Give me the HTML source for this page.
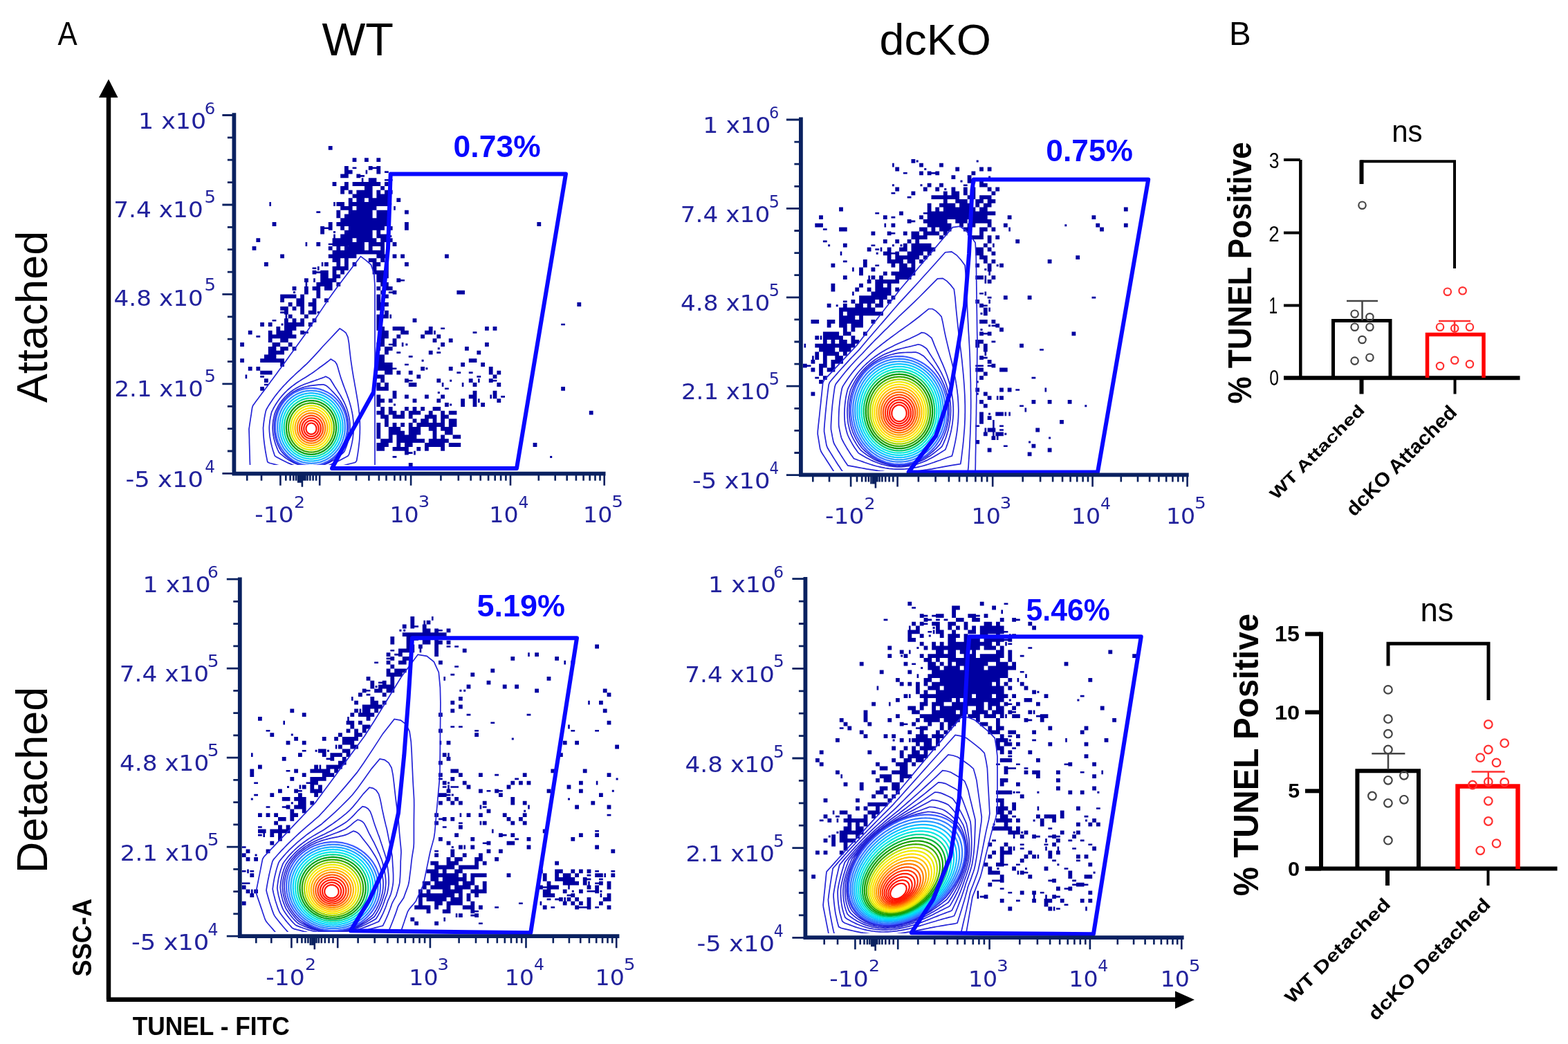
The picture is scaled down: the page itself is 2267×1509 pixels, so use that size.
<!DOCTYPE html>
<html><head><meta charset="utf-8"><style>html,body{margin:0;padding:0;background:#fff;}svg{display:block;}</style></head>
<body><svg width="2267" height="1509" viewBox="0 0 2267 1509">
<rect width="2267" height="1509" fill="#fff"/>
<text transform="translate(83.59,64.50) scale(0.8752,1)" font-family="'Liberation Sans', sans-serif" font-size="48.29" fill="#000" >A</text>
<text transform="translate(465.47,79.90) scale(0.9994,1)" font-family="'Liberation Sans', sans-serif" font-size="66.62" fill="#000" >WT</text>
<text transform="translate(1271.56,79.37) scale(1.0205,1)" font-family="'Liberation Sans', sans-serif" font-size="63.27" fill="#000" >dcKO</text>
<text transform="translate(1777.10,64.70) scale(0.9950,1)" font-family="'Liberation Sans', sans-serif" font-size="47.56" fill="#000" >B</text>
<text transform="translate(67.87,582.36) rotate(-90) scale(1.0017,1)" font-family="'Liberation Sans', sans-serif" font-size="62.86" fill="#000" >Attached</text>
<text transform="translate(67.68,1262.30) rotate(-90) scale(1.0132,1)" font-family="'Liberation Sans', sans-serif" font-size="62.18" fill="#000" >Detached</text>
<text transform="translate(132.31,1411.38) rotate(-90) scale(0.9323,1)" font-family="'Liberation Sans', sans-serif" font-size="38.73" font-weight="bold" fill="#000" >SSC-A</text>
<text transform="translate(191.65,1496.33) scale(0.9478,1)" font-family="'Liberation Sans', sans-serif" font-size="37.31" font-weight="bold" fill="#000" >TUNEL - FITC</text>
<path d="M157 1444.8 V138" stroke="#000" stroke-width="6.5" fill="none"/>
<path d="M154 1444.8 H1702" stroke="#000" stroke-width="6.5" fill="none"/>
<path d="M143 141 L157 114.5 L170.5 141 Z" fill="#000"/>
<path d="M1699 1432.5 L1727 1445 L1699 1458 Z" fill="#000"/>
<path d="M1880.3 231 V549" stroke="#000" stroke-width="4.5" fill="none"/>
<path d="M1856 546.3 H2197.5" stroke="#000" stroke-width="6" fill="none"/>
<path d="M1856 231 H1880" stroke="#000" stroke-width="4" fill="none"/>
<path d="M1856 336.5 H1880" stroke="#000" stroke-width="4" fill="none"/>
<path d="M1856 441.5 H1880" stroke="#000" stroke-width="4" fill="none"/>
<path d="M1856 546.3 H1880" stroke="#000" stroke-width="4" fill="none"/>
<text transform="translate(1834.71,242.98) scale(0.8341,1)" font-family="'Liberation Sans', sans-serif" font-size="31.80" fill="#000" >3</text>
<text transform="translate(1834.32,348.70) scale(0.8585,1)" font-family="'Liberation Sans', sans-serif" font-size="32.26" fill="#000" >2</text>
<text transform="translate(1834.50,452.60) scale(0.6924,1)" font-family="'Liberation Sans', sans-serif" font-size="32.73" fill="#000" >1</text>
<text transform="translate(1835.21,557.09) scale(0.8020,1)" font-family="'Liberation Sans', sans-serif" font-size="30.81" fill="#000" >0</text>
<path d="M1927.5 546 V463.5 H2010 V546" stroke="#000" stroke-width="5" fill="none"/>
<path d="M2063.5 546 V483.5 H2145 V546" stroke="#ff0000" stroke-width="5.5" fill="none"/>
<path d="M1969.5 463 V435 M1947 435 H1992" stroke="#444" stroke-width="2.5" fill="none"/>
<path d="M2103 482 V464 M2080 464 H2126" stroke="#ff3030" stroke-width="2.5" fill="none"/>
<path d="M1968.5 266 V233.3 H2103 V388" stroke="#000" stroke-width="4" fill="none"/>
<path d="M1968.5 266 V231.5" stroke="#000" stroke-width="6" fill="none"/>
<text transform="translate(2012.16,205.35) scale(0.9370,1)" font-family="'Liberation Sans', sans-serif" font-size="44.93" fill="#000" >ns</text>
<circle cx="1969.5" cy="296.7" r="5.2" fill="none" stroke="#444" stroke-width="2.2"/>
<circle cx="1958.6" cy="453.7" r="5.2" fill="none" stroke="#444" stroke-width="2.2"/>
<circle cx="1980.4" cy="458.3" r="5.2" fill="none" stroke="#444" stroke-width="2.2"/>
<circle cx="1958.6" cy="472.7" r="5.2" fill="none" stroke="#444" stroke-width="2.2"/>
<circle cx="1980.4" cy="472.7" r="5.2" fill="none" stroke="#444" stroke-width="2.2"/>
<circle cx="1969.5" cy="491.0" r="5.2" fill="none" stroke="#444" stroke-width="2.2"/>
<circle cx="1958.6" cy="521.6" r="5.2" fill="none" stroke="#444" stroke-width="2.2"/>
<circle cx="1980.4" cy="516.7" r="5.2" fill="none" stroke="#444" stroke-width="2.2"/>
<circle cx="2092.8" cy="421.7" r="5.2" fill="none" stroke="#ff3030" stroke-width="2.2"/>
<circle cx="2114.6" cy="420.3" r="5.2" fill="none" stroke="#ff3030" stroke-width="2.2"/>
<circle cx="2082.0" cy="472.7" r="5.2" fill="none" stroke="#ff3030" stroke-width="2.2"/>
<circle cx="2103.2" cy="474.6" r="5.2" fill="none" stroke="#ff3030" stroke-width="2.2"/>
<circle cx="2124.9" cy="472.7" r="5.2" fill="none" stroke="#ff3030" stroke-width="2.2"/>
<circle cx="2082.0" cy="529.0" r="5.2" fill="none" stroke="#ff3030" stroke-width="2.2"/>
<circle cx="2103.2" cy="520.8" r="5.2" fill="none" stroke="#ff3030" stroke-width="2.2"/>
<circle cx="2124.9" cy="526.3" r="5.2" fill="none" stroke="#ff3030" stroke-width="2.2"/>
<path d="M1968.5 549 V569.5" stroke="#000" stroke-width="6" fill="none"/>
<path d="M2103.5 549 V569.5" stroke="#000" stroke-width="4" fill="none"/>
<text transform="translate(1845.13,723.31) rotate(-45) scale(1.3000,1)" font-family="'Liberation Sans', sans-serif" font-size="23.13" font-weight="bold" fill="#000">WT Attached</text>
<text transform="translate(1957.84,747.80) rotate(-45) scale(1.0340,1)" font-family="'Liberation Sans', sans-serif" font-size="28.57" font-weight="bold" fill="#000">dcKO Attached</text>
<text transform="translate(1809.02,583.60) rotate(-90) scale(0.9244,1)" font-family="'Liberation Sans', sans-serif" font-size="47.62" font-weight="bold" fill="#000" >% TUNEL Positive</text>
<path d="M1910 913.5 V1258" stroke="#000" stroke-width="6" fill="none"/>
<path d="M1887 1255.5 H2251.5" stroke="#000" stroke-width="6" fill="none"/>
<path d="M1887 916.4 H1910" stroke="#000" stroke-width="6" fill="none"/>
<path d="M1887 1029.5 H1910" stroke="#000" stroke-width="6" fill="none"/>
<path d="M1887 1143.3 H1910" stroke="#000" stroke-width="6" fill="none"/>
<path d="M1887 1255.5 H1910" stroke="#000" stroke-width="6" fill="none"/>
<text transform="translate(1842.98,926.79) scale(1.0562,1)" font-family="'Liberation Sans', sans-serif" font-size="30.54" font-weight="bold" fill="#000" >15</text>
<text transform="translate(1842.96,1039.90) scale(1.0847,1)" font-family="'Liberation Sans', sans-serif" font-size="30.11" font-weight="bold" fill="#000" >10</text>
<text transform="translate(1862.29,1152.60) scale(1.0081,1)" font-family="'Liberation Sans', sans-serif" font-size="30.11" font-weight="bold" fill="#000" >5</text>
<text transform="translate(1861.97,1266.10) scale(1.0162,1)" font-family="'Liberation Sans', sans-serif" font-size="30.25" font-weight="bold" fill="#000" >0</text>
<path d="M1962.4 1256 V1114.2 H2051 V1256" stroke="#000" stroke-width="6" fill="none"/>
<path d="M2107.5 1256 V1136.5 H2194.5 V1256" stroke="#ff0000" stroke-width="6.5" fill="none"/>
<path d="M2007 1112 V1089.3 M1983.3 1089.3 H2031.4" stroke="#444" stroke-width="2.5" fill="none"/>
<path d="M2151.8 1134 V1115.6 M2127.6 1115.6 H2175.7" stroke="#ff3030" stroke-width="2.5" fill="none"/>
<path d="M2007 962.5 V930.3 H2152 V1012" stroke="#000" stroke-width="5" fill="none"/>
<text transform="translate(2053.42,898.32) scale(0.9485,1)" font-family="'Liberation Sans', sans-serif" font-size="48.04" fill="#000" >ns</text>
<circle cx="2006.9" cy="996.9" r="5.8" fill="none" stroke="#444" stroke-width="2.2"/>
<circle cx="2006.9" cy="1039.2" r="5.8" fill="none" stroke="#444" stroke-width="2.2"/>
<circle cx="2006.9" cy="1060.7" r="5.8" fill="none" stroke="#444" stroke-width="2.2"/>
<circle cx="2006.9" cy="1083.5" r="5.8" fill="none" stroke="#444" stroke-width="2.2"/>
<circle cx="2029.9" cy="1120.8" r="5.8" fill="none" stroke="#444" stroke-width="2.2"/>
<circle cx="2006.9" cy="1127.8" r="5.8" fill="none" stroke="#444" stroke-width="2.2"/>
<circle cx="1983.9" cy="1150.5" r="5.8" fill="none" stroke="#444" stroke-width="2.2"/>
<circle cx="2006.9" cy="1160.8" r="5.8" fill="none" stroke="#444" stroke-width="2.2"/>
<circle cx="2029.9" cy="1155.8" r="5.8" fill="none" stroke="#444" stroke-width="2.2"/>
<circle cx="2006.9" cy="1214.7" r="5.8" fill="none" stroke="#444" stroke-width="2.2"/>
<circle cx="2151.8" cy="1047.0" r="5.8" fill="none" stroke="#ff3030" stroke-width="2.2"/>
<circle cx="2175.2" cy="1074.2" r="5.8" fill="none" stroke="#ff3030" stroke-width="2.2"/>
<circle cx="2151.8" cy="1083.5" r="5.8" fill="none" stroke="#ff3030" stroke-width="2.2"/>
<circle cx="2140.2" cy="1095.1" r="5.8" fill="none" stroke="#ff3030" stroke-width="2.2"/>
<circle cx="2163.5" cy="1102.4" r="5.8" fill="none" stroke="#ff3030" stroke-width="2.2"/>
<circle cx="2129.0" cy="1134.5" r="5.8" fill="none" stroke="#ff3030" stroke-width="2.2"/>
<circle cx="2151.8" cy="1130.1" r="5.8" fill="none" stroke="#ff3030" stroke-width="2.2"/>
<circle cx="2175.2" cy="1130.7" r="5.8" fill="none" stroke="#ff3030" stroke-width="2.2"/>
<circle cx="2151.8" cy="1157.8" r="5.8" fill="none" stroke="#ff3030" stroke-width="2.2"/>
<circle cx="2151.8" cy="1187.0" r="5.8" fill="none" stroke="#ff3030" stroke-width="2.2"/>
<circle cx="2163.5" cy="1219.1" r="5.8" fill="none" stroke="#ff3030" stroke-width="2.2"/>
<circle cx="2140.2" cy="1229.3" r="5.8" fill="none" stroke="#ff3030" stroke-width="2.2"/>
<path d="M2006 1258 V1280" stroke="#000" stroke-width="6" fill="none"/>
<path d="M2151.5 1258 V1280" stroke="#000" stroke-width="4" fill="none"/>
<text transform="translate(1868.00,1452.07) rotate(-45) scale(1.2570,1)" font-family="'Liberation Sans', sans-serif" font-size="25.54" font-weight="bold" fill="#000">WT Detached</text>
<text transform="translate(1988.68,1476.59) rotate(-45) scale(1.2020,1)" font-family="'Liberation Sans', sans-serif" font-size="26.51" font-weight="bold" fill="#000">dcKO Detached</text>
<text transform="translate(1819.20,1295.29) rotate(-90) scale(0.9545,1)" font-family="'Liberation Sans', sans-serif" font-size="49.80" font-weight="bold" fill="#000" >% TUNEL Positive</text>
<g id="p1">
<path d="M474.8 210.9h5.8v5.8h-5.8zM509.6 228.3h5.8v5.8h-5.8zM527.0 228.3h5.8v5.8h-5.8zM544.4 228.3h5.8v5.8h-5.8zM498.0 239.9h5.8v5.8h-5.8zM509.6 241.5h5.8v2.6h-5.8zM532.8 239.9h5.8v5.8h-5.8zM538.6 241.5h5.8v2.6h-5.8zM544.4 239.9h5.8v5.8h-5.8zM498.0 245.7h5.8v5.8h-5.8zM503.8 245.7h5.8v5.8h-5.8zM528.6 245.7h2.6v5.8h-2.6zM544.4 245.7h5.8v5.8h-5.8zM556.0 247.3h5.8v2.6h-5.8zM492.2 251.5h5.8v5.8h-5.8zM498.0 251.5h5.8v5.8h-5.8zM515.4 251.5h5.8v5.8h-5.8zM521.2 253.1h5.8v2.6h-5.8zM563.2 252.9h3v3h-3zM522.8 257.3h2.6v5.8h-2.6zM532.8 257.3h5.8v5.8h-5.8zM538.6 257.3h5.8v5.8h-5.8zM556.0 258.9h5.8v2.6h-5.8zM561.8 258.9h5.8v2.6h-5.8zM480.6 263.1h5.8v5.8h-5.8zM498.0 263.1h5.8v5.8h-5.8zM509.6 263.1h5.8v5.8h-5.8zM515.4 263.1h5.8v5.8h-5.8zM521.2 263.1h5.8v5.8h-5.8zM527.0 263.1h5.8v5.8h-5.8zM532.8 263.1h5.8v5.8h-5.8zM538.6 263.1h5.8v5.8h-5.8zM544.4 263.1h5.8v5.8h-5.8zM556.0 263.1h5.8v5.8h-5.8zM492.2 268.9h5.8v5.8h-5.8zM498.0 268.9h5.8v5.8h-5.8zM527.0 268.9h5.8v5.8h-5.8zM532.8 268.9h5.8v5.8h-5.8zM550.2 268.9h5.8v5.8h-5.8zM492.2 274.7h5.8v5.8h-5.8zM503.8 274.7h5.8v5.8h-5.8zM515.4 274.7h5.8v5.8h-5.8zM521.2 274.7h5.8v5.8h-5.8zM527.0 274.7h5.8v5.8h-5.8zM532.8 274.7h5.8v5.8h-5.8zM544.4 274.7h5.8v5.8h-5.8zM556.0 274.7h5.8v5.8h-5.8zM561.8 274.7h5.8v5.8h-5.8zM509.6 280.5h5.8v5.8h-5.8zM515.4 280.5h5.8v5.8h-5.8zM521.2 280.5h5.8v5.8h-5.8zM527.0 280.5h5.8v5.8h-5.8zM532.8 280.5h5.8v5.8h-5.8zM544.4 280.5h5.8v5.8h-5.8zM550.2 280.5h5.8v5.8h-5.8zM556.0 280.5h5.8v5.8h-5.8zM503.8 286.3h5.8v5.8h-5.8zM515.4 286.3h5.8v5.8h-5.8zM521.2 286.3h5.8v5.8h-5.8zM532.8 286.3h5.8v5.8h-5.8zM538.6 286.3h5.8v5.8h-5.8zM544.4 286.3h5.8v5.8h-5.8zM550.2 286.3h5.8v5.8h-5.8zM556.0 286.3h5.8v5.8h-5.8zM573.4 286.3h5.8v5.8h-5.8zM389.4 292.1h2.6v5.8h-2.6zM482.2 292.1h2.6v5.8h-2.6zM486.4 292.1h5.8v5.8h-5.8zM492.2 292.1h5.8v5.8h-5.8zM503.8 292.1h5.8v5.8h-5.8zM509.6 292.1h5.8v5.8h-5.8zM515.4 292.1h5.8v5.8h-5.8zM521.2 292.1h5.8v5.8h-5.8zM527.0 292.1h5.8v5.8h-5.8zM532.8 292.1h5.8v5.8h-5.8zM538.6 292.1h5.8v5.8h-5.8zM544.4 292.1h5.8v5.8h-5.8zM550.2 292.1h5.8v5.8h-5.8zM556.0 292.1h5.8v5.8h-5.8zM563.2 293.5h3v3h-3zM492.2 297.9h5.8v5.8h-5.8zM498.0 297.9h5.8v5.8h-5.8zM503.8 297.9h5.8v5.8h-5.8zM515.4 297.9h5.8v5.8h-5.8zM521.2 297.9h5.8v5.8h-5.8zM527.0 297.9h5.8v5.8h-5.8zM532.8 297.9h5.8v5.8h-5.8zM538.6 297.9h5.8v5.8h-5.8zM569.2 297.9h2.6v5.8h-2.6zM457.4 305.3h5.8v2.6h-5.8zM486.4 303.7h5.8v5.8h-5.8zM503.8 303.7h5.8v5.8h-5.8zM509.6 303.7h5.8v5.8h-5.8zM515.4 303.7h5.8v5.8h-5.8zM521.2 303.7h5.8v5.8h-5.8zM527.0 303.7h5.8v5.8h-5.8zM532.8 303.7h5.8v5.8h-5.8zM544.4 303.7h5.8v5.8h-5.8zM550.2 303.7h5.8v5.8h-5.8zM556.0 303.7h5.8v5.8h-5.8zM585.0 303.7h5.8v5.8h-5.8zM486.4 309.5h5.8v5.8h-5.8zM498.0 309.5h5.8v5.8h-5.8zM503.8 309.5h5.8v5.8h-5.8zM509.6 309.5h5.8v5.8h-5.8zM515.4 309.5h5.8v5.8h-5.8zM521.2 309.5h5.8v5.8h-5.8zM527.0 309.5h5.8v5.8h-5.8zM532.8 309.5h5.8v5.8h-5.8zM544.4 309.5h5.8v5.8h-5.8zM550.2 309.5h5.8v5.8h-5.8zM556.0 309.5h5.8v5.8h-5.8zM492.2 315.3h5.8v5.8h-5.8zM498.0 315.3h5.8v5.8h-5.8zM503.8 315.3h5.8v5.8h-5.8zM509.6 315.3h5.8v5.8h-5.8zM515.4 315.3h5.8v5.8h-5.8zM521.2 315.3h5.8v5.8h-5.8zM527.0 315.3h5.8v5.8h-5.8zM532.8 315.3h5.8v5.8h-5.8zM538.6 315.3h5.8v5.8h-5.8zM544.4 315.3h5.8v5.8h-5.8zM550.2 315.3h5.8v5.8h-5.8zM556.0 315.3h5.8v5.8h-5.8zM393.6 321.1h5.8v5.8h-5.8zM474.8 321.1h5.8v5.8h-5.8zM486.4 321.1h5.8v5.8h-5.8zM492.2 321.1h5.8v5.8h-5.8zM498.0 321.1h5.8v5.8h-5.8zM503.8 321.1h5.8v5.8h-5.8zM509.6 321.1h5.8v5.8h-5.8zM515.4 321.1h5.8v5.8h-5.8zM521.2 321.1h5.8v5.8h-5.8zM527.0 321.1h5.8v5.8h-5.8zM532.8 321.1h5.8v5.8h-5.8zM538.6 321.1h5.8v5.8h-5.8zM544.4 321.1h5.8v5.8h-5.8zM550.2 321.1h5.8v5.8h-5.8zM556.0 321.1h5.8v5.8h-5.8zM585.0 321.1h5.8v5.8h-5.8zM776.4 321.1h5.8v5.8h-5.8zM463.2 326.9h5.8v5.8h-5.8zM469.0 328.5h5.8v2.6h-5.8zM474.8 326.9h5.8v5.8h-5.8zM492.2 326.9h5.8v5.8h-5.8zM503.8 326.9h5.8v5.8h-5.8zM509.6 326.9h5.8v5.8h-5.8zM515.4 326.9h5.8v5.8h-5.8zM521.2 326.9h5.8v5.8h-5.8zM527.0 326.9h5.8v5.8h-5.8zM532.8 326.9h5.8v5.8h-5.8zM538.6 326.9h5.8v5.8h-5.8zM544.4 326.9h5.8v5.8h-5.8zM550.2 326.9h5.8v5.8h-5.8zM561.8 326.9h5.8v5.8h-5.8zM585.0 326.9h5.8v5.8h-5.8zM463.2 332.7h5.8v5.8h-5.8zM482.0 334.1h3v3h-3zM498.0 332.7h5.8v5.8h-5.8zM503.8 332.7h5.8v5.8h-5.8zM509.6 332.7h5.8v5.8h-5.8zM515.4 332.7h5.8v5.8h-5.8zM521.2 332.7h5.8v5.8h-5.8zM527.0 332.7h5.8v5.8h-5.8zM532.8 332.7h5.8v5.8h-5.8zM544.4 332.7h5.8v5.8h-5.8zM482.2 338.5h2.6v5.8h-2.6zM492.2 338.5h5.8v5.8h-5.8zM498.0 338.5h5.8v5.8h-5.8zM503.8 338.5h5.8v5.8h-5.8zM509.6 338.5h5.8v5.8h-5.8zM515.4 338.5h5.8v5.8h-5.8zM521.2 338.5h5.8v5.8h-5.8zM527.0 338.5h5.8v5.8h-5.8zM532.8 338.5h5.8v5.8h-5.8zM544.4 338.5h5.8v5.8h-5.8zM550.2 338.5h5.8v5.8h-5.8zM556.0 338.5h5.8v5.8h-5.8zM563.2 339.9h3v3h-3zM370.4 344.3h5.8v5.8h-5.8zM480.6 344.3h5.8v5.8h-5.8zM486.4 344.3h5.8v5.8h-5.8zM492.2 344.3h5.8v5.8h-5.8zM498.0 344.3h5.8v5.8h-5.8zM503.8 344.3h5.8v5.8h-5.8zM515.4 344.3h5.8v5.8h-5.8zM521.2 344.3h5.8v5.8h-5.8zM527.0 344.3h5.8v5.8h-5.8zM532.8 344.3h5.8v5.8h-5.8zM538.6 344.3h5.8v5.8h-5.8zM550.2 344.3h5.8v5.8h-5.8zM556.0 344.3h5.8v5.8h-5.8zM561.8 344.3h5.8v5.8h-5.8zM441.6 350.1h2.6v5.8h-2.6zM457.4 350.1h5.8v5.8h-5.8zM474.8 351.7h5.8v2.6h-5.8zM480.6 350.1h5.8v5.8h-5.8zM486.4 350.1h5.8v5.8h-5.8zM492.2 350.1h5.8v5.8h-5.8zM498.0 350.1h5.8v5.8h-5.8zM503.8 350.1h5.8v5.8h-5.8zM509.6 350.1h5.8v5.8h-5.8zM515.4 350.1h5.8v5.8h-5.8zM521.2 350.1h5.8v5.8h-5.8zM532.8 350.1h5.8v5.8h-5.8zM538.6 350.1h5.8v5.8h-5.8zM544.4 350.1h5.8v5.8h-5.8zM550.2 350.1h5.8v5.8h-5.8zM567.6 350.1h5.8v5.8h-5.8zM364.6 355.9h5.8v5.8h-5.8zM474.8 355.9h5.8v5.8h-5.8zM486.4 355.9h5.8v5.8h-5.8zM498.0 355.9h5.8v5.8h-5.8zM503.8 355.9h5.8v5.8h-5.8zM509.6 355.9h5.8v5.8h-5.8zM515.4 355.9h5.8v5.8h-5.8zM521.2 355.9h5.8v5.8h-5.8zM532.8 355.9h5.8v5.8h-5.8zM550.2 355.9h5.8v5.8h-5.8zM480.6 361.7h5.8v5.8h-5.8zM486.4 361.7h5.8v5.8h-5.8zM492.2 361.7h5.8v5.8h-5.8zM498.0 361.7h5.8v5.8h-5.8zM503.8 361.7h5.8v5.8h-5.8zM509.6 361.7h5.8v5.8h-5.8zM515.4 361.7h5.8v5.8h-5.8zM521.2 361.7h5.8v5.8h-5.8zM527.0 361.7h5.8v5.8h-5.8zM532.8 361.7h5.8v5.8h-5.8zM538.6 361.7h5.8v5.8h-5.8zM544.4 361.7h5.8v5.8h-5.8zM550.2 361.7h5.8v5.8h-5.8zM405.2 367.5h5.8v5.8h-5.8zM474.8 367.5h5.8v5.8h-5.8zM480.6 367.5h5.8v5.8h-5.8zM486.4 367.5h5.8v5.8h-5.8zM492.2 367.5h5.8v5.8h-5.8zM498.0 367.5h5.8v5.8h-5.8zM503.8 367.5h5.8v5.8h-5.8zM509.6 367.5h5.8v5.8h-5.8zM544.4 367.5h5.8v5.8h-5.8zM550.2 367.5h5.8v5.8h-5.8zM556.0 367.5h5.8v5.8h-5.8zM567.6 367.5h5.8v5.8h-5.8zM579.2 367.5h5.8v5.8h-5.8zM643.0 367.5h5.8v5.8h-5.8zM480.6 373.3h5.8v5.8h-5.8zM486.4 373.3h5.8v5.8h-5.8zM498.0 373.3h5.8v5.8h-5.8zM532.8 373.3h5.8v5.8h-5.8zM538.6 373.3h5.8v5.8h-5.8zM550.2 373.3h5.8v5.8h-5.8zM382.0 379.1h5.8v5.8h-5.8zM464.8 379.1h2.6v5.8h-2.6zM469.0 379.1h5.8v5.8h-5.8zM486.4 379.1h5.8v5.8h-5.8zM498.0 379.1h5.8v5.8h-5.8zM509.6 379.1h5.8v5.8h-5.8zM538.6 379.1h5.8v5.8h-5.8zM544.4 379.1h5.8v5.8h-5.8zM556.0 379.1h5.8v5.8h-5.8zM585.0 379.1h5.8v5.8h-5.8zM451.6 386.5h5.8v2.6h-5.8zM459.0 384.9h2.6v5.8h-2.6zM480.6 384.9h5.8v5.8h-5.8zM486.4 384.9h5.8v5.8h-5.8zM492.2 384.9h5.8v5.8h-5.8zM498.0 384.9h5.8v5.8h-5.8zM538.6 384.9h5.8v5.8h-5.8zM556.0 384.9h5.8v5.8h-5.8zM451.6 390.7h5.8v5.8h-5.8zM457.4 392.3h5.8v2.6h-5.8zM463.2 390.7h5.8v5.8h-5.8zM469.0 390.7h5.8v5.8h-5.8zM480.6 390.7h5.8v5.8h-5.8zM492.2 390.7h5.8v5.8h-5.8zM538.6 390.7h5.8v5.8h-5.8zM544.4 390.7h5.8v5.8h-5.8zM550.2 390.7h5.8v5.8h-5.8zM556.0 390.7h5.8v5.8h-5.8zM463.2 396.5h5.8v5.8h-5.8zM469.0 396.5h5.8v5.8h-5.8zM480.6 396.5h5.8v5.8h-5.8zM486.4 396.5h5.8v5.8h-5.8zM544.4 396.5h5.8v5.8h-5.8zM550.2 396.5h5.8v5.8h-5.8zM556.0 396.5h5.8v5.8h-5.8zM440.0 402.3h5.8v5.8h-5.8zM453.2 402.3h2.6v5.8h-2.6zM463.2 402.3h5.8v5.8h-5.8zM469.0 402.3h5.8v5.8h-5.8zM474.8 402.3h5.8v5.8h-5.8zM480.6 402.3h5.8v5.8h-5.8zM544.4 402.3h5.8v5.8h-5.8zM550.2 402.3h5.8v5.8h-5.8zM573.4 402.3h5.8v5.8h-5.8zM579.2 403.9h5.8v2.6h-5.8zM441.6 408.1h2.6v5.8h-2.6zM457.4 408.1h5.8v5.8h-5.8zM463.2 408.1h5.8v5.8h-5.8zM469.0 408.1h5.8v5.8h-5.8zM474.8 408.1h5.8v5.8h-5.8zM486.4 408.1h5.8v5.8h-5.8zM550.2 408.1h5.8v5.8h-5.8zM556.0 408.1h5.8v5.8h-5.8zM422.6 413.9h5.8v5.8h-5.8zM440.0 413.9h5.8v5.8h-5.8zM451.6 413.9h5.8v5.8h-5.8zM457.4 413.9h5.8v5.8h-5.8zM469.0 413.9h5.8v5.8h-5.8zM474.8 413.9h5.8v5.8h-5.8zM544.4 413.9h5.8v5.8h-5.8zM556.0 413.9h5.8v5.8h-5.8zM561.8 413.9h5.8v5.8h-5.8zM424.0 421.1h3v3h-3zM440.0 419.7h5.8v5.8h-5.8zM457.4 419.7h5.8v5.8h-5.8zM550.2 419.7h5.8v5.8h-5.8zM561.8 421.3h5.8v2.6h-5.8zM567.6 419.7h5.8v5.8h-5.8zM660.4 419.7h5.8v5.8h-5.8zM666.2 419.7h5.8v5.8h-5.8zM405.2 425.5h5.8v5.8h-5.8zM411.0 425.5h5.8v5.8h-5.8zM416.8 425.5h5.8v5.8h-5.8zM422.6 425.5h5.8v5.8h-5.8zM434.2 425.5h5.8v5.8h-5.8zM457.4 425.5h5.8v5.8h-5.8zM544.4 425.5h5.8v5.8h-5.8zM556.0 425.5h5.8v5.8h-5.8zM405.2 431.3h5.8v5.8h-5.8zM428.4 431.3h5.8v5.8h-5.8zM434.2 431.3h5.8v5.8h-5.8zM451.6 431.3h5.8v5.8h-5.8zM469.0 431.3h5.8v5.8h-5.8zM544.4 431.3h5.8v5.8h-5.8zM416.8 437.1h5.8v5.8h-5.8zM428.4 437.1h5.8v5.8h-5.8zM434.2 437.1h5.8v5.8h-5.8zM445.8 437.1h5.8v5.8h-5.8zM451.6 437.1h5.8v5.8h-5.8zM544.4 437.1h5.8v5.8h-5.8zM550.2 437.1h5.8v5.8h-5.8zM556.0 437.1h5.8v5.8h-5.8zM834.4 437.1h5.8v5.8h-5.8zM405.2 442.9h5.8v5.8h-5.8zM411.0 442.9h5.8v5.8h-5.8zM422.6 442.9h5.8v5.8h-5.8zM434.2 442.9h5.8v5.8h-5.8zM451.6 442.9h5.8v5.8h-5.8zM544.4 442.9h5.8v5.8h-5.8zM550.2 442.9h5.8v5.8h-5.8zM405.2 450.3h5.8v2.6h-5.8zM411.0 448.7h5.8v5.8h-5.8zM434.2 448.7h5.8v5.8h-5.8zM445.8 448.7h5.8v5.8h-5.8zM451.6 448.7h5.8v5.8h-5.8zM458.8 450.1h3v3h-3zM556.0 448.7h5.8v5.8h-5.8zM412.6 454.5h2.6v5.8h-2.6zM416.8 454.5h5.8v5.8h-5.8zM440.0 454.5h5.8v5.8h-5.8zM544.4 454.5h5.8v5.8h-5.8zM550.2 454.5h5.8v5.8h-5.8zM556.0 454.5h5.8v5.8h-5.8zM563.4 454.5h2.6v5.8h-2.6zM393.6 461.9h5.8v2.6h-5.8zM411.0 460.3h5.8v5.8h-5.8zM422.6 460.3h5.8v5.8h-5.8zM434.2 460.3h5.8v5.8h-5.8zM451.6 460.3h5.8v5.8h-5.8zM544.4 460.3h5.8v5.8h-5.8zM596.6 460.3h5.8v5.8h-5.8zM376.2 466.1h5.8v5.8h-5.8zM387.8 466.1h5.8v5.8h-5.8zM406.6 467.5h3v3h-3zM411.0 466.1h5.8v5.8h-5.8zM416.8 466.1h5.8v5.8h-5.8zM422.6 466.1h5.8v5.8h-5.8zM428.4 466.1h5.8v5.8h-5.8zM434.2 466.1h5.8v5.8h-5.8zM445.8 466.1h5.8v5.8h-5.8zM544.4 466.1h5.8v5.8h-5.8zM811.2 467.7h5.8v2.6h-5.8zM399.4 471.9h5.8v5.8h-5.8zM411.0 471.9h5.8v5.8h-5.8zM416.8 471.9h5.8v5.8h-5.8zM422.6 471.9h5.8v5.8h-5.8zM544.4 471.9h5.8v5.8h-5.8zM550.2 471.9h5.8v5.8h-5.8zM567.6 471.9h5.8v5.8h-5.8zM573.4 471.9h5.8v5.8h-5.8zM579.2 471.9h5.8v5.8h-5.8zM619.8 471.9h5.8v5.8h-5.8zM637.2 473.5h5.8v2.6h-5.8zM701.0 471.9h5.8v5.8h-5.8zM712.6 471.9h5.8v5.8h-5.8zM358.8 477.7h5.8v5.8h-5.8zM387.8 477.7h5.8v5.8h-5.8zM399.4 477.7h5.8v5.8h-5.8zM405.2 477.7h5.8v5.8h-5.8zM411.0 477.7h5.8v5.8h-5.8zM416.8 477.7h5.8v5.8h-5.8zM434.2 477.7h5.8v5.8h-5.8zM440.0 479.3h5.8v2.6h-5.8zM550.2 477.7h5.8v5.8h-5.8zM556.0 477.7h5.8v5.8h-5.8zM579.2 477.7h5.8v5.8h-5.8zM585.0 477.7h5.8v5.8h-5.8zM614.0 477.7h5.8v5.8h-5.8zM619.8 477.7h5.8v5.8h-5.8zM627.2 477.7h2.6v5.8h-2.6zM683.6 479.3h5.8v2.6h-5.8zM370.4 485.1h5.8v2.6h-5.8zM387.8 483.5h5.8v5.8h-5.8zM393.6 483.5h5.8v5.8h-5.8zM399.4 483.5h5.8v5.8h-5.8zM405.2 483.5h5.8v5.8h-5.8zM411.0 483.5h5.8v5.8h-5.8zM416.8 483.5h5.8v5.8h-5.8zM422.6 483.5h5.8v5.8h-5.8zM550.2 483.5h5.8v5.8h-5.8zM556.0 483.5h5.8v5.8h-5.8zM573.4 483.5h5.8v5.8h-5.8zM608.2 483.5h5.8v5.8h-5.8zM631.4 483.5h5.8v5.8h-5.8zM387.8 489.3h5.8v5.8h-5.8zM405.2 489.3h5.8v5.8h-5.8zM411.0 489.3h5.8v5.8h-5.8zM550.2 489.3h5.8v5.8h-5.8zM567.6 489.3h5.8v5.8h-5.8zM625.6 489.3h5.8v5.8h-5.8zM648.8 489.3h5.8v5.8h-5.8zM347.2 495.1h5.8v5.8h-5.8zM393.6 495.1h5.8v5.8h-5.8zM399.4 495.1h5.8v5.8h-5.8zM416.8 495.1h5.8v5.8h-5.8zM544.4 495.1h5.8v5.8h-5.8zM550.2 495.1h5.8v5.8h-5.8zM561.8 496.7h5.8v2.6h-5.8zM567.6 495.1h5.8v5.8h-5.8zM580.8 495.1h2.6v5.8h-2.6zM586.4 496.5h3v3h-3zM637.2 495.1h5.8v5.8h-5.8zM701.0 495.1h5.8v5.8h-5.8zM387.8 500.9h5.8v5.8h-5.8zM393.6 500.9h5.8v5.8h-5.8zM405.2 500.9h5.8v5.8h-5.8zM411.0 500.9h5.8v5.8h-5.8zM422.6 500.9h5.8v5.8h-5.8zM544.4 500.9h5.8v5.8h-5.8zM556.0 500.9h5.8v5.8h-5.8zM561.8 500.9h5.8v5.8h-5.8zM632.8 502.3h3v3h-3zM672.0 500.9h5.8v5.8h-5.8zM387.8 506.7h5.8v5.8h-5.8zM393.6 506.7h5.8v5.8h-5.8zM399.4 506.7h5.8v5.8h-5.8zM405.2 506.7h5.8v5.8h-5.8zM556.0 506.7h5.8v5.8h-5.8zM573.4 508.3h5.8v2.6h-5.8zM619.8 506.7h5.8v5.8h-5.8zM631.4 508.3h5.8v2.6h-5.8zM689.4 506.7h5.8v5.8h-5.8zM382.0 512.5h5.8v5.8h-5.8zM387.8 512.5h5.8v5.8h-5.8zM393.6 512.5h5.8v5.8h-5.8zM544.4 512.5h5.8v5.8h-5.8zM550.2 512.5h5.8v5.8h-5.8zM590.8 514.1h5.8v2.6h-5.8zM347.2 518.3h5.8v5.8h-5.8zM376.2 518.3h5.8v5.8h-5.8zM382.0 518.3h5.8v5.8h-5.8zM387.8 518.3h5.8v5.8h-5.8zM393.6 518.3h5.8v5.8h-5.8zM399.4 518.3h5.8v5.8h-5.8zM405.2 518.3h5.8v5.8h-5.8zM544.4 518.3h5.8v5.8h-5.8zM550.2 518.3h5.8v5.8h-5.8zM609.6 519.7h3v3h-3zM677.8 518.3h5.8v5.8h-5.8zM683.6 518.3h5.8v5.8h-5.8zM405.2 524.1h5.8v5.8h-5.8zM544.4 524.1h5.8v5.8h-5.8zM550.2 524.1h5.8v5.8h-5.8zM556.0 524.1h5.8v5.8h-5.8zM561.8 524.1h5.8v5.8h-5.8zM585.0 525.7h5.8v2.6h-5.8zM666.2 524.1h5.8v5.8h-5.8zM695.2 524.1h5.8v5.8h-5.8zM358.8 529.9h5.8v5.8h-5.8zM370.4 529.9h5.8v5.8h-5.8zM544.4 529.9h5.8v5.8h-5.8zM550.2 529.9h5.8v5.8h-5.8zM556.0 529.9h5.8v5.8h-5.8zM561.8 529.9h5.8v5.8h-5.8zM567.6 531.5h5.8v2.6h-5.8zM608.2 529.9h5.8v5.8h-5.8zM615.4 531.3h3v3h-3zM648.8 529.9h5.8v5.8h-5.8zM706.8 529.9h5.8v5.8h-5.8zM376.2 535.7h5.8v5.8h-5.8zM382.0 535.7h5.8v5.8h-5.8zM387.8 535.7h5.8v5.8h-5.8zM556.0 535.7h5.8v5.8h-5.8zM561.8 535.7h5.8v5.8h-5.8zM573.4 535.7h5.8v5.8h-5.8zM590.8 535.7h5.8v5.8h-5.8zM660.4 537.3h5.8v2.6h-5.8zM677.8 537.3h5.8v2.6h-5.8zM706.8 535.7h5.8v5.8h-5.8zM718.4 535.7h5.8v5.8h-5.8zM354.6 541.5h2.6v5.8h-2.6zM376.2 543.1h5.8v2.6h-5.8zM544.4 541.5h5.8v5.8h-5.8zM550.2 541.5h5.8v5.8h-5.8zM602.4 541.5h5.8v5.8h-5.8zM689.4 543.1h5.8v2.6h-5.8zM712.6 541.5h5.8v5.8h-5.8zM382.0 547.3h5.8v5.8h-5.8zM550.2 547.3h5.8v5.8h-5.8zM585.0 547.3h5.8v5.8h-5.8zM590.8 548.9h5.8v2.6h-5.8zM631.4 547.3h5.8v5.8h-5.8zM650.2 548.7h3v3h-3zM677.8 547.3h5.8v5.8h-5.8zM691.0 547.3h2.6v5.8h-2.6zM706.8 547.3h5.8v5.8h-5.8zM712.6 548.9h5.8v2.6h-5.8zM382.0 554.7h5.8v2.6h-5.8zM544.4 553.1h5.8v5.8h-5.8zM556.0 553.1h5.8v5.8h-5.8zM590.8 553.1h5.8v5.8h-5.8zM596.6 553.1h5.8v5.8h-5.8zM638.8 553.1h2.6v5.8h-2.6zM667.8 553.1h2.6v5.8h-2.6zM683.6 553.1h5.8v5.8h-5.8zM718.4 553.1h5.8v5.8h-5.8zM376.2 558.9h5.8v5.8h-5.8zM544.4 558.9h5.8v5.8h-5.8zM550.2 558.9h5.8v5.8h-5.8zM556.0 558.9h5.8v5.8h-5.8zM643.0 560.5h5.8v2.6h-5.8zM811.2 558.9h5.8v5.8h-5.8zM567.6 564.7h5.8v5.8h-5.8zM632.8 566.1h3v3h-3zM683.6 564.7h5.8v5.8h-5.8zM712.6 564.7h5.8v5.8h-5.8zM544.4 570.5h5.8v5.8h-5.8zM567.6 570.5h5.8v5.8h-5.8zM585.0 570.5h5.8v5.8h-5.8zM614.0 570.5h5.8v5.8h-5.8zM637.2 570.5h5.8v5.8h-5.8zM677.8 570.5h5.8v5.8h-5.8zM683.6 570.5h5.8v5.8h-5.8zM708.4 570.5h2.6v5.8h-2.6zM712.6 570.5h5.8v5.8h-5.8zM724.2 572.1h5.8v2.6h-5.8zM544.4 576.3h5.8v5.8h-5.8zM550.2 576.3h5.8v5.8h-5.8zM561.8 576.3h5.8v5.8h-5.8zM596.6 576.3h5.8v5.8h-5.8zM631.4 576.3h5.8v5.8h-5.8zM666.2 576.3h5.8v5.8h-5.8zM683.6 576.3h5.8v5.8h-5.8zM691.0 576.3h2.6v5.8h-2.6zM718.4 576.3h5.8v5.8h-5.8zM544.4 582.1h5.8v5.8h-5.8zM569.0 583.5h3v3h-3zM643.0 582.1h5.8v5.8h-5.8zM650.2 583.5h3v3h-3zM666.2 582.1h5.8v5.8h-5.8zM683.6 582.1h5.8v5.8h-5.8zM695.2 582.1h5.8v5.8h-5.8zM550.2 587.9h5.8v5.8h-5.8zM561.8 587.9h5.8v5.8h-5.8zM585.0 587.9h5.8v5.8h-5.8zM596.6 587.9h5.8v5.8h-5.8zM608.2 587.9h5.8v5.8h-5.8zM625.6 587.9h5.8v5.8h-5.8zM631.4 587.9h5.8v5.8h-5.8zM544.4 593.7h5.8v5.8h-5.8zM550.2 593.7h5.8v5.8h-5.8zM561.8 593.7h5.8v5.8h-5.8zM567.6 593.7h5.8v5.8h-5.8zM579.2 593.7h5.8v5.8h-5.8zM590.8 593.7h5.8v5.8h-5.8zM596.6 593.7h5.8v5.8h-5.8zM602.4 593.7h5.8v5.8h-5.8zM619.8 593.7h5.8v5.8h-5.8zM637.2 593.7h5.8v5.8h-5.8zM648.8 593.7h5.8v5.8h-5.8zM654.6 593.7h5.8v5.8h-5.8zM851.8 593.7h5.8v5.8h-5.8zM550.2 599.5h5.8v5.8h-5.8zM556.0 599.5h5.8v5.8h-5.8zM567.6 599.5h5.8v5.8h-5.8zM573.4 599.5h5.8v5.8h-5.8zM579.2 599.5h5.8v5.8h-5.8zM590.8 599.5h5.8v5.8h-5.8zM614.0 599.5h5.8v5.8h-5.8zM619.8 599.5h5.8v5.8h-5.8zM625.6 599.5h5.8v5.8h-5.8zM637.2 599.5h5.8v5.8h-5.8zM643.0 599.5h5.8v5.8h-5.8zM556.0 605.3h5.8v5.8h-5.8zM596.6 605.3h5.8v5.8h-5.8zM608.2 605.3h5.8v5.8h-5.8zM614.0 605.3h5.8v5.8h-5.8zM625.6 605.3h5.8v5.8h-5.8zM637.2 605.3h5.8v5.8h-5.8zM648.8 605.3h5.8v5.8h-5.8zM654.6 605.3h5.8v5.8h-5.8zM544.4 611.1h5.8v5.8h-5.8zM556.0 611.1h5.8v5.8h-5.8zM567.6 611.1h5.8v5.8h-5.8zM579.2 611.1h5.8v5.8h-5.8zM590.8 611.1h5.8v5.8h-5.8zM602.4 611.1h5.8v5.8h-5.8zM608.2 611.1h5.8v5.8h-5.8zM614.0 611.1h5.8v5.8h-5.8zM619.8 611.1h5.8v5.8h-5.8zM625.6 611.1h5.8v5.8h-5.8zM631.4 611.1h5.8v5.8h-5.8zM637.2 611.1h5.8v5.8h-5.8zM648.8 611.1h5.8v5.8h-5.8zM654.6 611.1h5.8v5.8h-5.8zM544.4 616.9h5.8v5.8h-5.8zM561.8 616.9h5.8v5.8h-5.8zM567.6 616.9h5.8v5.8h-5.8zM573.4 616.9h5.8v5.8h-5.8zM590.8 616.9h5.8v5.8h-5.8zM596.6 616.9h5.8v5.8h-5.8zM602.4 616.9h5.8v5.8h-5.8zM619.8 616.9h5.8v5.8h-5.8zM625.6 616.9h5.8v5.8h-5.8zM637.2 616.9h5.8v5.8h-5.8zM643.0 616.9h5.8v5.8h-5.8zM648.8 616.9h5.8v5.8h-5.8zM544.4 622.7h5.8v5.8h-5.8zM561.8 622.7h5.8v5.8h-5.8zM567.6 622.7h5.8v5.8h-5.8zM573.4 622.7h5.8v5.8h-5.8zM579.2 622.7h5.8v5.8h-5.8zM590.8 622.7h5.8v5.8h-5.8zM596.6 622.7h5.8v5.8h-5.8zM602.4 622.7h5.8v5.8h-5.8zM625.6 622.7h5.8v5.8h-5.8zM643.0 622.7h5.8v5.8h-5.8zM648.8 622.7h5.8v5.8h-5.8zM544.4 628.5h5.8v5.8h-5.8zM561.8 628.5h5.8v5.8h-5.8zM573.4 628.5h5.8v5.8h-5.8zM579.2 628.5h5.8v5.8h-5.8zM585.0 628.5h5.8v5.8h-5.8zM590.8 628.5h5.8v5.8h-5.8zM596.6 628.5h5.8v5.8h-5.8zM625.6 628.5h5.8v5.8h-5.8zM637.2 628.5h5.8v5.8h-5.8zM654.6 628.5h5.8v5.8h-5.8zM660.4 628.5h5.8v5.8h-5.8zM550.2 634.3h5.8v5.8h-5.8zM556.0 634.3h5.8v5.8h-5.8zM561.8 634.3h5.8v5.8h-5.8zM573.4 634.3h5.8v5.8h-5.8zM579.2 634.3h5.8v5.8h-5.8zM585.0 634.3h5.8v5.8h-5.8zM590.8 634.3h5.8v5.8h-5.8zM596.6 634.3h5.8v5.8h-5.8zM602.4 634.3h5.8v5.8h-5.8zM608.2 634.3h5.8v5.8h-5.8zM619.8 634.3h5.8v5.8h-5.8zM625.6 634.3h5.8v5.8h-5.8zM631.4 634.3h5.8v5.8h-5.8zM637.2 634.3h5.8v5.8h-5.8zM643.0 634.3h5.8v5.8h-5.8zM544.4 640.1h5.8v5.8h-5.8zM550.2 640.1h5.8v5.8h-5.8zM556.0 640.1h5.8v5.8h-5.8zM573.4 640.1h5.8v5.8h-5.8zM585.0 640.1h5.8v5.8h-5.8zM590.8 640.1h5.8v5.8h-5.8zM614.0 640.1h5.8v5.8h-5.8zM619.8 640.1h5.8v5.8h-5.8zM625.6 640.1h5.8v5.8h-5.8zM631.4 640.1h5.8v5.8h-5.8zM637.2 640.1h5.8v5.8h-5.8zM648.8 640.1h5.8v5.8h-5.8zM654.6 640.1h5.8v5.8h-5.8zM660.4 640.1h5.8v5.8h-5.8zM770.6 640.1h5.8v5.8h-5.8zM544.4 645.9h5.8v5.8h-5.8zM550.2 645.9h5.8v5.8h-5.8zM567.6 645.9h5.8v5.8h-5.8zM573.4 645.9h5.8v5.8h-5.8zM579.2 645.9h5.8v5.8h-5.8zM585.0 645.9h5.8v5.8h-5.8zM602.4 645.9h5.8v5.8h-5.8zM614.0 645.9h5.8v5.8h-5.8zM637.2 645.9h5.8v5.8h-5.8zM585.0 651.7h5.8v5.8h-5.8zM590.8 653.3h5.8v2.6h-5.8zM598.2 651.7h2.6v5.8h-2.6zM567.6 659.1h5.8v2.6h-5.8zM795.2 658.9h3v3h-3zM590.8 669.1h5.8v5.8h-5.8z" fill="#0000a0"/>
<clipPath id="clip_p1"><rect x="341.4" y="163.3" width="537.1" height="508.7"/></clipPath>
<g clip-path="url(#clip_p1)" fill="none">
<path d="M542.0 620.0 542.0 623.2 542.0 626.4 542.0 629.7 542.0 632.9 542.0 636.2 542.0 639.6 542.0 642.9 542.0 646.4 542.0 649.9 542.0 653.5 542.0 657.2 542.0 661.0 542.0 664.9 542.0 668.9 542.0 673.1 542.0 677.5 542.0 682.1 542.0 686.8 539.6 690.0 533.4 690.0 527.7 690.0 522.5 690.0 517.6 690.0 513.0 690.0 508.7 690.0 504.7 690.0 500.9 690.0 497.2 690.0 493.7 690.0 490.4 690.0 487.2 690.0 484.1 690.0 481.2 690.0 478.3 690.0 475.5 690.0 472.7 690.0 470.1 690.0 467.5 690.0 464.9 690.0 462.3 690.0 459.8 690.0 457.4 690.0 454.9 690.0 452.4 690.0 450.0 690.0 447.6 690.0 445.1 690.0 442.6 690.0 440.2 690.0 437.7 690.0 435.1 690.0 432.5 690.0 429.9 690.0 427.3 690.0 424.5 690.0 421.7 690.0 418.8 690.0 415.9 690.0 412.8 690.0 409.6 690.0 406.3 690.0 402.8 690.0 399.1 690.0 395.3 690.0 391.3 690.0 387.0 690.0 382.4 690.0 377.5 690.0 372.3 690.0 366.6 690.0 362.0 688.8 361.8 684.1 361.7 679.6 361.6 675.3 361.5 671.1 361.3 667.1 361.2 663.3 361.1 659.6 361.0 655.9 360.9 652.4 360.8 649.0 360.7 645.6 360.6 642.3 360.5 639.0 360.5 635.8 360.4 632.6 360.3 629.4 360.2 626.3 360.1 623.1 360.0 620.0 360.5 616.9 360.9 613.8 361.4 610.7 361.9 607.6 362.3 604.5 362.8 601.5 363.3 598.4 363.7 595.3 364.2 592.1 364.7 589.0 365.8 586.0 367.7 583.4 369.6 580.8 371.5 578.3 373.4 575.8 375.2 573.3 377.1 570.8 378.9 568.3 380.7 565.9 382.6 563.4 384.4 560.9 386.3 558.4 388.1 555.9 390.0 553.4 391.9 550.8 393.9 548.2 395.9 545.5 397.9 542.8 400.0 540.0 402.1 537.1 404.3 534.1 406.6 531.0 408.9 527.7 411.4 524.4 413.9 520.9 416.6 517.2 419.4 513.3 422.4 509.2 425.5 504.9 428.9 500.3 432.5 495.3 436.3 490.0 440.5 484.2 445.0 477.5 450.0 470.0 455.5 461.7 461.7 452.4 468.7 441.9 476.7 429.9 485.7 417.5 495.9 404.0 507.7 388.5 521.5 370.6 529.2 376.3 536.4 382.6 540.8 395.2 542.0 413.4 542.0 431.4 542.0 447.0 542.0 460.7 542.0 472.8 542.0 483.6 542.0 493.4 542.0 502.2 542.0 510.4 542.0 517.8 542.0 524.7 542.0 531.2 542.0 537.2 542.0 542.8 542.0 548.1 542.0 553.2 542.0 557.9 542.0 562.5 542.0 566.9 542.0 571.1 542.0 575.1 542.0 579.0 542.0 582.8 542.0 586.5 542.0 590.1 542.0 593.6 542.0 597.1 542.0 600.4 542.0 603.8 542.0 607.1 542.0 610.3 542.0 613.6 542.0 616.8ZM520.4 618.4 520.4 620.8 520.3 623.3 520.3 625.8 520.2 628.2 520.0 630.7 519.9 633.2 519.7 635.8 519.5 638.3 519.2 640.9 518.9 643.5 518.6 646.1 518.3 648.8 517.9 651.5 517.5 654.3 517.1 657.1 516.6 660.0 516.1 663.0 515.6 666.0 513.9 668.3 510.5 669.2 507.3 670.0 504.2 670.8 501.3 671.5 498.5 672.3 495.8 673.0 493.2 673.7 490.7 674.4 488.2 675.0 485.8 675.7 483.4 676.3 481.1 676.8 478.8 677.4 476.5 677.8 474.2 678.3 472.0 678.7 469.7 679.1 467.5 679.5 465.3 679.8 463.1 680.1 460.9 680.3 458.7 680.5 456.5 680.6 454.4 680.7 452.2 680.8 450.0 680.8 447.8 680.8 445.6 680.7 443.5 680.6 441.3 680.5 439.1 680.3 436.9 680.1 434.7 679.8 432.5 679.5 430.3 679.1 428.0 678.7 425.8 678.3 423.5 677.8 421.2 677.4 418.9 676.8 416.6 676.3 414.2 675.7 411.8 675.0 409.3 674.4 406.8 673.7 404.2 673.0 401.5 672.3 398.7 671.5 395.8 670.8 392.7 670.0 389.5 669.2 386.8 667.8 386.2 664.8 385.6 661.8 385.0 659.0 384.5 656.2 384.0 653.5 383.6 650.8 383.2 648.1 382.8 645.5 382.4 643.0 382.1 640.4 381.8 637.9 381.5 635.4 381.3 633.0 381.1 630.5 380.9 628.1 380.8 625.7 380.7 623.2 380.6 620.8 380.5 618.4 380.8 616.0 381.0 613.6 381.3 611.2 381.6 608.8 382.0 606.4 382.3 604.0 382.8 601.6 383.2 599.2 383.7 596.8 384.2 594.4 385.0 592.1 386.2 590.0 387.4 587.9 388.7 585.8 390.0 583.7 391.3 581.7 392.7 579.7 394.0 577.7 395.4 575.7 396.8 573.8 398.3 571.8 399.8 569.9 401.3 568.0 402.9 566.0 404.5 564.1 406.1 562.2 407.8 560.3 409.5 558.4 411.3 556.5 413.2 554.6 415.0 552.6 417.0 550.7 419.0 548.7 421.0 546.7 423.2 544.6 425.4 542.5 427.6 540.4 430.0 538.2 432.5 536.0 435.1 533.6 437.7 531.1 440.6 528.5 443.5 525.8 446.7 522.6 450.0 519.1 453.6 515.3 457.5 511.1 461.8 506.4 466.5 501.0 471.7 495.5 477.4 489.5 483.8 482.7 491.2 474.8 495.7 477.7 500.0 481.0 503.0 487.3 504.5 496.1 505.4 504.8 506.3 512.5 507.1 519.4 508.0 525.6 508.8 531.2 509.6 536.3 510.4 541.1 511.1 545.5 511.9 549.7 512.6 553.6 513.2 557.3 513.9 560.9 514.5 564.3 515.0 567.6 515.6 570.7 516.1 573.8 516.6 576.8 517.1 579.7 517.5 582.5 517.9 585.3 518.3 588.0 518.6 590.7 518.9 593.3 519.2 595.9 519.5 598.5 519.7 601.0 519.9 603.5 520.0 606.0 520.2 608.5 520.3 611.0 520.3 613.5 520.4 615.9ZM511.2 617.7 511.2 619.8 511.1 622.0 511.0 624.1 510.9 626.2 510.7 628.4 510.4 630.5 510.2 632.7 509.9 634.9 509.5 637.0 509.1 639.2 508.6 641.4 508.2 643.6 507.6 645.8 507.1 648.0 506.4 650.3 505.8 652.6 505.1 654.9 504.4 657.2 503.0 659.1 500.8 660.3 498.6 661.4 496.5 662.6 494.4 663.7 492.4 664.7 490.4 665.8 488.4 666.8 486.4 667.8 484.4 668.7 482.4 669.6 480.4 670.4 478.5 671.2 476.5 672.0 474.5 672.7 472.5 673.3 470.5 673.9 468.5 674.5 466.4 675.0 464.4 675.4 462.4 675.8 460.3 676.2 458.3 676.4 456.2 676.6 454.1 676.8 452.1 676.9 450.0 676.9 447.9 676.9 445.9 676.8 443.8 676.6 441.7 676.4 439.7 676.2 437.6 675.8 435.6 675.4 433.6 675.0 431.5 674.5 429.5 673.9 427.5 673.3 425.5 672.7 423.5 672.0 421.5 671.2 419.6 670.4 417.6 669.6 415.6 668.7 413.6 667.8 411.6 666.8 409.6 665.8 407.6 664.7 405.6 663.7 403.5 662.6 401.4 661.4 399.2 660.3 397.3 658.8 396.5 656.5 395.8 654.3 395.0 652.0 394.3 649.8 393.7 647.6 393.1 645.4 392.6 643.3 392.0 641.1 391.6 639.0 391.2 636.8 390.8 634.7 390.4 632.5 390.1 630.4 389.9 628.3 389.7 626.2 389.5 624.0 389.4 621.9 389.3 619.8 389.3 617.7 389.4 615.6 389.6 613.5 389.8 611.4 390.0 609.3 390.3 607.2 390.7 605.1 391.0 603.0 391.5 600.9 391.9 598.8 392.4 596.7 393.1 594.7 394.1 592.8 395.0 590.9 396.0 589.0 397.1 587.1 398.2 585.3 399.3 583.5 400.5 581.7 401.7 579.9 402.9 578.2 404.2 576.4 405.5 574.7 406.9 573.1 408.3 571.4 409.8 569.8 411.3 568.2 412.9 566.6 414.5 565.0 416.1 563.5 417.8 562.0 419.6 560.5 421.4 559.0 423.2 557.6 425.1 556.2 427.1 554.7 429.1 553.3 431.1 552.0 433.3 550.6 435.4 549.2 437.7 547.8 440.0 546.4 442.4 545.0 444.8 543.5 447.4 541.8 450.0 540.1 452.8 538.2 455.7 536.1 458.8 533.9 462.1 531.3 465.7 528.7 469.5 526.0 473.7 522.8 478.3 519.1 481.4 520.9 484.5 522.9 486.9 526.5 488.5 531.3 489.8 536.1 491.1 540.5 492.3 544.4 493.5 548.1 494.7 551.4 495.8 554.6 496.9 557.6 498.0 560.5 499.0 563.2 500.0 565.9 501.0 568.5 501.9 571.0 502.7 573.4 503.6 575.8 504.4 578.2 505.1 580.5 505.8 582.8 506.4 585.1 507.1 587.3 507.6 589.6 508.2 591.8 508.6 594.0 509.1 596.2 509.5 598.4 509.9 600.5 510.2 602.7 510.4 604.8 510.7 607.0 510.9 609.1 511.0 611.3 511.1 613.4 511.2 615.6ZM506.0 617.3 506.0 619.3 505.9 621.2 505.8 623.2 505.6 625.1 505.4 627.1 505.1 629.0 504.8 631.0 504.4 632.9 504.0 634.8 503.5 636.8 503.0 638.7 502.4 640.7 501.8 642.6 501.2 644.5 500.4 646.4 499.7 648.3 498.9 650.3 498.0 652.2 496.8 653.9 495.3 655.3 493.7 656.6 492.1 657.9 490.5 659.2 488.9 660.5 487.3 661.7 485.6 662.9 483.9 664.0 482.2 665.1 480.5 666.1 478.8 667.1 477.0 668.0 475.2 668.9 473.4 669.7 471.5 670.5 469.6 671.2 467.7 671.9 465.8 672.5 463.9 673.0 461.9 673.4 460.0 673.8 458.0 674.1 456.0 674.4 454.0 674.6 452.0 674.7 450.0 674.7 448.0 674.7 446.0 674.6 444.0 674.4 442.0 674.1 440.0 673.8 438.1 673.4 436.1 673.0 434.2 672.5 432.3 671.9 430.4 671.2 428.5 670.5 426.6 669.7 424.8 668.9 423.0 668.0 421.2 667.1 419.5 666.1 417.8 665.1 416.1 664.0 414.4 662.9 412.7 661.7 411.1 660.5 409.5 659.2 407.9 657.9 406.3 656.6 404.7 655.3 403.3 653.8 402.4 651.9 401.5 650.0 400.7 648.1 399.9 646.2 399.2 644.3 398.5 642.4 397.9 640.5 397.3 638.6 396.8 636.7 396.3 634.8 395.8 632.8 395.5 630.9 395.1 629.0 394.9 627.0 394.6 625.1 394.4 623.1 394.3 621.2 394.2 619.2 394.2 617.3 394.3 615.4 394.4 613.4 394.6 611.5 394.8 609.5 395.0 607.6 395.4 605.7 395.7 603.8 396.2 601.9 396.6 600.0 397.1 598.1 397.8 596.2 398.5 594.4 399.3 592.6 400.2 590.8 401.1 589.1 402.0 587.3 403.0 585.6 404.1 583.9 405.2 582.3 406.3 580.7 407.5 579.1 408.8 577.5 410.1 576.0 411.4 574.5 412.8 573.0 414.3 571.6 415.7 570.2 417.3 568.8 418.9 567.5 420.5 566.2 422.2 565.0 423.9 563.8 425.7 562.6 427.5 561.5 429.3 560.5 431.2 559.4 433.1 558.5 435.1 557.5 437.1 556.7 439.2 555.8 441.2 555.0 443.4 554.2 445.5 553.5 447.7 552.7 450.0 551.9 452.3 551.1 454.7 550.3 457.1 549.4 459.7 548.5 462.3 547.5 465.0 546.6 467.9 545.5 471.0 544.2 473.4 545.4 475.7 546.6 477.8 548.6 479.4 551.2 481.0 553.8 482.5 556.3 483.9 558.6 485.3 560.8 486.7 562.9 488.0 564.9 489.3 567.0 490.6 568.9 491.8 570.9 492.9 572.8 494.0 574.8 495.1 576.7 496.1 578.6 497.1 580.5 498.0 582.4 498.9 584.3 499.7 586.3 500.4 588.2 501.2 590.1 501.8 592.0 502.4 593.9 503.0 595.9 503.5 597.8 504.0 599.8 504.4 601.7 504.8 603.6 505.1 605.6 505.4 607.5 505.6 609.5 505.8 611.4 505.9 613.4 506.0 615.3ZM503.6 617.1 503.6 619.0 503.5 620.9 503.4 622.7 503.2 624.6 502.9 626.5 502.7 628.3 502.3 630.2 501.9 632.0 501.5 633.8 501.0 635.7 500.4 637.5 499.8 639.3 499.2 641.1 498.4 642.9 497.7 644.6 496.9 646.4 496.0 648.1 495.1 649.9 494.0 651.5 492.7 653.0 491.4 654.4 490.1 655.8 488.7 657.2 487.3 658.5 485.8 659.8 484.3 661.1 482.8 662.3 481.2 663.4 479.6 664.5 478.0 665.6 476.3 666.6 474.6 667.5 472.8 668.4 471.0 669.2 469.2 670.0 467.4 670.7 465.5 671.3 463.6 671.8 461.7 672.3 459.8 672.7 457.9 673.1 455.9 673.3 453.9 673.5 452.0 673.6 450.0 673.7 448.0 673.6 446.1 673.5 444.1 673.3 442.1 673.1 440.2 672.7 438.3 672.3 436.4 671.8 434.5 671.3 432.6 670.7 430.8 670.0 429.0 669.2 427.2 668.4 425.4 667.5 423.7 666.6 422.0 665.6 420.4 664.5 418.8 663.4 417.2 662.3 415.7 661.1 414.2 659.8 412.7 658.5 411.3 657.2 409.9 655.8 408.6 654.4 407.3 653.0 406.1 651.4 405.1 649.7 404.2 648.0 403.3 646.3 402.5 644.6 401.7 642.8 401.0 641.0 400.3 639.2 399.7 637.4 399.1 635.6 398.6 633.8 398.2 632.0 397.8 630.1 397.4 628.3 397.2 626.4 396.9 624.6 396.7 622.7 396.6 620.9 396.5 619.0 396.5 617.1 396.5 615.3 396.6 613.4 396.8 611.5 397.0 609.7 397.2 607.8 397.5 606.0 397.9 604.1 398.3 602.3 398.8 600.5 399.3 598.7 399.9 596.9 400.6 595.1 401.3 593.4 402.1 591.7 402.9 589.9 403.8 588.3 404.8 586.6 405.8 585.0 406.8 583.4 407.9 581.8 409.1 580.3 410.3 578.8 411.5 577.3 412.9 575.9 414.2 574.5 415.6 573.1 417.1 571.8 418.6 570.5 420.1 569.3 421.7 568.1 423.4 567.0 425.0 566.0 426.8 565.0 428.5 564.0 430.3 563.1 432.2 562.3 434.0 561.5 435.9 560.8 437.9 560.1 439.8 559.5 441.8 559.0 443.8 558.5 445.9 558.1 447.9 557.7 450.0 557.4 452.1 557.1 454.2 556.8 456.4 556.6 458.5 556.4 460.7 556.2 463.0 556.1 465.3 555.9 467.6 555.8 469.7 556.6 471.7 557.6 473.5 558.8 475.3 560.4 476.9 562.0 478.5 563.5 480.0 565.1 481.6 566.6 483.0 568.2 484.4 569.7 485.8 571.3 487.1 572.8 488.4 574.4 489.7 576.0 490.8 577.7 492.0 579.3 493.1 581.0 494.1 582.7 495.1 584.4 496.0 586.1 496.9 587.8 497.7 589.6 498.4 591.4 499.2 593.1 499.8 594.9 500.4 596.7 501.0 598.6 501.5 600.4 501.9 602.2 502.3 604.1 502.7 605.9 502.9 607.8 503.2 609.6 503.4 611.5 503.5 613.4 503.6 615.2Z" stroke="#2424d6" stroke-width="1.7"/>
<path d="M502.0 617.0 502.0 618.8 501.9 620.6 501.8 622.4 501.6 624.2 501.3 626.0 501.0 627.8 500.7 629.6 500.2 631.4 499.8 633.2 499.3 634.9 498.7 636.7 498.1 638.4 497.4 640.1 496.6 641.8 495.8 643.5 495.0 645.1 494.1 646.7 493.1 648.3 492.1 649.9 491.0 651.4 489.9 652.9 488.7 654.4 487.5 655.8 486.2 657.2 484.9 658.5 483.5 659.9 482.0 661.1 480.6 662.3 479.0 663.5 477.5 664.6 475.8 665.6 474.2 666.6 472.5 667.5 470.7 668.3 469.0 669.1 467.2 669.9 465.3 670.5 463.5 671.1 461.6 671.6 459.7 672.0 457.8 672.4 455.8 672.6 453.9 672.8 452.0 673.0 450.0 673.0 448.0 673.0 446.1 672.8 444.2 672.6 442.2 672.4 440.3 672.0 438.4 671.6 436.5 671.1 434.7 670.5 432.8 669.9 431.0 669.1 429.3 668.3 427.5 667.5 425.8 666.6 424.2 665.6 422.5 664.6 421.0 663.5 419.4 662.3 418.0 661.1 416.5 659.9 415.1 658.5 413.8 657.2 412.5 655.8 411.3 654.4 410.1 652.9 409.0 651.4 407.9 649.9 406.9 648.3 405.9 646.7 405.0 645.1 404.2 643.5 403.4 641.8 402.6 640.1 401.9 638.4 401.3 636.7 400.7 634.9 400.2 633.2 399.8 631.4 399.3 629.6 399.0 627.8 398.7 626.0 398.4 624.2 398.2 622.4 398.1 620.6 398.0 618.8 398.0 617.0 398.0 615.2 398.1 613.4 398.2 611.6 398.4 609.8 398.7 608.0 399.0 606.2 399.3 604.4 399.8 602.6 400.2 600.8 400.7 599.1 401.3 597.3 401.9 595.6 402.6 593.9 403.4 592.2 404.2 590.5 405.0 588.9 405.9 587.3 406.9 585.7 407.9 584.1 409.0 582.6 410.1 581.1 411.3 579.6 412.5 578.2 413.8 576.8 415.1 575.5 416.5 574.1 418.0 572.9 419.4 571.7 421.0 570.5 422.5 569.4 424.2 568.4 425.8 567.4 427.5 566.5 429.3 565.7 431.0 564.9 432.8 564.1 434.7 563.5 436.5 562.9 438.4 562.4 440.3 562.0 442.2 561.6 444.2 561.4 446.1 561.2 448.0 561.0 450.0 561.0 452.0 561.0 453.9 561.2 455.8 561.4 457.8 561.6 459.7 562.0 461.6 562.4 463.5 562.9 465.3 563.5 467.2 564.1 469.0 564.9 470.7 565.7 472.5 566.5 474.2 567.4 475.8 568.4 477.5 569.4 479.0 570.5 480.6 571.7 482.0 572.9 483.5 574.1 484.9 575.5 486.2 576.8 487.5 578.2 488.7 579.6 489.9 581.1 491.0 582.6 492.1 584.1 493.1 585.7 494.1 587.3 495.0 588.9 495.8 590.5 496.6 592.2 497.4 593.9 498.1 595.6 498.7 597.3 499.3 599.1 499.8 600.8 500.2 602.6 500.7 604.4 501.0 606.2 501.3 608.0 501.6 609.8 501.8 611.6 501.9 613.4 502.0 615.2Z" stroke="#3c5aff" stroke-width="2.2"/>
<path d="M498.8 617.2 498.8 618.9 498.7 620.6 498.6 622.3 498.4 624.0 498.2 625.7 497.9 627.4 497.6 629.0 497.2 630.7 496.7 632.4 496.3 634.0 495.7 635.7 495.1 637.3 494.5 638.9 493.8 640.5 493.0 642.0 492.2 643.6 491.4 645.1 490.5 646.6 489.5 648.1 488.5 649.5 487.5 650.9 486.3 652.3 485.2 653.6 484.0 654.9 482.7 656.2 481.4 657.4 480.1 658.6 478.7 659.7 477.3 660.8 475.8 661.8 474.3 662.8 472.7 663.7 471.1 664.6 469.5 665.4 467.8 666.1 466.1 666.8 464.4 667.4 462.7 668.0 460.9 668.4 459.1 668.8 457.3 669.2 455.5 669.4 453.7 669.6 451.8 669.7 450.0 669.8 448.2 669.7 446.3 669.6 444.5 669.4 442.7 669.2 440.9 668.8 439.1 668.4 437.3 668.0 435.6 667.4 433.9 666.8 432.2 666.1 430.5 665.4 428.9 664.6 427.3 663.7 425.7 662.8 424.2 661.8 422.7 660.8 421.3 659.7 419.9 658.6 418.6 657.4 417.3 656.2 416.0 654.9 414.8 653.6 413.7 652.3 412.5 650.9 411.5 649.5 410.5 648.1 409.5 646.6 408.6 645.1 407.8 643.6 407.0 642.0 406.2 640.5 405.5 638.9 404.9 637.3 404.3 635.7 403.7 634.0 403.3 632.4 402.8 630.7 402.4 629.0 402.1 627.4 401.8 625.7 401.6 624.0 401.4 622.3 401.3 620.6 401.2 618.9 401.2 617.2 401.2 615.5 401.3 613.8 401.4 612.1 401.6 610.4 401.8 608.7 402.1 607.0 402.4 605.3 402.8 603.7 403.3 602.0 403.7 600.3 404.3 598.7 404.9 597.1 405.5 595.5 406.2 593.9 407.0 592.3 407.8 590.8 408.6 589.3 409.5 587.8 410.5 586.3 411.5 584.9 412.5 583.5 413.7 582.1 414.8 580.7 416.0 579.4 417.3 578.2 418.6 577.0 419.9 575.8 421.3 574.6 422.7 573.6 424.2 572.5 425.7 571.6 427.3 570.6 428.9 569.8 430.5 569.0 432.2 568.2 433.9 567.6 435.6 566.9 437.3 566.4 439.1 565.9 440.9 565.5 442.7 565.2 444.5 564.9 446.3 564.8 448.2 564.6 450.0 564.6 451.8 564.6 453.7 564.8 455.5 564.9 457.3 565.2 459.1 565.5 460.9 565.9 462.7 566.4 464.4 566.9 466.1 567.6 467.8 568.2 469.5 569.0 471.1 569.8 472.7 570.6 474.3 571.6 475.8 572.5 477.3 573.6 478.7 574.6 480.1 575.8 481.4 577.0 482.7 578.2 484.0 579.4 485.2 580.7 486.3 582.1 487.5 583.5 488.5 584.9 489.5 586.3 490.5 587.8 491.4 589.3 492.2 590.8 493.0 592.3 493.8 593.9 494.5 595.5 495.1 597.1 495.7 598.7 496.3 600.3 496.7 602.0 497.2 603.7 497.6 605.3 497.9 607.0 498.2 608.7 498.4 610.4 498.6 612.1 498.7 613.8 498.8 615.5Z" stroke="#2d88ff" stroke-width="2.2"/>
<path d="M495.6 617.4 495.6 619.0 495.5 620.6 495.4 622.1 495.3 623.7 495.0 625.3 494.8 626.9 494.5 628.5 494.1 630.0 493.7 631.6 493.2 633.1 492.7 634.6 492.2 636.1 491.6 637.6 490.9 639.1 490.2 640.6 489.5 642.0 488.7 643.5 487.8 644.9 486.9 646.2 486.0 647.6 485.0 648.9 484.0 650.2 482.9 651.4 481.8 652.7 480.6 653.8 479.4 655.0 478.1 656.1 476.8 657.1 475.5 658.1 474.1 659.1 472.7 660.0 471.2 660.9 469.7 661.7 468.2 662.4 466.7 663.1 465.1 663.8 463.5 664.3 461.8 664.8 460.2 665.3 458.5 665.7 456.8 666.0 455.1 666.2 453.4 666.4 451.7 666.5 450.0 666.5 448.3 666.5 446.6 666.4 444.9 666.2 443.2 666.0 441.5 665.7 439.8 665.3 438.2 664.8 436.5 664.3 434.9 663.8 433.3 663.1 431.8 662.4 430.3 661.7 428.8 660.9 427.3 660.0 425.9 659.1 424.5 658.1 423.2 657.1 421.9 656.1 420.6 655.0 419.4 653.8 418.2 652.7 417.1 651.4 416.0 650.2 415.0 648.9 414.0 647.6 413.1 646.2 412.2 644.9 411.3 643.5 410.5 642.0 409.8 640.6 409.1 639.1 408.4 637.6 407.8 636.1 407.3 634.6 406.8 633.1 406.3 631.6 405.9 630.0 405.5 628.5 405.2 626.9 405.0 625.3 404.7 623.7 404.6 622.1 404.5 620.6 404.4 619.0 404.4 617.4 404.4 615.8 404.5 614.2 404.6 612.6 404.7 611.0 405.0 609.4 405.2 607.8 405.5 606.3 405.9 604.7 406.3 603.2 406.8 601.6 407.3 600.1 407.8 598.6 408.4 597.1 409.1 595.6 409.8 594.1 410.5 592.7 411.3 591.3 412.2 589.9 413.1 588.5 414.0 587.2 415.0 585.8 416.0 584.5 417.1 583.3 418.2 582.1 419.4 580.9 420.6 579.8 421.9 578.7 423.2 577.6 424.5 576.6 425.9 575.6 427.3 574.7 428.8 573.8 430.3 573.0 431.8 572.3 433.3 571.6 434.9 571.0 436.5 570.4 438.2 569.9 439.8 569.5 441.5 569.1 443.2 568.8 444.9 568.5 446.6 568.3 448.3 568.2 450.0 568.2 451.7 568.2 453.4 568.3 455.1 568.5 456.8 568.8 458.5 569.1 460.2 569.5 461.8 569.9 463.5 570.4 465.1 571.0 466.7 571.6 468.2 572.3 469.7 573.0 471.2 573.8 472.7 574.7 474.1 575.6 475.5 576.6 476.8 577.6 478.1 578.7 479.4 579.8 480.6 580.9 481.8 582.1 482.9 583.3 484.0 584.5 485.0 585.8 486.0 587.2 486.9 588.5 487.8 589.9 488.7 591.3 489.5 592.7 490.2 594.1 490.9 595.6 491.6 597.1 492.2 598.6 492.7 600.1 493.2 601.6 493.7 603.2 494.1 604.7 494.5 606.3 494.8 607.8 495.0 609.4 495.3 611.0 495.4 612.6 495.5 614.2 495.6 615.8Z" stroke="#10baff" stroke-width="2.2"/>
<path d="M492.5 617.5 492.4 619.0 492.4 620.5 492.3 622.0 492.1 623.5 491.9 624.9 491.7 626.4 491.4 627.9 491.0 629.3 490.7 630.8 490.2 632.2 489.8 633.6 489.2 635.0 488.7 636.4 488.1 637.8 487.4 639.2 486.7 640.5 486.0 641.8 485.2 643.1 484.4 644.4 483.5 645.7 482.6 646.9 481.6 648.1 480.6 649.2 479.6 650.4 478.5 651.5 477.3 652.5 476.2 653.6 475.0 654.6 473.7 655.5 472.4 656.4 471.1 657.2 469.7 658.0 468.4 658.8 466.9 659.5 465.5 660.1 464.0 660.7 462.5 661.2 461.0 661.7 459.5 662.1 457.9 662.5 456.4 662.8 454.8 663.0 453.2 663.2 451.6 663.3 450.0 663.3 448.4 663.3 446.8 663.2 445.2 663.0 443.6 662.8 442.1 662.5 440.5 662.1 439.0 661.7 437.5 661.2 436.0 660.7 434.5 660.1 433.1 659.5 431.6 658.8 430.3 658.0 428.9 657.2 427.6 656.4 426.3 655.5 425.0 654.6 423.8 653.6 422.7 652.5 421.5 651.5 420.4 650.4 419.4 649.2 418.4 648.1 417.4 646.9 416.5 645.7 415.6 644.4 414.8 643.1 414.0 641.8 413.3 640.5 412.6 639.2 411.9 637.8 411.3 636.4 410.8 635.0 410.2 633.6 409.8 632.2 409.3 630.8 409.0 629.3 408.6 627.9 408.3 626.4 408.1 624.9 407.9 623.5 407.7 622.0 407.6 620.5 407.6 619.0 407.5 617.5 407.6 616.1 407.6 614.6 407.7 613.1 407.9 611.6 408.1 610.2 408.3 608.7 408.6 607.2 409.0 605.8 409.3 604.3 409.8 602.9 410.2 601.5 410.8 600.1 411.3 598.7 411.9 597.3 412.6 595.9 413.3 594.6 414.0 593.3 414.8 592.0 415.6 590.7 416.5 589.4 417.4 588.2 418.4 587.0 419.4 585.9 420.4 584.7 421.5 583.6 422.7 582.6 423.8 581.5 425.0 580.5 426.3 579.6 427.6 578.7 428.9 577.9 430.3 577.1 431.6 576.3 433.1 575.6 434.5 575.0 436.0 574.4 437.5 573.9 439.0 573.4 440.5 573.0 442.1 572.6 443.6 572.3 445.2 572.1 446.8 571.9 448.4 571.8 450.0 571.8 451.6 571.8 453.2 571.9 454.8 572.1 456.4 572.3 457.9 572.6 459.5 573.0 461.0 573.4 462.5 573.9 464.0 574.4 465.5 575.0 466.9 575.6 468.4 576.3 469.7 577.1 471.1 577.9 472.4 578.7 473.7 579.6 475.0 580.5 476.2 581.5 477.3 582.6 478.5 583.6 479.6 584.7 480.6 585.9 481.6 587.0 482.6 588.2 483.5 589.4 484.4 590.7 485.2 592.0 486.0 593.3 486.7 594.6 487.4 595.9 488.1 597.3 488.7 598.7 489.2 600.1 489.8 601.5 490.2 602.9 490.7 604.3 491.0 605.8 491.4 607.2 491.7 608.7 491.9 610.2 492.1 611.6 492.3 613.1 492.4 614.6 492.4 616.1Z" stroke="#00deee" stroke-width="2.2"/>
<path d="M489.3 617.7 489.3 619.1 489.2 620.5 489.1 621.8 489.0 623.2 488.8 624.6 488.5 625.9 488.3 627.3 488.0 628.6 487.6 630.0 487.2 631.3 486.8 632.6 486.3 633.9 485.8 635.2 485.2 636.5 484.6 637.7 484.0 639.0 483.3 640.2 482.6 641.4 481.8 642.6 481.0 643.7 480.1 644.9 479.3 646.0 478.3 647.1 477.4 648.1 476.3 649.1 475.3 650.1 474.2 651.1 473.1 652.0 471.9 652.8 470.7 653.7 469.5 654.5 468.3 655.2 467.0 655.9 465.7 656.5 464.3 657.1 463.0 657.7 461.6 658.2 460.2 658.6 458.8 659.0 457.3 659.3 455.9 659.6 454.4 659.8 453.0 659.9 451.5 660.0 450.0 660.0 448.5 660.0 447.0 659.9 445.6 659.8 444.1 659.6 442.7 659.3 441.2 659.0 439.8 658.6 438.4 658.2 437.0 657.7 435.7 657.1 434.3 656.5 433.0 655.9 431.7 655.2 430.5 654.5 429.3 653.7 428.1 652.8 426.9 652.0 425.8 651.1 424.7 650.1 423.7 649.1 422.6 648.1 421.7 647.1 420.7 646.0 419.9 644.9 419.0 643.7 418.2 642.6 417.4 641.4 416.7 640.2 416.0 639.0 415.4 637.7 414.8 636.5 414.2 635.2 413.7 633.9 413.2 632.6 412.8 631.3 412.4 630.0 412.0 628.6 411.7 627.3 411.5 625.9 411.2 624.6 411.0 623.2 410.9 621.8 410.8 620.5 410.7 619.1 410.7 617.7 410.7 616.4 410.8 615.0 410.9 613.6 411.0 612.3 411.2 610.9 411.5 609.5 411.7 608.2 412.0 606.8 412.4 605.5 412.8 604.2 413.2 602.9 413.7 601.6 414.2 600.3 414.8 599.0 415.4 597.7 416.0 596.5 416.7 595.3 417.4 594.1 418.2 592.9 419.0 591.7 419.9 590.6 420.7 589.5 421.7 588.4 422.6 587.4 423.7 586.3 424.7 585.4 425.8 584.4 426.9 583.5 428.1 582.6 429.3 581.8 430.5 581.0 431.7 580.3 433.0 579.6 434.3 578.9 435.7 578.3 437.0 577.8 438.4 577.3 439.8 576.9 441.2 576.5 442.7 576.2 444.1 575.9 445.6 575.7 447.0 575.5 448.5 575.5 450.0 575.4 451.5 575.5 453.0 575.5 454.4 575.7 455.9 575.9 457.3 576.2 458.8 576.5 460.2 576.9 461.6 577.3 463.0 577.8 464.3 578.3 465.7 578.9 467.0 579.6 468.3 580.3 469.5 581.0 470.7 581.8 471.9 582.6 473.1 583.5 474.2 584.4 475.3 585.4 476.3 586.3 477.4 587.4 478.3 588.4 479.3 589.5 480.1 590.6 481.0 591.7 481.8 592.9 482.6 594.1 483.3 595.3 484.0 596.5 484.6 597.7 485.2 599.0 485.8 600.3 486.3 601.6 486.8 602.9 487.2 604.2 487.6 605.5 488.0 606.8 488.3 608.2 488.5 609.5 488.8 610.9 489.0 612.3 489.1 613.6 489.2 615.0 489.3 616.4Z" stroke="#00daa1" stroke-width="2.2"/>
<path d="M486.1 617.9 486.1 619.2 486.0 620.4 485.9 621.7 485.8 622.9 485.6 624.2 485.4 625.4 485.2 626.7 484.9 627.9 484.6 629.1 484.2 630.4 483.8 631.6 483.4 632.8 482.9 634.0 482.4 635.1 481.8 636.3 481.2 637.4 480.6 638.6 479.9 639.7 479.2 640.8 478.5 641.8 477.7 642.9 476.9 643.9 476.0 644.9 475.1 645.8 474.2 646.8 473.2 647.7 472.3 648.5 471.2 649.4 470.2 650.2 469.1 650.9 467.9 651.7 466.8 652.3 465.6 653.0 464.4 653.6 463.2 654.1 461.9 654.6 460.7 655.1 459.4 655.5 458.1 655.8 456.7 656.1 455.4 656.4 454.1 656.6 452.7 656.7 451.4 656.8 450.0 656.8 448.6 656.8 447.3 656.7 445.9 656.6 444.6 656.4 443.3 656.1 441.9 655.8 440.6 655.5 439.3 655.1 438.1 654.6 436.8 654.1 435.6 653.6 434.4 653.0 433.2 652.3 432.1 651.7 430.9 650.9 429.8 650.2 428.8 649.4 427.7 648.5 426.8 647.7 425.8 646.8 424.9 645.8 424.0 644.9 423.1 643.9 422.3 642.9 421.5 641.8 420.8 640.8 420.1 639.7 419.4 638.6 418.8 637.4 418.2 636.3 417.6 635.1 417.1 634.0 416.6 632.8 416.2 631.6 415.8 630.4 415.4 629.1 415.1 627.9 414.8 626.7 414.6 625.4 414.4 624.2 414.2 622.9 414.1 621.7 414.0 620.4 413.9 619.2 413.9 617.9 413.9 616.7 414.0 615.4 414.1 614.1 414.2 612.9 414.4 611.6 414.6 610.4 414.8 609.1 415.1 607.9 415.4 606.7 415.8 605.5 416.2 604.3 416.6 603.1 417.1 601.9 417.6 600.7 418.2 599.5 418.8 598.4 419.4 597.3 420.1 596.2 420.8 595.1 421.5 594.0 422.3 593.0 423.1 592.0 424.0 591.0 424.9 590.0 425.8 589.1 426.8 588.2 427.7 587.3 428.8 586.5 429.8 585.7 430.9 584.9 432.1 584.2 433.2 583.5 434.4 582.9 435.6 582.3 436.8 581.7 438.1 581.2 439.3 580.8 440.6 580.4 441.9 580.0 443.3 579.7 444.6 579.5 445.9 579.3 447.3 579.1 448.6 579.1 450.0 579.0 451.4 579.1 452.7 579.1 454.1 579.3 455.4 579.5 456.7 579.7 458.1 580.0 459.4 580.4 460.7 580.8 461.9 581.2 463.2 581.7 464.4 582.3 465.6 582.9 466.8 583.5 467.9 584.2 469.1 584.9 470.2 585.7 471.2 586.5 472.3 587.3 473.2 588.2 474.2 589.1 475.1 590.0 476.0 591.0 476.9 592.0 477.7 593.0 478.5 594.0 479.2 595.1 479.9 596.2 480.6 597.3 481.2 598.4 481.8 599.5 482.4 600.7 482.9 601.9 483.4 603.1 483.8 604.3 484.2 605.5 484.6 606.7 484.9 607.9 485.2 609.1 485.4 610.4 485.6 611.6 485.8 612.9 485.9 614.1 486.0 615.4 486.1 616.7Z" stroke="#009c0b" stroke-width="2.2"/>
<path d="M482.9 618.1 482.9 619.2 482.9 620.4 482.8 621.5 482.7 622.7 482.5 623.8 482.3 625.0 482.1 626.1 481.8 627.2 481.5 628.3 481.2 629.5 480.8 630.6 480.4 631.7 480.0 632.7 479.5 633.8 479.0 634.9 478.5 635.9 477.9 636.9 477.3 637.9 476.7 638.9 476.0 639.9 475.3 640.8 474.5 641.8 473.7 642.7 472.9 643.6 472.1 644.4 471.2 645.2 470.3 646.0 469.4 646.8 468.4 647.5 467.4 648.2 466.4 648.9 465.3 649.5 464.2 650.1 463.1 650.6 462.0 651.1 460.9 651.6 459.7 652.0 458.5 652.4 457.3 652.7 456.1 652.9 454.9 653.2 453.7 653.3 452.5 653.5 451.2 653.5 450.0 653.6 448.8 653.5 447.5 653.5 446.3 653.3 445.1 653.2 443.9 652.9 442.7 652.7 441.5 652.4 440.3 652.0 439.1 651.6 438.0 651.1 436.9 650.6 435.8 650.1 434.7 649.5 433.6 648.9 432.6 648.2 431.6 647.5 430.6 646.8 429.7 646.0 428.8 645.2 427.9 644.4 427.1 643.6 426.3 642.7 425.5 641.8 424.7 640.8 424.0 639.9 423.3 638.9 422.7 637.9 422.1 636.9 421.5 635.9 421.0 634.9 420.5 633.8 420.0 632.7 419.6 631.7 419.2 630.6 418.8 629.5 418.5 628.3 418.2 627.2 417.9 626.1 417.7 625.0 417.5 623.8 417.3 622.7 417.2 621.5 417.1 620.4 417.1 619.2 417.1 618.1 417.1 617.0 417.1 615.8 417.2 614.7 417.3 613.5 417.5 612.4 417.7 611.2 417.9 610.1 418.2 609.0 418.5 607.9 418.8 606.7 419.2 605.6 419.6 604.5 420.0 603.5 420.5 602.4 421.0 601.3 421.5 600.3 422.1 599.3 422.7 598.3 423.3 597.3 424.0 596.3 424.7 595.4 425.5 594.4 426.3 593.5 427.1 592.6 427.9 591.8 428.8 591.0 429.7 590.2 430.6 589.4 431.6 588.7 432.6 588.0 433.6 587.3 434.7 586.7 435.8 586.1 436.9 585.6 438.0 585.1 439.1 584.6 440.3 584.2 441.5 583.8 442.7 583.5 443.9 583.3 445.1 583.0 446.3 582.9 447.5 582.7 448.8 582.7 450.0 582.6 451.2 582.7 452.5 582.7 453.7 582.9 454.9 583.0 456.1 583.3 457.3 583.5 458.5 583.8 459.7 584.2 460.9 584.6 462.0 585.1 463.1 585.6 464.2 586.1 465.3 586.7 466.4 587.3 467.4 588.0 468.4 588.7 469.4 589.4 470.3 590.2 471.2 591.0 472.1 591.8 472.9 592.6 473.7 593.5 474.5 594.4 475.3 595.4 476.0 596.3 476.7 597.3 477.3 598.3 477.9 599.3 478.5 600.3 479.0 601.3 479.5 602.4 480.0 603.5 480.4 604.5 480.8 605.6 481.2 606.7 481.5 607.9 481.8 609.0 482.1 610.1 482.3 611.2 482.5 612.4 482.7 613.5 482.8 614.7 482.9 615.8 482.9 617.0Z" stroke="#39a900" stroke-width="2.2"/>
<path d="M479.8 618.3 479.7 619.3 479.7 620.4 479.6 621.4 479.5 622.4 479.4 623.5 479.2 624.5 479.0 625.5 478.8 626.5 478.5 627.5 478.2 628.5 477.9 629.5 477.5 630.5 477.1 631.5 476.7 632.5 476.2 633.4 475.7 634.4 475.2 635.3 474.7 636.2 474.1 637.1 473.5 638.0 472.8 638.8 472.2 639.7 471.4 640.5 470.7 641.3 469.9 642.1 469.2 642.8 468.3 643.5 467.5 644.2 466.6 644.9 465.7 645.5 464.8 646.1 463.8 646.7 462.9 647.2 461.9 647.7 460.9 648.1 459.8 648.5 458.8 648.9 457.7 649.2 456.6 649.5 455.6 649.8 454.5 650.0 453.3 650.1 452.2 650.2 451.1 650.3 450.0 650.3 448.9 650.3 447.8 650.2 446.7 650.1 445.5 650.0 444.4 649.8 443.4 649.5 442.3 649.2 441.2 648.9 440.2 648.5 439.1 648.1 438.1 647.7 437.1 647.2 436.2 646.7 435.2 646.1 434.3 645.5 433.4 644.9 432.5 644.2 431.7 643.5 430.8 642.8 430.1 642.1 429.3 641.3 428.6 640.5 427.8 639.7 427.2 638.8 426.5 638.0 425.9 637.1 425.3 636.2 424.8 635.3 424.3 634.4 423.8 633.4 423.3 632.5 422.9 631.5 422.5 630.5 422.1 629.5 421.8 628.5 421.5 627.5 421.2 626.5 421.0 625.5 420.8 624.5 420.6 623.5 420.5 622.4 420.4 621.4 420.3 620.4 420.3 619.3 420.2 618.3 420.3 617.2 420.3 616.2 420.4 615.2 420.5 614.1 420.6 613.1 420.8 612.1 421.0 611.1 421.2 610.0 421.5 609.0 421.8 608.0 422.1 607.0 422.5 606.0 422.9 605.1 423.3 604.1 423.8 603.1 424.3 602.2 424.8 601.3 425.3 600.4 425.9 599.5 426.5 598.6 427.2 597.7 427.8 596.9 428.6 596.1 429.3 595.3 430.1 594.5 430.8 593.8 431.7 593.0 432.5 592.4 433.4 591.7 434.3 591.1 435.2 590.5 436.2 589.9 437.1 589.4 438.1 588.9 439.1 588.4 440.2 588.0 441.2 587.7 442.3 587.3 443.4 587.0 444.4 586.8 445.5 586.6 446.7 586.4 447.8 586.3 448.9 586.3 450.0 586.2 451.1 586.3 452.2 586.3 453.3 586.4 454.5 586.6 455.6 586.8 456.6 587.0 457.7 587.3 458.8 587.7 459.8 588.0 460.9 588.4 461.9 588.9 462.9 589.4 463.8 589.9 464.8 590.5 465.7 591.1 466.6 591.7 467.5 592.4 468.3 593.0 469.2 593.8 469.9 594.5 470.7 595.3 471.4 596.1 472.2 596.9 472.8 597.7 473.5 598.6 474.1 599.5 474.7 600.4 475.2 601.3 475.7 602.2 476.2 603.1 476.7 604.1 477.1 605.1 477.5 606.0 477.9 607.0 478.2 608.0 478.5 609.0 478.8 610.0 479.0 611.1 479.2 612.1 479.4 613.1 479.5 614.1 479.6 615.2 479.7 616.2 479.7 617.2Z" stroke="#e1eb00" stroke-width="2.2"/>
<path d="M476.6 618.5 476.6 619.4 476.5 620.3 476.5 621.2 476.4 622.2 476.2 623.1 476.1 624.0 475.9 624.9 475.7 625.8 475.4 626.7 475.2 627.6 474.9 628.5 474.6 629.4 474.2 630.3 473.8 631.1 473.4 632.0 473.0 632.8 472.5 633.7 472.0 634.5 471.5 635.3 471.0 636.1 470.4 636.8 469.8 637.6 469.2 638.3 468.5 639.0 467.8 639.7 467.1 640.4 466.4 641.0 465.6 641.6 464.8 642.2 464.0 642.8 463.2 643.3 462.4 643.8 461.5 644.3 460.6 644.7 459.7 645.1 458.8 645.5 457.8 645.8 456.9 646.1 455.9 646.4 455.0 646.6 454.0 646.8 453.0 646.9 452.0 647.0 451.0 647.1 450.0 647.1 449.0 647.1 448.0 647.0 447.0 646.9 446.0 646.8 445.0 646.6 444.1 646.4 443.1 646.1 442.2 645.8 441.2 645.5 440.3 645.1 439.4 644.7 438.5 644.3 437.6 643.8 436.8 643.3 436.0 642.8 435.2 642.2 434.4 641.6 433.6 641.0 432.9 640.4 432.2 639.7 431.5 639.0 430.8 638.3 430.2 637.6 429.6 636.8 429.0 636.1 428.5 635.3 428.0 634.5 427.5 633.7 427.0 632.8 426.6 632.0 426.2 631.1 425.8 630.3 425.4 629.4 425.1 628.5 424.8 627.6 424.6 626.7 424.3 625.8 424.1 624.9 423.9 624.0 423.8 623.1 423.6 622.2 423.5 621.2 423.5 620.3 423.4 619.4 423.4 618.5 423.4 617.5 423.5 616.6 423.5 615.7 423.6 614.8 423.8 613.8 423.9 612.9 424.1 612.0 424.3 611.1 424.6 610.2 424.8 609.3 425.1 608.4 425.4 607.5 425.8 606.7 426.2 605.8 426.6 604.9 427.0 604.1 427.5 603.3 428.0 602.5 428.5 601.7 429.0 600.9 429.6 600.1 430.2 599.4 430.8 598.6 431.5 597.9 432.2 597.2 432.9 596.6 433.6 595.9 434.4 595.3 435.2 594.7 436.0 594.2 436.8 593.6 437.6 593.1 438.5 592.7 439.4 592.2 440.3 591.8 441.2 591.5 442.2 591.1 443.1 590.8 444.1 590.6 445.0 590.3 446.0 590.2 447.0 590.0 448.0 589.9 449.0 589.9 450.0 589.8 451.0 589.9 452.0 589.9 453.0 590.0 454.0 590.2 455.0 590.3 455.9 590.6 456.9 590.8 457.8 591.1 458.8 591.5 459.7 591.8 460.6 592.2 461.5 592.7 462.4 593.1 463.2 593.6 464.0 594.2 464.8 594.7 465.6 595.3 466.4 595.9 467.1 596.6 467.8 597.2 468.5 597.9 469.2 598.6 469.8 599.4 470.4 600.1 471.0 600.9 471.5 601.7 472.0 602.5 472.5 603.3 473.0 604.1 473.4 604.9 473.8 605.8 474.2 606.7 474.6 607.5 474.9 608.4 475.2 609.3 475.4 610.2 475.7 611.1 475.9 612.0 476.1 612.9 476.2 613.8 476.4 614.8 476.5 615.7 476.5 616.6 476.6 617.5Z" stroke="#ffe400" stroke-width="2.2"/>
<path d="M473.4 618.6 473.4 619.5 473.4 620.3 473.3 621.1 473.2 621.9 473.1 622.7 473.0 623.5 472.8 624.3 472.6 625.1 472.4 625.9 472.2 626.7 471.9 627.5 471.6 628.3 471.3 629.0 471.0 629.8 470.6 630.6 470.2 631.3 469.8 632.0 469.4 632.7 468.9 633.4 468.5 634.1 468.0 634.8 467.4 635.5 466.9 636.1 466.3 636.7 465.7 637.3 465.1 637.9 464.4 638.5 463.8 639.0 463.1 639.6 462.4 640.1 461.6 640.5 460.9 641.0 460.1 641.4 459.3 641.8 458.5 642.1 457.7 642.4 456.9 642.7 456.1 643.0 455.2 643.2 454.4 643.4 453.5 643.6 452.6 643.7 451.8 643.8 450.9 643.8 450.0 643.9 449.1 643.8 448.2 643.8 447.4 643.7 446.5 643.6 445.6 643.4 444.8 643.2 443.9 643.0 443.1 642.7 442.3 642.4 441.5 642.1 440.7 641.8 439.9 641.4 439.1 641.0 438.4 640.5 437.6 640.1 436.9 639.6 436.2 639.0 435.6 638.5 434.9 637.9 434.3 637.3 433.7 636.7 433.1 636.1 432.6 635.5 432.0 634.8 431.5 634.1 431.1 633.4 430.6 632.7 430.2 632.0 429.8 631.3 429.4 630.6 429.0 629.8 428.7 629.0 428.4 628.3 428.1 627.5 427.8 626.7 427.6 625.9 427.4 625.1 427.2 624.3 427.0 623.5 426.9 622.7 426.8 621.9 426.7 621.1 426.6 620.3 426.6 619.5 426.6 618.6 426.6 617.8 426.6 617.0 426.7 616.2 426.8 615.4 426.9 614.6 427.0 613.8 427.2 613.0 427.4 612.2 427.6 611.4 427.8 610.6 428.1 609.8 428.4 609.0 428.7 608.3 429.0 607.5 429.4 606.7 429.8 606.0 430.2 605.3 430.6 604.6 431.1 603.9 431.5 603.2 432.0 602.5 432.6 601.8 433.1 601.2 433.7 600.6 434.3 600.0 434.9 599.4 435.6 598.8 436.2 598.3 436.9 597.7 437.6 597.2 438.4 596.8 439.1 596.3 439.9 595.9 440.7 595.5 441.5 595.2 442.3 594.9 443.1 594.6 443.9 594.3 444.8 594.1 445.6 593.9 446.5 593.7 447.4 593.6 448.2 593.5 449.1 593.5 450.0 593.4 450.9 593.5 451.8 593.5 452.6 593.6 453.5 593.7 454.4 593.9 455.2 594.1 456.1 594.3 456.9 594.6 457.7 594.9 458.5 595.2 459.3 595.5 460.1 595.9 460.9 596.3 461.6 596.8 462.4 597.2 463.1 597.7 463.8 598.3 464.4 598.8 465.1 599.4 465.7 600.0 466.3 600.6 466.9 601.2 467.4 601.8 468.0 602.5 468.5 603.2 468.9 603.9 469.4 604.6 469.8 605.3 470.2 606.0 470.6 606.7 471.0 607.5 471.3 608.3 471.6 609.0 471.9 609.8 472.2 610.6 472.4 611.4 472.6 612.2 472.8 613.0 473.0 613.8 473.1 614.6 473.2 615.4 473.3 616.2 473.4 617.0 473.4 617.8Z" stroke="#ffb600" stroke-width="2.2"/>
<path d="M470.2 618.8 470.2 619.5 470.2 620.2 470.1 620.9 470.1 621.7 470.0 622.4 469.8 623.1 469.7 623.7 469.5 624.4 469.4 625.1 469.2 625.8 468.9 626.5 468.7 627.2 468.4 627.8 468.1 628.5 467.8 629.1 467.5 629.8 467.1 630.4 466.8 631.0 466.4 631.6 466.0 632.2 465.5 632.8 465.1 633.4 464.6 633.9 464.1 634.5 463.6 635.0 463.0 635.5 462.5 636.0 461.9 636.5 461.3 636.9 460.7 637.3 460.0 637.7 459.4 638.1 458.7 638.5 458.1 638.8 457.4 639.1 456.7 639.4 456.0 639.6 455.2 639.9 454.5 640.1 453.8 640.2 453.0 640.4 452.3 640.5 451.5 640.5 450.8 640.6 450.0 640.6 449.2 640.6 448.5 640.5 447.7 640.5 447.0 640.4 446.2 640.2 445.5 640.1 444.8 639.9 444.0 639.6 443.3 639.4 442.6 639.1 441.9 638.8 441.3 638.5 440.6 638.1 440.0 637.7 439.3 637.3 438.7 636.9 438.1 636.5 437.5 636.0 437.0 635.5 436.4 635.0 435.9 634.5 435.4 633.9 434.9 633.4 434.5 632.8 434.0 632.2 433.6 631.6 433.2 631.0 432.9 630.4 432.5 629.8 432.2 629.1 431.9 628.5 431.6 627.8 431.3 627.2 431.1 626.5 430.8 625.8 430.6 625.1 430.5 624.4 430.3 623.7 430.2 623.1 430.0 622.4 429.9 621.7 429.9 620.9 429.8 620.2 429.8 619.5 429.8 618.8 429.8 618.1 429.8 617.4 429.9 616.7 429.9 616.0 430.0 615.3 430.2 614.6 430.3 613.9 430.5 613.2 430.6 612.5 430.8 611.9 431.1 611.2 431.3 610.5 431.6 609.8 431.9 609.2 432.2 608.5 432.5 607.9 432.9 607.3 433.2 606.7 433.6 606.0 434.0 605.4 434.5 604.9 434.9 604.3 435.4 603.7 435.9 603.2 436.4 602.7 437.0 602.2 437.5 601.7 438.1 601.2 438.7 600.8 439.3 600.3 440.0 599.9 440.6 599.6 441.3 599.2 441.9 598.9 442.6 598.6 443.3 598.3 444.0 598.0 444.8 597.8 445.5 597.6 446.2 597.4 447.0 597.3 447.7 597.2 448.5 597.1 449.2 597.1 450.0 597.1 450.8 597.1 451.5 597.1 452.3 597.2 453.0 597.3 453.8 597.4 454.5 597.6 455.2 597.8 456.0 598.0 456.7 598.3 457.4 598.6 458.1 598.9 458.7 599.2 459.4 599.6 460.0 599.9 460.7 600.3 461.3 600.8 461.9 601.2 462.5 601.7 463.0 602.2 463.6 602.7 464.1 603.2 464.6 603.7 465.1 604.3 465.5 604.9 466.0 605.4 466.4 606.0 466.8 606.7 467.1 607.3 467.5 607.9 467.8 608.5 468.1 609.2 468.4 609.8 468.7 610.5 468.9 611.2 469.2 611.9 469.4 612.5 469.5 613.2 469.7 613.9 469.8 614.6 470.0 615.3 470.1 616.0 470.1 616.7 470.2 617.4 470.2 618.1Z" stroke="#ff8100" stroke-width="2.2"/>
<path d="M467.0 619.0 467.0 619.6 467.0 620.2 467.0 620.8 466.9 621.4 466.8 622.0 466.7 622.6 466.6 623.2 466.5 623.7 466.3 624.3 466.1 624.9 466.0 625.5 465.8 626.0 465.5 626.6 465.3 627.1 465.0 627.7 464.7 628.2 464.4 628.8 464.1 629.3 463.8 629.8 463.4 630.3 463.1 630.8 462.7 631.3 462.3 631.7 461.9 632.2 461.4 632.6 461.0 633.1 460.5 633.5 460.0 633.9 459.5 634.2 459.0 634.6 458.5 634.9 457.9 635.3 457.4 635.6 456.8 635.8 456.2 636.1 455.6 636.3 455.0 636.6 454.4 636.7 453.8 636.9 453.2 637.0 452.6 637.2 451.9 637.3 451.3 637.3 450.6 637.4 450.0 637.4 449.4 637.4 448.7 637.3 448.1 637.3 447.4 637.2 446.8 637.0 446.2 636.9 445.6 636.7 445.0 636.6 444.4 636.3 443.8 636.1 443.2 635.8 442.6 635.6 442.1 635.3 441.5 634.9 441.0 634.6 440.5 634.2 440.0 633.9 439.5 633.5 439.0 633.1 438.6 632.6 438.1 632.2 437.7 631.7 437.3 631.3 436.9 630.8 436.6 630.3 436.2 629.8 435.9 629.3 435.6 628.8 435.3 628.2 435.0 627.7 434.7 627.1 434.5 626.6 434.2 626.0 434.0 625.5 433.9 624.9 433.7 624.3 433.5 623.7 433.4 623.2 433.3 622.6 433.2 622.0 433.1 621.4 433.0 620.8 433.0 620.2 433.0 619.6 433.0 619.0 433.0 618.4 433.0 617.8 433.0 617.2 433.1 616.6 433.2 616.1 433.3 615.5 433.4 614.9 433.5 614.3 433.7 613.7 433.9 613.1 434.0 612.6 434.2 612.0 434.5 611.4 434.7 610.9 435.0 610.3 435.3 609.8 435.6 609.3 435.9 608.8 436.2 608.2 436.6 607.7 436.9 607.2 437.3 606.8 437.7 606.3 438.1 605.8 438.6 605.4 439.0 605.0 439.5 604.6 440.0 604.2 440.5 603.8 441.0 603.4 441.5 603.1 442.1 602.8 442.6 602.5 443.2 602.2 443.8 601.9 444.4 601.7 445.0 601.5 445.6 601.3 446.2 601.1 446.8 601.0 447.4 600.9 448.1 600.8 448.7 600.7 449.4 600.7 450.0 600.7 450.6 600.7 451.3 600.7 451.9 600.8 452.6 600.9 453.2 601.0 453.8 601.1 454.4 601.3 455.0 601.5 455.6 601.7 456.2 601.9 456.8 602.2 457.4 602.5 457.9 602.8 458.5 603.1 459.0 603.4 459.5 603.8 460.0 604.2 460.5 604.6 461.0 605.0 461.4 605.4 461.9 605.8 462.3 606.3 462.7 606.8 463.1 607.2 463.4 607.7 463.8 608.2 464.1 608.8 464.4 609.3 464.7 609.8 465.0 610.3 465.3 610.9 465.5 611.4 465.8 612.0 466.0 612.6 466.1 613.1 466.3 613.7 466.5 614.3 466.6 614.9 466.7 615.5 466.8 616.1 466.9 616.6 467.0 617.2 467.0 617.8 467.0 618.4Z" stroke="#ff4700" stroke-width="2.2"/>
<path d="M463.9 619.2 463.9 619.7 463.8 620.2 463.8 620.7 463.8 621.1 463.7 621.6 463.6 622.1 463.5 622.6 463.4 623.0 463.3 623.5 463.1 624.0 463.0 624.4 462.8 624.9 462.6 625.4 462.4 625.8 462.2 626.3 462.0 626.7 461.8 627.1 461.5 627.6 461.2 628.0 460.9 628.4 460.6 628.8 460.3 629.2 460.0 629.6 459.7 629.9 459.3 630.3 458.9 630.6 458.5 631.0 458.1 631.3 457.7 631.6 457.3 631.9 456.9 632.2 456.4 632.4 456.0 632.7 455.5 632.9 455.1 633.1 454.6 633.3 454.1 633.5 453.6 633.6 453.1 633.8 452.6 633.9 452.1 634.0 451.6 634.0 451.0 634.1 450.5 634.1 450.0 634.1 449.5 634.1 449.0 634.1 448.4 634.0 447.9 634.0 447.4 633.9 446.9 633.8 446.4 633.6 445.9 633.5 445.4 633.3 444.9 633.1 444.5 632.9 444.0 632.7 443.6 632.4 443.1 632.2 442.7 631.9 442.3 631.6 441.9 631.3 441.5 631.0 441.1 630.6 440.7 630.3 440.3 629.9 440.0 629.6 439.7 629.2 439.4 628.8 439.1 628.4 438.8 628.0 438.5 627.6 438.2 627.1 438.0 626.7 437.8 626.3 437.6 625.8 437.4 625.4 437.2 624.9 437.0 624.4 436.9 624.0 436.7 623.5 436.6 623.0 436.5 622.6 436.4 622.1 436.3 621.6 436.2 621.1 436.2 620.7 436.2 620.2 436.1 619.7 436.1 619.2 436.1 618.7 436.2 618.2 436.2 617.7 436.2 617.3 436.3 616.8 436.4 616.3 436.5 615.8 436.6 615.4 436.7 614.9 436.9 614.4 437.0 614.0 437.2 613.5 437.4 613.0 437.6 612.6 437.8 612.1 438.0 611.7 438.2 611.3 438.5 610.8 438.8 610.4 439.1 610.0 439.4 609.6 439.7 609.2 440.0 608.8 440.3 608.5 440.7 608.1 441.1 607.8 441.5 607.4 441.9 607.1 442.3 606.8 442.7 606.5 443.1 606.2 443.6 606.0 444.0 605.7 444.5 605.5 444.9 605.3 445.4 605.1 445.9 604.9 446.4 604.8 446.9 604.6 447.4 604.5 447.9 604.4 448.4 604.4 449.0 604.3 449.5 604.3 450.0 604.3 450.5 604.3 451.0 604.3 451.6 604.4 452.1 604.4 452.6 604.5 453.1 604.6 453.6 604.8 454.1 604.9 454.6 605.1 455.1 605.3 455.5 605.5 456.0 605.7 456.4 606.0 456.9 606.2 457.3 606.5 457.7 606.8 458.1 607.1 458.5 607.4 458.9 607.8 459.3 608.1 459.7 608.5 460.0 608.8 460.3 609.2 460.6 609.6 460.9 610.0 461.2 610.4 461.5 610.8 461.8 611.3 462.0 611.7 462.2 612.1 462.4 612.6 462.6 613.0 462.8 613.5 463.0 614.0 463.1 614.4 463.3 614.9 463.4 615.4 463.5 615.8 463.6 616.3 463.7 616.8 463.8 617.3 463.8 617.7 463.8 618.2 463.9 618.7Z" stroke="#ff1e00" stroke-width="2.2"/>
<path d="M460.7 619.4 460.7 619.8 460.7 620.1 460.6 620.5 460.6 620.9 460.5 621.2 460.5 621.6 460.4 622.0 460.3 622.3 460.2 622.7 460.1 623.1 460.0 623.4 459.9 623.8 459.7 624.1 459.6 624.5 459.4 624.8 459.2 625.2 459.1 625.5 458.9 625.8 458.7 626.1 458.4 626.5 458.2 626.8 458.0 627.1 457.7 627.4 457.4 627.6 457.2 627.9 456.9 628.2 456.6 628.4 456.3 628.7 456.0 628.9 455.6 629.2 455.3 629.4 455.0 629.6 454.6 629.8 454.3 629.9 453.9 630.1 453.5 630.2 453.2 630.4 452.8 630.5 452.4 630.6 452.0 630.7 451.6 630.8 451.2 630.8 450.8 630.9 450.4 630.9 450.0 630.9 449.6 630.9 449.2 630.9 448.8 630.8 448.4 630.8 448.0 630.7 447.6 630.6 447.2 630.5 446.8 630.4 446.5 630.2 446.1 630.1 445.7 629.9 445.4 629.8 445.0 629.6 444.7 629.4 444.4 629.2 444.0 628.9 443.7 628.7 443.4 628.4 443.1 628.2 442.8 627.9 442.6 627.6 442.3 627.4 442.0 627.1 441.8 626.8 441.6 626.5 441.3 626.1 441.1 625.8 440.9 625.5 440.8 625.2 440.6 624.8 440.4 624.5 440.3 624.1 440.1 623.8 440.0 623.4 439.9 623.1 439.8 622.7 439.7 622.3 439.6 622.0 439.5 621.6 439.5 621.2 439.4 620.9 439.4 620.5 439.3 620.1 439.3 619.8 439.3 619.4 439.3 619.0 439.3 618.6 439.4 618.3 439.4 617.9 439.5 617.5 439.5 617.2 439.6 616.8 439.7 616.4 439.8 616.1 439.9 615.7 440.0 615.3 440.1 615.0 440.3 614.6 440.4 614.3 440.6 613.9 440.8 613.6 440.9 613.3 441.1 612.9 441.3 612.6 441.6 612.3 441.8 612.0 442.0 611.7 442.3 611.4 442.6 611.1 442.8 610.8 443.1 610.6 443.4 610.3 443.7 610.1 444.0 609.8 444.4 609.6 444.7 609.4 445.0 609.2 445.4 609.0 445.7 608.8 446.1 608.7 446.5 608.5 446.8 608.4 447.2 608.3 447.6 608.2 448.0 608.1 448.4 608.0 448.8 607.9 449.2 607.9 449.6 607.9 450.0 607.9 450.4 607.9 450.8 607.9 451.2 607.9 451.6 608.0 452.0 608.1 452.4 608.2 452.8 608.3 453.2 608.4 453.5 608.5 453.9 608.7 454.3 608.8 454.6 609.0 455.0 609.2 455.3 609.4 455.6 609.6 456.0 609.8 456.3 610.1 456.6 610.3 456.9 610.6 457.2 610.8 457.4 611.1 457.7 611.4 458.0 611.7 458.2 612.0 458.4 612.3 458.7 612.6 458.9 612.9 459.1 613.3 459.2 613.6 459.4 613.9 459.6 614.3 459.7 614.6 459.9 615.0 460.0 615.3 460.1 615.7 460.2 616.1 460.3 616.4 460.4 616.8 460.5 617.2 460.5 617.5 460.6 617.9 460.6 618.3 460.7 618.6 460.7 619.0Z" stroke="#ff1700" stroke-width="2.2"/>
<path d="M457.5 619.6 457.5 619.8 457.5 620.1 457.5 620.4 457.4 620.6 457.4 620.9 457.4 621.1 457.3 621.4 457.3 621.6 457.2 621.9 457.1 622.2 457.0 622.4 456.9 622.7 456.8 622.9 456.7 623.1 456.6 623.4 456.5 623.6 456.4 623.9 456.2 624.1 456.1 624.3 455.9 624.5 455.8 624.8 455.6 625.0 455.4 625.2 455.2 625.4 455.0 625.6 454.8 625.8 454.6 625.9 454.4 626.1 454.2 626.3 454.0 626.4 453.7 626.6 453.5 626.7 453.2 626.9 453.0 627.0 452.7 627.1 452.5 627.2 452.2 627.3 451.9 627.4 451.7 627.5 451.4 627.5 451.1 627.6 450.8 627.6 450.6 627.6 450.3 627.6 450.0 627.7 449.7 627.6 449.4 627.6 449.2 627.6 448.9 627.6 448.6 627.5 448.3 627.5 448.1 627.4 447.8 627.3 447.5 627.2 447.3 627.1 447.0 627.0 446.8 626.9 446.5 626.7 446.3 626.6 446.0 626.4 445.8 626.3 445.6 626.1 445.4 625.9 445.2 625.8 445.0 625.6 444.8 625.4 444.6 625.2 444.4 625.0 444.2 624.8 444.1 624.5 443.9 624.3 443.8 624.1 443.6 623.9 443.5 623.6 443.4 623.4 443.3 623.1 443.2 622.9 443.1 622.7 443.0 622.4 442.9 622.2 442.8 621.9 442.7 621.6 442.7 621.4 442.6 621.1 442.6 620.9 442.6 620.6 442.5 620.4 442.5 620.1 442.5 619.8 442.5 619.6 442.5 619.3 442.5 619.0 442.5 618.8 442.6 618.5 442.6 618.3 442.6 618.0 442.7 617.7 442.7 617.5 442.8 617.2 442.9 617.0 443.0 616.7 443.1 616.5 443.2 616.2 443.3 616.0 443.4 615.7 443.5 615.5 443.6 615.3 443.8 615.0 443.9 614.8 444.1 614.6 444.2 614.4 444.4 614.2 444.6 614.0 444.8 613.8 445.0 613.6 445.2 613.4 445.4 613.2 445.6 613.0 445.8 612.9 446.0 612.7 446.3 612.5 446.5 612.4 446.8 612.3 447.0 612.1 447.3 612.0 447.5 611.9 447.8 611.8 448.1 611.8 448.3 611.7 448.6 611.6 448.9 611.6 449.2 611.5 449.4 611.5 449.7 611.5 450.0 611.5 450.3 611.5 450.6 611.5 450.8 611.5 451.1 611.6 451.4 611.6 451.7 611.7 451.9 611.8 452.2 611.8 452.5 611.9 452.7 612.0 453.0 612.1 453.2 612.3 453.5 612.4 453.7 612.5 454.0 612.7 454.2 612.9 454.4 613.0 454.6 613.2 454.8 613.4 455.0 613.6 455.2 613.8 455.4 614.0 455.6 614.2 455.8 614.4 455.9 614.6 456.1 614.8 456.2 615.0 456.4 615.3 456.5 615.5 456.6 615.7 456.7 616.0 456.8 616.2 456.9 616.5 457.0 616.7 457.1 617.0 457.2 617.2 457.3 617.5 457.3 617.7 457.4 618.0 457.4 618.3 457.4 618.5 457.5 618.8 457.5 619.0 457.5 619.3Z" stroke="#ff1000" stroke-width="2.2"/>
</g>
<path d="M480.0 677.0 L505.0 630.0 L540.0 567.0 L551.0 463.0 L561.0 359.0 L564.7 251.5 L818.0 251.5 L747.0 677.0 Z" stroke="#0808ff" stroke-width="6" fill="none" stroke-linejoin="round"/>
<text transform="translate(655.62,226.75) scale(1.0089,1)" font-family="'Liberation Sans', sans-serif" font-size="44.08" font-weight="bold" fill="#0808ff" >0.73%</text>
<path d="M338.4 163.3 V687.5 M335.59999999999997 684.7 H875.5" stroke="#0a2160" stroke-width="5.8" fill="none"/>
<path d="M321.4 684.4 H338.4 M328.9 652.0 H338.4 M328.9 619.7 H338.4 M328.9 587.3 H338.4 M321.4 554.9 H338.4 M328.9 522.6 H338.4 M328.9 490.2 H338.4 M328.9 457.8 H338.4 M321.4 425.4 H338.4 M328.9 393.1 H338.4 M328.9 360.7 H338.4 M328.9 328.3 H338.4 M321.4 296.0 H338.4 M328.9 263.6 H338.4 M328.9 231.2 H338.4 M328.9 198.9 H338.4 M321.4 166.5 H338.4" stroke="#0a2160" stroke-width="2.8" fill="none"/>
<path d="M357.2 686.7 v8 M378.0 686.7 v8 M405.4 686.7 v15 M413.3 686.7 v8 M419.6 686.7 v8 M424.3 686.7 v8 M428.1 686.7 v8 M431.2 686.7 v11 M433.8 686.7 v11 M435.6 686.7 v11 M436.9 686.7 v17 M438.9 686.7 v8 M441.5 686.7 v8 M444.5 686.7 v8 M448.3 686.7 v8 M452.6 686.7 v8 M457.1 686.7 v8 M462.2 686.7 v15 M491.2 686.7 v8 M515.0 686.7 v8 M533.4 686.7 v8 M547.9 686.7 v8 M558.5 686.7 v8 M570.4 686.7 v8 M578.9 686.7 v8 M586.4 686.7 v8 M594.1 686.7 v15 M637.4 686.7 v8 M662.8 686.7 v8 M680.7 686.7 v8 M694.7 686.7 v8 M706.1 686.7 v8 M715.7 686.7 v8 M724.1 686.7 v8 M731.4 686.7 v8 M738.0 686.7 v15 M778.8 686.7 v8 M802.7 686.7 v8 M819.7 686.7 v8 M832.9 686.7 v8 M843.6 686.7 v8 M852.7 686.7 v8 M860.5 686.7 v8 M867.5 686.7 v8 M873.7 686.7 v15" stroke="#0a2160" stroke-width="2.6" fill="none"/>
<text transform="translate(181.52,703.72) scale(1.0980,1)" font-family="'DejaVu Sans', sans-serif" font-size="32.21" fill="#22229c" >-5 x10</text>
<text transform="translate(296.30,682.90) scale(0.9368,1)" font-family="'DejaVu Sans', sans-serif" font-size="24.66" fill="#22229c" >4</text>
<text transform="translate(165.43,573.22) scale(1.0565,1)" font-family="'DejaVu Sans', sans-serif" font-size="32.21" fill="#22229c" >2.1 x10</text>
<text transform="translate(295.38,552.04) scale(1.0774,1)" font-family="'DejaVu Sans', sans-serif" font-size="24.16" fill="#22229c" >5</text>
<text transform="translate(164.57,441.52) scale(1.0637,1)" font-family="'DejaVu Sans', sans-serif" font-size="32.21" fill="#22229c" >4.8 x10</text>
<text transform="translate(295.38,420.34) scale(1.0774,1)" font-family="'DejaVu Sans', sans-serif" font-size="24.16" fill="#22229c" >5</text>
<text transform="translate(164.27,314.42) scale(1.0662,1)" font-family="'DejaVu Sans', sans-serif" font-size="32.21" fill="#22229c" >7.4 x10</text>
<text transform="translate(295.38,293.24) scale(1.0774,1)" font-family="'DejaVu Sans', sans-serif" font-size="24.16" fill="#22229c" >5</text>
<text transform="translate(200.07,185.82) scale(1.0809,1)" font-family="'DejaVu Sans', sans-serif" font-size="32.21" fill="#22229c" >1 x10</text>
<text transform="translate(295.69,164.64) scale(1.0301,1)" font-family="'DejaVu Sans', sans-serif" font-size="23.76" fill="#22229c" >6</text>
<text transform="translate(368.26,755.12) scale(1.0767,1)" font-family="'DejaVu Sans', sans-serif" font-size="32.08" fill="#22229c" >-10</text>
<text transform="translate(424.88,733.80) scale(1.0799,1)" font-family="'DejaVu Sans', sans-serif" font-size="23.30" fill="#22229c" >2</text>
<text transform="translate(563.44,755.12) scale(1.0367,1)" font-family="'DejaVu Sans', sans-serif" font-size="32.08" fill="#22229c" >10</text>
<text transform="translate(604.66,733.46) scale(1.1344,1)" font-family="'DejaVu Sans', sans-serif" font-size="22.84" fill="#22229c" >3</text>
<text transform="translate(707.34,755.12) scale(1.0367,1)" font-family="'DejaVu Sans', sans-serif" font-size="32.08" fill="#22229c" >10</text>
<text transform="translate(749.38,733.80) scale(0.9905,1)" font-family="'DejaVu Sans', sans-serif" font-size="23.70" fill="#22229c" >4</text>
<text transform="translate(843.04,755.12) scale(1.0367,1)" font-family="'DejaVu Sans', sans-serif" font-size="32.08" fill="#22229c" >10</text>
<text transform="translate(884.15,733.45) scale(1.1392,1)" font-family="'DejaVu Sans', sans-serif" font-size="23.22" fill="#22229c" >5</text>
</g>
<g id="p2">
<path d="M1317.5 230.0h5.8v5.8h-5.8zM1324.7 231.4h3v3h-3zM1411.7 231.4h3v3h-3zM1290.1 235.8h2.6v5.8h-2.6zM1329.1 235.8h5.8v5.8h-5.8zM1358.1 235.8h5.8v5.8h-5.8zM1294.3 241.6h5.8v5.8h-5.8zM1336.3 243.0h3v3h-3zM1381.3 241.6h5.8v5.8h-5.8zM1416.1 241.6h5.8v5.8h-5.8zM1427.7 241.6h5.8v5.8h-5.8zM1305.9 249.0h5.8v2.6h-5.8zM1329.1 247.4h5.8v5.8h-5.8zM1340.7 247.4h5.8v5.8h-5.8zM1346.5 249.0h5.8v2.6h-5.8zM1352.3 247.4h5.8v5.8h-5.8zM1404.5 247.4h5.8v5.8h-5.8zM1375.5 253.2h5.8v5.8h-5.8zM1398.7 253.2h5.8v5.8h-5.8zM1429.1 254.6h3v3h-3zM1388.5 260.4h3v3h-3zM1398.7 259.0h5.8v5.8h-5.8zM1404.5 259.0h5.8v5.8h-5.8zM1416.1 259.0h5.8v5.8h-5.8zM1289.9 266.2h3v3h-3zM1330.5 266.2h3v3h-3zM1340.7 264.8h5.8v5.8h-5.8zM1358.1 264.8h5.8v5.8h-5.8zM1392.9 266.4h5.8v2.6h-5.8zM1416.1 264.8h5.8v5.8h-5.8zM1421.9 264.8h5.8v5.8h-5.8zM1294.3 270.6h5.8v5.8h-5.8zM1334.9 270.6h5.8v5.8h-5.8zM1352.3 270.6h5.8v5.8h-5.8zM1365.3 272.0h3v3h-3zM1375.5 270.6h5.8v5.8h-5.8zM1392.9 270.6h5.8v5.8h-5.8zM1404.5 270.6h5.8v5.8h-5.8zM1427.7 270.6h5.8v5.8h-5.8zM1439.3 270.6h5.8v5.8h-5.8zM1288.5 278.0h5.8v2.6h-5.8zM1317.5 276.4h5.8v5.8h-5.8zM1363.9 276.4h5.8v5.8h-5.8zM1375.5 276.4h5.8v5.8h-5.8zM1381.3 276.4h5.8v5.8h-5.8zM1392.9 276.4h5.8v5.8h-5.8zM1404.5 276.4h5.8v5.8h-5.8zM1433.5 276.4h5.8v5.8h-5.8zM1311.7 283.8h5.8v2.6h-5.8zM1346.5 282.2h5.8v5.8h-5.8zM1352.3 282.2h5.8v5.8h-5.8zM1358.1 282.2h5.8v5.8h-5.8zM1363.9 282.2h5.8v5.8h-5.8zM1369.7 282.2h5.8v5.8h-5.8zM1375.5 282.2h5.8v5.8h-5.8zM1381.3 282.2h5.8v5.8h-5.8zM1398.7 282.2h5.8v5.8h-5.8zM1404.5 282.2h5.8v5.8h-5.8zM1416.1 282.2h5.8v5.8h-5.8zM1421.9 282.2h5.8v5.8h-5.8zM1427.7 282.2h5.8v5.8h-5.8zM1363.9 288.0h5.8v5.8h-5.8zM1381.3 288.0h5.8v5.8h-5.8zM1387.1 288.0h5.8v5.8h-5.8zM1392.9 288.0h5.8v5.8h-5.8zM1410.3 288.0h5.8v5.8h-5.8zM1416.1 288.0h5.8v5.8h-5.8zM1427.7 288.0h5.8v5.8h-5.8zM1433.5 288.0h5.8v5.8h-5.8zM1340.7 293.8h5.8v5.8h-5.8zM1358.1 293.8h5.8v5.8h-5.8zM1363.9 293.8h5.8v5.8h-5.8zM1369.7 293.8h5.8v5.8h-5.8zM1375.5 293.8h5.8v5.8h-5.8zM1387.1 293.8h5.8v5.8h-5.8zM1392.9 293.8h5.8v5.8h-5.8zM1398.7 293.8h5.8v5.8h-5.8zM1410.3 293.8h5.8v5.8h-5.8zM1421.9 293.8h5.8v5.8h-5.8zM1427.7 293.8h5.8v5.8h-5.8zM1213.1 299.6h5.8v5.8h-5.8zM1340.7 299.6h5.8v5.8h-5.8zM1352.3 299.6h5.8v5.8h-5.8zM1363.9 299.6h5.8v5.8h-5.8zM1369.7 299.6h5.8v5.8h-5.8zM1375.5 299.6h5.8v5.8h-5.8zM1381.3 299.6h5.8v5.8h-5.8zM1387.1 299.6h5.8v5.8h-5.8zM1392.9 299.6h5.8v5.8h-5.8zM1398.7 299.6h5.8v5.8h-5.8zM1404.5 299.6h5.8v5.8h-5.8zM1416.1 299.6h5.8v5.8h-5.8zM1421.9 299.6h5.8v5.8h-5.8zM1624.9 299.6h5.8v5.8h-5.8zM1265.3 307.0h5.8v2.6h-5.8zM1300.1 305.4h5.8v5.8h-5.8zM1334.9 307.0h5.8v2.6h-5.8zM1340.7 305.4h5.8v5.8h-5.8zM1346.5 305.4h5.8v5.8h-5.8zM1352.3 305.4h5.8v5.8h-5.8zM1358.1 305.4h5.8v5.8h-5.8zM1363.9 305.4h5.8v5.8h-5.8zM1369.7 305.4h5.8v5.8h-5.8zM1375.5 305.4h5.8v5.8h-5.8zM1381.3 305.4h5.8v5.8h-5.8zM1387.1 305.4h5.8v5.8h-5.8zM1392.9 305.4h5.8v5.8h-5.8zM1398.7 305.4h5.8v5.8h-5.8zM1404.5 305.4h5.8v5.8h-5.8zM1410.3 305.4h5.8v5.8h-5.8zM1416.1 305.4h5.8v5.8h-5.8zM1421.9 305.4h5.8v5.8h-5.8zM1427.7 305.4h5.8v5.8h-5.8zM1433.5 305.4h5.8v5.8h-5.8zM1184.1 311.2h5.8v5.8h-5.8zM1276.9 311.2h5.8v5.8h-5.8zM1288.5 312.8h5.8v2.6h-5.8zM1329.1 311.2h5.8v5.8h-5.8zM1340.7 311.2h5.8v5.8h-5.8zM1346.5 311.2h5.8v5.8h-5.8zM1352.3 311.2h5.8v5.8h-5.8zM1358.1 311.2h5.8v5.8h-5.8zM1363.9 311.2h5.8v5.8h-5.8zM1369.7 311.2h5.8v5.8h-5.8zM1375.5 311.2h5.8v5.8h-5.8zM1381.3 311.2h5.8v5.8h-5.8zM1387.1 311.2h5.8v5.8h-5.8zM1392.9 311.2h5.8v5.8h-5.8zM1398.7 311.2h5.8v5.8h-5.8zM1404.5 311.2h5.8v5.8h-5.8zM1410.3 311.2h5.8v5.8h-5.8zM1416.1 311.2h5.8v5.8h-5.8zM1421.9 311.2h5.8v5.8h-5.8zM1456.7 311.2h5.8v5.8h-5.8zM1578.5 311.2h5.8v5.8h-5.8zM1311.7 317.0h5.8v5.8h-5.8zM1317.5 318.6h5.8v2.6h-5.8zM1334.9 317.0h5.8v5.8h-5.8zM1340.7 317.0h5.8v5.8h-5.8zM1346.5 317.0h5.8v5.8h-5.8zM1352.3 317.0h5.8v5.8h-5.8zM1358.1 317.0h5.8v5.8h-5.8zM1363.9 317.0h5.8v5.8h-5.8zM1381.3 317.0h5.8v5.8h-5.8zM1387.1 317.0h5.8v5.8h-5.8zM1392.9 317.0h5.8v5.8h-5.8zM1404.5 317.0h5.8v5.8h-5.8zM1410.3 317.0h5.8v5.8h-5.8zM1416.1 317.0h5.8v5.8h-5.8zM1421.9 317.0h5.8v5.8h-5.8zM1427.7 317.0h5.8v5.8h-5.8zM1178.3 322.8h5.8v5.8h-5.8zM1184.1 322.8h5.8v5.8h-5.8zM1278.5 322.8h2.6v5.8h-2.6zM1288.5 322.8h5.8v5.8h-5.8zM1340.7 322.8h5.8v5.8h-5.8zM1346.5 322.8h5.8v5.8h-5.8zM1352.3 322.8h5.8v5.8h-5.8zM1358.1 322.8h5.8v5.8h-5.8zM1363.9 322.8h5.8v5.8h-5.8zM1369.7 322.8h5.8v5.8h-5.8zM1387.1 322.8h5.8v5.8h-5.8zM1398.7 322.8h5.8v5.8h-5.8zM1404.5 322.8h5.8v5.8h-5.8zM1427.7 322.8h5.8v5.8h-5.8zM1450.9 322.8h5.8v5.8h-5.8zM1539.3 324.2h3v3h-3zM1584.3 322.8h5.8v5.8h-5.8zM1624.9 322.8h5.8v5.8h-5.8zM1189.9 330.2h5.8v2.6h-5.8zM1213.1 328.6h5.8v5.8h-5.8zM1218.9 328.6h5.8v5.8h-5.8zM1329.1 328.6h5.8v5.8h-5.8zM1334.9 328.6h5.8v5.8h-5.8zM1346.5 328.6h5.8v5.8h-5.8zM1358.1 328.6h5.8v5.8h-5.8zM1363.9 328.6h5.8v5.8h-5.8zM1369.7 328.6h5.8v5.8h-5.8zM1392.9 328.6h5.8v5.8h-5.8zM1398.7 328.6h5.8v5.8h-5.8zM1416.1 328.6h5.8v5.8h-5.8zM1421.9 328.6h5.8v5.8h-5.8zM1433.5 328.6h5.8v5.8h-5.8zM1458.3 328.6h2.6v5.8h-2.6zM1590.1 328.6h5.8v5.8h-5.8zM1259.5 334.4h5.8v5.8h-5.8zM1282.7 334.4h5.8v5.8h-5.8zM1288.5 336.0h5.8v2.6h-5.8zM1305.9 334.4h5.8v5.8h-5.8zM1317.5 334.4h5.8v5.8h-5.8zM1323.3 334.4h5.8v5.8h-5.8zM1334.9 334.4h5.8v5.8h-5.8zM1340.7 334.4h5.8v5.8h-5.8zM1346.5 334.4h5.8v5.8h-5.8zM1352.3 334.4h5.8v5.8h-5.8zM1363.9 334.4h5.8v5.8h-5.8zM1398.7 334.4h5.8v5.8h-5.8zM1416.1 334.4h5.8v5.8h-5.8zM1317.5 340.2h5.8v5.8h-5.8zM1323.3 340.2h5.8v5.8h-5.8zM1329.1 340.2h5.8v5.8h-5.8zM1334.9 340.2h5.8v5.8h-5.8zM1358.1 340.2h5.8v5.8h-5.8zM1404.5 340.2h5.8v5.8h-5.8zM1410.3 340.2h5.8v5.8h-5.8zM1416.1 340.2h5.8v5.8h-5.8zM1427.7 340.2h5.8v5.8h-5.8zM1439.3 340.2h5.8v5.8h-5.8zM1189.9 347.6h5.8v2.6h-5.8zM1276.9 346.0h5.8v5.8h-5.8zM1294.3 346.0h5.8v5.8h-5.8zM1311.7 346.0h5.8v5.8h-5.8zM1323.3 346.0h5.8v5.8h-5.8zM1427.7 346.0h5.8v5.8h-5.8zM1468.3 346.0h5.8v5.8h-5.8zM1197.1 353.2h3v3h-3zM1218.9 351.8h5.8v5.8h-5.8zM1259.5 353.4h5.8v2.6h-5.8zM1289.9 353.2h3v3h-3zM1301.5 353.2h3v3h-3zM1305.9 351.8h5.8v5.8h-5.8zM1317.5 351.8h5.8v5.8h-5.8zM1323.3 351.8h5.8v5.8h-5.8zM1329.1 351.8h5.8v5.8h-5.8zM1334.9 351.8h5.8v5.8h-5.8zM1340.7 351.8h5.8v5.8h-5.8zM1421.9 351.8h5.8v5.8h-5.8zM1435.1 351.8h2.6v5.8h-2.6zM1253.7 357.6h5.8v5.8h-5.8zM1265.3 359.2h5.8v2.6h-5.8zM1272.7 357.6h2.6v5.8h-2.6zM1282.7 357.6h5.8v5.8h-5.8zM1300.1 357.6h5.8v5.8h-5.8zM1305.9 357.6h5.8v5.8h-5.8zM1317.5 357.6h5.8v5.8h-5.8zM1323.3 357.6h5.8v5.8h-5.8zM1329.1 357.6h5.8v5.8h-5.8zM1334.9 357.6h5.8v5.8h-5.8zM1340.7 357.6h5.8v5.8h-5.8zM1346.5 357.6h5.8v5.8h-5.8zM1410.3 357.6h5.8v5.8h-5.8zM1416.1 357.6h5.8v5.8h-5.8zM1427.7 357.6h5.8v5.8h-5.8zM1214.7 363.4h2.6v5.8h-2.6zM1266.7 364.8h3v3h-3zM1276.9 363.4h5.8v5.8h-5.8zM1282.7 363.4h5.8v5.8h-5.8zM1288.5 365.0h5.8v2.6h-5.8zM1294.3 363.4h5.8v5.8h-5.8zM1311.7 363.4h5.8v5.8h-5.8zM1317.5 363.4h5.8v5.8h-5.8zM1323.3 363.4h5.8v5.8h-5.8zM1329.1 363.4h5.8v5.8h-5.8zM1340.7 363.4h5.8v5.8h-5.8zM1410.3 363.4h5.8v5.8h-5.8zM1416.1 363.4h5.8v5.8h-5.8zM1433.5 363.4h5.8v5.8h-5.8zM1282.7 369.2h5.8v5.8h-5.8zM1294.3 369.2h5.8v5.8h-5.8zM1300.1 369.2h5.8v5.8h-5.8zM1305.9 369.2h5.8v5.8h-5.8zM1311.7 369.2h5.8v5.8h-5.8zM1317.5 369.2h5.8v5.8h-5.8zM1323.3 369.2h5.8v5.8h-5.8zM1334.9 369.2h5.8v5.8h-5.8zM1416.1 369.2h5.8v5.8h-5.8zM1421.9 369.2h5.8v5.8h-5.8zM1555.3 369.2h5.8v5.8h-5.8zM1218.9 376.6h5.8v2.6h-5.8zM1247.9 375.0h5.8v5.8h-5.8zM1282.7 375.0h5.8v5.8h-5.8zM1288.5 375.0h5.8v5.8h-5.8zM1294.3 375.0h5.8v5.8h-5.8zM1300.1 375.0h5.8v5.8h-5.8zM1311.7 375.0h5.8v5.8h-5.8zM1317.5 375.0h5.8v5.8h-5.8zM1329.1 375.0h5.8v5.8h-5.8zM1421.9 375.0h5.8v5.8h-5.8zM1433.5 375.0h5.8v5.8h-5.8zM1514.7 375.0h5.8v5.8h-5.8zM1201.5 380.8h5.8v5.8h-5.8zM1247.9 380.8h5.8v5.8h-5.8zM1265.3 382.4h5.8v2.6h-5.8zM1288.5 380.8h5.8v5.8h-5.8zM1300.1 380.8h5.8v5.8h-5.8zM1305.9 380.8h5.8v5.8h-5.8zM1317.5 380.8h5.8v5.8h-5.8zM1410.3 380.8h5.8v5.8h-5.8zM1427.7 380.8h5.8v5.8h-5.8zM1440.7 382.2h3v3h-3zM1445.1 380.8h5.8v5.8h-5.8zM1232.1 386.6h2.6v5.8h-2.6zM1242.1 386.6h5.8v5.8h-5.8zM1259.5 386.6h5.8v5.8h-5.8zM1300.1 386.6h5.8v5.8h-5.8zM1305.9 386.6h5.8v5.8h-5.8zM1311.7 386.6h5.8v5.8h-5.8zM1317.5 386.6h5.8v5.8h-5.8zM1423.3 388.0h3v3h-3zM1427.7 386.6h5.8v5.8h-5.8zM1242.1 392.4h5.8v5.8h-5.8zM1276.9 392.4h5.8v5.8h-5.8zM1288.5 392.4h5.8v5.8h-5.8zM1294.3 392.4h5.8v5.8h-5.8zM1300.1 392.4h5.8v5.8h-5.8zM1305.9 392.4h5.8v5.8h-5.8zM1311.7 392.4h5.8v5.8h-5.8zM1317.5 392.4h5.8v5.8h-5.8zM1429.3 392.4h2.6v5.8h-2.6zM1218.9 398.2h5.8v5.8h-5.8zM1255.3 398.2h2.6v5.8h-2.6zM1259.5 398.2h5.8v5.8h-5.8zM1271.1 398.2h5.8v5.8h-5.8zM1294.3 398.2h5.8v5.8h-5.8zM1300.1 398.2h5.8v5.8h-5.8zM1305.9 398.2h5.8v5.8h-5.8zM1311.7 398.2h5.8v5.8h-5.8zM1410.3 398.2h5.8v5.8h-5.8zM1416.1 398.2h5.8v5.8h-5.8zM1423.5 398.2h2.6v5.8h-2.6zM1433.5 398.2h5.8v5.8h-5.8zM1253.7 404.0h5.8v5.8h-5.8zM1265.3 404.0h5.8v5.8h-5.8zM1271.1 404.0h5.8v5.8h-5.8zM1276.9 404.0h5.8v5.8h-5.8zM1282.7 404.0h5.8v5.8h-5.8zM1288.5 404.0h5.8v5.8h-5.8zM1294.3 404.0h5.8v5.8h-5.8zM1423.5 404.0h2.6v5.8h-2.6zM1427.7 404.0h5.8v5.8h-5.8zM1201.5 409.8h5.8v5.8h-5.8zM1242.1 409.8h5.8v5.8h-5.8zM1265.3 409.8h5.8v5.8h-5.8zM1271.1 409.8h5.8v5.8h-5.8zM1282.7 409.8h5.8v5.8h-5.8zM1201.5 415.6h5.8v5.8h-5.8zM1236.3 415.6h5.8v5.8h-5.8zM1253.7 415.6h5.8v5.8h-5.8zM1265.3 415.6h5.8v5.8h-5.8zM1271.1 415.6h5.8v5.8h-5.8zM1276.9 415.6h5.8v5.8h-5.8zM1282.7 415.6h5.8v5.8h-5.8zM1294.3 415.6h5.8v5.8h-5.8zM1232.1 421.4h2.6v5.8h-2.6zM1259.5 421.4h5.8v5.8h-5.8zM1265.3 421.4h5.8v5.8h-5.8zM1271.1 421.4h5.8v5.8h-5.8zM1276.9 421.4h5.8v5.8h-5.8zM1282.7 421.4h5.8v5.8h-5.8zM1416.1 423.0h5.8v2.6h-5.8zM1423.5 421.4h2.6v5.8h-2.6zM1242.1 427.2h5.8v5.8h-5.8zM1247.9 427.2h5.8v5.8h-5.8zM1253.7 427.2h5.8v5.8h-5.8zM1259.5 427.2h5.8v5.8h-5.8zM1265.3 427.2h5.8v5.8h-5.8zM1271.1 427.2h5.8v5.8h-5.8zM1276.9 427.2h5.8v5.8h-5.8zM1288.5 427.2h5.8v5.8h-5.8zM1427.7 428.8h5.8v2.6h-5.8zM1450.9 427.2h5.8v5.8h-5.8zM1485.7 427.2h5.8v5.8h-5.8zM1578.5 428.8h5.8v2.6h-5.8zM1218.9 434.6h5.8v2.6h-5.8zM1230.5 433.0h5.8v5.8h-5.8zM1242.1 433.0h5.8v5.8h-5.8zM1247.9 433.0h5.8v5.8h-5.8zM1253.7 433.0h5.8v5.8h-5.8zM1259.5 433.0h5.8v5.8h-5.8zM1271.1 433.0h5.8v5.8h-5.8zM1282.7 433.0h5.8v5.8h-5.8zM1410.3 433.0h5.8v5.8h-5.8zM1429.3 433.0h2.6v5.8h-2.6zM1195.7 438.8h5.8v5.8h-5.8zM1208.7 440.2h3v3h-3zM1218.9 438.8h5.8v5.8h-5.8zM1236.3 438.8h5.8v5.8h-5.8zM1242.1 438.8h5.8v5.8h-5.8zM1253.7 438.8h5.8v5.8h-5.8zM1265.3 438.8h5.8v5.8h-5.8zM1271.1 438.8h5.8v5.8h-5.8zM1416.1 438.8h5.8v5.8h-5.8zM1421.9 440.4h5.8v2.6h-5.8zM1213.1 444.6h5.8v5.8h-5.8zM1218.9 444.6h5.8v5.8h-5.8zM1224.7 444.6h5.8v5.8h-5.8zM1230.5 444.6h5.8v5.8h-5.8zM1236.3 444.6h5.8v5.8h-5.8zM1242.1 444.6h5.8v5.8h-5.8zM1247.9 444.6h5.8v5.8h-5.8zM1253.7 444.6h5.8v5.8h-5.8zM1259.5 444.6h5.8v5.8h-5.8zM1421.9 444.6h5.8v5.8h-5.8zM1429.3 444.6h2.6v5.8h-2.6zM1213.1 450.4h5.8v5.8h-5.8zM1224.7 450.4h5.8v5.8h-5.8zM1230.5 450.4h5.8v5.8h-5.8zM1236.3 450.4h5.8v5.8h-5.8zM1242.1 450.4h5.8v5.8h-5.8zM1247.9 450.4h5.8v5.8h-5.8zM1253.7 450.4h5.8v5.8h-5.8zM1259.5 450.4h5.8v5.8h-5.8zM1265.3 450.4h5.8v5.8h-5.8zM1271.1 450.4h5.8v5.8h-5.8zM1417.5 451.8h3v3h-3zM1421.9 450.4h5.8v5.8h-5.8zM1213.1 456.2h5.8v5.8h-5.8zM1218.9 456.2h5.8v5.8h-5.8zM1224.7 456.2h5.8v5.8h-5.8zM1230.5 456.2h5.8v5.8h-5.8zM1242.1 456.2h5.8v5.8h-5.8zM1172.5 462.0h5.8v5.8h-5.8zM1178.3 462.0h5.8v5.8h-5.8zM1195.7 462.0h5.8v5.8h-5.8zM1201.5 462.0h5.8v5.8h-5.8zM1213.1 462.0h5.8v5.8h-5.8zM1218.9 462.0h5.8v5.8h-5.8zM1224.7 462.0h5.8v5.8h-5.8zM1230.5 462.0h5.8v5.8h-5.8zM1236.3 462.0h5.8v5.8h-5.8zM1242.1 462.0h5.8v5.8h-5.8zM1259.5 462.0h5.8v5.8h-5.8zM1416.1 462.0h5.8v5.8h-5.8zM1421.9 462.0h5.8v5.8h-5.8zM1433.5 462.0h5.8v5.8h-5.8zM1195.7 467.8h5.8v5.8h-5.8zM1213.1 467.8h5.8v5.8h-5.8zM1218.9 467.8h5.8v5.8h-5.8zM1230.5 467.8h5.8v5.8h-5.8zM1236.3 467.8h5.8v5.8h-5.8zM1242.1 467.8h5.8v5.8h-5.8zM1429.1 469.2h3v3h-3zM1433.5 469.4h5.8v2.6h-5.8zM1439.3 467.8h5.8v5.8h-5.8zM1218.9 473.6h5.8v5.8h-5.8zM1230.5 473.6h5.8v5.8h-5.8zM1417.5 475.0h3v3h-3zM1445.1 473.6h5.8v5.8h-5.8zM1189.9 479.4h5.8v5.8h-5.8zM1195.7 479.4h5.8v5.8h-5.8zM1201.5 479.4h5.8v5.8h-5.8zM1207.3 479.4h5.8v5.8h-5.8zM1218.9 479.4h5.8v5.8h-5.8zM1224.7 479.4h5.8v5.8h-5.8zM1247.9 479.4h5.8v5.8h-5.8zM1416.1 479.4h5.8v5.8h-5.8zM1421.9 481.0h5.8v2.6h-5.8zM1427.7 479.4h5.8v5.8h-5.8zM1549.5 479.4h5.8v5.8h-5.8zM1178.3 485.2h5.8v5.8h-5.8zM1185.7 485.2h2.6v5.8h-2.6zM1189.9 485.2h5.8v5.8h-5.8zM1195.7 485.2h5.8v5.8h-5.8zM1201.5 485.2h5.8v5.8h-5.8zM1207.3 485.2h5.8v5.8h-5.8zM1213.1 485.2h5.8v5.8h-5.8zM1230.5 485.2h5.8v5.8h-5.8zM1189.9 491.0h5.8v5.8h-5.8zM1201.5 491.0h5.8v5.8h-5.8zM1213.1 491.0h5.8v5.8h-5.8zM1218.9 491.0h5.8v5.8h-5.8zM1230.5 491.0h5.8v5.8h-5.8zM1236.3 491.0h5.8v5.8h-5.8zM1410.3 491.0h5.8v5.8h-5.8zM1416.1 491.0h5.8v5.8h-5.8zM1433.5 492.6h5.8v2.6h-5.8zM1162.5 496.8h2.6v5.8h-2.6zM1178.3 496.8h5.8v5.8h-5.8zM1184.1 496.8h5.8v5.8h-5.8zM1189.9 496.8h5.8v5.8h-5.8zM1195.7 496.8h5.8v5.8h-5.8zM1201.5 496.8h5.8v5.8h-5.8zM1207.3 496.8h5.8v5.8h-5.8zM1213.1 496.8h5.8v5.8h-5.8zM1218.9 496.8h5.8v5.8h-5.8zM1224.7 496.8h5.8v5.8h-5.8zM1230.5 496.8h5.8v5.8h-5.8zM1410.3 496.8h5.8v5.8h-5.8zM1421.9 496.8h5.8v5.8h-5.8zM1474.1 496.8h5.8v5.8h-5.8zM1184.1 502.6h5.8v5.8h-5.8zM1189.9 502.6h5.8v5.8h-5.8zM1195.7 502.6h5.8v5.8h-5.8zM1201.5 502.6h5.8v5.8h-5.8zM1213.1 502.6h5.8v5.8h-5.8zM1218.9 502.6h5.8v5.8h-5.8zM1224.7 502.6h5.8v5.8h-5.8zM1421.9 502.6h5.8v5.8h-5.8zM1503.1 504.2h5.8v2.6h-5.8zM1178.3 508.4h5.8v5.8h-5.8zM1189.9 508.4h5.8v5.8h-5.8zM1195.7 508.4h5.8v5.8h-5.8zM1201.5 508.4h5.8v5.8h-5.8zM1207.3 508.4h5.8v5.8h-5.8zM1218.9 508.4h5.8v5.8h-5.8zM1423.5 508.4h2.6v5.8h-2.6zM1174.1 514.2h2.6v5.8h-2.6zM1178.3 514.2h5.8v5.8h-5.8zM1189.9 514.2h5.8v5.8h-5.8zM1207.3 514.2h5.8v5.8h-5.8zM1213.1 514.2h5.8v5.8h-5.8zM1416.1 514.2h5.8v5.8h-5.8zM1421.9 515.8h5.8v2.6h-5.8zM1172.5 520.0h5.8v5.8h-5.8zM1189.9 520.0h5.8v5.8h-5.8zM1201.5 520.0h5.8v5.8h-5.8zM1207.3 520.0h5.8v5.8h-5.8zM1213.1 520.0h5.8v5.8h-5.8zM1427.7 520.0h5.8v5.8h-5.8zM1160.9 525.8h5.8v5.8h-5.8zM1166.7 527.4h5.8v2.6h-5.8zM1184.1 525.8h5.8v5.8h-5.8zM1189.9 525.8h5.8v5.8h-5.8zM1201.5 525.8h5.8v5.8h-5.8zM1410.3 527.4h5.8v2.6h-5.8zM1416.1 527.4h5.8v2.6h-5.8zM1427.7 527.4h5.8v2.6h-5.8zM1433.5 525.8h5.8v5.8h-5.8zM1172.5 531.6h5.8v5.8h-5.8zM1184.1 531.6h5.8v5.8h-5.8zM1195.7 531.6h5.8v5.8h-5.8zM1201.5 531.6h5.8v5.8h-5.8zM1410.3 531.6h5.8v5.8h-5.8zM1416.1 531.6h5.8v5.8h-5.8zM1445.1 531.6h5.8v5.8h-5.8zM1450.9 531.6h5.8v5.8h-5.8zM1184.1 537.4h5.8v5.8h-5.8zM1421.9 537.4h5.8v5.8h-5.8zM1178.3 544.8h5.8v2.6h-5.8zM1189.9 543.2h5.8v5.8h-5.8zM1416.1 543.2h5.8v5.8h-5.8zM1491.5 544.8h5.8v2.6h-5.8zM1184.1 549.0h5.8v5.8h-5.8zM1411.7 550.4h3v3h-3zM1410.3 560.6h5.8v5.8h-5.8zM1445.1 560.6h5.8v5.8h-5.8zM1456.7 560.6h5.8v5.8h-5.8zM1468.3 562.2h5.8v2.6h-5.8zM1510.5 560.6h2.6v5.8h-2.6zM1172.5 566.4h5.8v5.8h-5.8zM1411.7 567.8h3v3h-3zM1421.9 566.4h5.8v5.8h-5.8zM1427.7 572.2h5.8v5.8h-5.8zM1440.9 572.2h2.6v5.8h-2.6zM1445.1 572.2h5.8v5.8h-5.8zM1416.1 578.0h5.8v5.8h-5.8zM1491.5 578.0h5.8v5.8h-5.8zM1514.7 578.0h5.8v5.8h-5.8zM1543.7 578.0h5.8v5.8h-5.8zM1421.9 583.8h5.8v5.8h-5.8zM1474.1 585.4h5.8v2.6h-5.8zM1568.3 585.2h3v3h-3zM1481.5 589.6h2.6v5.8h-2.6zM1416.1 595.4h5.8v5.8h-5.8zM1429.1 596.8h3v3h-3zM1439.3 595.4h5.8v5.8h-5.8zM1445.1 595.4h5.8v5.8h-5.8zM1452.5 595.4h2.6v5.8h-2.6zM1458.3 595.4h2.6v5.8h-2.6zM1416.1 601.2h5.8v5.8h-5.8zM1427.7 601.2h5.8v5.8h-5.8zM1416.1 607.0h5.8v5.8h-5.8zM1435.1 607.0h2.6v5.8h-2.6zM1532.1 607.0h5.8v5.8h-5.8zM1410.3 614.4h5.8v2.6h-5.8zM1435.1 612.8h2.6v5.8h-2.6zM1445.1 614.4h5.8v2.6h-5.8zM1423.5 618.6h2.6v5.8h-2.6zM1427.7 618.6h5.8v5.8h-5.8zM1433.5 618.6h5.8v5.8h-5.8zM1445.1 620.2h5.8v2.6h-5.8zM1497.3 618.6h5.8v5.8h-5.8zM1421.9 624.4h5.8v5.8h-5.8zM1435.1 624.4h2.6v5.8h-2.6zM1439.3 624.4h5.8v5.8h-5.8zM1445.1 624.4h5.8v5.8h-5.8zM1452.3 625.8h3v3h-3zM1433.5 630.2h5.8v5.8h-5.8zM1440.9 630.2h2.6v5.8h-2.6zM1516.1 631.6h3v3h-3zM1410.3 636.0h5.8v5.8h-5.8zM1487.1 637.4h3v3h-3zM1450.9 643.4h5.8v2.6h-5.8zM1491.5 641.8h5.8v5.8h-5.8zM1427.7 647.6h5.8v5.8h-5.8zM1514.7 647.6h5.8v5.8h-5.8zM1485.7 653.4h5.8v5.8h-5.8z" fill="#0000a0"/>
<clipPath id="clip_p2"><rect x="1160.9" y="169.6" width="560.8" height="511.4"/></clipPath>
<g clip-path="url(#clip_p2)" fill="none">
<path d="M1411.5 598.0 1411.4 601.9 1411.3 605.8 1411.3 609.7 1411.2 613.6 1411.1 617.6 1411.1 621.6 1411.0 625.7 1411.0 629.8 1410.9 634.0 1410.8 638.3 1410.7 642.7 1410.7 647.3 1410.6 651.9 1410.5 656.8 1410.4 661.8 1410.4 667.0 1410.3 672.4 1410.2 678.1 1410.1 684.0 1409.6 690.0 1402.2 690.0 1395.3 690.0 1388.8 690.0 1382.8 690.0 1377.2 690.0 1371.9 690.0 1366.8 690.0 1362.1 690.0 1357.5 690.0 1353.1 690.0 1348.9 690.0 1344.9 690.0 1341.0 690.0 1337.2 690.0 1333.5 690.0 1329.9 690.0 1326.4 690.0 1322.9 690.0 1319.6 690.0 1316.2 690.0 1312.9 690.0 1309.7 690.0 1306.4 690.0 1303.2 690.0 1300.0 690.0 1296.8 690.0 1293.6 690.0 1290.3 690.0 1287.1 690.0 1283.8 690.0 1280.4 690.0 1277.1 690.0 1273.6 690.0 1270.1 690.0 1266.5 690.0 1262.8 690.0 1259.0 690.0 1255.1 690.0 1251.1 690.0 1246.9 690.0 1242.5 690.0 1237.9 690.0 1233.2 690.0 1228.1 690.0 1222.8 690.0 1217.2 690.0 1211.2 690.0 1208.6 686.3 1206.2 682.5 1203.8 678.7 1201.4 675.0 1199.0 671.3 1196.7 667.7 1194.3 664.0 1192.0 660.4 1189.6 656.7 1187.3 653.0 1185.7 648.9 1185.0 644.5 1184.3 640.1 1183.6 635.8 1182.9 631.6 1182.2 627.4 1182.3 623.0 1182.8 618.7 1183.2 614.4 1183.7 610.2 1184.1 606.1 1184.6 602.0 1185.0 598.0 1185.4 594.0 1185.8 590.0 1186.3 586.0 1186.7 582.1 1187.1 578.1 1187.5 574.1 1188.0 570.1 1188.4 566.0 1188.8 561.9 1189.3 557.7 1189.7 553.5 1191.3 549.6 1194.3 546.4 1197.2 543.3 1200.1 540.3 1202.9 537.3 1205.7 534.4 1208.4 531.4 1211.1 528.6 1213.8 525.7 1216.5 522.8 1219.2 520.0 1221.9 517.1 1224.6 514.2 1227.3 511.4 1230.0 508.5 1232.8 505.5 1235.6 502.5 1238.4 499.5 1241.1 496.0 1243.9 492.4 1246.7 488.8 1249.7 484.9 1252.7 481.0 1255.9 476.9 1259.2 472.6 1262.7 468.1 1266.4 463.3 1270.3 458.3 1274.4 453.0 1278.8 447.3 1283.5 441.3 1288.6 434.7 1294.1 427.7 1300.0 420.0 1306.5 412.3 1313.6 403.9 1321.4 394.7 1330.0 384.5 1339.7 373.1 1350.5 360.2 1362.9 345.5 1377.2 328.6 1388.0 327.2 1396.4 333.2 1403.6 341.5 1410.1 350.7 1411.2 369.9 1411.5 388.3 1411.7 404.5 1411.9 418.9 1412.1 431.8 1412.2 443.5 1412.4 454.2 1412.5 463.9 1412.6 472.9 1412.7 481.2 1412.9 489.0 1412.9 496.3 1412.9 503.2 1412.8 509.8 1412.7 516.1 1412.7 522.0 1412.6 527.7 1412.5 533.1 1412.4 538.2 1412.3 543.2 1412.2 548.0 1412.2 552.7 1412.1 557.2 1412.0 561.6 1412.0 565.9 1411.9 570.1 1411.8 574.2 1411.8 578.3 1411.7 582.3 1411.6 586.3 1411.6 590.2 1411.5 594.1ZM1403.6 597.1 1403.5 600.7 1403.5 604.3 1403.4 607.9 1403.3 611.6 1403.2 615.2 1403.0 619.0 1402.9 622.7 1402.8 626.5 1402.6 630.4 1402.4 634.3 1402.2 638.3 1402.0 642.5 1401.8 646.7 1401.5 651.0 1401.3 655.5 1401.0 660.2 1400.7 665.0 1400.4 670.0 1400.1 675.2 1399.4 680.5 1393.1 680.9 1387.2 681.3 1381.7 681.7 1376.5 682.0 1371.6 682.4 1367.0 682.7 1362.5 683.1 1358.3 683.4 1354.2 683.7 1350.2 684.0 1346.4 684.3 1342.7 684.6 1339.1 684.8 1335.6 685.1 1332.1 685.3 1328.7 685.5 1325.4 685.7 1322.1 685.8 1318.9 686.0 1315.7 686.1 1312.5 686.2 1309.4 686.3 1306.2 686.3 1303.1 686.4 1300.0 686.4 1296.9 686.4 1293.8 686.3 1290.6 686.3 1287.5 686.2 1284.3 686.1 1281.1 686.0 1277.9 685.8 1274.6 685.7 1271.3 685.5 1267.9 685.3 1264.4 685.1 1260.9 684.8 1257.3 684.6 1253.6 684.3 1249.8 684.0 1245.8 683.7 1241.7 683.4 1237.5 683.1 1233.0 682.7 1228.4 682.4 1223.5 682.0 1218.3 681.7 1215.9 678.2 1213.7 674.8 1211.4 671.4 1209.2 668.0 1207.1 664.6 1204.9 661.2 1202.8 657.8 1200.7 654.4 1198.6 651.0 1196.5 647.5 1195.0 643.8 1194.3 639.8 1193.6 635.8 1192.9 631.8 1192.3 627.9 1191.6 624.1 1191.6 620.1 1191.9 616.1 1192.2 612.2 1192.5 608.3 1192.9 604.5 1193.2 600.8 1193.5 597.1 1193.9 593.3 1194.3 589.7 1194.6 586.0 1195.0 582.3 1195.4 578.6 1195.8 574.9 1196.3 571.2 1196.7 567.4 1197.2 563.6 1197.7 559.8 1198.2 555.9 1199.6 552.4 1202.2 549.3 1204.7 546.4 1207.2 543.5 1209.7 540.6 1212.2 537.8 1214.7 535.0 1217.1 532.3 1219.6 529.6 1222.0 526.8 1224.5 524.1 1227.0 521.4 1229.5 518.7 1232.0 516.0 1234.6 513.3 1237.2 510.6 1239.9 507.9 1242.5 505.1 1245.1 502.0 1247.8 498.8 1250.5 495.5 1253.3 492.2 1256.2 488.8 1259.3 485.2 1262.5 481.5 1265.8 477.7 1269.2 473.7 1272.9 469.5 1276.7 465.1 1280.8 460.4 1285.1 455.4 1289.7 450.0 1294.7 444.3 1300.0 438.1 1305.8 431.8 1312.0 425.1 1318.9 417.7 1326.4 409.5 1334.7 400.3 1344.0 390.0 1354.5 378.3 1366.6 364.7 1375.8 363.8 1383.1 368.8 1389.4 375.8 1395.1 383.5 1396.5 399.3 1397.1 414.5 1397.7 427.9 1398.2 439.8 1398.8 450.6 1399.3 460.4 1399.8 469.4 1400.2 477.6 1400.7 485.3 1401.1 492.4 1401.5 499.1 1401.8 505.4 1402.1 511.4 1402.3 517.1 1402.5 522.6 1402.6 527.8 1402.8 532.8 1402.9 537.6 1403.0 542.3 1403.2 546.7 1403.3 551.1 1403.4 555.3 1403.4 559.4 1403.5 563.4 1403.6 567.4 1403.6 571.2 1403.6 575.0 1403.7 578.8 1403.7 582.5 1403.7 586.2 1403.7 589.8 1403.6 593.4ZM1395.3 596.0 1395.2 599.4 1395.2 602.7 1395.1 606.0 1394.9 609.4 1394.8 612.8 1394.6 616.2 1394.4 619.6 1394.1 623.0 1393.8 626.5 1393.5 630.1 1393.2 633.7 1392.9 637.4 1392.5 641.2 1392.1 645.0 1391.6 648.9 1391.1 653.0 1390.6 657.2 1390.1 661.5 1389.5 666.0 1388.7 670.5 1383.6 671.3 1378.7 672.1 1374.2 672.9 1369.9 673.6 1365.7 674.4 1361.8 675.1 1358.0 675.8 1354.3 676.5 1350.7 677.1 1347.2 677.8 1343.8 678.3 1340.4 678.9 1337.1 679.4 1333.9 679.9 1330.7 680.4 1327.5 680.8 1324.4 681.1 1321.3 681.5 1318.2 681.8 1315.2 682.0 1312.1 682.2 1309.1 682.4 1306.0 682.5 1303.0 682.6 1300.0 682.6 1297.0 682.6 1294.0 682.5 1290.9 682.4 1287.9 682.2 1284.8 682.0 1281.8 681.8 1278.7 681.5 1275.6 681.1 1272.5 680.8 1269.3 680.4 1266.1 679.9 1262.9 679.4 1259.6 678.9 1256.2 678.3 1252.8 677.8 1249.3 677.1 1245.7 676.5 1242.0 675.8 1238.2 675.1 1234.3 674.4 1230.1 673.6 1225.8 672.9 1223.6 669.8 1221.5 666.7 1219.5 663.6 1217.5 660.5 1215.5 657.4 1213.6 654.3 1211.7 651.2 1209.9 648.1 1208.0 644.9 1206.2 641.8 1204.9 638.4 1204.2 634.8 1203.4 631.2 1202.8 627.6 1202.1 624.1 1201.5 620.6 1201.4 617.0 1201.5 613.4 1201.7 609.9 1201.9 606.4 1202.1 602.9 1202.3 599.5 1202.5 596.0 1202.8 592.7 1203.1 589.3 1203.4 585.9 1203.8 582.5 1204.2 579.2 1204.6 575.8 1205.0 572.4 1205.5 568.9 1206.0 565.5 1206.5 562.0 1207.1 558.5 1208.3 555.2 1210.5 552.4 1212.7 549.6 1214.8 546.9 1216.9 544.2 1219.1 541.5 1221.3 538.8 1223.4 536.2 1225.6 533.6 1227.8 531.1 1230.1 528.5 1232.4 526.0 1234.7 523.5 1237.0 521.0 1239.4 518.5 1241.8 516.0 1244.3 513.5 1246.8 511.0 1249.3 508.2 1251.8 505.5 1254.5 502.7 1257.2 499.8 1260.0 496.9 1262.8 494.0 1265.8 490.9 1269.0 487.8 1272.2 484.6 1275.6 481.2 1279.1 477.7 1282.9 474.1 1286.8 470.2 1290.9 466.1 1295.3 461.8 1300.0 457.0 1305.0 452.4 1310.4 447.4 1316.2 441.8 1322.5 435.8 1329.5 429.0 1337.1 421.4 1345.7 412.7 1355.4 402.8 1363.0 402.3 1369.1 406.3 1374.4 411.9 1379.3 418.0 1380.9 430.2 1381.9 442.0 1382.9 452.4 1383.9 461.8 1384.8 470.4 1385.6 478.2 1386.5 485.4 1387.3 492.0 1388.0 498.3 1388.8 504.1 1389.5 509.6 1390.1 514.9 1390.7 519.9 1391.2 524.8 1391.6 529.5 1392.1 533.9 1392.5 538.3 1392.9 542.4 1393.2 546.5 1393.5 550.4 1393.8 554.3 1394.1 558.0 1394.3 561.7 1394.5 565.3 1394.7 568.9 1394.9 572.4 1395.0 575.9 1395.1 579.3 1395.2 582.7 1395.3 586.0 1395.3 589.4 1395.3 592.7ZM1385.8 594.9 1385.7 597.9 1385.6 600.9 1385.5 603.9 1385.3 606.9 1385.1 609.9 1384.8 612.9 1384.5 616.0 1384.2 619.0 1383.8 622.1 1383.4 625.2 1382.9 628.4 1382.4 631.6 1381.8 634.8 1381.2 638.1 1380.5 641.4 1379.8 644.8 1379.0 648.2 1378.2 651.7 1377.4 655.3 1376.3 659.0 1372.6 660.3 1369.0 661.5 1365.6 662.8 1362.2 664.0 1359.0 665.2 1355.8 666.3 1352.7 667.4 1349.7 668.5 1346.6 669.5 1343.7 670.5 1340.7 671.5 1337.8 672.4 1334.9 673.2 1331.9 674.0 1329.0 674.7 1326.1 675.3 1323.2 675.9 1320.3 676.5 1317.4 676.9 1314.5 677.3 1311.6 677.6 1308.7 677.9 1305.8 678.1 1302.9 678.2 1300.0 678.2 1297.1 678.2 1294.2 678.1 1291.3 677.9 1288.4 677.6 1285.5 677.3 1282.6 676.9 1279.7 676.5 1276.8 675.9 1273.9 675.3 1271.0 674.7 1268.1 674.0 1265.1 673.2 1262.2 672.4 1259.3 671.5 1256.3 670.5 1253.4 669.5 1250.3 668.5 1247.3 667.4 1244.2 666.3 1241.0 665.2 1237.8 664.0 1234.4 662.8 1232.5 660.1 1230.6 657.4 1228.8 654.7 1227.0 651.9 1225.3 649.2 1223.6 646.4 1222.0 643.6 1220.4 640.8 1218.9 638.0 1217.4 635.2 1216.3 632.2 1215.5 629.0 1214.8 625.9 1214.1 622.8 1213.5 619.7 1212.9 616.6 1212.6 613.5 1212.6 610.3 1212.6 607.2 1212.6 604.1 1212.7 601.0 1212.8 597.9 1212.9 594.9 1213.1 591.9 1213.3 588.8 1213.6 585.8 1213.9 582.8 1214.2 579.8 1214.6 576.8 1215.1 573.7 1215.6 570.7 1216.1 567.6 1216.7 564.6 1217.3 561.5 1218.4 558.6 1220.1 555.9 1221.8 553.3 1223.5 550.7 1225.2 548.2 1227.0 545.7 1228.8 543.2 1230.7 540.7 1232.6 538.3 1234.5 535.9 1236.5 533.6 1238.5 531.2 1240.6 528.9 1242.7 526.7 1244.9 524.4 1247.2 522.2 1249.5 520.0 1251.8 517.8 1254.1 515.5 1256.5 513.2 1259.0 510.9 1261.6 508.6 1264.2 506.3 1266.9 504.1 1269.7 501.8 1272.6 499.5 1275.6 497.1 1278.7 494.8 1281.9 492.3 1285.2 489.9 1288.7 487.3 1292.3 484.6 1296.1 481.9 1300.0 478.9 1304.2 476.0 1308.5 472.9 1313.2 469.6 1318.1 466.0 1323.4 462.0 1329.2 457.5 1335.5 452.4 1342.6 446.5 1348.2 446.5 1352.9 449.4 1357.2 453.3 1361.1 457.6 1363.0 465.7 1364.5 473.6 1365.9 480.7 1367.3 487.2 1368.7 493.1 1370.0 498.6 1371.2 503.8 1372.4 508.6 1373.5 513.2 1374.6 517.6 1375.7 521.8 1376.7 525.9 1377.6 529.8 1378.4 533.6 1379.2 537.4 1379.9 541.0 1380.6 544.5 1381.3 548.0 1381.9 551.4 1382.4 554.7 1383.0 558.0 1383.4 561.2 1383.9 564.4 1384.2 567.5 1384.6 570.6 1384.9 573.7 1385.1 576.8 1385.3 579.9 1385.5 582.9 1385.6 585.9 1385.7 588.9 1385.8 591.9ZM1378.3 594.0 1378.3 596.7 1378.2 599.5 1378.0 602.2 1377.8 604.9 1377.5 607.7 1377.2 610.4 1376.9 613.2 1376.4 615.9 1375.9 618.7 1375.4 621.4 1374.8 624.2 1374.1 627.0 1373.4 629.8 1372.6 632.6 1371.8 635.5 1370.9 638.3 1370.0 641.2 1368.9 644.1 1367.9 647.0 1366.7 649.9 1364.0 651.6 1361.4 653.3 1358.8 654.9 1356.2 656.5 1353.7 658.0 1351.1 659.5 1348.6 660.9 1346.1 662.3 1343.5 663.6 1340.9 664.9 1338.3 666.1 1335.7 667.2 1333.1 668.3 1330.4 669.3 1327.7 670.2 1325.0 671.1 1322.3 671.8 1319.6 672.5 1316.8 673.1 1314.0 673.6 1311.3 674.0 1308.4 674.4 1305.6 674.6 1302.8 674.8 1300.0 674.8 1297.2 674.8 1294.4 674.6 1291.6 674.4 1288.7 674.0 1286.0 673.6 1283.2 673.1 1280.4 672.5 1277.7 671.8 1275.0 671.1 1272.3 670.2 1269.6 669.3 1266.9 668.3 1264.3 667.2 1261.7 666.1 1259.1 664.9 1256.5 663.6 1253.9 662.3 1251.4 660.9 1248.9 659.5 1246.3 658.0 1243.8 656.5 1241.2 654.9 1239.4 652.5 1237.7 650.1 1236.0 647.7 1234.4 645.2 1232.9 642.8 1231.4 640.2 1230.0 637.7 1228.7 635.2 1227.4 632.6 1226.2 630.0 1225.1 627.3 1224.3 624.6 1223.6 621.8 1223.0 619.0 1222.3 616.3 1221.8 613.5 1221.5 610.7 1221.2 607.9 1221.1 605.1 1221.0 602.3 1220.9 599.5 1220.9 596.8 1221.0 594.0 1221.1 591.2 1221.3 588.5 1221.5 585.7 1221.8 583.0 1222.1 580.3 1222.5 577.5 1222.9 574.8 1223.4 572.0 1224.0 569.3 1224.6 566.6 1225.3 563.8 1226.3 561.2 1227.6 558.7 1228.9 556.2 1230.3 553.8 1231.7 551.3 1233.2 549.0 1234.8 546.6 1236.4 544.3 1238.0 542.0 1239.7 539.7 1241.5 537.5 1243.4 535.3 1245.3 533.2 1247.2 531.1 1249.2 529.0 1251.3 527.0 1253.5 525.0 1255.7 523.1 1257.9 521.1 1260.2 519.2 1262.6 517.3 1265.0 515.5 1267.6 513.7 1270.1 512.0 1272.8 510.2 1275.5 508.6 1278.3 506.9 1281.2 505.3 1284.1 503.8 1287.1 502.2 1290.2 500.7 1293.4 499.1 1296.6 497.6 1300.0 496.0 1303.5 494.5 1307.1 493.0 1310.8 491.4 1314.7 489.7 1318.7 487.8 1323.0 485.7 1327.6 483.4 1332.5 480.7 1336.7 481.2 1340.3 483.2 1343.7 485.8 1346.9 488.6 1349.0 493.6 1350.8 498.4 1352.6 502.8 1354.4 507.0 1356.1 510.9 1357.7 514.6 1359.2 518.2 1360.7 521.6 1362.2 524.9 1363.6 528.2 1364.9 531.3 1366.1 534.4 1367.3 537.5 1368.4 540.5 1369.5 543.5 1370.4 546.5 1371.4 549.4 1372.2 552.3 1373.0 555.2 1373.8 558.0 1374.5 560.9 1375.1 563.7 1375.7 566.5 1376.2 569.3 1376.6 572.0 1377.0 574.8 1377.4 577.6 1377.7 580.3 1377.9 583.1 1378.1 585.8 1378.2 588.5 1378.3 591.3ZM1374.6 593.5 1374.5 596.2 1374.4 598.8 1374.3 601.4 1374.0 604.0 1373.8 606.6 1373.4 609.2 1373.0 611.8 1372.5 614.4 1372.0 616.9 1371.4 619.5 1370.8 622.1 1370.0 624.7 1369.2 627.3 1368.4 629.9 1367.5 632.5 1366.5 635.1 1365.4 637.7 1364.3 640.3 1363.1 642.9 1361.8 645.4 1359.7 647.3 1357.6 649.1 1355.4 650.9 1353.2 652.7 1351.0 654.4 1348.8 656.0 1346.6 657.6 1344.3 659.2 1341.9 660.6 1339.5 662.1 1337.1 663.4 1334.7 664.7 1332.2 665.9 1329.7 667.0 1327.1 668.0 1324.5 668.9 1321.9 669.8 1319.2 670.6 1316.5 671.2 1313.8 671.8 1311.1 672.3 1308.3 672.6 1305.5 672.9 1302.8 673.0 1300.0 673.1 1297.2 673.0 1294.5 672.9 1291.7 672.6 1288.9 672.3 1286.2 671.8 1283.5 671.2 1280.8 670.6 1278.1 669.8 1275.5 668.9 1272.9 668.0 1270.3 667.0 1267.8 665.9 1265.3 664.7 1262.9 663.4 1260.5 662.1 1258.1 660.6 1255.7 659.2 1253.4 657.6 1251.2 656.0 1249.0 654.4 1246.8 652.7 1244.6 650.9 1242.9 648.7 1241.2 646.5 1239.6 644.2 1238.1 641.9 1236.7 639.5 1235.3 637.2 1234.0 634.8 1232.8 632.3 1231.6 629.9 1230.5 627.4 1229.6 624.9 1228.8 622.3 1228.0 619.7 1227.4 617.1 1226.8 614.5 1226.2 611.9 1225.9 609.3 1225.6 606.7 1225.3 604.0 1225.2 601.4 1225.1 598.8 1225.0 596.2 1225.0 593.5 1225.1 590.9 1225.3 588.3 1225.5 585.7 1225.7 583.1 1226.0 580.5 1226.4 577.9 1226.9 575.3 1227.4 572.7 1228.0 570.1 1228.6 567.6 1229.3 565.0 1230.2 562.5 1231.3 560.0 1232.5 557.6 1233.7 555.3 1235.0 552.9 1236.3 550.6 1237.7 548.3 1239.2 546.1 1240.8 543.8 1242.4 541.7 1244.0 539.5 1245.8 537.4 1247.6 535.3 1249.5 533.3 1251.4 531.3 1253.4 529.4 1255.5 527.6 1257.6 525.7 1259.8 523.9 1262.1 522.2 1264.4 520.5 1266.8 518.9 1269.2 517.4 1271.7 515.9 1274.3 514.5 1276.9 513.1 1279.6 511.8 1282.4 510.6 1285.2 509.5 1288.0 508.4 1290.9 507.4 1293.9 506.4 1296.9 505.4 1300.0 504.6 1303.1 503.8 1306.3 503.0 1309.6 502.2 1312.9 501.5 1316.4 500.7 1319.9 499.8 1323.6 498.9 1327.5 497.8 1330.9 498.5 1334.0 500.1 1337.0 502.0 1339.8 504.2 1342.0 507.5 1344.0 510.8 1346.0 513.9 1347.9 516.9 1349.8 519.8 1351.5 522.6 1353.3 525.4 1354.9 528.1 1356.5 530.8 1358.0 533.4 1359.5 536.1 1360.9 538.7 1362.2 541.4 1363.4 544.0 1364.6 546.6 1365.7 549.2 1366.7 551.9 1367.7 554.5 1368.6 557.1 1369.4 559.7 1370.2 562.3 1370.9 564.9 1371.6 567.5 1372.1 570.1 1372.6 572.7 1373.1 575.3 1373.5 577.9 1373.8 580.5 1374.1 583.1 1374.3 585.7 1374.5 588.3 1374.5 590.9ZM1372.1 593.2 1372.0 595.8 1371.9 598.3 1371.8 600.8 1371.5 603.3 1371.2 605.8 1370.9 608.3 1370.4 610.8 1369.9 613.3 1369.4 615.8 1368.8 618.3 1368.1 620.7 1367.3 623.2 1366.4 625.7 1365.5 628.1 1364.6 630.5 1363.5 632.9 1362.4 635.3 1361.2 637.7 1360.0 640.1 1358.6 642.4 1356.8 644.4 1355.0 646.4 1353.2 648.3 1351.2 650.2 1349.3 652.0 1347.3 653.7 1345.2 655.4 1343.1 657.1 1340.9 658.7 1338.6 660.2 1336.3 661.6 1334.0 663.0 1331.6 664.2 1329.2 665.4 1326.7 666.5 1324.1 667.5 1321.6 668.4 1318.9 669.2 1316.3 670.0 1313.6 670.6 1310.9 671.1 1308.2 671.4 1305.5 671.7 1302.7 671.9 1300.0 671.9 1297.3 671.9 1294.5 671.7 1291.8 671.4 1289.1 671.1 1286.4 670.6 1283.7 670.0 1281.1 669.2 1278.4 668.4 1275.9 667.5 1273.3 666.5 1270.8 665.4 1268.4 664.2 1266.0 663.0 1263.7 661.6 1261.4 660.2 1259.1 658.7 1256.9 657.1 1254.8 655.4 1252.7 653.7 1250.7 652.0 1248.8 650.2 1246.8 648.3 1245.2 646.2 1243.6 644.0 1242.1 641.9 1240.6 639.6 1239.2 637.4 1237.9 635.1 1236.7 632.8 1235.6 630.5 1234.5 628.1 1233.4 625.7 1232.5 623.3 1231.7 620.8 1231.0 618.4 1230.3 615.9 1229.7 613.4 1229.2 610.9 1228.8 608.4 1228.5 605.9 1228.2 603.3 1228.0 600.8 1227.8 598.3 1227.8 595.8 1227.7 593.2 1227.8 590.7 1227.9 588.2 1228.1 585.7 1228.4 583.2 1228.7 580.7 1229.1 578.2 1229.5 575.7 1230.0 573.2 1230.6 570.7 1231.3 568.2 1232.0 565.8 1232.8 563.3 1233.8 561.0 1234.8 558.6 1236.0 556.3 1237.1 554.0 1238.4 551.7 1239.7 549.5 1241.1 547.2 1242.6 545.1 1244.1 542.9 1245.7 540.8 1247.4 538.8 1249.1 536.8 1250.9 534.8 1252.8 532.9 1254.8 531.0 1256.8 529.2 1258.9 527.5 1261.1 525.8 1263.3 524.2 1265.6 522.7 1267.9 521.2 1270.3 519.8 1272.8 518.5 1275.3 517.3 1277.9 516.2 1280.5 515.1 1283.2 514.2 1285.9 513.3 1288.7 512.5 1291.4 511.8 1294.3 511.2 1297.1 510.7 1300.0 510.2 1302.9 509.9 1305.8 509.7 1308.8 509.5 1311.8 509.4 1314.8 509.3 1317.9 509.3 1320.9 509.2 1324.1 509.2 1327.0 510.0 1329.8 511.3 1332.5 512.9 1335.1 514.5 1337.3 516.7 1339.5 519.0 1341.6 521.3 1343.6 523.5 1345.6 525.7 1347.5 527.9 1349.3 530.2 1351.0 532.4 1352.7 534.7 1354.3 537.0 1355.9 539.3 1357.4 541.6 1358.8 543.9 1360.1 546.3 1361.3 548.7 1362.5 551.1 1363.6 553.5 1364.7 555.9 1365.6 558.4 1366.5 560.8 1367.4 563.3 1368.1 565.7 1368.8 568.2 1369.4 570.7 1370.0 573.2 1370.5 575.7 1370.9 578.2 1371.3 580.7 1371.6 583.2 1371.8 585.7 1371.9 588.2 1372.0 590.7Z" stroke="#2424d6" stroke-width="1.7"/>
<path d="M1370.0 593.0 1370.0 595.4 1369.9 597.9 1369.7 600.3 1369.4 602.8 1369.1 605.2 1368.8 607.6 1368.3 610.0 1367.8 612.4 1367.2 614.8 1366.5 617.2 1365.8 619.6 1365.0 621.9 1364.1 624.3 1363.2 626.6 1362.2 628.9 1361.1 631.2 1359.9 633.4 1358.6 635.6 1357.3 637.8 1355.9 639.9 1354.4 642.0 1352.9 644.1 1351.3 646.1 1349.6 648.1 1347.8 650.0 1346.0 651.8 1344.0 653.6 1342.1 655.4 1340.0 657.0 1337.9 658.6 1335.7 660.1 1333.4 661.5 1331.1 662.9 1328.7 664.1 1326.3 665.3 1323.8 666.3 1321.3 667.3 1318.7 668.2 1316.1 668.9 1313.5 669.5 1310.8 670.1 1308.1 670.5 1305.4 670.8 1302.7 670.9 1300.0 671.0 1297.3 670.9 1294.6 670.8 1291.9 670.5 1289.2 670.1 1286.5 669.5 1283.9 668.9 1281.3 668.2 1278.7 667.3 1276.2 666.3 1273.7 665.3 1271.3 664.1 1268.9 662.9 1266.6 661.5 1264.3 660.1 1262.1 658.6 1260.0 657.0 1257.9 655.4 1256.0 653.6 1254.0 651.8 1252.2 650.0 1250.4 648.1 1248.7 646.1 1247.1 644.1 1245.6 642.0 1244.1 639.9 1242.7 637.8 1241.4 635.6 1240.1 633.4 1238.9 631.2 1237.8 628.9 1236.8 626.6 1235.9 624.3 1235.0 621.9 1234.2 619.6 1233.5 617.2 1232.8 614.8 1232.2 612.4 1231.7 610.0 1231.2 607.6 1230.9 605.2 1230.6 602.8 1230.3 600.3 1230.1 597.9 1230.0 595.4 1230.0 593.0 1230.0 590.6 1230.1 588.1 1230.3 585.7 1230.6 583.2 1230.9 580.8 1231.2 578.4 1231.7 576.0 1232.2 573.6 1232.8 571.2 1233.5 568.8 1234.2 566.4 1235.0 564.1 1235.9 561.7 1236.8 559.4 1237.8 557.1 1238.9 554.8 1240.1 552.6 1241.4 550.4 1242.7 548.2 1244.1 546.1 1245.6 544.0 1247.1 541.9 1248.7 539.9 1250.4 537.9 1252.2 536.0 1254.0 534.2 1256.0 532.4 1257.9 530.6 1260.0 529.0 1262.1 527.4 1264.3 525.9 1266.6 524.5 1268.9 523.1 1271.3 521.9 1273.7 520.7 1276.2 519.7 1278.7 518.7 1281.3 517.8 1283.9 517.1 1286.5 516.5 1289.2 515.9 1291.9 515.5 1294.6 515.2 1297.3 515.1 1300.0 515.0 1302.7 515.1 1305.4 515.2 1308.1 515.5 1310.8 515.9 1313.5 516.5 1316.1 517.1 1318.7 517.8 1321.3 518.7 1323.8 519.7 1326.3 520.7 1328.7 521.9 1331.1 523.1 1333.4 524.5 1335.7 525.9 1337.9 527.4 1340.0 529.0 1342.1 530.6 1344.0 532.4 1346.0 534.2 1347.8 536.0 1349.6 537.9 1351.3 539.9 1352.9 541.9 1354.4 544.0 1355.9 546.1 1357.3 548.2 1358.6 550.4 1359.9 552.6 1361.1 554.8 1362.2 557.1 1363.2 559.4 1364.1 561.7 1365.0 564.1 1365.8 566.4 1366.5 568.8 1367.2 571.2 1367.8 573.6 1368.3 576.0 1368.8 578.4 1369.1 580.8 1369.4 583.2 1369.7 585.7 1369.9 588.1 1370.0 590.6Z" stroke="#3c5aff" stroke-width="2.2"/>
<path d="M1366.9 593.2 1366.8 595.6 1366.7 597.9 1366.6 600.2 1366.4 602.5 1366.1 604.9 1365.7 607.2 1365.3 609.5 1364.8 611.8 1364.2 614.1 1363.6 616.4 1362.9 618.6 1362.1 620.9 1361.3 623.1 1360.4 625.3 1359.4 627.5 1358.3 629.7 1357.2 631.8 1356.0 633.9 1354.8 636.0 1353.4 638.1 1352.0 640.1 1350.5 642.0 1349.0 644.0 1347.4 645.8 1345.7 647.7 1343.9 649.4 1342.1 651.1 1340.2 652.8 1338.2 654.4 1336.2 655.9 1334.1 657.3 1331.9 658.7 1329.7 660.0 1327.5 661.2 1325.1 662.3 1322.8 663.3 1320.4 664.2 1317.9 665.0 1315.4 665.7 1312.9 666.3 1310.3 666.8 1307.8 667.2 1305.2 667.5 1302.6 667.7 1300.0 667.7 1297.4 667.7 1294.8 667.5 1292.2 667.2 1289.7 666.8 1287.1 666.3 1284.6 665.7 1282.1 665.0 1279.6 664.2 1277.2 663.3 1274.9 662.3 1272.5 661.2 1270.3 660.0 1268.1 658.7 1265.9 657.3 1263.8 655.9 1261.8 654.4 1259.8 652.8 1257.9 651.1 1256.1 649.4 1254.3 647.7 1252.6 645.8 1251.0 644.0 1249.5 642.0 1248.0 640.1 1246.6 638.1 1245.2 636.0 1244.0 633.9 1242.8 631.8 1241.7 629.7 1240.6 627.5 1239.6 625.3 1238.7 623.1 1237.9 620.9 1237.1 618.6 1236.4 616.4 1235.8 614.1 1235.2 611.8 1234.7 609.5 1234.3 607.2 1233.9 604.9 1233.6 602.5 1233.4 600.2 1233.3 597.9 1233.2 595.6 1233.1 593.2 1233.2 590.9 1233.3 588.6 1233.4 586.2 1233.6 583.9 1233.9 581.6 1234.3 579.3 1234.7 577.0 1235.2 574.7 1235.8 572.4 1236.4 570.1 1237.1 567.8 1237.9 565.6 1238.7 563.3 1239.6 561.1 1240.6 558.9 1241.7 556.8 1242.8 554.6 1244.0 552.5 1245.2 550.4 1246.6 548.4 1248.0 546.4 1249.5 544.4 1251.0 542.5 1252.6 540.6 1254.3 538.8 1256.1 537.0 1257.9 535.3 1259.8 533.7 1261.8 532.1 1263.8 530.6 1265.9 529.1 1268.1 527.7 1270.3 526.5 1272.5 525.3 1274.9 524.2 1277.2 523.2 1279.6 522.2 1282.1 521.4 1284.6 520.7 1287.1 520.1 1289.7 519.6 1292.2 519.2 1294.8 518.9 1297.4 518.8 1300.0 518.7 1302.6 518.8 1305.2 518.9 1307.8 519.2 1310.3 519.6 1312.9 520.1 1315.4 520.7 1317.9 521.4 1320.4 522.2 1322.8 523.2 1325.1 524.2 1327.5 525.3 1329.7 526.5 1331.9 527.7 1334.1 529.1 1336.2 530.6 1338.2 532.1 1340.2 533.7 1342.1 535.3 1343.9 537.0 1345.7 538.8 1347.4 540.6 1349.0 542.5 1350.5 544.4 1352.0 546.4 1353.4 548.4 1354.8 550.4 1356.0 552.5 1357.2 554.6 1358.3 556.8 1359.4 558.9 1360.4 561.1 1361.3 563.3 1362.1 565.6 1362.9 567.8 1363.6 570.1 1364.2 572.4 1364.8 574.7 1365.3 577.0 1365.7 579.3 1366.1 581.6 1366.4 583.9 1366.6 586.2 1366.7 588.6 1366.8 590.9Z" stroke="#317bff" stroke-width="2.2"/>
<path d="M1363.8 593.4 1363.7 595.7 1363.6 597.9 1363.5 600.1 1363.3 602.3 1363.0 604.5 1362.6 606.8 1362.2 609.0 1361.7 611.2 1361.2 613.3 1360.6 615.5 1359.9 617.7 1359.2 619.8 1358.4 621.9 1357.5 624.0 1356.6 626.1 1355.6 628.2 1354.5 630.2 1353.4 632.2 1352.2 634.2 1350.9 636.2 1349.6 638.1 1348.2 640.0 1346.7 641.8 1345.2 643.6 1343.5 645.3 1341.9 647.0 1340.1 648.7 1338.3 650.2 1336.4 651.7 1334.5 653.2 1332.5 654.6 1330.4 655.9 1328.3 657.1 1326.2 658.2 1324.0 659.3 1321.7 660.2 1319.4 661.1 1317.1 661.9 1314.7 662.6 1312.3 663.2 1309.9 663.6 1307.4 664.0 1305.0 664.3 1302.5 664.4 1300.0 664.5 1297.5 664.4 1295.0 664.3 1292.6 664.0 1290.1 663.6 1287.7 663.2 1285.3 662.6 1282.9 661.9 1280.6 661.1 1278.3 660.2 1276.0 659.3 1273.8 658.2 1271.7 657.1 1269.6 655.9 1267.5 654.6 1265.5 653.2 1263.6 651.7 1261.7 650.2 1259.9 648.7 1258.1 647.0 1256.5 645.3 1254.8 643.6 1253.3 641.8 1251.8 640.0 1250.4 638.1 1249.1 636.2 1247.8 634.2 1246.6 632.2 1245.5 630.2 1244.4 628.2 1243.4 626.1 1242.5 624.0 1241.6 621.9 1240.8 619.8 1240.1 617.7 1239.4 615.5 1238.8 613.3 1238.3 611.2 1237.8 609.0 1237.4 606.8 1237.0 604.5 1236.7 602.3 1236.5 600.1 1236.4 597.9 1236.3 595.7 1236.2 593.4 1236.3 591.2 1236.4 589.0 1236.5 586.8 1236.7 584.6 1237.0 582.3 1237.4 580.1 1237.8 577.9 1238.3 575.7 1238.8 573.6 1239.4 571.4 1240.1 569.2 1240.8 567.1 1241.6 565.0 1242.5 562.9 1243.4 560.8 1244.4 558.7 1245.5 556.7 1246.6 554.6 1247.8 552.7 1249.1 550.7 1250.4 548.8 1251.8 546.9 1253.3 545.1 1254.8 543.3 1256.5 541.6 1258.1 539.9 1259.9 538.2 1261.7 536.7 1263.6 535.1 1265.5 533.7 1267.5 532.3 1269.6 531.0 1271.7 529.8 1273.8 528.7 1276.0 527.6 1278.3 526.6 1280.6 525.8 1282.9 525.0 1285.3 524.3 1287.7 523.7 1290.1 523.3 1292.6 522.9 1295.0 522.6 1297.5 522.5 1300.0 522.4 1302.5 522.5 1305.0 522.6 1307.4 522.9 1309.9 523.3 1312.3 523.7 1314.7 524.3 1317.1 525.0 1319.4 525.8 1321.7 526.6 1324.0 527.6 1326.2 528.7 1328.3 529.8 1330.4 531.0 1332.5 532.3 1334.5 533.7 1336.4 535.1 1338.3 536.7 1340.1 538.2 1341.9 539.9 1343.5 541.6 1345.2 543.3 1346.7 545.1 1348.2 546.9 1349.6 548.8 1350.9 550.7 1352.2 552.7 1353.4 554.6 1354.5 556.7 1355.6 558.7 1356.6 560.8 1357.5 562.9 1358.4 565.0 1359.2 567.1 1359.9 569.2 1360.6 571.4 1361.2 573.6 1361.7 575.7 1362.2 577.9 1362.6 580.1 1363.0 582.3 1363.3 584.6 1363.5 586.8 1363.6 589.0 1363.7 591.2Z" stroke="#239eff" stroke-width="2.2"/>
<path d="M1360.6 593.7 1360.6 595.8 1360.5 597.9 1360.4 600.0 1360.2 602.1 1359.9 604.2 1359.6 606.3 1359.2 608.4 1358.7 610.5 1358.2 612.6 1357.6 614.6 1357.0 616.7 1356.3 618.7 1355.5 620.8 1354.7 622.8 1353.8 624.8 1352.9 626.7 1351.9 628.7 1350.8 630.6 1349.6 632.5 1348.4 634.3 1347.2 636.1 1345.8 637.9 1344.4 639.7 1342.9 641.4 1341.4 643.0 1339.8 644.6 1338.2 646.2 1336.4 647.7 1334.6 649.1 1332.8 650.5 1330.9 651.8 1329.0 653.0 1326.9 654.2 1324.9 655.3 1322.8 656.3 1320.6 657.2 1318.5 658.0 1316.2 658.8 1314.0 659.4 1311.7 660.0 1309.4 660.4 1307.1 660.8 1304.7 661.0 1302.4 661.2 1300.0 661.2 1297.6 661.2 1295.3 661.0 1292.9 660.8 1290.6 660.4 1288.3 660.0 1286.0 659.4 1283.8 658.8 1281.5 658.0 1279.4 657.2 1277.2 656.3 1275.1 655.3 1273.1 654.2 1271.0 653.0 1269.1 651.8 1267.2 650.5 1265.4 649.1 1263.6 647.7 1261.8 646.2 1260.2 644.6 1258.6 643.0 1257.1 641.4 1255.6 639.7 1254.2 637.9 1252.8 636.1 1251.6 634.3 1250.4 632.5 1249.2 630.6 1248.1 628.7 1247.1 626.7 1246.2 624.8 1245.3 622.8 1244.5 620.8 1243.7 618.7 1243.0 616.7 1242.4 614.6 1241.8 612.6 1241.3 610.5 1240.8 608.4 1240.4 606.3 1240.1 604.2 1239.8 602.1 1239.6 600.0 1239.5 597.9 1239.4 595.8 1239.4 593.7 1239.4 591.6 1239.5 589.4 1239.6 587.3 1239.8 585.2 1240.1 583.1 1240.4 581.0 1240.8 578.9 1241.3 576.8 1241.8 574.8 1242.4 572.7 1243.0 570.6 1243.7 568.6 1244.5 566.6 1245.3 564.6 1246.2 562.6 1247.1 560.6 1248.1 558.7 1249.2 556.8 1250.4 554.9 1251.6 553.0 1252.8 551.2 1254.2 549.4 1255.6 547.7 1257.1 546.0 1258.6 544.3 1260.2 542.7 1261.8 541.2 1263.6 539.7 1265.4 538.2 1267.2 536.8 1269.1 535.5 1271.0 534.3 1273.1 533.1 1275.1 532.1 1277.2 531.1 1279.4 530.1 1281.5 529.3 1283.8 528.6 1286.0 527.9 1288.3 527.4 1290.6 526.9 1292.9 526.6 1295.3 526.3 1297.6 526.2 1300.0 526.1 1302.4 526.2 1304.7 526.3 1307.1 526.6 1309.4 526.9 1311.7 527.4 1314.0 527.9 1316.2 528.6 1318.5 529.3 1320.6 530.1 1322.8 531.1 1324.9 532.1 1326.9 533.1 1329.0 534.3 1330.9 535.5 1332.8 536.8 1334.6 538.2 1336.4 539.7 1338.2 541.2 1339.8 542.7 1341.4 544.3 1342.9 546.0 1344.4 547.7 1345.8 549.4 1347.2 551.2 1348.4 553.0 1349.6 554.9 1350.8 556.8 1351.9 558.7 1352.9 560.6 1353.8 562.6 1354.7 564.6 1355.5 566.6 1356.3 568.6 1357.0 570.6 1357.6 572.7 1358.2 574.8 1358.7 576.8 1359.2 578.9 1359.6 581.0 1359.9 583.1 1360.2 585.2 1360.4 587.3 1360.5 589.4 1360.6 591.6Z" stroke="#09c4ff" stroke-width="2.2"/>
<path d="M1357.5 593.9 1357.5 595.9 1357.4 597.9 1357.3 599.9 1357.1 601.9 1356.8 603.9 1356.5 605.9 1356.1 607.9 1355.7 609.9 1355.2 611.8 1354.7 613.8 1354.1 615.7 1353.4 617.7 1352.7 619.6 1351.9 621.5 1351.1 623.4 1350.2 625.2 1349.2 627.1 1348.2 628.9 1347.1 630.7 1345.9 632.4 1344.7 634.2 1343.5 635.9 1342.1 637.5 1340.7 639.1 1339.3 640.7 1337.8 642.2 1336.2 643.7 1334.6 645.1 1332.9 646.5 1331.1 647.8 1329.3 649.0 1327.5 650.2 1325.6 651.3 1323.6 652.3 1321.6 653.3 1319.6 654.2 1317.5 654.9 1315.4 655.6 1313.3 656.3 1311.1 656.8 1308.9 657.2 1306.7 657.5 1304.5 657.8 1302.2 657.9 1300.0 658.0 1297.8 657.9 1295.5 657.8 1293.3 657.5 1291.1 657.2 1288.9 656.8 1286.7 656.3 1284.6 655.6 1282.5 654.9 1280.4 654.2 1278.4 653.3 1276.4 652.3 1274.4 651.3 1272.5 650.2 1270.7 649.0 1268.9 647.8 1267.1 646.5 1265.4 645.1 1263.8 643.7 1262.2 642.2 1260.7 640.7 1259.3 639.1 1257.9 637.5 1256.5 635.9 1255.3 634.2 1254.1 632.4 1252.9 630.7 1251.8 628.9 1250.8 627.1 1249.8 625.2 1248.9 623.4 1248.1 621.5 1247.3 619.6 1246.6 617.7 1245.9 615.7 1245.3 613.8 1244.8 611.8 1244.3 609.9 1243.9 607.9 1243.5 605.9 1243.2 603.9 1242.9 601.9 1242.7 599.9 1242.6 597.9 1242.5 595.9 1242.5 593.9 1242.5 591.9 1242.6 589.9 1242.7 587.9 1242.9 585.9 1243.2 583.9 1243.5 581.9 1243.9 579.9 1244.3 577.9 1244.8 576.0 1245.3 574.0 1245.9 572.0 1246.6 570.1 1247.3 568.2 1248.1 566.3 1248.9 564.4 1249.8 562.5 1250.8 560.7 1251.8 558.9 1252.9 557.1 1254.1 555.3 1255.3 553.6 1256.5 551.9 1257.9 550.3 1259.3 548.7 1260.7 547.1 1262.2 545.6 1263.8 544.1 1265.4 542.7 1267.1 541.3 1268.9 540.0 1270.7 538.8 1272.5 537.6 1274.4 536.5 1276.4 535.5 1278.4 534.5 1280.4 533.6 1282.5 532.8 1284.6 532.1 1286.7 531.5 1288.9 531.0 1291.1 530.6 1293.3 530.2 1295.5 530.0 1297.8 529.9 1300.0 529.8 1302.2 529.9 1304.5 530.0 1306.7 530.2 1308.9 530.6 1311.1 531.0 1313.3 531.5 1315.4 532.1 1317.5 532.8 1319.6 533.6 1321.6 534.5 1323.6 535.5 1325.6 536.5 1327.5 537.6 1329.3 538.8 1331.1 540.0 1332.9 541.3 1334.6 542.7 1336.2 544.1 1337.8 545.6 1339.3 547.1 1340.7 548.7 1342.1 550.3 1343.5 551.9 1344.7 553.6 1345.9 555.3 1347.1 557.1 1348.2 558.9 1349.2 560.7 1350.2 562.5 1351.1 564.4 1351.9 566.3 1352.7 568.2 1353.4 570.1 1354.1 572.0 1354.7 574.0 1355.2 576.0 1355.7 577.9 1356.1 579.9 1356.5 581.9 1356.8 583.9 1357.1 585.9 1357.3 587.9 1357.4 589.9 1357.5 591.9Z" stroke="#00dcf1" stroke-width="2.2"/>
<path d="M1354.4 594.1 1354.4 596.0 1354.3 597.9 1354.2 599.8 1354.0 601.7 1353.7 603.6 1353.4 605.5 1353.1 607.3 1352.7 609.2 1352.2 611.1 1351.7 612.9 1351.1 614.8 1350.5 616.6 1349.8 618.4 1349.1 620.2 1348.3 622.0 1347.4 623.8 1346.5 625.5 1345.6 627.2 1344.5 628.9 1343.5 630.6 1342.3 632.2 1341.1 633.8 1339.8 635.4 1338.5 636.9 1337.1 638.4 1335.7 639.8 1334.2 641.2 1332.7 642.6 1331.1 643.9 1329.4 645.1 1327.7 646.3 1326.0 647.4 1324.2 648.4 1322.3 649.4 1320.4 650.3 1318.5 651.1 1316.6 651.8 1314.6 652.5 1312.5 653.1 1310.5 653.6 1308.4 654.0 1306.3 654.3 1304.2 654.5 1302.1 654.7 1300.0 654.7 1297.9 654.7 1295.8 654.5 1293.7 654.3 1291.6 654.0 1289.5 653.6 1287.5 653.1 1285.4 652.5 1283.4 651.8 1281.5 651.1 1279.6 650.3 1277.7 649.4 1275.8 648.4 1274.0 647.4 1272.3 646.3 1270.6 645.1 1268.9 643.9 1267.3 642.6 1265.8 641.2 1264.3 639.8 1262.9 638.4 1261.5 636.9 1260.2 635.4 1258.9 633.8 1257.7 632.2 1256.5 630.6 1255.5 628.9 1254.4 627.2 1253.5 625.5 1252.6 623.8 1251.7 622.0 1250.9 620.2 1250.2 618.4 1249.5 616.6 1248.9 614.8 1248.3 612.9 1247.8 611.1 1247.3 609.2 1246.9 607.3 1246.6 605.5 1246.3 603.6 1246.0 601.7 1245.8 599.8 1245.7 597.9 1245.6 596.0 1245.6 594.1 1245.6 592.2 1245.7 590.3 1245.8 588.4 1246.0 586.5 1246.3 584.6 1246.6 582.8 1246.9 580.9 1247.3 579.0 1247.8 577.1 1248.3 575.3 1248.9 573.5 1249.5 571.6 1250.2 569.8 1250.9 568.0 1251.7 566.2 1252.6 564.5 1253.5 562.7 1254.4 561.0 1255.5 559.3 1256.5 557.7 1257.7 556.0 1258.9 554.4 1260.2 552.9 1261.5 551.3 1262.9 549.8 1264.3 548.4 1265.8 547.0 1267.3 545.7 1268.9 544.4 1270.6 543.1 1272.3 542.0 1274.0 540.9 1275.8 539.8 1277.7 538.8 1279.6 538.0 1281.5 537.1 1283.4 536.4 1285.4 535.7 1287.5 535.1 1289.5 534.6 1291.6 534.2 1293.7 533.9 1295.8 533.7 1297.9 533.6 1300.0 533.5 1302.1 533.6 1304.2 533.7 1306.3 533.9 1308.4 534.2 1310.5 534.6 1312.5 535.1 1314.6 535.7 1316.6 536.4 1318.5 537.1 1320.4 538.0 1322.3 538.8 1324.2 539.8 1326.0 540.9 1327.7 542.0 1329.4 543.1 1331.1 544.4 1332.7 545.7 1334.2 547.0 1335.7 548.4 1337.1 549.8 1338.5 551.3 1339.8 552.9 1341.1 554.4 1342.3 556.0 1343.5 557.7 1344.5 559.3 1345.6 561.0 1346.5 562.7 1347.4 564.5 1348.3 566.2 1349.1 568.0 1349.8 569.8 1350.5 571.6 1351.1 573.5 1351.7 575.3 1352.2 577.1 1352.7 579.0 1353.1 580.9 1353.4 582.8 1353.7 584.6 1354.0 586.5 1354.2 588.4 1354.3 590.3 1354.4 592.2Z" stroke="#00e9d5" stroke-width="2.2"/>
<path d="M1351.3 594.3 1351.2 596.1 1351.2 597.9 1351.0 599.7 1350.9 601.5 1350.6 603.3 1350.4 605.0 1350.0 606.8 1349.7 608.6 1349.2 610.3 1348.7 612.1 1348.2 613.8 1347.6 615.5 1347.0 617.2 1346.3 618.9 1345.5 620.6 1344.7 622.3 1343.9 623.9 1342.9 625.5 1342.0 627.1 1341.0 628.7 1339.9 630.2 1338.7 631.8 1337.6 633.2 1336.3 634.7 1335.0 636.1 1333.7 637.4 1332.3 638.7 1330.8 640.0 1329.3 641.2 1327.7 642.4 1326.1 643.5 1324.5 644.5 1322.8 645.5 1321.0 646.4 1319.3 647.3 1317.5 648.1 1315.6 648.8 1313.7 649.4 1311.8 649.9 1309.9 650.4 1307.9 650.8 1306.0 651.1 1304.0 651.3 1302.0 651.4 1300.0 651.5 1298.0 651.4 1296.0 651.3 1294.0 651.1 1292.1 650.8 1290.1 650.4 1288.2 649.9 1286.3 649.4 1284.4 648.8 1282.5 648.1 1280.7 647.3 1279.0 646.4 1277.2 645.5 1275.5 644.5 1273.9 643.5 1272.3 642.4 1270.7 641.2 1269.2 640.0 1267.7 638.7 1266.3 637.4 1265.0 636.1 1263.7 634.7 1262.4 633.2 1261.3 631.8 1260.1 630.2 1259.0 628.7 1258.0 627.1 1257.1 625.5 1256.1 623.9 1255.3 622.3 1254.5 620.6 1253.7 618.9 1253.0 617.2 1252.4 615.5 1251.8 613.8 1251.3 612.1 1250.8 610.3 1250.3 608.6 1250.0 606.8 1249.6 605.0 1249.4 603.3 1249.1 601.5 1249.0 599.7 1248.8 597.9 1248.8 596.1 1248.7 594.3 1248.8 592.5 1248.8 590.8 1249.0 589.0 1249.1 587.2 1249.4 585.4 1249.6 583.6 1250.0 581.9 1250.3 580.1 1250.8 578.3 1251.3 576.6 1251.8 574.9 1252.4 573.1 1253.0 571.4 1253.7 569.7 1254.5 568.1 1255.3 566.4 1256.1 564.8 1257.1 563.1 1258.0 561.5 1259.0 560.0 1260.1 558.4 1261.3 556.9 1262.4 555.4 1263.7 554.0 1265.0 552.6 1266.3 551.2 1267.7 549.9 1269.2 548.7 1270.7 547.5 1272.3 546.3 1273.9 545.2 1275.5 544.1 1277.2 543.2 1279.0 542.2 1280.7 541.4 1282.5 540.6 1284.4 539.9 1286.3 539.3 1288.2 538.7 1290.1 538.3 1292.1 537.9 1294.0 537.6 1296.0 537.4 1298.0 537.3 1300.0 537.2 1302.0 537.3 1304.0 537.4 1306.0 537.6 1307.9 537.9 1309.9 538.3 1311.8 538.7 1313.7 539.3 1315.6 539.9 1317.5 540.6 1319.3 541.4 1321.0 542.2 1322.8 543.2 1324.5 544.1 1326.1 545.2 1327.7 546.3 1329.3 547.5 1330.8 548.7 1332.3 549.9 1333.7 551.2 1335.0 552.6 1336.3 554.0 1337.6 555.4 1338.7 556.9 1339.9 558.4 1341.0 560.0 1342.0 561.5 1342.9 563.1 1343.9 564.8 1344.7 566.4 1345.5 568.1 1346.3 569.7 1347.0 571.4 1347.6 573.1 1348.2 574.9 1348.7 576.6 1349.2 578.3 1349.7 580.1 1350.0 581.9 1350.4 583.6 1350.6 585.4 1350.9 587.2 1351.0 589.0 1351.2 590.8 1351.2 592.5Z" stroke="#00ca6a" stroke-width="2.2"/>
<path d="M1348.1 594.6 1348.1 596.2 1348.1 597.9 1347.9 599.6 1347.8 601.3 1347.6 602.9 1347.3 604.6 1347.0 606.3 1346.6 607.9 1346.2 609.6 1345.8 611.2 1345.3 612.8 1344.7 614.5 1344.1 616.1 1343.5 617.7 1342.8 619.2 1342.0 620.8 1341.2 622.3 1340.3 623.9 1339.4 625.4 1338.5 626.8 1337.5 628.3 1336.4 629.7 1335.3 631.1 1334.1 632.4 1332.9 633.8 1331.6 635.0 1330.3 636.3 1328.9 637.4 1327.5 638.6 1326.1 639.7 1324.5 640.7 1323.0 641.7 1321.4 642.6 1319.8 643.5 1318.1 644.3 1316.4 645.0 1314.7 645.7 1312.9 646.3 1311.1 646.8 1309.3 647.2 1307.4 647.6 1305.6 647.8 1303.7 648.1 1301.9 648.2 1300.0 648.2 1298.1 648.2 1296.3 648.1 1294.4 647.8 1292.6 647.6 1290.7 647.2 1288.9 646.8 1287.1 646.3 1285.3 645.7 1283.6 645.0 1281.9 644.3 1280.2 643.5 1278.6 642.6 1277.0 641.7 1275.5 640.7 1273.9 639.7 1272.5 638.6 1271.1 637.4 1269.7 636.3 1268.4 635.0 1267.1 633.8 1265.9 632.4 1264.7 631.1 1263.6 629.7 1262.5 628.3 1261.5 626.8 1260.6 625.4 1259.7 623.9 1258.8 622.3 1258.0 620.8 1257.2 619.2 1256.5 617.7 1255.9 616.1 1255.3 614.5 1254.7 612.8 1254.2 611.2 1253.8 609.6 1253.4 607.9 1253.0 606.3 1252.7 604.6 1252.4 602.9 1252.2 601.3 1252.1 599.6 1251.9 597.9 1251.9 596.2 1251.9 594.6 1251.9 592.9 1251.9 591.2 1252.1 589.5 1252.2 587.8 1252.4 586.2 1252.7 584.5 1253.0 582.8 1253.4 581.2 1253.8 579.5 1254.2 577.9 1254.7 576.3 1255.3 574.7 1255.9 573.0 1256.5 571.5 1257.2 569.9 1258.0 568.3 1258.8 566.8 1259.7 565.3 1260.6 563.8 1261.5 562.3 1262.5 560.8 1263.6 559.4 1264.7 558.0 1265.9 556.7 1267.1 555.4 1268.4 554.1 1269.7 552.9 1271.1 551.7 1272.5 550.5 1273.9 549.4 1275.5 548.4 1277.0 547.4 1278.6 546.5 1280.2 545.6 1281.9 544.8 1283.6 544.1 1285.3 543.5 1287.1 542.9 1288.9 542.4 1290.7 541.9 1292.6 541.6 1294.4 541.3 1296.3 541.1 1298.1 541.0 1300.0 540.9 1301.9 541.0 1303.7 541.1 1305.6 541.3 1307.4 541.6 1309.3 541.9 1311.1 542.4 1312.9 542.9 1314.7 543.5 1316.4 544.1 1318.1 544.8 1319.8 545.6 1321.4 546.5 1323.0 547.4 1324.5 548.4 1326.1 549.4 1327.5 550.5 1328.9 551.7 1330.3 552.9 1331.6 554.1 1332.9 555.4 1334.1 556.7 1335.3 558.0 1336.4 559.4 1337.5 560.8 1338.5 562.3 1339.4 563.8 1340.3 565.3 1341.2 566.8 1342.0 568.3 1342.8 569.9 1343.5 571.5 1344.1 573.0 1344.7 574.7 1345.3 576.3 1345.8 577.9 1346.2 579.5 1346.6 581.2 1347.0 582.8 1347.3 584.5 1347.6 586.2 1347.8 587.8 1347.9 589.5 1348.1 591.2 1348.1 592.9Z" stroke="#029700" stroke-width="2.2"/>
<path d="M1345.0 594.8 1345.0 596.4 1344.9 597.9 1344.8 599.5 1344.7 601.1 1344.5 602.6 1344.2 604.2 1343.9 605.7 1343.6 607.3 1343.2 608.8 1342.8 610.4 1342.3 611.9 1341.8 613.4 1341.2 614.9 1340.6 616.4 1340.0 617.9 1339.3 619.3 1338.5 620.8 1337.7 622.2 1336.9 623.6 1336.0 625.0 1335.0 626.3 1334.0 627.6 1333.0 628.9 1331.9 630.2 1330.8 631.4 1329.6 632.6 1328.3 633.8 1327.1 634.9 1325.7 636.0 1324.4 637.0 1323.0 637.9 1321.5 638.9 1320.0 639.7 1318.5 640.5 1316.9 641.3 1315.3 642.0 1313.7 642.6 1312.1 643.1 1310.4 643.6 1308.7 644.0 1307.0 644.4 1305.2 644.6 1303.5 644.8 1301.8 644.9 1300.0 645.0 1298.2 644.9 1296.5 644.8 1294.8 644.6 1293.0 644.4 1291.3 644.0 1289.6 643.6 1287.9 643.1 1286.3 642.6 1284.7 642.0 1283.1 641.3 1281.5 640.5 1280.0 639.7 1278.5 638.9 1277.0 637.9 1275.6 637.0 1274.3 636.0 1272.9 634.9 1271.7 633.8 1270.4 632.6 1269.2 631.4 1268.1 630.2 1267.0 628.9 1266.0 627.6 1265.0 626.3 1264.0 625.0 1263.1 623.6 1262.3 622.2 1261.5 620.8 1260.7 619.3 1260.0 617.9 1259.4 616.4 1258.8 614.9 1258.2 613.4 1257.7 611.9 1257.2 610.4 1256.8 608.8 1256.4 607.3 1256.1 605.7 1255.8 604.2 1255.5 602.6 1255.3 601.1 1255.2 599.5 1255.1 597.9 1255.0 596.4 1255.0 594.8 1255.0 593.2 1255.1 591.6 1255.2 590.1 1255.3 588.5 1255.5 586.9 1255.8 585.4 1256.1 583.8 1256.4 582.3 1256.8 580.7 1257.2 579.2 1257.7 577.7 1258.2 576.2 1258.8 574.7 1259.4 573.2 1260.0 571.7 1260.7 570.2 1261.5 568.8 1262.3 567.4 1263.1 566.0 1264.0 564.6 1265.0 563.2 1266.0 561.9 1267.0 560.6 1268.1 559.4 1269.2 558.1 1270.4 556.9 1271.7 555.8 1272.9 554.7 1274.3 553.6 1275.6 552.6 1277.0 551.6 1278.5 550.7 1280.0 549.8 1281.5 549.0 1283.1 548.3 1284.7 547.6 1286.3 547.0 1287.9 546.4 1289.6 546.0 1291.3 545.6 1293.0 545.2 1294.8 545.0 1296.5 544.8 1298.2 544.6 1300.0 544.6 1301.8 544.6 1303.5 544.8 1305.2 545.0 1307.0 545.2 1308.7 545.6 1310.4 546.0 1312.1 546.4 1313.7 547.0 1315.3 547.6 1316.9 548.3 1318.5 549.0 1320.0 549.8 1321.5 550.7 1323.0 551.6 1324.4 552.6 1325.7 553.6 1327.1 554.7 1328.3 555.8 1329.6 556.9 1330.8 558.1 1331.9 559.4 1333.0 560.6 1334.0 561.9 1335.0 563.2 1336.0 564.6 1336.9 566.0 1337.7 567.4 1338.5 568.8 1339.3 570.2 1340.0 571.7 1340.6 573.2 1341.2 574.7 1341.8 576.2 1342.3 577.7 1342.8 579.2 1343.2 580.7 1343.6 582.3 1343.9 583.8 1344.2 585.4 1344.5 586.9 1344.7 588.5 1344.8 590.1 1344.9 591.6 1345.0 593.2Z" stroke="#2fa600" stroke-width="2.2"/>
<path d="M1341.9 595.0 1341.9 596.5 1341.8 597.9 1341.7 599.4 1341.6 600.8 1341.4 602.3 1341.2 603.8 1340.9 605.2 1340.6 606.6 1340.2 608.1 1339.8 609.5 1339.4 610.9 1338.9 612.3 1338.4 613.7 1337.8 615.1 1337.2 616.5 1336.6 617.8 1335.8 619.2 1335.1 620.5 1334.3 621.8 1333.5 623.1 1332.6 624.4 1331.7 625.6 1330.7 626.8 1329.7 628.0 1328.6 629.1 1327.5 630.2 1326.4 631.3 1325.2 632.3 1323.9 633.3 1322.7 634.3 1321.4 635.2 1320.0 636.0 1318.6 636.8 1317.2 637.6 1315.7 638.3 1314.3 638.9 1312.8 639.5 1311.2 640.0 1309.7 640.4 1308.1 640.8 1306.5 641.1 1304.9 641.4 1303.3 641.6 1301.6 641.7 1300.0 641.7 1298.4 641.7 1296.7 641.6 1295.1 641.4 1293.5 641.1 1291.9 640.8 1290.3 640.4 1288.8 640.0 1287.2 639.5 1285.7 638.9 1284.3 638.3 1282.8 637.6 1281.4 636.8 1280.0 636.0 1278.6 635.2 1277.3 634.3 1276.1 633.3 1274.8 632.3 1273.6 631.3 1272.5 630.2 1271.4 629.1 1270.3 628.0 1269.3 626.8 1268.3 625.6 1267.4 624.4 1266.5 623.1 1265.7 621.8 1264.9 620.5 1264.2 619.2 1263.4 617.8 1262.8 616.5 1262.2 615.1 1261.6 613.7 1261.1 612.3 1260.6 610.9 1260.2 609.5 1259.8 608.1 1259.4 606.6 1259.1 605.2 1258.8 603.8 1258.6 602.3 1258.4 600.8 1258.3 599.4 1258.2 597.9 1258.1 596.5 1258.1 595.0 1258.1 593.5 1258.2 592.1 1258.3 590.6 1258.4 589.2 1258.6 587.7 1258.8 586.3 1259.1 584.8 1259.4 583.4 1259.8 581.9 1260.2 580.5 1260.6 579.1 1261.1 577.7 1261.6 576.3 1262.2 574.9 1262.8 573.5 1263.4 572.2 1264.2 570.8 1264.9 569.5 1265.7 568.2 1266.5 566.9 1267.4 565.7 1268.3 564.4 1269.3 563.2 1270.3 562.0 1271.4 560.9 1272.5 559.8 1273.6 558.7 1274.8 557.7 1276.1 556.7 1277.3 555.7 1278.6 554.8 1280.0 554.0 1281.4 553.2 1282.8 552.4 1284.3 551.7 1285.7 551.1 1287.2 550.5 1288.8 550.0 1290.3 549.6 1291.9 549.2 1293.5 548.9 1295.1 548.6 1296.7 548.5 1298.4 548.3 1300.0 548.3 1301.6 548.3 1303.3 548.5 1304.9 548.6 1306.5 548.9 1308.1 549.2 1309.7 549.6 1311.2 550.0 1312.8 550.5 1314.3 551.1 1315.7 551.7 1317.2 552.4 1318.6 553.2 1320.0 554.0 1321.4 554.8 1322.7 555.7 1323.9 556.7 1325.2 557.7 1326.4 558.7 1327.5 559.8 1328.6 560.9 1329.7 562.0 1330.7 563.2 1331.7 564.4 1332.6 565.7 1333.5 566.9 1334.3 568.2 1335.1 569.5 1335.8 570.8 1336.6 572.2 1337.2 573.5 1337.8 574.9 1338.4 576.3 1338.9 577.7 1339.4 579.1 1339.8 580.5 1340.2 581.9 1340.6 583.4 1340.9 584.8 1341.2 586.3 1341.4 587.7 1341.6 589.2 1341.7 590.6 1341.8 592.1 1341.9 593.5Z" stroke="#a0d300" stroke-width="2.2"/>
<path d="M1338.8 595.2 1338.8 596.6 1338.7 597.9 1338.6 599.3 1338.5 600.6 1338.3 602.0 1338.1 603.3 1337.8 604.7 1337.6 606.0 1337.2 607.3 1336.9 608.6 1336.5 610.0 1336.0 611.3 1335.5 612.6 1335.0 613.8 1334.4 615.1 1333.8 616.4 1333.2 617.6 1332.5 618.8 1331.8 620.0 1331.0 621.2 1330.2 622.4 1329.3 623.5 1328.4 624.6 1327.5 625.7 1326.5 626.8 1325.5 627.8 1324.4 628.8 1323.3 629.8 1322.2 630.7 1321.0 631.6 1319.8 632.4 1318.5 633.2 1317.2 633.9 1315.9 634.6 1314.6 635.3 1313.2 635.9 1311.8 636.4 1310.4 636.9 1308.9 637.3 1307.5 637.6 1306.0 637.9 1304.5 638.2 1303.0 638.3 1301.5 638.4 1300.0 638.4 1298.5 638.4 1297.0 638.3 1295.5 638.2 1294.0 637.9 1292.5 637.6 1291.1 637.3 1289.6 636.9 1288.2 636.4 1286.8 635.9 1285.4 635.3 1284.1 634.6 1282.8 633.9 1281.5 633.2 1280.2 632.4 1279.0 631.6 1277.8 630.7 1276.7 629.8 1275.6 628.8 1274.5 627.8 1273.5 626.8 1272.5 625.7 1271.6 624.6 1270.7 623.5 1269.8 622.4 1269.0 621.2 1268.2 620.0 1267.5 618.8 1266.8 617.6 1266.2 616.4 1265.6 615.1 1265.0 613.8 1264.5 612.6 1264.0 611.3 1263.5 610.0 1263.1 608.6 1262.8 607.3 1262.4 606.0 1262.2 604.7 1261.9 603.3 1261.7 602.0 1261.5 600.6 1261.4 599.3 1261.3 597.9 1261.2 596.6 1261.2 595.2 1261.2 593.9 1261.3 592.5 1261.4 591.2 1261.5 589.8 1261.7 588.5 1261.9 587.1 1262.2 585.8 1262.4 584.5 1262.8 583.1 1263.1 581.8 1263.5 580.5 1264.0 579.2 1264.5 577.9 1265.0 576.6 1265.6 575.3 1266.2 574.1 1266.8 572.9 1267.5 571.6 1268.2 570.4 1269.0 569.2 1269.8 568.1 1270.7 566.9 1271.6 565.8 1272.5 564.7 1273.5 563.7 1274.5 562.6 1275.6 561.6 1276.7 560.7 1277.8 559.8 1279.0 558.9 1280.2 558.0 1281.5 557.3 1282.8 556.5 1284.1 555.8 1285.4 555.2 1286.8 554.6 1288.2 554.1 1289.6 553.6 1291.1 553.2 1292.5 552.8 1294.0 552.5 1295.5 552.3 1297.0 552.1 1298.5 552.0 1300.0 552.0 1301.5 552.0 1303.0 552.1 1304.5 552.3 1306.0 552.5 1307.5 552.8 1308.9 553.2 1310.4 553.6 1311.8 554.1 1313.2 554.6 1314.6 555.2 1315.9 555.8 1317.2 556.5 1318.5 557.3 1319.8 558.0 1321.0 558.9 1322.2 559.8 1323.3 560.7 1324.4 561.6 1325.5 562.6 1326.5 563.7 1327.5 564.7 1328.4 565.8 1329.3 566.9 1330.2 568.1 1331.0 569.2 1331.8 570.4 1332.5 571.6 1333.2 572.9 1333.8 574.1 1334.4 575.3 1335.0 576.6 1335.5 577.9 1336.0 579.2 1336.5 580.5 1336.9 581.8 1337.2 583.1 1337.6 584.5 1337.8 585.8 1338.1 587.1 1338.3 588.5 1338.5 589.8 1338.6 591.2 1338.7 592.5 1338.8 593.9Z" stroke="#ebeb00" stroke-width="2.2"/>
<path d="M1335.7 595.5 1335.6 596.7 1335.6 597.9 1335.5 599.2 1335.4 600.4 1335.2 601.7 1335.0 602.9 1334.8 604.1 1334.5 605.4 1334.2 606.6 1333.9 607.8 1333.5 609.0 1333.1 610.2 1332.7 611.4 1332.2 612.6 1331.7 613.7 1331.1 614.9 1330.5 616.0 1329.9 617.2 1329.2 618.3 1328.5 619.4 1327.7 620.4 1326.9 621.5 1326.1 622.5 1325.3 623.5 1324.4 624.5 1323.4 625.4 1322.4 626.3 1321.4 627.2 1320.4 628.1 1319.3 628.9 1318.2 629.6 1317.0 630.4 1315.8 631.1 1314.6 631.7 1313.4 632.3 1312.1 632.8 1310.9 633.3 1309.5 633.7 1308.2 634.1 1306.9 634.4 1305.5 634.7 1304.1 634.9 1302.8 635.1 1301.4 635.2 1300.0 635.2 1298.6 635.2 1297.2 635.1 1295.9 634.9 1294.5 634.7 1293.1 634.4 1291.8 634.1 1290.5 633.7 1289.1 633.3 1287.9 632.8 1286.6 632.3 1285.4 631.7 1284.2 631.1 1283.0 630.4 1281.8 629.6 1280.7 628.9 1279.6 628.1 1278.6 627.2 1277.6 626.3 1276.6 625.4 1275.6 624.5 1274.7 623.5 1273.9 622.5 1273.1 621.5 1272.3 620.4 1271.5 619.4 1270.8 618.3 1270.1 617.2 1269.5 616.0 1268.9 614.9 1268.3 613.7 1267.8 612.6 1267.3 611.4 1266.9 610.2 1266.5 609.0 1266.1 607.8 1265.8 606.6 1265.5 605.4 1265.2 604.1 1265.0 602.9 1264.8 601.7 1264.6 600.4 1264.5 599.2 1264.4 597.9 1264.4 596.7 1264.3 595.5 1264.4 594.2 1264.4 593.0 1264.5 591.7 1264.6 590.5 1264.8 589.2 1265.0 588.0 1265.2 586.8 1265.5 585.5 1265.8 584.3 1266.1 583.1 1266.5 581.9 1266.9 580.7 1267.3 579.5 1267.8 578.3 1268.3 577.2 1268.9 576.0 1269.5 574.9 1270.1 573.7 1270.8 572.6 1271.5 571.5 1272.3 570.5 1273.1 569.4 1273.9 568.4 1274.7 567.4 1275.6 566.4 1276.6 565.5 1277.6 564.6 1278.6 563.7 1279.6 562.8 1280.7 562.0 1281.8 561.3 1283.0 560.5 1284.2 559.9 1285.4 559.2 1286.6 558.6 1287.9 558.1 1289.1 557.6 1290.5 557.2 1291.8 556.8 1293.1 556.5 1294.5 556.2 1295.9 556.0 1297.2 555.8 1298.6 555.7 1300.0 555.7 1301.4 555.7 1302.8 555.8 1304.1 556.0 1305.5 556.2 1306.9 556.5 1308.2 556.8 1309.5 557.2 1310.9 557.6 1312.1 558.1 1313.4 558.6 1314.6 559.2 1315.8 559.9 1317.0 560.5 1318.2 561.3 1319.3 562.0 1320.4 562.8 1321.4 563.7 1322.4 564.6 1323.4 565.5 1324.4 566.4 1325.3 567.4 1326.1 568.4 1326.9 569.4 1327.7 570.5 1328.5 571.5 1329.2 572.6 1329.9 573.7 1330.5 574.9 1331.1 576.0 1331.7 577.2 1332.2 578.3 1332.7 579.5 1333.1 580.7 1333.5 581.9 1333.9 583.1 1334.2 584.3 1334.5 585.5 1334.8 586.8 1335.0 588.0 1335.2 589.2 1335.4 590.5 1335.5 591.7 1335.6 593.0 1335.6 594.2Z" stroke="#ffe300" stroke-width="2.2"/>
<path d="M1332.5 595.7 1332.5 596.8 1332.5 597.9 1332.4 599.1 1332.3 600.2 1332.1 601.3 1332.0 602.5 1331.8 603.6 1331.5 604.7 1331.2 605.8 1330.9 606.9 1330.6 608.0 1330.2 609.1 1329.8 610.2 1329.4 611.3 1328.9 612.4 1328.4 613.4 1327.8 614.5 1327.3 615.5 1326.6 616.5 1326.0 617.5 1325.3 618.5 1324.6 619.4 1323.8 620.4 1323.0 621.3 1322.2 622.2 1321.4 623.0 1320.5 623.9 1319.6 624.7 1318.6 625.4 1317.6 626.2 1316.6 626.9 1315.5 627.5 1314.5 628.2 1313.4 628.7 1312.2 629.3 1311.1 629.8 1309.9 630.2 1308.7 630.6 1307.5 631.0 1306.3 631.3 1305.0 631.5 1303.8 631.7 1302.5 631.8 1301.3 631.9 1300.0 631.9 1298.7 631.9 1297.5 631.8 1296.2 631.7 1295.0 631.5 1293.7 631.3 1292.5 631.0 1291.3 630.6 1290.1 630.2 1288.9 629.8 1287.8 629.3 1286.6 628.7 1285.5 628.2 1284.5 627.5 1283.4 626.9 1282.4 626.2 1281.4 625.4 1280.4 624.7 1279.5 623.9 1278.6 623.0 1277.8 622.2 1277.0 621.3 1276.2 620.4 1275.4 619.4 1274.7 618.5 1274.0 617.5 1273.4 616.5 1272.7 615.5 1272.2 614.5 1271.6 613.4 1271.1 612.4 1270.6 611.3 1270.2 610.2 1269.8 609.1 1269.4 608.0 1269.1 606.9 1268.8 605.8 1268.5 604.7 1268.2 603.6 1268.0 602.5 1267.9 601.3 1267.7 600.2 1267.6 599.1 1267.5 597.9 1267.5 596.8 1267.5 595.7 1267.5 594.5 1267.5 593.4 1267.6 592.3 1267.7 591.1 1267.9 590.0 1268.0 588.9 1268.2 587.8 1268.5 586.6 1268.8 585.5 1269.1 584.4 1269.4 583.3 1269.8 582.2 1270.2 581.1 1270.6 580.1 1271.1 579.0 1271.6 577.9 1272.2 576.9 1272.7 575.9 1273.4 574.9 1274.0 573.9 1274.7 572.9 1275.4 571.9 1276.2 571.0 1277.0 570.1 1277.8 569.2 1278.6 568.3 1279.5 567.5 1280.4 566.7 1281.4 565.9 1282.4 565.2 1283.4 564.5 1284.5 563.8 1285.5 563.2 1286.6 562.6 1287.8 562.1 1288.9 561.6 1290.1 561.1 1291.3 560.7 1292.5 560.4 1293.7 560.1 1295.0 559.9 1296.2 559.7 1297.5 559.5 1298.7 559.4 1300.0 559.4 1301.3 559.4 1302.5 559.5 1303.8 559.7 1305.0 559.9 1306.3 560.1 1307.5 560.4 1308.7 560.7 1309.9 561.1 1311.1 561.6 1312.2 562.1 1313.4 562.6 1314.5 563.2 1315.5 563.8 1316.6 564.5 1317.6 565.2 1318.6 565.9 1319.6 566.7 1320.5 567.5 1321.4 568.3 1322.2 569.2 1323.0 570.1 1323.8 571.0 1324.6 571.9 1325.3 572.9 1326.0 573.9 1326.6 574.9 1327.3 575.9 1327.8 576.9 1328.4 577.9 1328.9 579.0 1329.4 580.1 1329.8 581.1 1330.2 582.2 1330.6 583.3 1330.9 584.4 1331.2 585.5 1331.5 586.6 1331.8 587.8 1332.0 588.9 1332.1 590.0 1332.3 591.1 1332.4 592.3 1332.5 593.4 1332.5 594.5Z" stroke="#ffc200" stroke-width="2.2"/>
<path d="M1329.4 595.9 1329.4 596.9 1329.4 598.0 1329.3 599.0 1329.2 600.0 1329.1 601.0 1328.9 602.0 1328.7 603.1 1328.5 604.1 1328.2 605.1 1328.0 606.1 1327.7 607.1 1327.3 608.1 1327.0 609.0 1326.6 610.0 1326.1 611.0 1325.7 611.9 1325.2 612.9 1324.6 613.8 1324.1 614.7 1323.5 615.6 1322.9 616.5 1322.2 617.4 1321.5 618.2 1320.8 619.0 1320.1 619.8 1319.3 620.6 1318.5 621.4 1317.7 622.1 1316.8 622.8 1315.9 623.5 1315.0 624.1 1314.0 624.7 1313.1 625.3 1312.1 625.8 1311.1 626.3 1310.0 626.7 1309.0 627.1 1307.9 627.5 1306.8 627.8 1305.7 628.1 1304.6 628.3 1303.4 628.5 1302.3 628.6 1301.1 628.7 1300.0 628.7 1298.9 628.7 1297.7 628.6 1296.6 628.5 1295.4 628.3 1294.3 628.1 1293.2 627.8 1292.1 627.5 1291.0 627.1 1290.0 626.7 1288.9 626.3 1287.9 625.8 1286.9 625.3 1286.0 624.7 1285.0 624.1 1284.1 623.5 1283.2 622.8 1282.3 622.1 1281.5 621.4 1280.7 620.6 1279.9 619.8 1279.2 619.0 1278.5 618.2 1277.8 617.4 1277.1 616.5 1276.5 615.6 1275.9 614.7 1275.4 613.8 1274.8 612.9 1274.3 611.9 1273.9 611.0 1273.4 610.0 1273.0 609.0 1272.7 608.1 1272.3 607.1 1272.0 606.1 1271.8 605.1 1271.5 604.1 1271.3 603.1 1271.1 602.0 1270.9 601.0 1270.8 600.0 1270.7 599.0 1270.6 598.0 1270.6 596.9 1270.6 595.9 1270.6 594.9 1270.6 593.8 1270.7 592.8 1270.8 591.8 1270.9 590.8 1271.1 589.8 1271.3 588.7 1271.5 587.7 1271.8 586.7 1272.0 585.7 1272.3 584.7 1272.7 583.7 1273.0 582.8 1273.4 581.8 1273.9 580.8 1274.3 579.9 1274.8 578.9 1275.4 578.0 1275.9 577.1 1276.5 576.2 1277.1 575.3 1277.8 574.4 1278.5 573.6 1279.2 572.8 1279.9 572.0 1280.7 571.2 1281.5 570.4 1282.3 569.7 1283.2 569.0 1284.1 568.3 1285.0 567.7 1286.0 567.1 1286.9 566.5 1287.9 566.0 1288.9 565.5 1290.0 565.1 1291.0 564.7 1292.1 564.3 1293.2 564.0 1294.3 563.7 1295.4 563.5 1296.6 563.3 1297.7 563.2 1298.9 563.1 1300.0 563.1 1301.1 563.1 1302.3 563.2 1303.4 563.3 1304.6 563.5 1305.7 563.7 1306.8 564.0 1307.9 564.3 1309.0 564.7 1310.0 565.1 1311.1 565.5 1312.1 566.0 1313.1 566.5 1314.0 567.1 1315.0 567.7 1315.9 568.3 1316.8 569.0 1317.7 569.7 1318.5 570.4 1319.3 571.2 1320.1 572.0 1320.8 572.8 1321.5 573.6 1322.2 574.4 1322.9 575.3 1323.5 576.2 1324.1 577.1 1324.6 578.0 1325.2 578.9 1325.7 579.9 1326.1 580.8 1326.6 581.8 1327.0 582.8 1327.3 583.7 1327.7 584.7 1328.0 585.7 1328.2 586.7 1328.5 587.7 1328.7 588.7 1328.9 589.8 1329.1 590.8 1329.2 591.8 1329.3 592.8 1329.4 593.8 1329.4 594.9Z" stroke="#ff9d00" stroke-width="2.2"/>
<path d="M1326.3 596.1 1326.3 597.0 1326.2 598.0 1326.2 598.9 1326.1 599.8 1326.0 600.7 1325.8 601.6 1325.7 602.5 1325.5 603.4 1325.2 604.3 1325.0 605.2 1324.7 606.1 1324.4 607.0 1324.1 607.9 1323.7 608.7 1323.3 609.6 1322.9 610.5 1322.5 611.3 1322.0 612.1 1321.5 612.9 1321.0 613.7 1320.5 614.5 1319.9 615.3 1319.3 616.1 1318.6 616.8 1318.0 617.5 1317.3 618.2 1316.5 618.9 1315.8 619.5 1315.0 620.2 1314.2 620.8 1313.4 621.3 1312.6 621.9 1311.7 622.4 1310.8 622.8 1309.9 623.3 1309.0 623.7 1308.0 624.0 1307.0 624.4 1306.1 624.6 1305.1 624.9 1304.1 625.1 1303.1 625.2 1302.0 625.3 1301.0 625.4 1300.0 625.4 1299.0 625.4 1298.0 625.3 1296.9 625.2 1295.9 625.1 1294.9 624.9 1293.9 624.6 1293.0 624.4 1292.0 624.0 1291.0 623.7 1290.1 623.3 1289.2 622.8 1288.3 622.4 1287.4 621.9 1286.6 621.3 1285.8 620.8 1285.0 620.2 1284.2 619.5 1283.5 618.9 1282.7 618.2 1282.0 617.5 1281.4 616.8 1280.7 616.1 1280.1 615.3 1279.5 614.5 1279.0 613.7 1278.5 612.9 1278.0 612.1 1277.5 611.3 1277.1 610.5 1276.7 609.6 1276.3 608.7 1275.9 607.9 1275.6 607.0 1275.3 606.1 1275.0 605.2 1274.8 604.3 1274.5 603.4 1274.3 602.5 1274.2 601.6 1274.0 600.7 1273.9 599.8 1273.8 598.9 1273.8 598.0 1273.7 597.0 1273.7 596.1 1273.7 595.2 1273.8 594.3 1273.8 593.4 1273.9 592.5 1274.0 591.5 1274.2 590.6 1274.3 589.7 1274.5 588.8 1274.8 587.9 1275.0 587.0 1275.3 586.1 1275.6 585.2 1275.9 584.4 1276.3 583.5 1276.7 582.6 1277.1 581.8 1277.5 580.9 1278.0 580.1 1278.5 579.3 1279.0 578.5 1279.5 577.7 1280.1 576.9 1280.7 576.2 1281.4 575.4 1282.0 574.7 1282.7 574.0 1283.5 573.3 1284.2 572.7 1285.0 572.1 1285.8 571.5 1286.6 570.9 1287.4 570.4 1288.3 569.9 1289.2 569.4 1290.1 569.0 1291.0 568.6 1292.0 568.2 1293.0 567.9 1293.9 567.6 1294.9 567.4 1295.9 567.2 1296.9 567.0 1298.0 566.9 1299.0 566.8 1300.0 566.8 1301.0 566.8 1302.0 566.9 1303.1 567.0 1304.1 567.2 1305.1 567.4 1306.1 567.6 1307.0 567.9 1308.0 568.2 1309.0 568.6 1309.9 569.0 1310.8 569.4 1311.7 569.9 1312.6 570.4 1313.4 570.9 1314.2 571.5 1315.0 572.1 1315.8 572.7 1316.5 573.3 1317.3 574.0 1318.0 574.7 1318.6 575.4 1319.3 576.2 1319.9 576.9 1320.5 577.7 1321.0 578.5 1321.5 579.3 1322.0 580.1 1322.5 580.9 1322.9 581.8 1323.3 582.6 1323.7 583.5 1324.1 584.4 1324.4 585.2 1324.7 586.1 1325.0 587.0 1325.2 587.9 1325.5 588.8 1325.7 589.7 1325.8 590.6 1326.0 591.5 1326.1 592.5 1326.2 593.4 1326.2 594.3 1326.3 595.2Z" stroke="#ff7400" stroke-width="2.2"/>
<path d="M1323.2 596.3 1323.2 597.2 1323.1 598.0 1323.1 598.8 1323.0 599.6 1322.9 600.4 1322.8 601.2 1322.6 602.0 1322.4 602.8 1322.2 603.6 1322.0 604.4 1321.8 605.1 1321.5 605.9 1321.2 606.7 1320.9 607.5 1320.6 608.2 1320.2 609.0 1319.8 609.7 1319.4 610.4 1319.0 611.2 1318.5 611.9 1318.0 612.6 1317.5 613.3 1317.0 613.9 1316.4 614.6 1315.8 615.2 1315.2 615.8 1314.6 616.4 1313.9 617.0 1313.2 617.5 1312.5 618.1 1311.8 618.6 1311.1 619.0 1310.3 619.5 1309.5 619.9 1308.7 620.3 1307.9 620.6 1307.1 620.9 1306.2 621.2 1305.3 621.5 1304.5 621.7 1303.6 621.9 1302.7 622.0 1301.8 622.1 1300.9 622.1 1300.0 622.2 1299.1 622.1 1298.2 622.1 1297.3 622.0 1296.4 621.9 1295.5 621.7 1294.7 621.5 1293.8 621.2 1292.9 620.9 1292.1 620.6 1291.3 620.3 1290.5 619.9 1289.7 619.5 1288.9 619.0 1288.2 618.6 1287.5 618.1 1286.8 617.5 1286.1 617.0 1285.4 616.4 1284.8 615.8 1284.2 615.2 1283.6 614.6 1283.0 613.9 1282.5 613.3 1282.0 612.6 1281.5 611.9 1281.0 611.2 1280.6 610.4 1280.2 609.7 1279.8 609.0 1279.4 608.2 1279.1 607.5 1278.8 606.7 1278.5 605.9 1278.2 605.1 1278.0 604.4 1277.8 603.6 1277.6 602.8 1277.4 602.0 1277.2 601.2 1277.1 600.4 1277.0 599.6 1276.9 598.8 1276.9 598.0 1276.8 597.2 1276.8 596.3 1276.8 595.5 1276.9 594.7 1276.9 593.9 1277.0 593.1 1277.1 592.3 1277.2 591.5 1277.4 590.7 1277.6 589.9 1277.8 589.1 1278.0 588.3 1278.2 587.5 1278.5 586.8 1278.8 586.0 1279.1 585.2 1279.4 584.5 1279.8 583.7 1280.2 583.0 1280.6 582.2 1281.0 581.5 1281.5 580.8 1282.0 580.1 1282.5 579.4 1283.0 578.8 1283.6 578.1 1284.2 577.5 1284.8 576.9 1285.4 576.3 1286.1 575.7 1286.8 575.2 1287.5 574.6 1288.2 574.1 1288.9 573.7 1289.7 573.2 1290.5 572.8 1291.3 572.4 1292.1 572.1 1292.9 571.7 1293.8 571.5 1294.7 571.2 1295.5 571.0 1296.4 570.8 1297.3 570.7 1298.2 570.6 1299.1 570.5 1300.0 570.5 1300.9 570.5 1301.8 570.6 1302.7 570.7 1303.6 570.8 1304.5 571.0 1305.3 571.2 1306.2 571.5 1307.1 571.7 1307.9 572.1 1308.7 572.4 1309.5 572.8 1310.3 573.2 1311.1 573.7 1311.8 574.1 1312.5 574.6 1313.2 575.2 1313.9 575.7 1314.6 576.3 1315.2 576.9 1315.8 577.5 1316.4 578.1 1317.0 578.8 1317.5 579.4 1318.0 580.1 1318.5 580.8 1319.0 581.5 1319.4 582.2 1319.8 583.0 1320.2 583.7 1320.6 584.5 1320.9 585.2 1321.2 586.0 1321.5 586.8 1321.8 587.5 1322.0 588.3 1322.2 589.1 1322.4 589.9 1322.6 590.7 1322.8 591.5 1322.9 592.3 1323.0 593.1 1323.1 593.9 1323.1 594.7 1323.2 595.5Z" stroke="#ff4a00" stroke-width="2.2"/>
<path d="M1320.1 596.6 1320.0 597.3 1320.0 598.0 1320.0 598.7 1319.9 599.4 1319.8 600.1 1319.7 600.8 1319.6 601.4 1319.4 602.1 1319.3 602.8 1319.1 603.5 1318.9 604.2 1318.6 604.9 1318.4 605.5 1318.1 606.2 1317.8 606.8 1317.5 607.5 1317.2 608.1 1316.8 608.8 1316.4 609.4 1316.0 610.0 1315.6 610.6 1315.2 611.2 1314.7 611.8 1314.2 612.3 1313.7 612.9 1313.2 613.4 1312.6 613.9 1312.0 614.4 1311.5 614.9 1310.9 615.4 1310.2 615.8 1309.6 616.2 1308.9 616.6 1308.2 616.9 1307.5 617.3 1306.8 617.6 1306.1 617.9 1305.4 618.1 1304.6 618.3 1303.9 618.5 1303.1 618.6 1302.3 618.8 1301.6 618.8 1300.8 618.9 1300.0 618.9 1299.2 618.9 1298.4 618.8 1297.7 618.8 1296.9 618.6 1296.1 618.5 1295.4 618.3 1294.6 618.1 1293.9 617.9 1293.2 617.6 1292.5 617.3 1291.8 616.9 1291.1 616.6 1290.4 616.2 1289.8 615.8 1289.1 615.4 1288.5 614.9 1288.0 614.4 1287.4 613.9 1286.8 613.4 1286.3 612.9 1285.8 612.3 1285.3 611.8 1284.8 611.2 1284.4 610.6 1284.0 610.0 1283.6 609.4 1283.2 608.8 1282.8 608.1 1282.5 607.5 1282.2 606.8 1281.9 606.2 1281.6 605.5 1281.4 604.9 1281.1 604.2 1280.9 603.5 1280.7 602.8 1280.6 602.1 1280.4 601.4 1280.3 600.8 1280.2 600.1 1280.1 599.4 1280.0 598.7 1280.0 598.0 1280.0 597.3 1279.9 596.6 1280.0 595.9 1280.0 595.2 1280.0 594.5 1280.1 593.8 1280.2 593.1 1280.3 592.4 1280.4 591.7 1280.6 591.0 1280.7 590.3 1280.9 589.6 1281.1 589.0 1281.4 588.3 1281.6 587.6 1281.9 586.9 1282.2 586.3 1282.5 585.6 1282.8 585.0 1283.2 584.4 1283.6 583.7 1284.0 583.1 1284.4 582.5 1284.8 581.9 1285.3 581.4 1285.8 580.8 1286.3 580.2 1286.8 579.7 1287.4 579.2 1288.0 578.7 1288.5 578.2 1289.1 577.8 1289.8 577.3 1290.4 576.9 1291.1 576.5 1291.8 576.2 1292.5 575.9 1293.2 575.6 1293.9 575.3 1294.6 575.0 1295.4 574.8 1296.1 574.6 1296.9 574.5 1297.7 574.4 1298.4 574.3 1299.2 574.2 1300.0 574.2 1300.8 574.2 1301.6 574.3 1302.3 574.4 1303.1 574.5 1303.9 574.6 1304.6 574.8 1305.4 575.0 1306.1 575.3 1306.8 575.6 1307.5 575.9 1308.2 576.2 1308.9 576.5 1309.6 576.9 1310.2 577.3 1310.9 577.8 1311.5 578.2 1312.0 578.7 1312.6 579.2 1313.2 579.7 1313.7 580.2 1314.2 580.8 1314.7 581.4 1315.2 581.9 1315.6 582.5 1316.0 583.1 1316.4 583.7 1316.8 584.4 1317.2 585.0 1317.5 585.6 1317.8 586.3 1318.1 586.9 1318.4 587.6 1318.6 588.3 1318.9 589.0 1319.1 589.6 1319.3 590.3 1319.4 591.0 1319.6 591.7 1319.7 592.4 1319.8 593.1 1319.9 593.8 1320.0 594.5 1320.0 595.2 1320.0 595.9Z" stroke="#ff2a00" stroke-width="2.2"/>
<path d="M1316.9 596.8 1316.9 597.4 1316.9 598.0 1316.9 598.6 1316.8 599.2 1316.7 599.7 1316.6 600.3 1316.5 600.9 1316.4 601.5 1316.3 602.1 1316.1 602.6 1315.9 603.2 1315.7 603.8 1315.5 604.4 1315.3 604.9 1315.0 605.5 1314.8 606.0 1314.5 606.6 1314.2 607.1 1313.9 607.6 1313.5 608.1 1313.2 608.6 1312.8 609.1 1312.4 609.6 1312.0 610.1 1311.6 610.6 1311.1 611.0 1310.7 611.5 1310.2 611.9 1309.7 612.3 1309.2 612.7 1308.6 613.0 1308.1 613.4 1307.5 613.7 1307.0 614.0 1306.4 614.3 1305.8 614.5 1305.2 614.8 1304.5 615.0 1303.9 615.2 1303.3 615.3 1302.6 615.4 1302.0 615.5 1301.3 615.6 1300.7 615.6 1300.0 615.7 1299.3 615.6 1298.7 615.6 1298.0 615.5 1297.4 615.4 1296.7 615.3 1296.1 615.2 1295.5 615.0 1294.8 614.8 1294.2 614.5 1293.6 614.3 1293.0 614.0 1292.5 613.7 1291.9 613.4 1291.4 613.0 1290.8 612.7 1290.3 612.3 1289.8 611.9 1289.3 611.5 1288.9 611.0 1288.4 610.6 1288.0 610.1 1287.6 609.6 1287.2 609.1 1286.8 608.6 1286.5 608.1 1286.1 607.6 1285.8 607.1 1285.5 606.6 1285.2 606.0 1285.0 605.5 1284.7 604.9 1284.5 604.4 1284.3 603.8 1284.1 603.2 1283.9 602.6 1283.7 602.1 1283.6 601.5 1283.5 600.9 1283.4 600.3 1283.3 599.7 1283.2 599.2 1283.1 598.6 1283.1 598.0 1283.1 597.4 1283.1 596.8 1283.1 596.2 1283.1 595.6 1283.1 595.0 1283.2 594.4 1283.3 593.8 1283.4 593.3 1283.5 592.7 1283.6 592.1 1283.7 591.5 1283.9 590.9 1284.1 590.4 1284.3 589.8 1284.5 589.2 1284.7 588.7 1285.0 588.1 1285.2 587.6 1285.5 587.0 1285.8 586.5 1286.1 586.0 1286.5 585.4 1286.8 584.9 1287.2 584.4 1287.6 583.9 1288.0 583.5 1288.4 583.0 1288.9 582.6 1289.3 582.1 1289.8 581.7 1290.3 581.3 1290.8 580.9 1291.4 580.6 1291.9 580.2 1292.5 579.9 1293.0 579.6 1293.6 579.3 1294.2 579.0 1294.8 578.8 1295.5 578.6 1296.1 578.4 1296.7 578.3 1297.4 578.2 1298.0 578.1 1298.7 578.0 1299.3 577.9 1300.0 577.9 1300.7 577.9 1301.3 578.0 1302.0 578.1 1302.6 578.2 1303.3 578.3 1303.9 578.4 1304.5 578.6 1305.2 578.8 1305.8 579.0 1306.4 579.3 1307.0 579.6 1307.5 579.9 1308.1 580.2 1308.6 580.6 1309.2 580.9 1309.7 581.3 1310.2 581.7 1310.7 582.1 1311.1 582.6 1311.6 583.0 1312.0 583.5 1312.4 583.9 1312.8 584.4 1313.2 584.9 1313.5 585.4 1313.9 586.0 1314.2 586.5 1314.5 587.0 1314.8 587.6 1315.0 588.1 1315.3 588.7 1315.5 589.2 1315.7 589.8 1315.9 590.4 1316.1 590.9 1316.3 591.5 1316.4 592.1 1316.5 592.7 1316.6 593.3 1316.7 593.8 1316.8 594.4 1316.9 595.0 1316.9 595.6 1316.9 596.2Z" stroke="#ff1b00" stroke-width="2.2"/>
<path d="M1313.8 597.0 1313.8 597.5 1313.8 598.0 1313.7 598.5 1313.7 598.9 1313.6 599.4 1313.6 599.9 1313.5 600.4 1313.4 600.8 1313.3 601.3 1313.1 601.8 1313.0 602.3 1312.8 602.7 1312.7 603.2 1312.5 603.6 1312.3 604.1 1312.0 604.5 1311.8 605.0 1311.6 605.4 1311.3 605.8 1311.0 606.3 1310.7 606.7 1310.4 607.1 1310.1 607.5 1309.8 607.9 1309.4 608.3 1309.1 608.6 1308.7 609.0 1308.3 609.3 1307.9 609.6 1307.5 610.0 1307.0 610.3 1306.6 610.5 1306.1 610.8 1305.7 611.0 1305.2 611.3 1304.7 611.5 1304.2 611.7 1303.7 611.8 1303.2 612.0 1302.7 612.1 1302.1 612.2 1301.6 612.3 1301.1 612.4 1300.5 612.4 1300.0 612.4 1299.5 612.4 1298.9 612.4 1298.4 612.3 1297.9 612.2 1297.3 612.1 1296.8 612.0 1296.3 611.8 1295.8 611.7 1295.3 611.5 1294.8 611.3 1294.3 611.0 1293.9 610.8 1293.4 610.5 1293.0 610.3 1292.5 610.0 1292.1 609.6 1291.7 609.3 1291.3 609.0 1290.9 608.6 1290.6 608.3 1290.2 607.9 1289.9 607.5 1289.6 607.1 1289.3 606.7 1289.0 606.3 1288.7 605.8 1288.4 605.4 1288.2 605.0 1288.0 604.5 1287.7 604.1 1287.5 603.6 1287.3 603.2 1287.2 602.7 1287.0 602.3 1286.9 601.8 1286.7 601.3 1286.6 600.8 1286.5 600.4 1286.4 599.9 1286.4 599.4 1286.3 598.9 1286.3 598.5 1286.2 598.0 1286.2 597.5 1286.2 597.0 1286.2 596.5 1286.2 596.0 1286.3 595.6 1286.3 595.1 1286.4 594.6 1286.4 594.1 1286.5 593.7 1286.6 593.2 1286.7 592.7 1286.9 592.2 1287.0 591.8 1287.2 591.3 1287.3 590.8 1287.5 590.4 1287.7 589.9 1288.0 589.5 1288.2 589.0 1288.4 588.6 1288.7 588.2 1289.0 587.8 1289.3 587.3 1289.6 586.9 1289.9 586.5 1290.2 586.1 1290.6 585.8 1290.9 585.4 1291.3 585.1 1291.7 584.7 1292.1 584.4 1292.5 584.1 1293.0 583.8 1293.4 583.5 1293.9 583.2 1294.3 583.0 1294.8 582.8 1295.3 582.5 1295.8 582.4 1296.3 582.2 1296.8 582.0 1297.3 581.9 1297.9 581.8 1298.4 581.7 1298.9 581.7 1299.5 581.6 1300.0 581.6 1300.5 581.6 1301.1 581.7 1301.6 581.7 1302.1 581.8 1302.7 581.9 1303.2 582.0 1303.7 582.2 1304.2 582.4 1304.7 582.5 1305.2 582.8 1305.7 583.0 1306.1 583.2 1306.6 583.5 1307.0 583.8 1307.5 584.1 1307.9 584.4 1308.3 584.7 1308.7 585.1 1309.1 585.4 1309.4 585.8 1309.8 586.1 1310.1 586.5 1310.4 586.9 1310.7 587.3 1311.0 587.8 1311.3 588.2 1311.6 588.6 1311.8 589.0 1312.0 589.5 1312.3 589.9 1312.5 590.4 1312.7 590.8 1312.8 591.3 1313.0 591.8 1313.1 592.2 1313.3 592.7 1313.4 593.2 1313.5 593.7 1313.6 594.1 1313.6 594.6 1313.7 595.1 1313.7 595.6 1313.8 596.0 1313.8 596.5Z" stroke="#ff1600" stroke-width="2.2"/>
<path d="M1310.7 597.2 1310.7 597.6 1310.7 598.0 1310.6 598.4 1310.6 598.7 1310.6 599.1 1310.5 599.5 1310.4 599.8 1310.4 600.2 1310.3 600.6 1310.2 600.9 1310.0 601.3 1309.9 601.7 1309.8 602.0 1309.6 602.4 1309.5 602.7 1309.3 603.1 1309.1 603.4 1309.0 603.7 1308.8 604.1 1308.5 604.4 1308.3 604.7 1308.1 605.0 1307.8 605.3 1307.6 605.6 1307.3 605.9 1307.0 606.2 1306.7 606.5 1306.4 606.8 1306.1 607.0 1305.8 607.3 1305.4 607.5 1305.1 607.7 1304.8 607.9 1304.4 608.1 1304.0 608.3 1303.6 608.4 1303.3 608.6 1302.9 608.7 1302.5 608.8 1302.1 608.9 1301.7 609.0 1301.2 609.1 1300.8 609.1 1300.4 609.1 1300.0 609.1 1299.6 609.1 1299.2 609.1 1298.8 609.1 1298.3 609.0 1297.9 608.9 1297.5 608.8 1297.1 608.7 1296.7 608.6 1296.4 608.4 1296.0 608.3 1295.6 608.1 1295.2 607.9 1294.9 607.7 1294.6 607.5 1294.2 607.3 1293.9 607.0 1293.6 606.8 1293.3 606.5 1293.0 606.2 1292.7 605.9 1292.4 605.6 1292.2 605.3 1291.9 605.0 1291.7 604.7 1291.5 604.4 1291.2 604.1 1291.0 603.7 1290.9 603.4 1290.7 603.1 1290.5 602.7 1290.4 602.4 1290.2 602.0 1290.1 601.7 1290.0 601.3 1289.8 600.9 1289.7 600.6 1289.6 600.2 1289.6 599.8 1289.5 599.5 1289.4 599.1 1289.4 598.7 1289.4 598.4 1289.3 598.0 1289.3 597.6 1289.3 597.2 1289.3 596.9 1289.3 596.5 1289.4 596.1 1289.4 595.7 1289.4 595.4 1289.5 595.0 1289.6 594.6 1289.6 594.3 1289.7 593.9 1289.8 593.5 1290.0 593.2 1290.1 592.8 1290.2 592.5 1290.4 592.1 1290.5 591.8 1290.7 591.4 1290.9 591.1 1291.0 590.7 1291.2 590.4 1291.5 590.1 1291.7 589.8 1291.9 589.4 1292.2 589.1 1292.4 588.8 1292.7 588.5 1293.0 588.3 1293.3 588.0 1293.6 587.7 1293.9 587.5 1294.2 587.2 1294.6 587.0 1294.9 586.8 1295.2 586.6 1295.6 586.4 1296.0 586.2 1296.4 586.0 1296.7 585.9 1297.1 585.8 1297.5 585.6 1297.9 585.5 1298.3 585.5 1298.8 585.4 1299.2 585.4 1299.6 585.3 1300.0 585.3 1300.4 585.3 1300.8 585.4 1301.2 585.4 1301.7 585.5 1302.1 585.5 1302.5 585.6 1302.9 585.8 1303.3 585.9 1303.6 586.0 1304.0 586.2 1304.4 586.4 1304.8 586.6 1305.1 586.8 1305.4 587.0 1305.8 587.2 1306.1 587.5 1306.4 587.7 1306.7 588.0 1307.0 588.3 1307.3 588.5 1307.6 588.8 1307.8 589.1 1308.1 589.4 1308.3 589.8 1308.5 590.1 1308.8 590.4 1309.0 590.7 1309.1 591.1 1309.3 591.4 1309.5 591.8 1309.6 592.1 1309.8 592.5 1309.9 592.8 1310.0 593.2 1310.2 593.5 1310.3 593.9 1310.4 594.3 1310.4 594.6 1310.5 595.0 1310.6 595.4 1310.6 595.7 1310.6 596.1 1310.7 596.5 1310.7 596.9Z" stroke="#ff1100" stroke-width="2.2"/>
</g>
<path d="M1313.6 682.4 L1353.0 630.0 L1374.0 567.6 L1395.0 442.0 L1401.0 367.0 L1405.5 275.0 L1407.6 259.4 L1660.2 259.4 L1587.0 682.4 Z" stroke="#0808ff" stroke-width="6" fill="none" stroke-linejoin="round"/>
<text transform="translate(1512.22,233.05) scale(0.9973,1)" font-family="'Liberation Sans', sans-serif" font-size="44.52" font-weight="bold" fill="#0808ff" >0.75%</text>
<path d="M1157.9 169.6 V689.1999999999999 M1155.1000000000001 686.4 H1718.7" stroke="#0a2160" stroke-width="5.8" fill="none"/>
<path d="M1136.9 686.6 H1157.9 M1148.4 654.5 H1157.9 M1148.4 622.4 H1157.9 M1148.4 590.3 H1157.9 M1136.9 558.2 H1157.9 M1148.4 526.1 H1157.9 M1148.4 494.0 H1157.9 M1148.4 461.9 H1157.9 M1136.9 429.8 H1157.9 M1148.4 397.7 H1157.9 M1148.4 365.6 H1157.9 M1148.4 333.5 H1157.9 M1136.9 301.4 H1157.9 M1148.4 269.3 H1157.9 M1148.4 237.2 H1157.9 M1148.4 205.1 H1157.9 M1136.9 173.0 H1157.9" stroke="#0a2160" stroke-width="2.8" fill="none"/>
<path d="M1175.3 688.4 v8 M1199.0 688.4 v8 M1230.1 688.4 v15 M1239.0 688.4 v8 M1246.2 688.4 v8 M1251.6 688.4 v8 M1255.9 688.4 v8 M1259.5 688.4 v11 M1262.3 688.4 v11 M1264.5 688.4 v11 M1265.9 688.4 v17 M1268.4 688.4 v8 M1271.6 688.4 v8 M1275.4 688.4 v8 M1280.2 688.4 v8 M1285.6 688.4 v8 M1291.3 688.4 v8 M1297.6 688.4 v15 M1327.9 688.4 v8 M1352.6 688.4 v8 M1371.9 688.4 v8 M1387.0 688.4 v8 M1398.0 688.4 v8 M1410.4 688.4 v8 M1419.4 688.4 v8 M1427.2 688.4 v8 M1435.2 688.4 v15 M1478.7 688.4 v8 M1504.1 688.4 v8 M1522.1 688.4 v8 M1536.1 688.4 v8 M1547.6 688.4 v8 M1557.2 688.4 v8 M1565.6 688.4 v8 M1573.0 688.4 v8 M1579.6 688.4 v15 M1620.8 688.4 v8 M1645.0 688.4 v8 M1662.1 688.4 v8 M1675.4 688.4 v8 M1686.2 688.4 v8 M1695.4 688.4 v8 M1703.3 688.4 v8 M1710.3 688.4 v8 M1716.6 688.4 v15" stroke="#0a2160" stroke-width="2.6" fill="none"/>
<text transform="translate(1001.02,705.92) scale(1.0980,1)" font-family="'DejaVu Sans', sans-serif" font-size="32.21" fill="#22229c" >-5 x10</text>
<text transform="translate(1112.49,685.10) scale(0.8606,1)" font-family="'DejaVu Sans', sans-serif" font-size="24.66" fill="#22229c" >4</text>
<text transform="translate(984.93,576.82) scale(1.0565,1)" font-family="'DejaVu Sans', sans-serif" font-size="32.21" fill="#22229c" >2.1 x10</text>
<text transform="translate(1111.65,555.64) scale(0.9898,1)" font-family="'DejaVu Sans', sans-serif" font-size="24.16" fill="#22229c" >5</text>
<text transform="translate(984.07,448.82) scale(1.0637,1)" font-family="'DejaVu Sans', sans-serif" font-size="32.21" fill="#22229c" >4.8 x10</text>
<text transform="translate(1111.65,427.64) scale(0.9898,1)" font-family="'DejaVu Sans', sans-serif" font-size="24.16" fill="#22229c" >5</text>
<text transform="translate(983.77,321.12) scale(1.0662,1)" font-family="'DejaVu Sans', sans-serif" font-size="32.21" fill="#22229c" >7.4 x10</text>
<text transform="translate(1111.65,299.94) scale(0.9898,1)" font-family="'DejaVu Sans', sans-serif" font-size="24.16" fill="#22229c" >5</text>
<text transform="translate(1016.37,192.32) scale(1.0809,1)" font-family="'DejaVu Sans', sans-serif" font-size="32.21" fill="#22229c" >1 x10</text>
<text transform="translate(1111.93,171.14) scale(0.9464,1)" font-family="'DejaVu Sans', sans-serif" font-size="23.76" fill="#22229c" >6</text>
<text transform="translate(1192.96,756.82) scale(1.0767,1)" font-family="'DejaVu Sans', sans-serif" font-size="32.08" fill="#22229c" >-10</text>
<text transform="translate(1249.58,735.50) scale(1.0799,1)" font-family="'DejaVu Sans', sans-serif" font-size="23.30" fill="#22229c" >2</text>
<text transform="translate(1404.54,756.82) scale(1.0367,1)" font-family="'DejaVu Sans', sans-serif" font-size="32.08" fill="#22229c" >10</text>
<text transform="translate(1445.76,735.16) scale(1.1344,1)" font-family="'DejaVu Sans', sans-serif" font-size="22.84" fill="#22229c" >3</text>
<text transform="translate(1548.94,756.82) scale(1.0367,1)" font-family="'DejaVu Sans', sans-serif" font-size="32.08" fill="#22229c" >10</text>
<text transform="translate(1590.98,735.50) scale(0.9905,1)" font-family="'DejaVu Sans', sans-serif" font-size="23.70" fill="#22229c" >4</text>
<text transform="translate(1685.94,756.82) scale(1.0367,1)" font-family="'DejaVu Sans', sans-serif" font-size="32.08" fill="#22229c" >10</text>
<text transform="translate(1727.05,735.15) scale(1.1392,1)" font-family="'DejaVu Sans', sans-serif" font-size="23.22" fill="#22229c" >5</text>
</g>
<g id="p3">
<path d="M593.4 891.0h5.8v5.8h-5.8zM624.0 891.0h2.6v5.8h-2.6zM593.4 896.8h5.8v5.8h-5.8zM612.4 896.8h2.6v5.8h-2.6zM616.6 896.8h5.8v5.8h-5.8zM581.8 902.6h5.8v5.8h-5.8zM593.4 902.6h5.8v5.8h-5.8zM599.2 904.2h5.8v2.6h-5.8zM610.8 902.6h5.8v5.8h-5.8zM577.4 909.8h3v3h-3zM583.2 909.8h3v3h-3zM610.8 908.4h5.8v5.8h-5.8zM616.6 908.4h5.8v5.8h-5.8zM628.2 908.4h5.8v5.8h-5.8zM634.0 910.0h5.8v2.6h-5.8zM645.6 908.4h5.8v5.8h-5.8zM581.8 914.2h5.8v5.8h-5.8zM587.6 914.2h5.8v5.8h-5.8zM593.4 914.2h5.8v5.8h-5.8zM599.2 914.2h5.8v5.8h-5.8zM605.0 914.2h5.8v5.8h-5.8zM610.8 914.2h5.8v5.8h-5.8zM616.6 914.2h5.8v5.8h-5.8zM622.4 914.2h5.8v5.8h-5.8zM628.2 914.2h5.8v5.8h-5.8zM634.0 914.2h5.8v5.8h-5.8zM639.8 914.2h5.8v5.8h-5.8zM564.4 920.0h5.8v5.8h-5.8zM587.6 920.0h5.8v5.8h-5.8zM593.4 920.0h5.8v5.8h-5.8zM599.2 920.0h5.8v5.8h-5.8zM610.8 920.0h5.8v5.8h-5.8zM616.6 920.0h5.8v5.8h-5.8zM628.2 920.0h5.8v5.8h-5.8zM564.4 925.8h5.8v5.8h-5.8zM587.6 925.8h5.8v5.8h-5.8zM610.8 925.8h5.8v5.8h-5.8zM616.6 925.8h5.8v5.8h-5.8zM628.2 925.8h5.8v5.8h-5.8zM634.0 925.8h5.8v5.8h-5.8zM645.6 925.8h5.8v5.8h-5.8zM587.6 931.6h5.8v5.8h-5.8zM593.4 931.6h5.8v5.8h-5.8zM605.0 931.6h5.8v5.8h-5.8zM628.2 931.6h5.8v5.8h-5.8zM645.6 933.2h5.8v2.6h-5.8zM657.2 933.2h5.8v2.6h-5.8zM860.2 931.6h5.8v5.8h-5.8zM564.4 939.0h5.8v2.6h-5.8zM576.0 937.4h5.8v5.8h-5.8zM581.8 937.4h5.8v5.8h-5.8zM587.6 937.4h5.8v5.8h-5.8zM593.4 937.4h5.8v5.8h-5.8zM606.6 937.4h2.6v5.8h-2.6zM628.2 937.4h5.8v5.8h-5.8zM668.8 937.4h5.8v5.8h-5.8zM558.6 943.2h5.8v5.8h-5.8zM570.2 944.8h5.8v2.6h-5.8zM576.0 943.2h5.8v5.8h-5.8zM628.2 943.2h5.8v5.8h-5.8zM763.2 943.2h2.6v5.8h-2.6zM773.2 943.2h5.8v5.8h-5.8zM558.6 950.6h5.8v2.6h-5.8zM564.4 949.0h5.8v5.8h-5.8zM581.8 949.0h5.8v5.8h-5.8zM587.6 949.0h5.8v5.8h-5.8zM738.4 949.0h5.8v5.8h-5.8zM802.2 949.0h5.8v5.8h-5.8zM541.2 956.4h5.8v2.6h-5.8zM558.6 954.8h5.8v5.8h-5.8zM576.0 954.8h5.8v5.8h-5.8zM581.8 954.8h5.8v5.8h-5.8zM634.0 954.8h5.8v5.8h-5.8zM815.4 954.8h2.6v5.8h-2.6zM825.4 954.8h5.8v5.8h-5.8zM564.4 960.6h5.8v5.8h-5.8zM657.2 962.2h5.8v2.6h-5.8zM558.6 966.4h5.8v5.8h-5.8zM570.2 966.4h5.8v5.8h-5.8zM576.0 966.4h5.8v5.8h-5.8zM581.8 966.4h5.8v5.8h-5.8zM709.4 966.4h5.8v5.8h-5.8zM558.6 972.2h5.8v5.8h-5.8zM564.4 972.2h5.8v5.8h-5.8zM570.2 972.2h5.8v5.8h-5.8zM576.0 972.2h5.8v5.8h-5.8zM651.4 973.8h5.8v2.6h-5.8zM680.4 972.2h5.8v5.8h-5.8zM529.6 978.0h5.8v5.8h-5.8zM564.4 978.0h5.8v5.8h-5.8zM641.4 978.0h2.6v5.8h-2.6zM790.6 978.0h5.8v5.8h-5.8zM535.4 983.8h5.8v5.8h-5.8zM547.0 985.4h5.8v2.6h-5.8zM552.8 983.8h5.8v5.8h-5.8zM564.4 983.8h5.8v5.8h-5.8zM703.6 983.8h5.8v5.8h-5.8zM535.4 989.6h5.8v5.8h-5.8zM542.6 991.0h3v3h-3zM547.0 989.6h5.8v5.8h-5.8zM552.8 989.6h5.8v5.8h-5.8zM558.6 989.6h5.8v5.8h-5.8zM564.4 989.6h5.8v5.8h-5.8zM674.6 989.6h5.8v5.8h-5.8zM726.8 989.6h5.8v5.8h-5.8zM744.2 989.6h5.8v5.8h-5.8zM523.8 995.4h5.8v5.8h-5.8zM529.6 997.0h5.8v2.6h-5.8zM541.2 995.4h5.8v5.8h-5.8zM547.0 995.4h5.8v5.8h-5.8zM558.6 995.4h5.8v5.8h-5.8zM564.4 995.4h5.8v5.8h-5.8zM664.4 996.8h3v3h-3zM670.2 996.8h3v3h-3zM773.2 995.4h5.8v5.8h-5.8zM871.8 995.4h5.8v5.8h-5.8zM518.0 1001.2h5.8v5.8h-5.8zM529.6 1002.8h5.8v2.6h-5.8zM552.8 1001.2h5.8v5.8h-5.8zM877.6 1001.2h5.8v5.8h-5.8zM508.0 1007.0h2.6v5.8h-2.6zM535.4 1007.0h5.8v5.8h-5.8zM663.0 1007.0h5.8v5.8h-5.8zM512.2 1012.8h5.8v5.8h-5.8zM535.4 1012.8h5.8v5.8h-5.8zM541.2 1012.8h5.8v5.8h-5.8zM552.8 1012.8h5.8v5.8h-5.8zM651.4 1012.8h5.8v5.8h-5.8zM850.2 1012.8h2.6v5.8h-2.6zM866.0 1012.8h5.8v5.8h-5.8zM523.8 1018.6h5.8v5.8h-5.8zM529.6 1018.6h5.8v5.8h-5.8zM535.4 1018.6h5.8v5.8h-5.8zM541.2 1018.6h5.8v5.8h-5.8zM547.0 1018.6h5.8v5.8h-5.8zM663.0 1018.6h5.8v5.8h-5.8zM419.4 1024.4h5.8v5.8h-5.8zM512.2 1024.4h5.8v5.8h-5.8zM519.6 1024.4h2.6v5.8h-2.6zM523.8 1024.4h5.8v5.8h-5.8zM529.6 1024.4h5.8v5.8h-5.8zM541.2 1024.4h5.8v5.8h-5.8zM651.4 1024.4h5.8v5.8h-5.8zM871.8 1024.4h5.8v5.8h-5.8zM436.8 1030.2h5.8v5.8h-5.8zM506.4 1030.2h5.8v5.8h-5.8zM518.0 1030.2h5.8v5.8h-5.8zM523.8 1030.2h5.8v5.8h-5.8zM529.6 1030.2h5.8v5.8h-5.8zM535.4 1030.2h5.8v5.8h-5.8zM634.0 1030.2h5.8v5.8h-5.8zM674.6 1031.8h5.8v2.6h-5.8zM761.6 1031.8h5.8v2.6h-5.8zM373.0 1036.0h5.8v5.8h-5.8zM502.2 1036.0h2.6v5.8h-2.6zM529.6 1036.0h5.8v5.8h-5.8zM409.4 1041.8h2.6v5.8h-2.6zM500.6 1041.8h5.8v5.8h-5.8zM506.4 1041.8h5.8v5.8h-5.8zM518.0 1041.8h5.8v5.8h-5.8zM709.4 1043.4h5.8v2.6h-5.8zM877.6 1041.8h5.8v5.8h-5.8zM506.4 1047.6h5.8v5.8h-5.8zM523.8 1047.6h5.8v5.8h-5.8zM529.6 1047.6h5.8v5.8h-5.8zM651.4 1049.2h5.8v2.6h-5.8zM663.0 1049.2h5.8v2.6h-5.8zM821.2 1047.6h2.6v5.8h-2.6zM384.6 1055.0h5.8v2.6h-5.8zM500.6 1053.4h5.8v5.8h-5.8zM512.2 1053.4h5.8v5.8h-5.8zM523.8 1053.4h5.8v5.8h-5.8zM634.0 1053.4h5.8v5.8h-5.8zM686.2 1055.0h5.8v2.6h-5.8zM825.4 1055.0h5.8v2.6h-5.8zM860.2 1055.0h5.8v2.6h-5.8zM390.4 1059.2h5.8v5.8h-5.8zM420.8 1060.6h3v3h-3zM489.0 1059.2h5.8v5.8h-5.8zM512.2 1059.2h5.8v5.8h-5.8zM518.0 1059.2h5.8v5.8h-5.8zM686.2 1059.2h5.8v5.8h-5.8zM425.2 1065.0h5.8v5.8h-5.8zM465.8 1065.0h5.8v5.8h-5.8zM483.2 1065.0h5.8v5.8h-5.8zM494.8 1065.0h5.8v5.8h-5.8zM500.6 1065.0h5.8v5.8h-5.8zM506.4 1065.0h5.8v5.8h-5.8zM512.2 1065.0h5.8v5.8h-5.8zM739.8 1066.4h3v3h-3zM413.6 1070.8h5.8v5.8h-5.8zM436.8 1070.8h5.8v5.8h-5.8zM494.8 1070.8h5.8v5.8h-5.8zM500.6 1070.8h5.8v5.8h-5.8zM506.4 1070.8h5.8v5.8h-5.8zM635.6 1070.8h2.6v5.8h-2.6zM645.6 1070.8h5.8v5.8h-5.8zM813.8 1070.8h5.8v5.8h-5.8zM831.2 1070.8h5.8v5.8h-5.8zM484.8 1076.6h2.6v5.8h-2.6zM489.0 1076.6h5.8v5.8h-5.8zM506.4 1076.6h5.8v5.8h-5.8zM512.2 1076.6h5.8v5.8h-5.8zM889.2 1076.6h5.8v5.8h-5.8zM436.8 1084.0h5.8v2.6h-5.8zM455.6 1083.8h3v3h-3zM460.0 1082.4h5.8v5.8h-5.8zM465.8 1082.4h5.8v5.8h-5.8zM473.0 1083.8h3v3h-3zM494.8 1082.4h5.8v5.8h-5.8zM500.6 1082.4h5.8v5.8h-5.8zM363.0 1088.2h2.6v5.8h-2.6zM431.0 1088.2h5.8v5.8h-5.8zM465.8 1088.2h5.8v5.8h-5.8zM477.4 1088.2h5.8v5.8h-5.8zM483.2 1088.2h5.8v5.8h-5.8zM489.0 1088.2h5.8v5.8h-5.8zM500.6 1088.2h5.8v5.8h-5.8zM639.8 1088.2h5.8v5.8h-5.8zM647.2 1088.2h2.6v5.8h-2.6zM808.0 1088.2h5.8v5.8h-5.8zM407.8 1094.0h5.8v5.8h-5.8zM471.6 1095.6h5.8v2.6h-5.8zM477.4 1094.0h5.8v5.8h-5.8zM494.8 1094.0h5.8v5.8h-5.8zM645.6 1094.0h5.8v5.8h-5.8zM489.0 1099.8h5.8v5.8h-5.8zM494.8 1099.8h5.8v5.8h-5.8zM634.0 1099.8h5.8v5.8h-5.8zM373.0 1105.6h5.8v5.8h-5.8zM454.2 1105.6h5.8v5.8h-5.8zM461.6 1105.6h2.6v5.8h-2.6zM471.6 1105.6h5.8v5.8h-5.8zM477.4 1105.6h5.8v5.8h-5.8zM483.2 1105.6h5.8v5.8h-5.8zM489.0 1105.6h5.8v5.8h-5.8zM361.4 1111.4h5.8v5.8h-5.8zM413.6 1113.0h5.8v2.6h-5.8zM425.2 1111.4h5.8v5.8h-5.8zM448.4 1111.4h5.8v5.8h-5.8zM454.2 1111.4h5.8v5.8h-5.8zM460.0 1111.4h5.8v5.8h-5.8zM465.8 1111.4h5.8v5.8h-5.8zM471.6 1111.4h5.8v5.8h-5.8zM483.2 1111.4h5.8v5.8h-5.8zM651.4 1111.4h5.8v5.8h-5.8zM657.2 1111.4h5.8v5.8h-5.8zM796.4 1111.4h5.8v5.8h-5.8zM842.8 1111.4h5.8v5.8h-5.8zM361.4 1117.2h5.8v5.8h-5.8zM436.8 1117.2h5.8v5.8h-5.8zM465.8 1117.2h5.8v5.8h-5.8zM471.6 1117.2h5.8v5.8h-5.8zM477.4 1117.2h5.8v5.8h-5.8zM634.0 1117.2h5.8v5.8h-5.8zM663.0 1117.2h5.8v5.8h-5.8zM692.0 1117.2h5.8v5.8h-5.8zM715.2 1118.8h5.8v2.6h-5.8zM755.8 1117.2h5.8v5.8h-5.8zM877.6 1117.2h5.8v5.8h-5.8zM419.4 1123.0h5.8v5.8h-5.8zM448.4 1123.0h5.8v5.8h-5.8zM454.2 1123.0h5.8v5.8h-5.8zM460.0 1123.0h5.8v5.8h-5.8zM465.8 1123.0h5.8v5.8h-5.8zM634.0 1124.6h5.8v2.6h-5.8zM651.4 1123.0h5.8v5.8h-5.8zM744.2 1124.6h5.8v2.6h-5.8zM890.6 1124.4h3v3h-3zM367.2 1130.4h5.8v2.6h-5.8zM442.6 1130.4h5.8v2.6h-5.8zM448.4 1128.8h5.8v5.8h-5.8zM454.2 1128.8h5.8v5.8h-5.8zM639.8 1128.8h5.8v5.8h-5.8zM647.0 1130.2h3v3h-3zM668.8 1128.8h5.8v5.8h-5.8zM738.4 1128.8h5.8v5.8h-5.8zM750.0 1128.8h5.8v5.8h-5.8zM761.6 1128.8h5.8v5.8h-5.8zM837.0 1128.8h5.8v5.8h-5.8zM861.8 1128.8h2.6v5.8h-2.6zM415.0 1136.0h3v3h-3zM432.6 1134.6h2.6v5.8h-2.6zM436.8 1134.6h5.8v5.8h-5.8zM448.4 1134.6h5.8v5.8h-5.8zM460.0 1134.6h5.8v5.8h-5.8zM639.8 1136.2h5.8v2.6h-5.8zM647.2 1134.6h2.6v5.8h-2.6zM651.4 1136.2h5.8v2.6h-5.8zM657.2 1136.2h5.8v2.6h-5.8zM674.6 1134.6h5.8v5.8h-5.8zM732.6 1134.6h5.8v5.8h-5.8zM819.6 1134.6h5.8v5.8h-5.8zM402.0 1140.4h5.8v5.8h-5.8zM425.2 1140.4h5.8v5.8h-5.8zM431.0 1142.0h5.8v2.6h-5.8zM448.4 1140.4h5.8v5.8h-5.8zM454.2 1140.4h5.8v5.8h-5.8zM460.0 1140.4h5.8v5.8h-5.8zM645.6 1140.4h5.8v5.8h-5.8zM692.0 1140.4h5.8v5.8h-5.8zM703.6 1142.0h5.8v2.6h-5.8zM715.2 1140.4h5.8v5.8h-5.8zM721.0 1142.0h5.8v2.6h-5.8zM790.6 1140.4h5.8v5.8h-5.8zM837.0 1140.4h5.8v5.8h-5.8zM884.8 1141.8h3v3h-3zM367.2 1147.8h5.8v2.6h-5.8zM390.4 1146.2h5.8v5.8h-5.8zM431.0 1146.2h5.8v5.8h-5.8zM454.2 1146.2h5.8v5.8h-5.8zM634.0 1146.2h5.8v5.8h-5.8zM639.8 1146.2h5.8v5.8h-5.8zM645.6 1147.8h5.8v2.6h-5.8zM652.8 1147.6h3v3h-3zM721.0 1146.2h5.8v5.8h-5.8zM866.0 1146.2h5.8v5.8h-5.8zM362.8 1153.4h3v3h-3zM407.8 1152.0h5.8v5.8h-5.8zM413.6 1152.0h5.8v5.8h-5.8zM425.2 1152.0h5.8v5.8h-5.8zM431.0 1152.0h5.8v5.8h-5.8zM436.8 1152.0h5.8v5.8h-5.8zM645.6 1152.0h5.8v5.8h-5.8zM657.2 1152.0h5.8v5.8h-5.8zM738.4 1152.0h5.8v5.8h-5.8zM821.0 1153.4h3v3h-3zM420.8 1159.2h3v3h-3zM431.0 1157.8h5.8v5.8h-5.8zM436.8 1157.8h5.8v5.8h-5.8zM448.4 1157.8h5.8v5.8h-5.8zM634.0 1157.8h5.8v5.8h-5.8zM651.4 1157.8h5.8v5.8h-5.8zM663.0 1157.8h5.8v5.8h-5.8zM697.8 1157.8h5.8v5.8h-5.8zM738.4 1157.8h5.8v5.8h-5.8zM755.8 1157.8h5.8v5.8h-5.8zM854.4 1157.8h5.8v5.8h-5.8zM384.6 1165.2h5.8v2.6h-5.8zM407.8 1165.2h5.8v2.6h-5.8zM413.6 1163.6h5.8v5.8h-5.8zM425.2 1163.6h5.8v5.8h-5.8zM431.0 1163.6h5.8v5.8h-5.8zM436.8 1163.6h5.8v5.8h-5.8zM693.6 1163.6h2.6v5.8h-2.6zM697.8 1165.2h5.8v2.6h-5.8zM763.2 1163.6h2.6v5.8h-2.6zM831.2 1163.6h5.8v5.8h-5.8zM877.6 1163.6h5.8v5.8h-5.8zM419.4 1169.4h5.8v5.8h-5.8zM436.8 1169.4h5.8v5.8h-5.8zM703.6 1169.4h5.8v5.8h-5.8zM757.2 1170.8h3v3h-3zM373.0 1175.2h5.8v5.8h-5.8zM384.6 1175.2h5.8v5.8h-5.8zM396.2 1175.2h5.8v5.8h-5.8zM419.4 1175.2h5.8v5.8h-5.8zM425.2 1175.2h5.8v5.8h-5.8zM628.2 1175.2h5.8v5.8h-5.8zM664.6 1175.2h2.6v5.8h-2.6zM674.6 1175.2h5.8v5.8h-5.8zM692.0 1175.2h5.8v5.8h-5.8zM726.8 1175.2h5.8v5.8h-5.8zM755.8 1175.2h5.8v5.8h-5.8zM877.6 1176.8h5.8v2.6h-5.8zM402.0 1181.0h5.8v5.8h-5.8zM407.8 1181.0h5.8v5.8h-5.8zM419.4 1181.0h5.8v5.8h-5.8zM634.0 1182.6h5.8v2.6h-5.8zM639.8 1181.0h5.8v5.8h-5.8zM651.4 1181.0h5.8v5.8h-5.8zM732.6 1181.0h5.8v5.8h-5.8zM750.0 1181.0h5.8v5.8h-5.8zM396.2 1186.8h5.8v5.8h-5.8zM628.2 1186.8h5.8v5.8h-5.8zM663.0 1188.4h5.8v2.6h-5.8zM693.6 1186.8h2.6v5.8h-2.6zM697.8 1186.8h5.8v5.8h-5.8zM738.4 1186.8h5.8v5.8h-5.8zM755.8 1186.8h5.8v5.8h-5.8zM373.0 1194.2h5.8v2.6h-5.8zM402.0 1192.6h5.8v5.8h-5.8zM413.6 1192.6h5.8v5.8h-5.8zM639.8 1194.2h5.8v2.6h-5.8zM663.0 1192.6h5.8v5.8h-5.8zM373.0 1198.4h5.8v5.8h-5.8zM378.8 1198.4h5.8v5.8h-5.8zM390.4 1198.4h5.8v5.8h-5.8zM396.2 1198.4h5.8v5.8h-5.8zM402.0 1198.4h5.8v5.8h-5.8zM407.8 1198.4h5.8v5.8h-5.8zM413.6 1198.4h5.8v5.8h-5.8zM711.0 1198.4h2.6v5.8h-2.6zM784.8 1198.4h5.8v5.8h-5.8zM860.2 1200.0h5.8v2.6h-5.8zM373.0 1205.8h5.8v2.6h-5.8zM380.4 1204.2h2.6v5.8h-2.6zM390.4 1204.2h5.8v5.8h-5.8zM402.0 1204.2h5.8v5.8h-5.8zM657.2 1204.2h5.8v5.8h-5.8zM721.0 1204.2h5.8v5.8h-5.8zM726.8 1205.8h5.8v2.6h-5.8zM738.4 1204.2h5.8v5.8h-5.8zM837.0 1204.2h5.8v5.8h-5.8zM860.2 1204.2h5.8v5.8h-5.8zM402.0 1210.0h5.8v5.8h-5.8zM634.0 1210.0h5.8v5.8h-5.8zM680.4 1210.0h5.8v5.8h-5.8zM744.2 1211.6h5.8v2.6h-5.8zM761.6 1210.0h5.8v5.8h-5.8zM825.4 1210.0h5.8v5.8h-5.8zM390.4 1215.8h5.8v5.8h-5.8zM645.6 1215.8h5.8v5.8h-5.8zM697.8 1217.4h5.8v2.6h-5.8zM703.6 1215.8h5.8v5.8h-5.8zM732.6 1215.8h5.8v5.8h-5.8zM738.4 1215.8h5.8v5.8h-5.8zM349.8 1223.2h5.8v2.6h-5.8zM652.8 1223.0h3v3h-3zM663.0 1221.6h5.8v5.8h-5.8zM670.4 1221.6h2.6v5.8h-2.6zM680.4 1221.6h5.8v5.8h-5.8zM761.6 1221.6h5.8v5.8h-5.8zM860.2 1221.6h5.8v5.8h-5.8zM355.6 1227.4h5.8v5.8h-5.8zM384.6 1227.4h5.8v5.8h-5.8zM628.2 1229.0h5.8v2.6h-5.8zM651.4 1227.4h5.8v5.8h-5.8zM703.6 1227.4h5.8v5.8h-5.8zM721.0 1227.4h5.8v5.8h-5.8zM883.4 1227.4h5.8v5.8h-5.8zM349.8 1233.2h5.8v5.8h-5.8zM368.6 1234.6h3v3h-3zM628.2 1233.2h5.8v5.8h-5.8zM651.4 1233.2h5.8v5.8h-5.8zM668.8 1233.2h5.8v5.8h-5.8zM692.0 1233.2h5.8v5.8h-5.8zM355.6 1239.0h5.8v5.8h-5.8zM367.2 1239.0h5.8v5.8h-5.8zM645.6 1239.0h5.8v5.8h-5.8zM657.2 1239.0h5.8v5.8h-5.8zM663.0 1239.0h5.8v5.8h-5.8zM686.2 1239.0h5.8v5.8h-5.8zM692.0 1239.0h5.8v5.8h-5.8zM715.2 1239.0h5.8v5.8h-5.8zM622.4 1244.8h5.8v5.8h-5.8zM628.2 1244.8h5.8v5.8h-5.8zM645.6 1244.8h5.8v5.8h-5.8zM651.4 1244.8h5.8v5.8h-5.8zM657.2 1244.8h5.8v5.8h-5.8zM686.2 1244.8h5.8v5.8h-5.8zM697.8 1244.8h5.8v5.8h-5.8zM802.2 1244.8h5.8v5.8h-5.8zM628.2 1250.6h5.8v5.8h-5.8zM634.0 1250.6h5.8v5.8h-5.8zM639.8 1250.6h5.8v5.8h-5.8zM645.6 1250.6h5.8v5.8h-5.8zM651.4 1250.6h5.8v5.8h-5.8zM663.0 1250.6h5.8v5.8h-5.8zM668.8 1250.6h5.8v5.8h-5.8zM674.6 1250.6h5.8v5.8h-5.8zM680.4 1250.6h5.8v5.8h-5.8zM686.2 1250.6h5.8v5.8h-5.8zM349.8 1258.0h5.8v2.6h-5.8zM357.2 1256.4h2.6v5.8h-2.6zM361.4 1258.0h5.8v2.6h-5.8zM616.6 1256.4h5.8v5.8h-5.8zM622.4 1256.4h5.8v5.8h-5.8zM628.2 1256.4h5.8v5.8h-5.8zM639.8 1256.4h5.8v5.8h-5.8zM657.2 1256.4h5.8v5.8h-5.8zM663.0 1256.4h5.8v5.8h-5.8zM779.0 1256.4h5.8v5.8h-5.8zM802.2 1256.4h5.8v5.8h-5.8zM808.0 1256.4h5.8v5.8h-5.8zM825.4 1256.4h5.8v5.8h-5.8zM837.0 1256.4h5.8v5.8h-5.8zM848.6 1256.4h5.8v5.8h-5.8zM860.2 1258.0h5.8v2.6h-5.8zM883.4 1258.0h5.8v2.6h-5.8zM361.4 1262.2h5.8v5.8h-5.8zM622.4 1262.2h5.8v5.8h-5.8zM628.2 1262.2h5.8v5.8h-5.8zM634.0 1262.2h5.8v5.8h-5.8zM639.8 1262.2h5.8v5.8h-5.8zM645.6 1262.2h5.8v5.8h-5.8zM651.4 1262.2h5.8v5.8h-5.8zM657.2 1262.2h5.8v5.8h-5.8zM668.8 1262.2h5.8v5.8h-5.8zM680.4 1262.2h5.8v5.8h-5.8zM686.2 1262.2h5.8v5.8h-5.8zM692.0 1262.2h5.8v5.8h-5.8zM697.8 1262.2h5.8v5.8h-5.8zM732.6 1262.2h5.8v5.8h-5.8zM784.8 1262.2h5.8v5.8h-5.8zM802.2 1262.2h5.8v5.8h-5.8zM813.8 1262.2h5.8v5.8h-5.8zM819.6 1262.2h5.8v5.8h-5.8zM831.2 1262.2h5.8v5.8h-5.8zM848.6 1263.8h5.8v2.6h-5.8zM860.2 1262.2h5.8v5.8h-5.8zM866.0 1262.2h5.8v5.8h-5.8zM873.4 1262.2h2.6v5.8h-2.6zM883.4 1262.2h5.8v5.8h-5.8zM622.4 1268.0h5.8v5.8h-5.8zM628.2 1268.0h5.8v5.8h-5.8zM639.8 1268.0h5.8v5.8h-5.8zM645.6 1268.0h5.8v5.8h-5.8zM651.4 1268.0h5.8v5.8h-5.8zM657.2 1268.0h5.8v5.8h-5.8zM663.0 1268.0h5.8v5.8h-5.8zM668.8 1268.0h5.8v5.8h-5.8zM680.4 1268.0h5.8v5.8h-5.8zM784.8 1268.0h5.8v5.8h-5.8zM802.2 1268.0h5.8v5.8h-5.8zM808.0 1268.0h5.8v5.8h-5.8zM813.8 1268.0h5.8v5.8h-5.8zM819.6 1268.0h5.8v5.8h-5.8zM825.4 1268.0h5.8v5.8h-5.8zM842.8 1268.0h5.8v5.8h-5.8zM848.6 1269.6h5.8v2.6h-5.8zM866.0 1269.6h5.8v2.6h-5.8zM349.8 1275.4h5.8v2.6h-5.8zM355.6 1275.4h5.8v2.6h-5.8zM610.8 1273.8h5.8v5.8h-5.8zM616.6 1273.8h5.8v5.8h-5.8zM628.2 1273.8h5.8v5.8h-5.8zM634.0 1273.8h5.8v5.8h-5.8zM639.8 1273.8h5.8v5.8h-5.8zM645.6 1273.8h5.8v5.8h-5.8zM651.4 1273.8h5.8v5.8h-5.8zM657.2 1273.8h5.8v5.8h-5.8zM668.8 1273.8h5.8v5.8h-5.8zM674.6 1273.8h5.8v5.8h-5.8zM680.4 1273.8h5.8v5.8h-5.8zM697.8 1273.8h5.8v5.8h-5.8zM790.6 1273.8h5.8v5.8h-5.8zM813.8 1273.8h5.8v5.8h-5.8zM819.6 1273.8h5.8v5.8h-5.8zM825.4 1273.8h5.8v5.8h-5.8zM831.2 1273.8h5.8v5.8h-5.8zM842.8 1273.8h5.8v5.8h-5.8zM850.2 1273.8h2.6v5.8h-2.6zM860.2 1275.4h5.8v2.6h-5.8zM866.0 1273.8h5.8v5.8h-5.8zM877.6 1273.8h5.8v5.8h-5.8zM349.8 1279.6h5.8v5.8h-5.8zM610.8 1279.6h5.8v5.8h-5.8zM622.4 1279.6h5.8v5.8h-5.8zM628.2 1279.6h5.8v5.8h-5.8zM634.0 1279.6h5.8v5.8h-5.8zM639.8 1279.6h5.8v5.8h-5.8zM645.6 1279.6h5.8v5.8h-5.8zM657.2 1279.6h5.8v5.8h-5.8zM663.0 1279.6h5.8v5.8h-5.8zM668.8 1279.6h5.8v5.8h-5.8zM674.6 1279.6h5.8v5.8h-5.8zM686.2 1279.6h5.8v5.8h-5.8zM697.8 1279.6h5.8v5.8h-5.8zM779.0 1279.6h5.8v5.8h-5.8zM784.8 1281.2h5.8v2.6h-5.8zM790.6 1279.6h5.8v5.8h-5.8zM796.4 1279.6h5.8v5.8h-5.8zM802.2 1279.6h5.8v5.8h-5.8zM821.2 1279.6h2.6v5.8h-2.6zM848.6 1279.6h5.8v5.8h-5.8zM860.2 1279.6h5.8v5.8h-5.8zM877.6 1279.6h5.8v5.8h-5.8zM355.6 1285.4h5.8v5.8h-5.8zM363.0 1285.4h2.6v5.8h-2.6zM367.2 1285.4h5.8v5.8h-5.8zM605.0 1285.4h5.8v5.8h-5.8zM616.6 1285.4h5.8v5.8h-5.8zM639.8 1285.4h5.8v5.8h-5.8zM645.6 1285.4h5.8v5.8h-5.8zM651.4 1285.4h5.8v5.8h-5.8zM657.2 1285.4h5.8v5.8h-5.8zM663.0 1285.4h5.8v5.8h-5.8zM680.4 1285.4h5.8v5.8h-5.8zM686.2 1285.4h5.8v5.8h-5.8zM692.0 1285.4h5.8v5.8h-5.8zM697.8 1285.4h5.8v5.8h-5.8zM784.8 1285.4h5.8v5.8h-5.8zM790.6 1285.4h5.8v5.8h-5.8zM813.8 1285.4h5.8v5.8h-5.8zM826.8 1286.8h3v3h-3zM837.0 1285.4h5.8v5.8h-5.8zM848.6 1287.0h5.8v2.6h-5.8zM854.4 1287.0h5.8v2.6h-5.8zM860.2 1285.4h5.8v5.8h-5.8zM867.4 1286.8h3v3h-3zM361.4 1291.2h5.8v5.8h-5.8zM605.0 1291.2h5.8v5.8h-5.8zM610.8 1291.2h5.8v5.8h-5.8zM616.6 1291.2h5.8v5.8h-5.8zM622.4 1291.2h5.8v5.8h-5.8zM628.2 1291.2h5.8v5.8h-5.8zM634.0 1291.2h5.8v5.8h-5.8zM639.8 1291.2h5.8v5.8h-5.8zM645.6 1291.2h5.8v5.8h-5.8zM651.4 1291.2h5.8v5.8h-5.8zM663.0 1291.2h5.8v5.8h-5.8zM674.6 1291.2h5.8v5.8h-5.8zM686.2 1291.2h5.8v5.8h-5.8zM784.8 1291.2h5.8v5.8h-5.8zM790.6 1291.2h5.8v5.8h-5.8zM796.4 1291.2h5.8v5.8h-5.8zM819.6 1292.8h5.8v2.6h-5.8zM825.4 1291.2h5.8v5.8h-5.8zM867.6 1291.2h2.6v5.8h-2.6zM877.6 1291.2h5.8v5.8h-5.8zM605.0 1297.0h5.8v5.8h-5.8zM616.6 1297.0h5.8v5.8h-5.8zM622.4 1297.0h5.8v5.8h-5.8zM628.2 1297.0h5.8v5.8h-5.8zM634.0 1297.0h5.8v5.8h-5.8zM639.8 1297.0h5.8v5.8h-5.8zM651.4 1297.0h5.8v5.8h-5.8zM657.2 1297.0h5.8v5.8h-5.8zM663.0 1297.0h5.8v5.8h-5.8zM674.6 1297.0h5.8v5.8h-5.8zM790.6 1298.6h5.8v2.6h-5.8zM802.2 1298.6h5.8v2.6h-5.8zM808.0 1297.0h5.8v5.8h-5.8zM815.4 1297.0h2.6v5.8h-2.6zM819.6 1297.0h5.8v5.8h-5.8zM831.2 1297.0h5.8v5.8h-5.8zM848.6 1297.0h5.8v5.8h-5.8zM871.8 1297.0h5.8v5.8h-5.8zM877.6 1297.0h5.8v5.8h-5.8zM349.8 1302.8h5.8v5.8h-5.8zM605.0 1302.8h5.8v5.8h-5.8zM628.2 1302.8h5.8v5.8h-5.8zM634.0 1302.8h5.8v5.8h-5.8zM645.6 1302.8h5.8v5.8h-5.8zM651.4 1302.8h5.8v5.8h-5.8zM657.2 1302.8h5.8v5.8h-5.8zM663.0 1302.8h5.8v5.8h-5.8zM680.4 1302.8h5.8v5.8h-5.8zM750.0 1304.4h5.8v2.6h-5.8zM780.6 1302.8h2.6v5.8h-2.6zM813.8 1302.8h5.8v5.8h-5.8zM825.4 1302.8h5.8v5.8h-5.8zM837.0 1302.8h5.8v5.8h-5.8zM848.6 1302.8h5.8v5.8h-5.8zM866.0 1302.8h5.8v5.8h-5.8zM599.2 1308.6h5.8v5.8h-5.8zM605.0 1308.6h5.8v5.8h-5.8zM610.8 1308.6h5.8v5.8h-5.8zM616.6 1308.6h5.8v5.8h-5.8zM628.2 1308.6h5.8v5.8h-5.8zM645.6 1308.6h5.8v5.8h-5.8zM668.8 1308.6h5.8v5.8h-5.8zM674.6 1308.6h5.8v5.8h-5.8zM680.4 1308.6h5.8v5.8h-5.8zM692.0 1308.6h5.8v5.8h-5.8zM715.2 1310.2h5.8v2.6h-5.8zM784.8 1308.6h5.8v5.8h-5.8zM796.4 1310.2h5.8v2.6h-5.8zM831.2 1308.6h5.8v5.8h-5.8zM837.0 1310.2h5.8v2.6h-5.8zM842.8 1310.2h5.8v2.6h-5.8zM848.6 1308.6h5.8v5.8h-5.8zM860.2 1310.2h5.8v2.6h-5.8zM877.6 1308.6h5.8v5.8h-5.8zM616.6 1314.4h5.8v5.8h-5.8zM639.8 1314.4h5.8v5.8h-5.8zM645.6 1314.4h5.8v5.8h-5.8zM680.4 1314.4h5.8v5.8h-5.8zM686.2 1316.0h5.8v2.6h-5.8zM658.8 1320.2h2.6v5.8h-2.6zM663.0 1320.2h5.8v5.8h-5.8zM680.4 1321.8h5.8v2.6h-5.8zM686.2 1320.2h5.8v5.8h-5.8zM593.4 1326.0h5.8v5.8h-5.8zM641.4 1326.0h2.6v5.8h-2.6zM599.2 1331.8h5.8v5.8h-5.8zM628.2 1331.8h5.8v5.8h-5.8zM692.0 1333.4h5.8v2.6h-5.8z" fill="#0000a0"/>
<clipPath id="clip_p3"><rect x="349.8" y="834.6" width="548.5999999999999" height="512.4"/></clipPath>
<g clip-path="url(#clip_p3)" fill="none">
<path d="M607.0 1290.0 604.9 1294.4 603.0 1298.7 601.1 1302.8 597.9 1306.7 594.7 1310.4 591.7 1314.0 589.5 1317.5 588.2 1321.3 586.9 1325.1 585.6 1328.8 584.4 1332.6 583.1 1336.3 581.8 1340.1 580.5 1344.0 579.2 1347.8 577.8 1351.7 576.5 1355.7 575.1 1359.8 568.6 1360.0 562.4 1360.0 556.7 1360.0 551.5 1360.0 546.6 1360.0 542.0 1360.0 537.7 1360.0 533.7 1360.0 529.9 1360.0 526.2 1360.0 522.7 1360.0 519.4 1360.0 516.2 1360.0 513.1 1360.0 510.2 1360.0 507.3 1360.0 504.5 1360.0 501.7 1360.0 499.1 1360.0 496.5 1360.0 493.9 1360.0 491.3 1360.0 488.8 1360.0 486.4 1360.0 483.9 1360.0 481.4 1360.0 479.0 1360.0 476.6 1360.0 474.1 1360.0 471.6 1360.0 469.2 1360.0 466.7 1360.0 464.1 1360.0 461.5 1360.0 458.9 1360.0 456.3 1360.0 453.5 1360.0 450.7 1360.0 447.8 1360.0 444.9 1360.0 441.8 1360.0 438.6 1360.0 435.3 1360.0 431.8 1360.0 428.1 1360.0 424.3 1360.0 420.3 1360.0 416.0 1360.0 411.4 1360.0 407.9 1358.7 405.6 1356.1 403.4 1353.5 401.1 1350.9 398.9 1348.2 396.6 1345.6 394.3 1342.9 392.0 1340.2 389.6 1337.5 387.2 1334.8 384.8 1331.9 383.2 1328.7 382.0 1325.3 380.9 1321.9 379.7 1318.5 378.6 1315.0 377.4 1311.6 376.2 1308.1 375.0 1304.6 373.8 1301.1 372.5 1297.4 371.3 1293.8 370.0 1290.0 370.8 1286.2 371.5 1282.5 372.2 1278.8 373.0 1275.1 373.7 1271.4 374.4 1267.8 375.2 1264.1 375.9 1260.4 376.7 1256.7 377.4 1253.0 378.1 1249.3 378.9 1245.4 379.7 1241.6 381.7 1238.2 384.4 1235.4 387.1 1232.6 389.7 1229.8 392.3 1227.0 394.9 1224.3 397.5 1221.6 400.0 1218.9 402.6 1216.2 405.2 1213.5 407.7 1210.8 410.3 1208.1 412.9 1205.4 415.5 1202.6 418.2 1199.8 420.9 1197.0 423.6 1194.1 426.4 1191.1 429.3 1188.1 432.3 1185.0 435.3 1181.8 438.4 1178.5 441.7 1175.1 445.0 1171.5 448.5 1167.8 452.2 1164.0 456.1 1159.9 460.0 1154.6 464.2 1149.0 468.7 1142.8 473.6 1136.2 479.0 1128.9 484.9 1120.9 491.4 1112.1 498.7 1102.3 506.9 1091.2 516.3 1078.5 527.0 1064.0 540.7 1042.7 558.0 1014.5 580.3 978.3 604.2 946.1 617.1 948.3 627.4 956.6 634.3 971.7 636.4 993.9 636.9 1016.6 636.7 1037.6 636.5 1056.5 636.4 1073.4 636.3 1088.7 636.1 1102.7 636.0 1115.6 635.3 1128.2 634.2 1140.1 633.2 1151.2 632.3 1161.4 631.4 1170.9 630.6 1179.8 629.9 1188.2 629.2 1196.2 628.5 1203.7 627.4 1211.1 625.4 1218.6 623.4 1225.7 621.7 1232.3 620.4 1238.5 619.2 1244.4 618.0 1250.1 616.9 1255.6 615.8 1260.9 614.7 1266.1 613.7 1271.1 612.6 1276.0 611.2 1280.8 609.0 1285.5ZM587.6 1286.9 586.2 1290.6 584.9 1294.3 583.6 1297.8 581.3 1301.2 579.1 1304.4 577.0 1307.5 575.3 1310.7 574.2 1313.9 573.1 1317.2 572.0 1320.4 570.8 1323.6 569.6 1326.8 568.4 1330.0 567.1 1333.3 565.8 1336.5 564.5 1339.7 563.1 1343.0 561.7 1346.3 556.9 1347.0 552.3 1347.6 548.0 1348.2 544.0 1348.7 540.2 1349.2 536.6 1349.7 533.1 1350.2 529.8 1350.7 526.6 1351.1 523.6 1351.5 520.6 1351.9 517.7 1352.3 514.9 1352.6 512.2 1352.9 509.5 1353.2 506.9 1353.5 504.3 1353.7 501.8 1353.9 499.3 1354.1 496.8 1354.3 494.4 1354.5 492.0 1354.6 489.5 1354.7 487.2 1354.8 484.8 1354.9 482.4 1354.9 480.0 1354.9 477.6 1354.9 475.3 1354.9 472.9 1354.8 470.5 1354.7 468.1 1354.6 465.7 1354.5 463.2 1354.3 460.7 1354.1 458.2 1353.9 455.7 1353.7 453.1 1353.5 450.5 1353.2 447.8 1352.9 445.1 1352.6 442.3 1352.3 439.4 1351.9 436.5 1351.5 433.4 1351.1 430.2 1350.7 426.9 1350.2 423.5 1349.7 419.9 1349.2 416.9 1347.9 414.9 1345.6 412.8 1343.3 410.8 1341.0 408.8 1338.7 406.8 1336.3 404.8 1333.9 402.9 1331.5 400.9 1329.0 398.9 1326.5 397.0 1323.9 395.6 1321.1 394.5 1318.1 393.4 1315.1 392.4 1312.1 391.4 1309.0 390.4 1306.0 389.4 1302.9 388.5 1299.8 387.6 1296.7 386.7 1293.5 385.8 1290.2 385.0 1286.9 385.5 1283.6 386.0 1280.4 386.6 1277.1 387.2 1273.9 387.8 1270.7 388.5 1267.5 389.1 1264.3 389.9 1261.1 390.6 1257.9 391.4 1254.7 392.2 1251.5 393.1 1248.2 393.9 1245.0 395.6 1242.1 397.9 1239.5 400.1 1237.0 402.3 1234.5 404.5 1232.1 406.7 1229.7 409.0 1227.3 411.2 1225.0 413.5 1222.7 415.7 1220.4 418.0 1218.1 420.3 1215.8 422.7 1213.6 425.1 1211.3 427.5 1209.0 429.9 1206.8 432.4 1204.5 435.0 1202.2 437.6 1199.9 440.2 1197.6 443.0 1195.2 445.7 1192.8 448.6 1190.3 451.6 1187.8 454.6 1185.1 457.8 1182.4 461.1 1179.6 464.4 1176.0 468.0 1172.2 471.7 1168.1 475.7 1163.7 480.0 1158.9 484.7 1153.6 489.7 1147.8 495.3 1141.4 501.5 1134.1 508.4 1125.9 516.3 1116.4 526.0 1102.5 538.2 1084.1 553.6 1060.4 570.1 1039.4 579.4 1041.1 586.9 1046.8 592.1 1057.1 594.3 1072.1 595.2 1087.4 595.8 1101.6 596.4 1114.4 596.9 1126.0 597.5 1136.6 598.1 1146.3 598.6 1155.2 598.7 1164.0 598.6 1172.4 598.5 1180.3 598.4 1187.6 598.4 1194.4 598.4 1200.9 598.4 1207.1 598.4 1213.0 598.4 1218.6 598.1 1224.1 597.2 1229.8 596.3 1235.2 595.5 1240.3 594.9 1245.1 594.4 1249.8 593.9 1254.3 593.4 1258.7 592.8 1263.0 592.3 1267.1 591.8 1271.2 591.2 1275.3 590.3 1279.2 589.0 1283.1ZM575.6 1285.0 574.7 1288.3 573.7 1291.6 572.8 1294.7 571.1 1297.8 569.5 1300.7 567.9 1303.6 566.5 1306.5 565.6 1309.4 564.6 1312.3 563.5 1315.2 562.4 1318.1 561.3 1321.0 560.1 1323.8 558.9 1326.6 557.6 1329.5 556.3 1332.3 554.9 1335.1 553.5 1338.0 549.7 1339.0 546.1 1340.0 542.7 1340.9 539.4 1341.8 536.2 1342.6 533.2 1343.4 530.3 1344.2 527.4 1344.9 524.6 1345.6 521.9 1346.3 519.3 1346.9 516.7 1347.5 514.1 1348.0 511.6 1348.5 509.1 1349.0 506.7 1349.5 504.2 1349.9 501.8 1350.2 499.4 1350.5 497.0 1350.8 494.7 1351.1 492.3 1351.3 490.0 1351.4 487.6 1351.6 485.3 1351.7 483.0 1351.7 480.6 1351.8 478.3 1351.7 476.0 1351.7 473.7 1351.6 471.3 1351.4 469.0 1351.3 466.6 1351.1 464.3 1350.8 461.9 1350.5 459.5 1350.2 457.1 1349.9 454.6 1349.5 452.2 1349.0 449.7 1348.5 447.2 1348.0 444.6 1347.5 442.0 1346.9 439.4 1346.3 436.7 1345.6 433.9 1344.9 431.0 1344.2 428.1 1343.4 425.1 1342.6 422.5 1341.2 420.6 1339.1 418.7 1337.0 416.8 1334.9 415.0 1332.8 413.2 1330.6 411.4 1328.3 409.6 1326.1 407.9 1323.7 406.2 1321.4 404.5 1319.0 403.2 1316.4 402.1 1313.6 401.1 1310.9 400.2 1308.1 399.3 1305.3 398.4 1302.5 397.6 1299.7 396.9 1296.8 396.1 1293.9 395.4 1291.0 394.8 1288.0 394.2 1285.0 394.6 1282.0 395.0 1279.1 395.4 1276.1 396.0 1273.1 396.5 1270.2 397.1 1267.3 397.8 1264.4 398.5 1261.5 399.2 1258.6 400.0 1255.7 400.9 1252.8 401.8 1249.9 402.8 1247.1 404.3 1244.4 406.2 1242.1 408.1 1239.7 410.1 1237.4 412.0 1235.2 414.0 1233.0 416.1 1230.8 418.1 1228.7 420.2 1226.6 422.3 1224.6 424.4 1222.6 426.6 1220.6 428.7 1218.6 431.0 1216.7 433.2 1214.8 435.5 1212.8 437.9 1211.0 440.3 1209.1 442.7 1207.2 445.2 1205.3 447.7 1203.5 450.3 1201.6 452.9 1199.7 455.6 1197.8 458.4 1195.8 461.3 1193.8 464.2 1191.8 467.2 1189.2 470.3 1186.5 473.6 1183.7 477.0 1180.6 480.6 1177.4 484.5 1173.8 488.7 1169.9 493.2 1165.5 498.1 1160.7 503.6 1155.2 509.6 1148.8 516.9 1139.5 525.9 1127.1 537.2 1111.1 549.1 1097.0 556.1 1098.4 561.9 1102.6 566.1 1109.8 568.2 1120.3 569.5 1131.1 570.6 1141.2 571.6 1150.2 572.6 1158.5 573.6 1166.1 574.5 1173.2 575.5 1179.7 576.1 1186.2 576.6 1192.4 577.1 1198.2 577.5 1203.7 578.0 1209.0 578.5 1214.0 578.9 1218.8 579.4 1223.4 579.8 1227.8 580.0 1232.2 579.7 1236.7 579.5 1241.1 579.2 1245.2 579.2 1249.2 579.1 1253.1 579.0 1256.9 578.8 1260.6 578.7 1264.2 578.5 1267.8 578.2 1271.3 578.0 1274.8 577.4 1278.3 576.5 1281.7ZM567.1 1283.7 566.5 1286.7 565.8 1289.6 565.0 1292.5 563.8 1295.3 562.6 1298.1 561.3 1300.8 560.3 1303.4 559.4 1306.1 558.5 1308.8 557.5 1311.5 556.4 1314.1 555.3 1316.8 554.2 1319.4 553.0 1321.9 551.7 1324.5 550.4 1327.0 549.0 1329.5 547.6 1332.0 544.6 1333.3 541.7 1334.5 538.8 1335.7 536.1 1336.8 533.4 1337.9 530.8 1338.9 528.2 1339.9 525.7 1340.8 523.2 1341.7 520.8 1342.5 518.4 1343.3 516.0 1344.1 513.6 1344.8 511.2 1345.4 508.8 1346.0 506.5 1346.6 504.2 1347.1 501.8 1347.5 499.5 1348.0 497.2 1348.3 494.9 1348.6 492.6 1348.9 490.3 1349.1 488.0 1349.3 485.7 1349.4 483.4 1349.5 481.1 1349.5 478.8 1349.5 476.5 1349.4 474.2 1349.3 471.9 1349.1 469.6 1348.9 467.3 1348.6 465.0 1348.3 462.7 1348.0 460.4 1347.5 458.0 1347.1 455.7 1346.6 453.4 1346.0 451.0 1345.4 448.6 1344.8 446.2 1344.1 443.8 1343.3 441.4 1342.5 439.0 1341.7 436.5 1340.8 434.0 1339.9 431.4 1338.9 428.8 1337.9 426.5 1336.4 424.7 1334.5 422.9 1332.6 421.1 1330.6 419.4 1328.5 417.7 1326.5 416.0 1324.4 414.4 1322.2 412.8 1320.0 411.3 1317.7 409.8 1315.4 408.6 1313.0 407.6 1310.4 406.7 1307.9 405.8 1305.3 405.0 1302.7 404.2 1300.0 403.5 1297.4 402.8 1294.7 402.2 1292.0 401.7 1289.3 401.2 1286.5 400.8 1283.7 401.1 1280.9 401.4 1278.1 401.8 1275.4 402.2 1272.6 402.7 1269.9 403.3 1267.2 403.9 1264.5 404.6 1261.8 405.4 1259.1 406.2 1256.4 407.1 1253.8 408.0 1251.2 409.0 1248.6 410.5 1246.1 412.1 1243.9 413.9 1241.7 415.6 1239.5 417.4 1237.4 419.2 1235.4 421.1 1233.4 423.0 1231.4 425.0 1229.5 426.9 1227.6 428.9 1225.8 431.0 1224.0 433.1 1222.2 435.2 1220.5 437.3 1218.8 439.5 1217.2 441.8 1215.6 444.0 1214.0 446.3 1212.4 448.7 1210.9 451.1 1209.4 453.5 1207.9 456.0 1206.4 458.5 1204.9 461.1 1203.4 463.7 1202.0 466.4 1200.5 469.2 1198.7 472.0 1196.8 474.9 1194.8 477.9 1192.8 481.1 1190.6 484.4 1188.2 488.0 1185.6 491.7 1182.8 495.7 1179.6 500.1 1176.1 504.8 1172.0 510.5 1165.9 517.2 1157.8 525.4 1147.3 534.1 1138.1 539.4 1139.3 544.0 1142.4 547.5 1147.5 549.6 1154.8 551.2 1162.3 552.5 1169.4 553.9 1175.8 555.2 1181.7 556.5 1187.2 557.7 1192.4 559.0 1197.2 560.0 1202.0 560.9 1206.7 561.8 1211.1 562.6 1215.3 563.5 1219.4 564.3 1223.3 565.0 1227.1 565.8 1230.8 566.5 1234.4 567.1 1238.0 567.3 1241.7 567.5 1245.2 567.7 1248.7 567.9 1252.1 568.2 1255.4 568.3 1258.7 568.5 1261.9 568.6 1265.1 568.6 1268.3 568.6 1271.4 568.5 1274.5 568.2 1277.6 567.7 1280.7ZM561.4 1282.8 561.0 1285.6 560.4 1288.3 559.9 1291.0 559.0 1293.7 558.0 1296.3 557.0 1298.9 556.1 1301.4 555.3 1304.0 554.4 1306.5 553.5 1309.0 552.5 1311.5 551.4 1314.0 550.3 1316.4 549.1 1318.8 547.8 1321.1 546.5 1323.5 545.1 1325.8 543.7 1328.0 541.2 1329.5 538.7 1330.9 536.3 1332.2 533.9 1333.5 531.5 1334.7 529.2 1335.9 526.9 1337.0 524.6 1338.0 522.3 1339.1 520.0 1340.0 517.7 1340.9 515.5 1341.8 513.2 1342.6 510.9 1343.3 508.7 1344.0 506.4 1344.7 504.1 1345.2 501.9 1345.8 499.6 1346.2 497.3 1346.6 495.0 1347.0 492.8 1347.3 490.5 1347.6 488.2 1347.8 486.0 1347.9 483.7 1348.0 481.4 1348.0 479.1 1348.0 476.8 1347.9 474.6 1347.8 472.3 1347.6 470.0 1347.3 467.8 1347.0 465.5 1346.6 463.2 1346.2 460.9 1345.8 458.7 1345.2 456.4 1344.7 454.1 1344.0 451.9 1343.3 449.6 1342.6 447.3 1341.8 445.1 1340.9 442.8 1340.0 440.5 1339.1 438.2 1338.0 435.9 1337.0 433.6 1335.9 431.3 1334.7 429.2 1333.2 427.4 1331.4 425.7 1329.6 424.0 1327.7 422.3 1325.7 420.7 1323.7 419.1 1321.7 417.6 1319.6 416.2 1317.5 414.7 1315.3 413.4 1313.1 412.3 1310.7 411.3 1308.3 410.4 1305.9 409.5 1303.4 408.7 1300.9 408.0 1298.4 407.4 1295.9 406.8 1293.3 406.3 1290.7 405.9 1288.1 405.5 1285.5 405.2 1282.8 405.4 1280.1 405.7 1277.5 406.0 1274.9 406.4 1272.3 406.9 1269.7 407.4 1267.1 408.0 1264.5 408.7 1262.0 409.5 1259.4 410.3 1256.9 411.2 1254.5 412.2 1252.0 413.2 1249.6 414.6 1247.3 416.1 1245.1 417.7 1243.0 419.3 1240.9 421.0 1238.9 422.7 1237.0 424.5 1235.0 426.3 1233.2 428.1 1231.4 430.0 1229.6 432.0 1227.9 433.9 1226.2 436.0 1224.6 438.0 1223.1 440.1 1221.5 442.2 1220.1 444.4 1218.6 446.5 1217.2 448.8 1215.9 451.0 1214.6 453.3 1213.3 455.7 1212.1 458.0 1210.9 460.4 1209.7 462.9 1208.5 465.4 1207.4 467.9 1206.3 470.5 1205.0 473.1 1203.6 475.8 1202.3 478.5 1200.9 481.4 1199.4 484.4 1197.8 487.5 1196.1 490.7 1194.3 494.1 1192.3 497.8 1190.0 501.7 1187.4 506.2 1183.5 511.4 1178.3 517.6 1171.5 524.1 1165.6 528.3 1166.6 532.1 1168.9 535.1 1172.6 537.2 1177.8 538.9 1183.1 540.5 1188.2 542.1 1192.9 543.6 1197.2 545.1 1201.3 546.5 1205.2 548.0 1208.9 549.2 1212.5 550.4 1216.2 551.5 1219.6 552.7 1223.0 553.7 1226.3 554.8 1229.5 555.8 1232.6 556.8 1235.7 557.7 1238.8 558.5 1241.8 559.0 1245.0 559.5 1248.0 559.9 1251.1 560.4 1254.0 560.9 1257.0 561.2 1259.9 561.6 1262.8 561.8 1265.7 562.0 1268.6 562.1 1271.5 562.2 1274.3 562.1 1277.2 561.8 1280.0ZM557.4 1282.2 557.1 1284.8 556.7 1287.4 556.3 1290.0 555.6 1292.6 554.8 1295.1 554.0 1297.6 553.2 1300.0 552.4 1302.5 551.6 1304.9 550.6 1307.3 549.7 1309.7 548.6 1312.0 547.5 1314.3 546.3 1316.6 545.1 1318.8 543.7 1321.0 542.4 1323.2 540.9 1325.3 538.8 1326.8 536.6 1328.3 534.5 1329.8 532.3 1331.1 530.2 1332.5 528.1 1333.7 525.9 1335.0 523.8 1336.1 521.6 1337.2 519.5 1338.3 517.3 1339.3 515.1 1340.2 512.9 1341.1 510.7 1341.9 508.5 1342.6 506.3 1343.3 504.1 1343.9 501.9 1344.5 499.6 1345.0 497.4 1345.5 495.1 1345.9 492.9 1346.2 490.6 1346.5 488.4 1346.7 486.1 1346.8 483.9 1346.9 481.6 1347.0 479.3 1346.9 477.1 1346.8 474.8 1346.7 472.6 1346.5 470.3 1346.2 468.1 1345.9 465.8 1345.5 463.6 1345.0 461.4 1344.5 459.1 1343.9 456.9 1343.3 454.7 1342.6 452.5 1341.9 450.3 1341.1 448.1 1340.2 445.9 1339.3 443.8 1338.3 441.6 1337.2 439.5 1336.1 437.3 1335.0 435.2 1333.7 433.0 1332.5 431.1 1331.0 429.3 1329.3 427.6 1327.5 426.0 1325.6 424.4 1323.8 422.8 1321.8 421.3 1319.8 419.9 1317.8 418.5 1315.7 417.2 1313.6 415.9 1311.4 414.8 1309.2 413.8 1306.8 412.9 1304.5 412.1 1302.1 411.4 1299.7 410.7 1297.2 410.1 1294.8 409.6 1292.3 409.1 1289.8 408.8 1287.3 408.5 1284.7 408.3 1282.2 408.4 1279.6 408.6 1277.1 408.9 1274.5 409.3 1272.0 409.8 1269.5 410.3 1267.0 410.9 1264.5 411.6 1262.1 412.4 1259.7 413.2 1257.3 414.1 1254.9 415.1 1252.6 416.2 1250.3 417.4 1248.1 418.9 1246.0 420.4 1243.9 421.9 1241.9 423.5 1240.0 425.2 1238.1 426.9 1236.2 428.6 1234.4 430.4 1232.7 432.2 1231.0 434.1 1229.4 436.0 1227.8 438.0 1226.3 440.0 1224.8 442.0 1223.4 444.1 1222.1 446.2 1220.8 448.3 1219.5 450.5 1218.3 452.7 1217.2 454.9 1216.1 457.2 1215.0 459.5 1214.0 461.8 1213.0 464.1 1212.1 466.5 1211.2 468.9 1210.3 471.4 1209.4 473.9 1208.4 476.4 1207.5 479.0 1206.5 481.6 1205.5 484.3 1204.5 487.1 1203.5 490.0 1202.4 493.0 1201.1 496.1 1199.8 499.5 1198.2 503.1 1195.8 507.3 1192.6 512.1 1188.4 517.1 1184.8 520.6 1185.7 523.8 1187.5 526.5 1190.2 528.5 1193.9 530.4 1197.7 532.1 1201.4 533.8 1204.8 535.5 1208.0 537.1 1211.1 538.7 1214.1 540.3 1217.0 541.7 1219.9 543.1 1222.8 544.4 1225.6 545.7 1228.4 546.9 1231.1 548.2 1233.8 549.3 1236.5 550.4 1239.2 551.5 1241.8 552.4 1244.5 553.2 1247.3 553.9 1250.0 554.5 1252.7 555.2 1255.4 555.8 1258.1 556.3 1260.8 556.7 1263.4 557.1 1266.1 557.4 1268.8 557.6 1271.5 557.8 1274.2 557.8 1276.8 557.6 1279.5ZM554.0 1281.6 553.8 1284.1 553.5 1286.6 553.2 1289.1 552.7 1291.6 552.0 1294.0 551.4 1296.4 550.7 1298.8 549.9 1301.2 549.1 1303.5 548.2 1305.8 547.3 1308.1 546.2 1310.3 545.1 1312.5 544.0 1314.7 542.7 1316.8 541.4 1318.9 540.0 1320.9 538.6 1322.9 536.7 1324.5 534.8 1326.1 532.9 1327.7 531.0 1329.2 529.1 1330.6 527.1 1331.9 525.1 1333.2 523.1 1334.5 521.0 1335.7 519.0 1336.8 516.9 1337.8 514.8 1338.8 512.7 1339.8 510.6 1340.6 508.4 1341.4 506.2 1342.2 504.1 1342.8 501.9 1343.4 499.7 1344.0 497.5 1344.5 495.2 1344.9 493.0 1345.2 490.8 1345.5 488.5 1345.8 486.3 1345.9 484.0 1346.0 481.8 1346.1 479.5 1346.0 477.3 1345.9 475.0 1345.8 472.8 1345.5 470.6 1345.2 468.3 1344.9 466.1 1344.5 463.9 1344.0 461.7 1343.4 459.5 1342.8 457.3 1342.2 455.2 1341.4 453.0 1340.6 450.9 1339.8 448.8 1338.8 446.7 1337.8 444.6 1336.8 442.5 1335.7 440.5 1334.5 438.5 1333.2 436.5 1331.9 434.5 1330.6 432.7 1329.1 431.0 1327.4 429.3 1325.7 427.7 1323.9 426.1 1322.1 424.6 1320.2 423.2 1318.3 421.8 1316.3 420.5 1314.2 419.2 1312.1 418.0 1310.0 417.0 1307.8 416.0 1305.6 415.1 1303.3 414.3 1301.0 413.6 1298.6 413.0 1296.3 412.4 1293.9 412.0 1291.4 411.6 1289.0 411.3 1286.6 411.1 1284.1 410.9 1281.6 411.0 1279.2 411.2 1276.7 411.5 1274.2 411.8 1271.8 412.3 1269.4 412.8 1267.0 413.4 1264.6 414.1 1262.2 414.8 1259.9 415.7 1257.6 416.6 1255.3 417.6 1253.1 418.7 1250.9 419.9 1248.7 421.3 1246.7 422.7 1244.7 424.1 1242.7 425.7 1240.9 427.2 1239.0 428.9 1237.2 430.6 1235.5 432.3 1233.8 434.1 1232.2 435.9 1230.7 437.8 1229.2 439.7 1227.8 441.6 1226.4 443.6 1225.1 445.7 1223.8 447.7 1222.6 449.8 1221.5 451.9 1220.4 454.1 1219.4 456.3 1218.4 458.5 1217.5 460.7 1216.7 462.9 1215.9 465.2 1215.1 467.5 1214.4 469.8 1213.8 472.2 1213.1 474.5 1212.5 476.9 1211.9 479.3 1211.4 481.8 1210.8 484.3 1210.3 486.8 1209.8 489.4 1209.3 492.0 1208.7 494.8 1208.1 497.6 1207.4 500.6 1206.4 503.8 1204.9 507.4 1202.9 511.0 1201.2 513.9 1202.1 516.6 1203.4 519.0 1205.3 521.1 1207.7 523.0 1210.2 524.9 1212.7 526.7 1215.0 528.5 1217.3 530.3 1219.6 532.0 1221.8 533.7 1224.0 535.3 1226.3 536.8 1228.5 538.3 1230.8 539.7 1233.0 541.1 1235.3 542.5 1237.5 543.8 1239.8 545.0 1242.1 546.2 1244.5 547.2 1246.8 548.2 1249.2 549.1 1251.7 549.9 1254.1 550.7 1256.6 551.4 1259.0 552.0 1261.5 552.6 1264.0 553.0 1266.5 553.4 1269.0 553.8 1271.5 554.0 1274.0 554.1 1276.6 554.1 1279.1Z" stroke="#2424d6" stroke-width="1.7"/>
<path d="M550.0 1281.0 550.0 1283.4 549.8 1285.7 549.6 1288.1 549.3 1290.5 548.8 1292.8 548.3 1295.1 547.7 1297.4 547.0 1299.7 546.3 1301.9 545.4 1304.1 544.5 1306.2 543.5 1308.4 542.4 1310.4 541.2 1312.5 540.0 1314.5 538.7 1316.4 537.3 1318.3 535.8 1320.1 534.3 1321.9 532.8 1323.6 531.1 1325.2 529.5 1326.8 527.7 1328.4 526.0 1329.8 524.1 1331.2 522.3 1332.6 520.4 1333.8 518.4 1335.0 516.5 1336.2 514.5 1337.2 512.4 1338.2 510.4 1339.2 508.3 1340.0 506.2 1340.8 504.0 1341.5 501.9 1342.2 499.7 1342.8 497.5 1343.3 495.3 1343.8 493.1 1344.1 490.9 1344.4 488.7 1344.7 486.5 1344.9 484.2 1345.0 482.0 1345.0 479.8 1345.0 477.5 1344.9 475.3 1344.7 473.1 1344.4 470.9 1344.1 468.7 1343.8 466.5 1343.3 464.3 1342.8 462.1 1342.2 460.0 1341.5 457.8 1340.8 455.7 1340.0 453.6 1339.2 451.6 1338.2 449.5 1337.2 447.5 1336.2 445.6 1335.0 443.6 1333.8 441.7 1332.6 439.9 1331.2 438.0 1329.8 436.3 1328.4 434.5 1326.8 432.9 1325.2 431.2 1323.6 429.7 1321.9 428.2 1320.1 426.7 1318.3 425.3 1316.4 424.0 1314.5 422.8 1312.5 421.6 1310.4 420.5 1308.4 419.5 1306.2 418.6 1304.1 417.7 1301.9 417.0 1299.7 416.3 1297.4 415.7 1295.1 415.2 1292.8 414.7 1290.5 414.4 1288.1 414.2 1285.7 414.0 1283.4 414.0 1281.0 414.0 1278.6 414.2 1276.3 414.4 1273.9 414.7 1271.5 415.2 1269.2 415.7 1266.9 416.3 1264.6 417.0 1262.3 417.7 1260.1 418.6 1257.9 419.5 1255.8 420.5 1253.6 421.6 1251.6 422.8 1249.5 424.0 1247.5 425.3 1245.6 426.7 1243.7 428.2 1241.9 429.7 1240.1 431.2 1238.4 432.9 1236.8 434.5 1235.2 436.3 1233.6 438.0 1232.2 439.9 1230.8 441.7 1229.4 443.6 1228.2 445.6 1227.0 447.5 1225.8 449.5 1224.8 451.6 1223.8 453.6 1222.8 455.7 1222.0 457.8 1221.2 460.0 1220.5 462.1 1219.8 464.3 1219.2 466.5 1218.7 468.7 1218.2 470.9 1217.9 473.1 1217.6 475.3 1217.3 477.5 1217.1 479.8 1217.0 482.0 1217.0 484.2 1217.0 486.5 1217.1 488.7 1217.3 490.9 1217.6 493.1 1217.9 495.3 1218.2 497.5 1218.7 499.7 1219.2 501.9 1219.8 504.0 1220.5 506.2 1221.2 508.3 1222.0 510.4 1222.8 512.4 1223.8 514.5 1224.8 516.5 1225.8 518.4 1227.0 520.4 1228.2 522.3 1229.4 524.1 1230.8 526.0 1232.2 527.7 1233.6 529.5 1235.2 531.1 1236.8 532.8 1238.4 534.3 1240.1 535.8 1241.9 537.3 1243.7 538.7 1245.6 540.0 1247.5 541.2 1249.5 542.4 1251.6 543.5 1253.6 544.5 1255.8 545.4 1257.9 546.3 1260.1 547.0 1262.3 547.7 1264.6 548.3 1266.9 548.8 1269.2 549.3 1271.5 549.6 1273.9 549.8 1276.3 550.0 1278.6Z" stroke="#3c5aff" stroke-width="2.2"/>
<path d="M546.5 1281.5 546.4 1283.7 546.3 1286.0 546.1 1288.2 545.7 1290.4 545.3 1292.6 544.9 1294.8 544.3 1297.0 543.6 1299.2 542.9 1301.3 542.1 1303.4 541.2 1305.4 540.2 1307.4 539.2 1309.4 538.1 1311.4 536.9 1313.2 535.7 1315.1 534.4 1316.9 533.0 1318.6 531.6 1320.3 530.1 1321.9 528.5 1323.5 526.9 1325.0 525.3 1326.4 523.6 1327.8 521.9 1329.2 520.1 1330.4 518.3 1331.6 516.5 1332.8 514.6 1333.9 512.7 1334.9 510.8 1335.8 508.8 1336.7 506.8 1337.5 504.8 1338.3 502.8 1339.0 500.7 1339.6 498.7 1340.1 496.6 1340.6 494.5 1341.1 492.4 1341.4 490.3 1341.7 488.2 1342.0 486.1 1342.1 484.0 1342.2 481.9 1342.2 479.7 1342.2 477.6 1342.1 475.5 1342.0 473.4 1341.7 471.3 1341.4 469.2 1341.1 467.1 1340.6 465.0 1340.1 463.0 1339.6 460.9 1339.0 458.9 1338.3 456.9 1337.5 454.9 1336.7 452.9 1335.8 451.0 1334.9 449.1 1333.9 447.2 1332.8 445.4 1331.6 443.6 1330.4 441.8 1329.2 440.1 1327.8 438.4 1326.4 436.8 1325.0 435.2 1323.5 433.6 1321.9 432.1 1320.3 430.7 1318.6 429.3 1316.9 428.0 1315.1 426.8 1313.2 425.6 1311.4 424.5 1309.4 423.5 1307.4 422.5 1305.4 421.6 1303.4 420.8 1301.3 420.1 1299.2 419.4 1297.0 418.8 1294.8 418.4 1292.6 418.0 1290.4 417.6 1288.2 417.4 1286.0 417.3 1283.7 417.2 1281.5 417.3 1279.2 417.4 1276.9 417.6 1274.7 418.0 1272.5 418.4 1270.3 418.8 1268.1 419.4 1265.9 420.1 1263.7 420.8 1261.6 421.6 1259.5 422.5 1257.5 423.5 1255.5 424.5 1253.5 425.6 1251.5 426.8 1249.7 428.0 1247.8 429.3 1246.0 430.7 1244.3 432.1 1242.6 433.6 1241.0 435.2 1239.4 436.8 1237.9 438.4 1236.5 440.1 1235.1 441.8 1233.7 443.6 1232.5 445.4 1231.3 447.2 1230.1 449.1 1229.0 451.0 1228.0 452.9 1227.1 454.9 1226.2 456.9 1225.4 458.9 1224.6 460.9 1223.9 463.0 1223.3 465.0 1222.8 467.1 1222.3 469.2 1221.8 471.3 1221.5 473.4 1221.2 475.5 1220.9 477.6 1220.8 479.7 1220.7 481.9 1220.7 484.0 1220.7 486.1 1220.8 488.2 1220.9 490.3 1221.2 492.4 1221.5 494.5 1221.8 496.6 1222.3 498.7 1222.8 500.7 1223.3 502.8 1223.9 504.8 1224.6 506.8 1225.4 508.8 1226.2 510.8 1227.1 512.7 1228.0 514.6 1229.0 516.5 1230.1 518.3 1231.3 520.1 1232.5 521.9 1233.7 523.6 1235.1 525.3 1236.5 526.9 1237.9 528.5 1239.4 530.1 1241.0 531.6 1242.6 533.0 1244.3 534.4 1246.0 535.7 1247.8 536.9 1249.7 538.1 1251.5 539.2 1253.5 540.2 1255.5 541.2 1257.5 542.1 1259.5 542.9 1261.6 543.6 1263.7 544.3 1265.9 544.9 1268.1 545.3 1270.3 545.7 1272.5 546.1 1274.7 546.3 1276.9 546.4 1279.2Z" stroke="#2f80ff" stroke-width="2.2"/>
<path d="M542.9 1281.9 542.9 1284.0 542.7 1286.2 542.5 1288.3 542.2 1290.4 541.9 1292.5 541.4 1294.6 540.9 1296.7 540.2 1298.7 539.5 1300.7 538.8 1302.7 537.9 1304.6 537.0 1306.5 536.0 1308.4 535.0 1310.2 533.9 1312.0 532.7 1313.8 531.4 1315.5 530.1 1317.1 528.8 1318.7 527.4 1320.2 525.9 1321.7 524.4 1323.1 522.9 1324.5 521.3 1325.8 519.6 1327.1 518.0 1328.3 516.2 1329.4 514.5 1330.5 512.7 1331.6 510.9 1332.5 509.1 1333.4 507.2 1334.2 505.4 1335.0 503.5 1335.7 501.5 1336.4 499.6 1337.0 497.6 1337.5 495.7 1338.0 493.7 1338.4 491.7 1338.7 489.7 1339.0 487.7 1339.2 485.7 1339.4 483.7 1339.5 481.7 1339.5 479.7 1339.5 477.7 1339.4 475.7 1339.2 473.7 1339.0 471.7 1338.7 469.7 1338.4 467.7 1338.0 465.8 1337.5 463.8 1337.0 461.9 1336.4 459.9 1335.7 458.0 1335.0 456.2 1334.2 454.3 1333.4 452.5 1332.5 450.7 1331.6 448.9 1330.5 447.2 1329.4 445.4 1328.3 443.8 1327.1 442.1 1325.8 440.5 1324.5 439.0 1323.1 437.5 1321.7 436.0 1320.2 434.6 1318.7 433.3 1317.1 432.0 1315.5 430.7 1313.8 429.5 1312.0 428.4 1310.2 427.4 1308.4 426.4 1306.5 425.5 1304.6 424.6 1302.7 423.9 1300.7 423.2 1298.7 422.5 1296.7 422.0 1294.6 421.5 1292.5 421.2 1290.4 420.9 1288.3 420.7 1286.2 420.5 1284.0 420.5 1281.9 420.5 1279.8 420.7 1277.6 420.9 1275.5 421.2 1273.4 421.5 1271.3 422.0 1269.2 422.5 1267.1 423.2 1265.1 423.9 1263.1 424.6 1261.1 425.5 1259.2 426.4 1257.3 427.4 1255.4 428.4 1253.6 429.5 1251.8 430.7 1250.0 432.0 1248.3 433.3 1246.7 434.6 1245.1 436.0 1243.6 437.5 1242.1 439.0 1240.7 440.5 1239.3 442.1 1238.0 443.8 1236.7 445.4 1235.5 447.2 1234.4 448.9 1233.3 450.7 1232.2 452.5 1231.3 454.3 1230.4 456.2 1229.6 458.0 1228.8 459.9 1228.1 461.9 1227.4 463.8 1226.8 465.8 1226.3 467.7 1225.8 469.7 1225.4 471.7 1225.1 473.7 1224.8 475.7 1224.6 477.7 1224.4 479.7 1224.3 481.7 1224.3 483.7 1224.3 485.7 1224.4 487.7 1224.6 489.7 1224.8 491.7 1225.1 493.7 1225.4 495.7 1225.8 497.6 1226.3 499.6 1226.8 501.5 1227.4 503.5 1228.1 505.4 1228.8 507.2 1229.6 509.1 1230.4 510.9 1231.3 512.7 1232.2 514.5 1233.3 516.2 1234.4 518.0 1235.5 519.6 1236.7 521.3 1238.0 522.9 1239.3 524.4 1240.7 525.9 1242.1 527.4 1243.6 528.8 1245.1 530.1 1246.7 531.4 1248.3 532.7 1250.0 533.9 1251.8 535.0 1253.6 536.0 1255.4 537.0 1257.3 537.9 1259.2 538.8 1261.1 539.5 1263.1 540.2 1265.1 540.9 1267.1 541.4 1269.2 541.9 1271.3 542.2 1273.4 542.5 1275.5 542.7 1277.6 542.9 1279.8Z" stroke="#1da7ff" stroke-width="2.2"/>
<path d="M539.4 1282.3 539.3 1284.4 539.2 1286.4 539.0 1288.4 538.7 1290.4 538.4 1292.4 537.9 1294.3 537.4 1296.3 536.8 1298.2 536.2 1300.1 535.5 1302.0 534.7 1303.8 533.8 1305.6 532.9 1307.4 531.9 1309.1 530.8 1310.8 529.7 1312.4 528.5 1314.0 527.3 1315.6 526.0 1317.1 524.7 1318.6 523.3 1320.0 521.9 1321.3 520.4 1322.6 518.9 1323.9 517.4 1325.0 515.8 1326.2 514.2 1327.3 512.5 1328.3 510.9 1329.2 509.1 1330.1 507.4 1331.0 505.7 1331.8 503.9 1332.5 502.1 1333.2 500.3 1333.8 498.5 1334.4 496.6 1334.9 494.8 1335.3 492.9 1335.7 491.0 1336.0 489.1 1336.3 487.2 1336.5 485.3 1336.6 483.4 1336.7 481.6 1336.8 479.7 1336.7 477.8 1336.6 475.9 1336.5 474.0 1336.3 472.1 1336.0 470.2 1335.7 468.3 1335.3 466.5 1334.9 464.6 1334.4 462.8 1333.8 461.0 1333.2 459.2 1332.5 457.4 1331.8 455.7 1331.0 454.0 1330.1 452.2 1329.2 450.6 1328.3 448.9 1327.3 447.3 1326.2 445.7 1325.0 444.2 1323.9 442.7 1322.6 441.2 1321.3 439.8 1320.0 438.4 1318.6 437.1 1317.1 435.8 1315.6 434.6 1314.0 433.4 1312.4 432.3 1310.8 431.2 1309.1 430.2 1307.4 429.3 1305.6 428.4 1303.8 427.6 1302.0 426.9 1300.1 426.3 1298.2 425.7 1296.3 425.2 1294.3 424.7 1292.4 424.4 1290.4 424.1 1288.4 423.9 1286.4 423.8 1284.4 423.8 1282.3 423.8 1280.3 423.9 1278.3 424.1 1276.3 424.4 1274.3 424.7 1272.3 425.2 1270.4 425.7 1268.4 426.3 1266.5 426.9 1264.6 427.6 1262.7 428.4 1260.9 429.3 1259.1 430.2 1257.3 431.2 1255.6 432.3 1253.9 433.4 1252.3 434.6 1250.7 435.8 1249.1 437.1 1247.6 438.4 1246.1 439.8 1244.7 441.2 1243.4 442.7 1242.1 444.2 1240.8 445.7 1239.7 447.3 1238.5 448.9 1237.4 450.6 1236.4 452.2 1235.5 454.0 1234.6 455.7 1233.7 457.4 1232.9 459.2 1232.2 461.0 1231.5 462.8 1230.9 464.6 1230.3 466.5 1229.8 468.3 1229.4 470.2 1229.0 472.1 1228.7 474.0 1228.4 475.9 1228.2 477.8 1228.1 479.7 1228.0 481.6 1227.9 483.4 1228.0 485.3 1228.1 487.2 1228.2 489.1 1228.4 491.0 1228.7 492.9 1229.0 494.8 1229.4 496.6 1229.8 498.5 1230.3 500.3 1230.9 502.1 1231.5 503.9 1232.2 505.7 1232.9 507.4 1233.7 509.1 1234.6 510.9 1235.5 512.5 1236.4 514.2 1237.4 515.8 1238.5 517.4 1239.7 518.9 1240.8 520.4 1242.1 521.9 1243.4 523.3 1244.7 524.7 1246.1 526.0 1247.6 527.3 1249.1 528.5 1250.7 529.7 1252.3 530.8 1253.9 531.9 1255.6 532.9 1257.3 533.8 1259.1 534.7 1260.9 535.5 1262.7 536.2 1264.6 536.8 1266.5 537.4 1268.4 537.9 1270.4 538.4 1272.3 538.7 1274.3 539.0 1276.3 539.2 1278.3 539.3 1280.3Z" stroke="#00d2ff" stroke-width="2.2"/>
<path d="M535.8 1282.8 535.8 1284.7 535.7 1286.6 535.5 1288.5 535.2 1290.4 534.9 1292.2 534.5 1294.1 534.0 1295.9 533.4 1297.7 532.8 1299.5 532.1 1301.3 531.4 1303.0 530.6 1304.7 529.7 1306.4 528.8 1308.0 527.8 1309.6 526.7 1311.1 525.6 1312.6 524.5 1314.1 523.3 1315.5 522.0 1316.9 520.7 1318.2 519.4 1319.5 518.0 1320.7 516.6 1321.9 515.1 1323.0 513.6 1324.0 512.1 1325.1 510.6 1326.0 509.0 1326.9 507.4 1327.8 505.7 1328.6 504.1 1329.3 502.4 1330.0 500.7 1330.7 499.0 1331.2 497.3 1331.8 495.6 1332.2 493.8 1332.6 492.1 1333.0 490.3 1333.3 488.5 1333.6 486.8 1333.8 485.0 1333.9 483.2 1334.0 481.4 1334.0 479.6 1334.0 477.8 1333.9 476.0 1333.8 474.3 1333.6 472.5 1333.3 470.7 1333.0 469.0 1332.6 467.2 1332.2 465.5 1331.8 463.8 1331.2 462.1 1330.7 460.4 1330.0 458.7 1329.3 457.1 1328.6 455.4 1327.8 453.8 1326.9 452.2 1326.0 450.7 1325.1 449.2 1324.0 447.7 1323.0 446.2 1321.9 444.8 1320.7 443.4 1319.5 442.1 1318.2 440.8 1316.9 439.5 1315.5 438.3 1314.1 437.2 1312.6 436.1 1311.1 435.0 1309.6 434.0 1308.0 433.1 1306.4 432.2 1304.7 431.4 1303.0 430.7 1301.3 430.0 1299.5 429.4 1297.7 428.8 1295.9 428.3 1294.1 427.9 1292.2 427.6 1290.4 427.3 1288.5 427.1 1286.6 427.0 1284.7 427.0 1282.8 427.0 1280.9 427.1 1279.0 427.3 1277.1 427.6 1275.2 427.9 1273.4 428.3 1271.5 428.8 1269.7 429.4 1267.9 430.0 1266.1 430.7 1264.3 431.4 1262.6 432.2 1260.9 433.1 1259.2 434.0 1257.6 435.0 1256.0 436.1 1254.5 437.2 1253.0 438.3 1251.5 439.5 1250.1 440.8 1248.7 442.1 1247.4 443.4 1246.1 444.8 1244.9 446.2 1243.7 447.7 1242.6 449.2 1241.6 450.7 1240.5 452.2 1239.6 453.8 1238.7 455.4 1237.8 457.1 1237.0 458.7 1236.3 460.4 1235.6 462.1 1234.9 463.8 1234.4 465.5 1233.8 467.2 1233.4 469.0 1233.0 470.7 1232.6 472.5 1232.3 474.3 1232.0 476.0 1231.8 477.8 1231.7 479.6 1231.6 481.4 1231.6 483.2 1231.6 485.0 1231.7 486.8 1231.8 488.5 1232.0 490.3 1232.3 492.1 1232.6 493.8 1233.0 495.6 1233.4 497.3 1233.8 499.0 1234.4 500.7 1234.9 502.4 1235.6 504.1 1236.3 505.7 1237.0 507.4 1237.8 509.0 1238.7 510.6 1239.6 512.1 1240.5 513.6 1241.6 515.1 1242.6 516.6 1243.7 518.0 1244.9 519.4 1246.1 520.7 1247.4 522.0 1248.7 523.3 1250.1 524.5 1251.5 525.6 1253.0 526.7 1254.5 527.8 1256.0 528.8 1257.6 529.7 1259.2 530.6 1260.9 531.4 1262.6 532.1 1264.3 532.8 1266.1 533.4 1267.9 534.0 1269.7 534.5 1271.5 534.9 1273.4 535.2 1275.2 535.5 1277.1 535.7 1279.0 535.8 1280.9Z" stroke="#00e4e6" stroke-width="2.2"/>
<path d="M532.2 1283.2 532.2 1285.0 532.1 1286.8 531.9 1288.6 531.7 1290.3 531.4 1292.1 531.0 1293.8 530.5 1295.5 530.0 1297.2 529.5 1298.9 528.8 1300.6 528.1 1302.2 527.4 1303.8 526.5 1305.3 525.7 1306.9 524.7 1308.3 523.7 1309.8 522.7 1311.2 521.6 1312.6 520.5 1313.9 519.3 1315.2 518.1 1316.4 516.8 1317.6 515.6 1318.8 514.2 1319.9 512.9 1320.9 511.5 1321.9 510.0 1322.9 508.6 1323.8 507.1 1324.6 505.6 1325.4 504.1 1326.2 502.5 1326.9 501.0 1327.5 499.4 1328.1 497.8 1328.7 496.2 1329.2 494.5 1329.6 492.9 1330.0 491.3 1330.3 489.6 1330.6 487.9 1330.8 486.3 1331.0 484.6 1331.1 482.9 1331.2 481.2 1331.2 479.6 1331.2 477.9 1331.1 476.2 1331.0 474.6 1330.8 472.9 1330.6 471.2 1330.3 469.6 1330.0 468.0 1329.6 466.3 1329.2 464.7 1328.7 463.1 1328.1 461.5 1327.5 460.0 1326.9 458.4 1326.2 456.9 1325.4 455.4 1324.6 453.9 1323.8 452.5 1322.9 451.0 1321.9 449.6 1320.9 448.3 1319.9 446.9 1318.8 445.7 1317.6 444.4 1316.4 443.2 1315.2 442.0 1313.9 440.9 1312.6 439.8 1311.2 438.8 1309.8 437.8 1308.3 436.8 1306.9 436.0 1305.3 435.1 1303.8 434.4 1302.2 433.7 1300.6 433.0 1298.9 432.5 1297.2 432.0 1295.5 431.5 1293.8 431.1 1292.1 430.8 1290.3 430.6 1288.6 430.4 1286.8 430.3 1285.0 430.2 1283.2 430.3 1281.5 430.4 1279.7 430.6 1277.9 430.8 1276.2 431.1 1274.4 431.5 1272.7 432.0 1271.0 432.5 1269.3 433.0 1267.6 433.7 1265.9 434.4 1264.3 435.1 1262.7 436.0 1261.2 436.8 1259.6 437.8 1258.2 438.8 1256.7 439.8 1255.3 440.9 1253.9 442.0 1252.6 443.2 1251.3 444.4 1250.1 445.7 1248.9 446.9 1247.7 448.3 1246.6 449.6 1245.6 451.0 1244.6 452.5 1243.6 453.9 1242.7 455.4 1241.9 456.9 1241.1 458.4 1240.3 460.0 1239.6 461.5 1239.0 463.1 1238.4 464.7 1237.8 466.3 1237.3 468.0 1236.9 469.6 1236.5 471.2 1236.2 472.9 1235.9 474.6 1235.7 476.2 1235.5 477.9 1235.4 479.6 1235.3 481.2 1235.2 482.9 1235.3 484.6 1235.4 486.3 1235.5 487.9 1235.7 489.6 1235.9 491.3 1236.2 492.9 1236.5 494.5 1236.9 496.2 1237.3 497.8 1237.8 499.4 1238.4 501.0 1239.0 502.5 1239.6 504.1 1240.3 505.6 1241.1 507.1 1241.9 508.6 1242.7 510.0 1243.6 511.5 1244.6 512.9 1245.6 514.2 1246.6 515.6 1247.7 516.8 1248.9 518.1 1250.1 519.3 1251.3 520.5 1252.6 521.6 1253.9 522.7 1255.3 523.7 1256.7 524.7 1258.2 525.7 1259.6 526.5 1261.2 527.4 1262.7 528.1 1264.3 528.8 1265.9 529.5 1267.6 530.0 1269.3 530.5 1271.0 531.0 1272.7 531.4 1274.4 531.7 1276.2 531.9 1277.9 532.1 1279.7 532.2 1281.5Z" stroke="#00d694" stroke-width="2.2"/>
<path d="M528.7 1283.7 528.7 1285.4 528.6 1287.0 528.4 1288.7 528.2 1290.3 527.9 1291.9 527.5 1293.6 527.1 1295.2 526.6 1296.8 526.1 1298.3 525.5 1299.9 524.8 1301.4 524.1 1302.9 523.4 1304.3 522.5 1305.7 521.7 1307.1 520.8 1308.5 519.8 1309.8 518.8 1311.1 517.7 1312.3 516.6 1313.5 515.5 1314.7 514.3 1315.8 513.1 1316.9 511.9 1317.9 510.6 1318.9 509.3 1319.8 508.0 1320.7 506.6 1321.5 505.2 1322.3 503.8 1323.1 502.4 1323.8 501.0 1324.4 499.5 1325.0 498.0 1325.6 496.5 1326.1 495.0 1326.5 493.5 1327.0 492.0 1327.3 490.4 1327.6 488.9 1327.9 487.3 1328.1 485.8 1328.3 484.2 1328.4 482.7 1328.5 481.1 1328.5 479.5 1328.5 478.0 1328.4 476.4 1328.3 474.9 1328.1 473.3 1327.9 471.8 1327.6 470.2 1327.3 468.7 1327.0 467.2 1326.5 465.7 1326.1 464.2 1325.6 462.7 1325.0 461.2 1324.4 459.8 1323.8 458.4 1323.1 457.0 1322.3 455.6 1321.5 454.2 1320.7 452.9 1319.8 451.6 1318.9 450.3 1317.9 449.1 1316.9 447.9 1315.8 446.7 1314.7 445.6 1313.5 444.5 1312.3 443.4 1311.1 442.4 1309.8 441.4 1308.5 440.5 1307.1 439.7 1305.7 438.8 1304.3 438.1 1302.9 437.4 1301.4 436.7 1299.9 436.1 1298.3 435.6 1296.8 435.1 1295.2 434.7 1293.6 434.3 1291.9 434.0 1290.3 433.8 1288.7 433.6 1287.0 433.5 1285.4 433.5 1283.7 433.5 1282.0 433.6 1280.4 433.8 1278.7 434.0 1277.1 434.3 1275.5 434.7 1273.8 435.1 1272.2 435.6 1270.6 436.1 1269.1 436.7 1267.5 437.4 1266.0 438.1 1264.5 438.8 1263.1 439.7 1261.7 440.5 1260.3 441.4 1258.9 442.4 1257.6 443.4 1256.3 444.5 1255.1 445.6 1253.9 446.7 1252.7 447.9 1251.6 449.1 1250.5 450.3 1249.5 451.6 1248.5 452.9 1247.6 454.2 1246.7 455.6 1245.9 457.0 1245.1 458.4 1244.3 459.8 1243.6 461.2 1243.0 462.7 1242.4 464.2 1241.8 465.7 1241.3 467.2 1240.9 468.7 1240.4 470.2 1240.1 471.8 1239.8 473.3 1239.5 474.9 1239.3 476.4 1239.1 478.0 1239.0 479.5 1238.9 481.1 1238.9 482.7 1238.9 484.2 1239.0 485.8 1239.1 487.3 1239.3 488.9 1239.5 490.4 1239.8 492.0 1240.1 493.5 1240.4 495.0 1240.9 496.5 1241.3 498.0 1241.8 499.5 1242.4 501.0 1243.0 502.4 1243.6 503.8 1244.3 505.2 1245.1 506.6 1245.9 508.0 1246.7 509.3 1247.6 510.6 1248.5 511.9 1249.5 513.1 1250.5 514.3 1251.6 515.5 1252.7 516.6 1253.9 517.7 1255.1 518.8 1256.3 519.8 1257.6 520.8 1258.9 521.7 1260.3 522.5 1261.7 523.4 1263.1 524.1 1264.5 524.8 1266.0 525.5 1267.5 526.1 1269.1 526.6 1270.6 527.1 1272.2 527.5 1273.8 527.9 1275.5 528.2 1277.1 528.4 1278.7 528.6 1280.4 528.7 1282.0Z" stroke="#00a219" stroke-width="2.2"/>
<path d="M525.1 1284.2 525.1 1285.7 525.0 1287.2 524.9 1288.8 524.7 1290.3 524.4 1291.8 524.1 1293.3 523.7 1294.8 523.2 1296.3 522.7 1297.7 522.2 1299.2 521.6 1300.6 520.9 1301.9 520.2 1303.3 519.4 1304.6 518.6 1305.9 517.8 1307.2 516.9 1308.4 515.9 1309.6 515.0 1310.7 513.9 1311.8 512.9 1312.9 511.8 1313.9 510.7 1314.9 509.5 1315.9 508.3 1316.8 507.1 1317.7 505.9 1318.5 504.6 1319.3 503.4 1320.0 502.1 1320.7 500.7 1321.4 499.4 1322.0 498.0 1322.5 496.7 1323.0 495.3 1323.5 493.9 1323.9 492.5 1324.3 491.0 1324.6 489.6 1324.9 488.2 1325.2 486.7 1325.4 485.3 1325.5 483.9 1325.7 482.4 1325.7 480.9 1325.8 479.5 1325.7 478.0 1325.7 476.6 1325.5 475.2 1325.4 473.7 1325.2 472.3 1324.9 470.9 1324.6 469.4 1324.3 468.0 1323.9 466.6 1323.5 465.2 1323.0 463.9 1322.5 462.5 1322.0 461.2 1321.4 459.8 1320.7 458.5 1320.0 457.3 1319.3 456.0 1318.5 454.8 1317.7 453.6 1316.8 452.4 1315.9 451.2 1314.9 450.1 1313.9 449.0 1312.9 448.0 1311.8 446.9 1310.7 446.0 1309.6 445.0 1308.4 444.1 1307.2 443.3 1305.9 442.5 1304.6 441.7 1303.3 441.0 1301.9 440.3 1300.6 439.7 1299.2 439.2 1297.7 438.7 1296.3 438.2 1294.8 437.8 1293.3 437.5 1291.8 437.2 1290.3 437.0 1288.8 436.9 1287.2 436.8 1285.7 436.8 1284.2 436.8 1282.6 436.9 1281.1 437.0 1279.5 437.2 1278.0 437.5 1276.5 437.8 1275.0 438.2 1273.5 438.7 1272.0 439.2 1270.6 439.7 1269.1 440.3 1267.7 441.0 1266.4 441.7 1265.0 442.5 1263.7 443.3 1262.4 444.1 1261.1 445.0 1259.9 446.0 1258.7 446.9 1257.6 448.0 1256.5 449.0 1255.4 450.1 1254.4 451.2 1253.4 452.4 1252.4 453.6 1251.5 454.8 1250.6 456.0 1249.8 457.3 1249.0 458.5 1248.3 459.8 1247.6 461.2 1246.9 462.5 1246.3 463.9 1245.8 465.2 1245.3 466.6 1244.8 468.0 1244.4 469.4 1244.0 470.9 1243.7 472.3 1243.4 473.7 1243.1 475.2 1242.9 476.6 1242.8 478.0 1242.6 479.5 1242.6 480.9 1242.6 482.4 1242.6 483.9 1242.6 485.3 1242.8 486.7 1242.9 488.2 1243.1 489.6 1243.4 491.0 1243.7 492.5 1244.0 493.9 1244.4 495.3 1244.8 496.7 1245.3 498.0 1245.8 499.4 1246.3 500.7 1246.9 502.1 1247.6 503.4 1248.3 504.6 1249.0 505.9 1249.8 507.1 1250.6 508.3 1251.5 509.5 1252.4 510.7 1253.4 511.8 1254.4 512.9 1255.4 513.9 1256.5 515.0 1257.6 515.9 1258.7 516.9 1259.9 517.8 1261.1 518.6 1262.4 519.4 1263.7 520.2 1265.0 520.9 1266.4 521.6 1267.7 522.2 1269.1 522.7 1270.6 523.2 1272.0 523.7 1273.5 524.1 1275.0 524.4 1276.5 524.7 1278.0 524.9 1279.5 525.0 1281.1 525.1 1282.6Z" stroke="#28a300" stroke-width="2.2"/>
<path d="M521.6 1284.6 521.6 1286.0 521.5 1287.4 521.3 1288.9 521.2 1290.3 520.9 1291.7 520.6 1293.1 520.2 1294.4 519.8 1295.8 519.4 1297.1 518.9 1298.5 518.3 1299.7 517.7 1301.0 517.0 1302.3 516.3 1303.5 515.6 1304.7 514.8 1305.8 514.0 1307.0 513.1 1308.1 512.2 1309.1 511.3 1310.2 510.3 1311.1 509.3 1312.1 508.2 1313.0 507.2 1313.9 506.1 1314.7 505.0 1315.5 503.8 1316.3 502.7 1317.0 501.5 1317.7 500.3 1318.3 499.1 1318.9 497.8 1319.5 496.6 1320.0 495.3 1320.5 494.0 1320.9 492.7 1321.3 491.4 1321.7 490.1 1322.0 488.8 1322.3 487.5 1322.5 486.2 1322.7 484.8 1322.8 483.5 1322.9 482.1 1323.0 480.8 1323.0 479.5 1323.0 478.1 1322.9 476.8 1322.8 475.4 1322.7 474.1 1322.5 472.8 1322.3 471.5 1322.0 470.2 1321.7 468.9 1321.3 467.6 1320.9 466.3 1320.5 465.0 1320.0 463.8 1319.5 462.5 1318.9 461.3 1318.3 460.1 1317.7 458.9 1317.0 457.8 1316.3 456.6 1315.5 455.5 1314.7 454.4 1313.9 453.4 1313.0 452.3 1312.1 451.3 1311.1 450.3 1310.2 449.4 1309.1 448.5 1308.1 447.6 1307.0 446.8 1305.8 446.0 1304.7 445.3 1303.5 444.6 1302.3 443.9 1301.0 443.3 1299.7 442.7 1298.5 442.2 1297.1 441.8 1295.8 441.4 1294.4 441.0 1293.1 440.7 1291.7 440.4 1290.3 440.3 1288.9 440.1 1287.4 440.0 1286.0 440.0 1284.6 440.0 1283.2 440.1 1281.8 440.3 1280.3 440.4 1278.9 440.7 1277.5 441.0 1276.1 441.4 1274.8 441.8 1273.4 442.2 1272.1 442.7 1270.7 443.3 1269.5 443.9 1268.2 444.6 1266.9 445.3 1265.7 446.0 1264.5 446.8 1263.4 447.6 1262.2 448.5 1261.1 449.4 1260.1 450.3 1259.0 451.3 1258.1 452.3 1257.1 453.4 1256.2 454.4 1255.3 455.5 1254.5 456.6 1253.7 457.8 1252.9 458.9 1252.2 460.1 1251.5 461.3 1250.9 462.5 1250.3 463.8 1249.7 465.0 1249.2 466.3 1248.7 467.6 1248.3 468.9 1247.9 470.2 1247.5 471.5 1247.2 472.8 1246.9 474.1 1246.7 475.4 1246.5 476.8 1246.4 478.1 1246.3 479.5 1246.2 480.8 1246.2 482.1 1246.2 483.5 1246.3 484.8 1246.4 486.2 1246.5 487.5 1246.7 488.8 1246.9 490.1 1247.2 491.4 1247.5 492.7 1247.9 494.0 1248.3 495.3 1248.7 496.6 1249.2 497.8 1249.7 499.1 1250.3 500.3 1250.9 501.5 1251.5 502.7 1252.2 503.8 1252.9 505.0 1253.7 506.1 1254.5 507.2 1255.3 508.2 1256.2 509.3 1257.1 510.3 1258.1 511.3 1259.0 512.2 1260.1 513.1 1261.1 514.0 1262.2 514.8 1263.4 515.6 1264.5 516.3 1265.7 517.0 1266.9 517.7 1268.2 518.3 1269.5 518.9 1270.7 519.4 1272.1 519.8 1273.4 520.2 1274.8 520.6 1276.1 520.9 1277.5 521.2 1278.9 521.3 1280.3 521.5 1281.8 521.6 1283.2Z" stroke="#9cd100" stroke-width="2.2"/>
<path d="M518.0 1285.0 518.0 1286.4 517.9 1287.7 517.8 1289.0 517.6 1290.2 517.4 1291.5 517.1 1292.8 516.8 1294.1 516.4 1295.3 516.0 1296.5 515.5 1297.7 515.0 1298.9 514.5 1300.1 513.9 1301.2 513.2 1302.4 512.5 1303.5 511.8 1304.5 511.0 1305.6 510.3 1306.6 509.4 1307.5 508.6 1308.5 507.7 1309.4 506.8 1310.3 505.8 1311.1 504.8 1311.9 503.8 1312.7 502.8 1313.4 501.8 1314.1 500.7 1314.8 499.6 1315.4 498.5 1316.0 497.4 1316.5 496.3 1317.0 495.1 1317.5 493.9 1318.0 492.8 1318.4 491.6 1318.7 490.4 1319.0 489.2 1319.3 488.0 1319.6 486.8 1319.8 485.6 1319.9 484.3 1320.1 483.1 1320.2 481.9 1320.2 480.6 1320.2 479.4 1320.2 478.2 1320.2 477.0 1320.1 475.7 1319.9 474.5 1319.8 473.3 1319.6 472.1 1319.3 470.9 1319.0 469.7 1318.7 468.5 1318.4 467.4 1318.0 466.2 1317.5 465.0 1317.0 463.9 1316.5 462.8 1316.0 461.7 1315.4 460.6 1314.8 459.5 1314.1 458.5 1313.4 457.5 1312.7 456.5 1311.9 455.5 1311.1 454.5 1310.3 453.6 1309.4 452.7 1308.5 451.9 1307.5 451.0 1306.6 450.3 1305.6 449.5 1304.5 448.8 1303.5 448.1 1302.4 447.4 1301.2 446.8 1300.1 446.3 1298.9 445.8 1297.7 445.3 1296.5 444.9 1295.3 444.5 1294.1 444.2 1292.8 443.9 1291.5 443.7 1290.2 443.5 1289.0 443.4 1287.7 443.3 1286.4 443.2 1285.0 443.3 1283.7 443.4 1282.4 443.5 1281.1 443.7 1279.9 443.9 1278.6 444.2 1277.3 444.5 1276.0 444.9 1274.8 445.3 1273.6 445.8 1272.4 446.3 1271.2 446.8 1270.0 447.4 1268.9 448.1 1267.7 448.8 1266.6 449.5 1265.6 450.3 1264.5 451.0 1263.5 451.9 1262.6 452.7 1261.6 453.6 1260.7 454.5 1259.8 455.5 1259.0 456.5 1258.2 457.5 1257.4 458.5 1256.7 459.5 1256.0 460.6 1255.3 461.7 1254.7 462.8 1254.1 463.9 1253.6 465.0 1253.1 466.2 1252.6 467.4 1252.1 468.5 1251.7 469.7 1251.4 470.9 1251.1 472.1 1250.8 473.3 1250.5 474.5 1250.3 475.7 1250.2 477.0 1250.0 478.2 1249.9 479.4 1249.9 480.6 1249.8 481.9 1249.9 483.1 1249.9 484.3 1250.0 485.6 1250.2 486.8 1250.3 488.0 1250.5 489.2 1250.8 490.4 1251.1 491.6 1251.4 492.8 1251.7 493.9 1252.1 495.1 1252.6 496.3 1253.1 497.4 1253.6 498.5 1254.1 499.6 1254.7 500.7 1255.3 501.8 1256.0 502.8 1256.7 503.8 1257.4 504.8 1258.2 505.8 1259.0 506.8 1259.8 507.7 1260.7 508.6 1261.6 509.4 1262.6 510.3 1263.5 511.0 1264.5 511.8 1265.6 512.5 1266.6 513.2 1267.7 513.9 1268.9 514.5 1270.0 515.0 1271.2 515.5 1272.4 516.0 1273.6 516.4 1274.8 516.8 1276.0 517.1 1277.3 517.4 1278.6 517.6 1279.9 517.8 1281.1 517.9 1282.4 518.0 1283.7Z" stroke="#eeeb00" stroke-width="2.2"/>
<path d="M514.5 1285.5 514.5 1286.7 514.4 1287.9 514.3 1289.1 514.1 1290.2 513.9 1291.4 513.7 1292.5 513.4 1293.7 513.0 1294.8 512.6 1295.9 512.2 1297.0 511.7 1298.1 511.2 1299.2 510.7 1300.2 510.1 1301.2 509.5 1302.2 508.8 1303.2 508.1 1304.1 507.4 1305.1 506.7 1305.9 505.9 1306.8 505.1 1307.6 504.2 1308.4 503.4 1309.2 502.5 1309.9 501.6 1310.6 500.6 1311.3 499.7 1311.9 498.7 1312.5 497.7 1313.1 496.7 1313.6 495.7 1314.1 494.7 1314.6 493.6 1315.0 492.6 1315.4 491.5 1315.8 490.4 1316.1 489.4 1316.4 488.3 1316.7 487.2 1316.9 486.1 1317.1 485.0 1317.2 483.8 1317.3 482.7 1317.4 481.6 1317.5 480.5 1317.5 479.4 1317.5 478.3 1317.4 477.2 1317.3 476.0 1317.2 474.9 1317.1 473.8 1316.9 472.7 1316.7 471.6 1316.4 470.6 1316.1 469.5 1315.8 468.4 1315.4 467.4 1315.0 466.3 1314.6 465.3 1314.1 464.3 1313.6 463.3 1313.1 462.3 1312.5 461.3 1311.9 460.4 1311.3 459.4 1310.6 458.5 1309.9 457.6 1309.2 456.8 1308.4 455.9 1307.6 455.1 1306.8 454.3 1305.9 453.6 1305.1 452.9 1304.1 452.2 1303.2 451.5 1302.2 450.9 1301.2 450.3 1300.2 449.8 1299.2 449.3 1298.1 448.8 1297.0 448.4 1295.9 448.0 1294.8 447.6 1293.7 447.3 1292.5 447.1 1291.4 446.9 1290.2 446.7 1289.1 446.6 1287.9 446.5 1286.7 446.5 1285.5 446.5 1284.3 446.6 1283.1 446.7 1281.9 446.9 1280.8 447.1 1279.6 447.3 1278.5 447.6 1277.3 448.0 1276.2 448.4 1275.1 448.8 1274.0 449.3 1272.9 449.8 1271.8 450.3 1270.8 450.9 1269.8 451.5 1268.8 452.2 1267.8 452.9 1266.9 453.6 1265.9 454.3 1265.1 455.1 1264.2 455.9 1263.4 456.8 1262.6 457.6 1261.8 458.5 1261.1 459.4 1260.4 460.4 1259.7 461.3 1259.1 462.3 1258.5 463.3 1257.9 464.3 1257.4 465.3 1256.9 466.3 1256.4 467.4 1256.0 468.4 1255.6 469.5 1255.2 470.6 1254.9 471.6 1254.6 472.7 1254.3 473.8 1254.1 474.9 1253.9 476.0 1253.8 477.2 1253.7 478.3 1253.6 479.4 1253.5 480.5 1253.5 481.6 1253.5 482.7 1253.6 483.8 1253.7 485.0 1253.8 486.1 1253.9 487.2 1254.1 488.3 1254.3 489.4 1254.6 490.4 1254.9 491.5 1255.2 492.6 1255.6 493.6 1256.0 494.7 1256.4 495.7 1256.9 496.7 1257.4 497.7 1257.9 498.7 1258.5 499.7 1259.1 500.6 1259.7 501.6 1260.4 502.5 1261.1 503.4 1261.8 504.2 1262.6 505.1 1263.4 505.9 1264.2 506.7 1265.1 507.4 1265.9 508.1 1266.9 508.8 1267.8 509.5 1268.8 510.1 1269.8 510.7 1270.8 511.2 1271.8 511.7 1272.9 512.2 1274.0 512.6 1275.1 513.0 1276.2 513.4 1277.3 513.7 1278.5 513.9 1279.6 514.1 1280.8 514.3 1281.9 514.4 1283.1 514.5 1284.3Z" stroke="#ffdc00" stroke-width="2.2"/>
<path d="M510.9 1286.0 510.9 1287.0 510.9 1288.1 510.8 1289.1 510.6 1290.2 510.4 1291.3 510.2 1292.3 509.9 1293.3 509.6 1294.3 509.3 1295.3 508.9 1296.3 508.5 1297.3 508.0 1298.3 507.5 1299.2 507.0 1300.1 506.4 1301.0 505.8 1301.9 505.2 1302.7 504.6 1303.5 503.9 1304.3 503.2 1305.1 502.5 1305.9 501.7 1306.6 500.9 1307.3 500.1 1307.9 499.3 1308.6 498.5 1309.2 497.6 1309.7 496.8 1310.3 495.9 1310.8 495.0 1311.3 494.0 1311.7 493.1 1312.1 492.2 1312.5 491.2 1312.9 490.3 1313.2 489.3 1313.5 488.3 1313.8 487.3 1314.0 486.4 1314.2 485.4 1314.4 484.4 1314.5 483.4 1314.6 482.4 1314.7 481.4 1314.7 480.4 1314.8 479.3 1314.7 478.3 1314.7 477.3 1314.6 476.3 1314.5 475.3 1314.4 474.3 1314.2 473.4 1314.0 472.4 1313.8 471.4 1313.5 470.4 1313.2 469.5 1312.9 468.5 1312.5 467.6 1312.1 466.7 1311.7 465.7 1311.3 464.8 1310.8 463.9 1310.3 463.1 1309.7 462.2 1309.2 461.4 1308.6 460.6 1307.9 459.8 1307.3 459.0 1306.6 458.2 1305.9 457.5 1305.1 456.8 1304.3 456.1 1303.5 455.5 1302.7 454.9 1301.9 454.3 1301.0 453.7 1300.1 453.2 1299.2 452.7 1298.3 452.2 1297.3 451.8 1296.3 451.4 1295.3 451.1 1294.3 450.8 1293.3 450.5 1292.3 450.3 1291.3 450.1 1290.2 449.9 1289.1 449.8 1288.1 449.8 1287.0 449.8 1286.0 449.8 1284.9 449.8 1283.8 449.9 1282.8 450.1 1281.7 450.3 1280.6 450.5 1279.6 450.8 1278.6 451.1 1277.6 451.4 1276.6 451.8 1275.6 452.2 1274.6 452.7 1273.6 453.2 1272.7 453.7 1271.8 454.3 1270.9 454.9 1270.0 455.5 1269.2 456.1 1268.4 456.8 1267.6 457.5 1266.8 458.2 1266.0 459.0 1265.3 459.8 1264.6 460.6 1264.0 461.4 1263.3 462.2 1262.7 463.1 1262.2 463.9 1261.6 464.8 1261.1 465.7 1260.6 466.7 1260.2 467.6 1259.8 468.5 1259.4 469.5 1259.0 470.4 1258.7 471.4 1258.4 472.4 1258.1 473.4 1257.9 474.3 1257.7 475.3 1257.5 476.3 1257.4 477.3 1257.3 478.3 1257.2 479.3 1257.2 480.4 1257.2 481.4 1257.2 482.4 1257.2 483.4 1257.3 484.4 1257.4 485.4 1257.5 486.4 1257.7 487.3 1257.9 488.3 1258.1 489.3 1258.4 490.3 1258.7 491.2 1259.0 492.2 1259.4 493.1 1259.8 494.0 1260.2 495.0 1260.6 495.9 1261.1 496.8 1261.6 497.6 1262.2 498.5 1262.7 499.3 1263.3 500.1 1264.0 500.9 1264.6 501.7 1265.3 502.5 1266.0 503.2 1266.8 503.9 1267.6 504.6 1268.4 505.2 1269.2 505.8 1270.0 506.4 1270.9 507.0 1271.8 507.5 1272.7 508.0 1273.6 508.5 1274.6 508.9 1275.6 509.3 1276.6 509.6 1277.6 509.9 1278.6 510.2 1279.6 510.4 1280.6 510.6 1281.7 510.8 1282.8 510.9 1283.8 510.9 1284.9Z" stroke="#ffb600" stroke-width="2.2"/>
<path d="M507.4 1286.4 507.4 1287.3 507.3 1288.3 507.2 1289.2 507.1 1290.2 506.9 1291.1 506.7 1292.0 506.5 1293.0 506.2 1293.9 505.9 1294.8 505.6 1295.6 505.2 1296.5 504.8 1297.3 504.3 1298.2 503.9 1299.0 503.4 1299.8 502.9 1300.6 502.3 1301.3 501.7 1302.0 501.1 1302.8 500.5 1303.4 499.9 1304.1 499.2 1304.7 498.5 1305.3 497.8 1305.9 497.1 1306.5 496.3 1307.0 495.6 1307.5 494.8 1308.0 494.0 1308.5 493.2 1308.9 492.4 1309.3 491.5 1309.7 490.7 1310.0 489.9 1310.3 489.0 1310.6 488.2 1310.9 487.3 1311.1 486.4 1311.3 485.5 1311.5 484.7 1311.7 483.8 1311.8 482.9 1311.9 482.0 1311.9 481.1 1312.0 480.2 1312.0 479.3 1312.0 478.4 1311.9 477.5 1311.9 476.6 1311.8 475.7 1311.7 474.9 1311.5 474.0 1311.3 473.1 1311.1 472.2 1310.9 471.4 1310.6 470.5 1310.3 469.7 1310.0 468.9 1309.7 468.0 1309.3 467.2 1308.9 466.4 1308.5 465.6 1308.0 464.8 1307.5 464.1 1307.0 463.3 1306.5 462.6 1305.9 461.9 1305.3 461.2 1304.7 460.5 1304.1 459.9 1303.4 459.3 1302.8 458.7 1302.0 458.1 1301.3 457.5 1300.6 457.0 1299.8 456.5 1299.0 456.1 1298.2 455.6 1297.3 455.2 1296.5 454.8 1295.6 454.5 1294.8 454.2 1293.9 453.9 1293.0 453.7 1292.0 453.5 1291.1 453.3 1290.2 453.2 1289.2 453.1 1288.3 453.0 1287.3 453.0 1286.4 453.0 1285.5 453.1 1284.5 453.2 1283.6 453.3 1282.6 453.5 1281.7 453.7 1280.8 453.9 1279.8 454.2 1278.9 454.5 1278.0 454.8 1277.2 455.2 1276.3 455.6 1275.5 456.1 1274.6 456.5 1273.8 457.0 1273.0 457.5 1272.2 458.1 1271.5 458.7 1270.8 459.3 1270.0 459.9 1269.4 460.5 1268.7 461.2 1268.1 461.9 1267.5 462.6 1266.9 463.3 1266.3 464.1 1265.8 464.8 1265.3 465.6 1264.8 466.4 1264.3 467.2 1263.9 468.0 1263.5 468.9 1263.1 469.7 1262.8 470.5 1262.5 471.4 1262.2 472.2 1261.9 473.1 1261.7 474.0 1261.5 474.9 1261.3 475.7 1261.1 476.6 1261.0 477.5 1260.9 478.4 1260.9 479.3 1260.8 480.2 1260.8 481.1 1260.8 482.0 1260.9 482.9 1260.9 483.8 1261.0 484.7 1261.1 485.5 1261.3 486.4 1261.5 487.3 1261.7 488.2 1261.9 489.0 1262.2 489.9 1262.5 490.7 1262.8 491.5 1263.1 492.4 1263.5 493.2 1263.9 494.0 1264.3 494.8 1264.8 495.6 1265.3 496.3 1265.8 497.1 1266.3 497.8 1266.9 498.5 1267.5 499.2 1268.1 499.9 1268.7 500.5 1269.4 501.1 1270.0 501.7 1270.8 502.3 1271.5 502.9 1272.2 503.4 1273.0 503.9 1273.8 504.3 1274.6 504.8 1275.5 505.2 1276.3 505.6 1277.2 505.9 1278.0 506.2 1278.9 506.5 1279.8 506.7 1280.8 506.9 1281.7 507.1 1282.6 507.2 1283.6 507.3 1284.5 507.4 1285.5Z" stroke="#ff8c00" stroke-width="2.2"/>
<path d="M503.8 1286.8 503.8 1287.7 503.8 1288.5 503.7 1289.3 503.6 1290.2 503.4 1291.0 503.3 1291.8 503.1 1292.6 502.8 1293.4 502.5 1294.2 502.2 1294.9 501.9 1295.7 501.6 1296.4 501.2 1297.2 500.8 1297.9 500.3 1298.6 499.9 1299.2 499.4 1299.9 498.9 1300.5 498.4 1301.2 497.8 1301.8 497.2 1302.3 496.7 1302.9 496.1 1303.4 495.4 1303.9 494.8 1304.4 494.1 1304.9 493.5 1305.3 492.8 1305.8 492.1 1306.2 491.4 1306.5 490.7 1306.9 490.0 1307.2 489.2 1307.5 488.5 1307.8 487.8 1308.0 487.0 1308.3 486.3 1308.5 485.5 1308.7 484.7 1308.8 483.9 1308.9 483.2 1309.1 482.4 1309.1 481.6 1309.2 480.8 1309.2 480.1 1309.2 479.3 1309.2 478.5 1309.2 477.7 1309.1 476.9 1309.1 476.2 1308.9 475.4 1308.8 474.6 1308.7 473.8 1308.5 473.1 1308.3 472.3 1308.0 471.6 1307.8 470.9 1307.5 470.1 1307.2 469.4 1306.9 468.7 1306.5 468.0 1306.2 467.3 1305.8 466.6 1305.3 466.0 1304.9 465.3 1304.4 464.7 1303.9 464.0 1303.4 463.4 1302.9 462.9 1302.3 462.3 1301.8 461.7 1301.2 461.2 1300.5 460.7 1299.9 460.2 1299.2 459.8 1298.6 459.3 1297.9 458.9 1297.2 458.5 1296.4 458.2 1295.7 457.9 1294.9 457.6 1294.2 457.3 1293.4 457.0 1292.6 456.8 1291.8 456.7 1291.0 456.5 1290.2 456.4 1289.3 456.3 1288.5 456.3 1287.7 456.3 1286.8 456.3 1286.0 456.3 1285.2 456.4 1284.4 456.5 1283.5 456.7 1282.7 456.8 1281.9 457.0 1281.1 457.3 1280.3 457.6 1279.5 457.9 1278.8 458.2 1278.0 458.5 1277.3 458.9 1276.5 459.3 1275.8 459.8 1275.1 460.2 1274.5 460.7 1273.8 461.2 1273.2 461.7 1272.5 462.3 1271.9 462.9 1271.4 463.4 1270.8 464.0 1270.3 464.7 1269.8 465.3 1269.3 466.0 1268.8 466.6 1268.4 467.3 1267.9 468.0 1267.5 468.7 1267.2 469.4 1266.8 470.1 1266.5 470.9 1266.2 471.6 1265.9 472.3 1265.7 473.1 1265.4 473.8 1265.2 474.6 1265.0 475.4 1264.9 476.2 1264.8 476.9 1264.6 477.7 1264.6 478.5 1264.5 479.3 1264.5 480.1 1264.4 480.8 1264.5 481.6 1264.5 482.4 1264.6 483.2 1264.6 483.9 1264.8 484.7 1264.9 485.5 1265.0 486.3 1265.2 487.0 1265.4 487.8 1265.7 488.5 1265.9 489.2 1266.2 490.0 1266.5 490.7 1266.8 491.4 1267.2 492.1 1267.5 492.8 1267.9 493.5 1268.4 494.1 1268.8 494.8 1269.3 495.4 1269.8 496.1 1270.3 496.7 1270.8 497.2 1271.4 497.8 1271.9 498.4 1272.5 498.9 1273.2 499.4 1273.8 499.9 1274.5 500.3 1275.1 500.8 1275.8 501.2 1276.5 501.6 1277.3 501.9 1278.0 502.2 1278.8 502.5 1279.5 502.8 1280.3 503.1 1281.1 503.3 1281.9 503.4 1282.7 503.6 1283.5 503.7 1284.4 503.8 1285.2 503.8 1286.0Z" stroke="#ff5a00" stroke-width="2.2"/>
<path d="M500.3 1287.3 500.3 1288.0 500.2 1288.7 500.2 1289.4 500.1 1290.1 500.0 1290.8 499.8 1291.5 499.6 1292.2 499.4 1292.9 499.2 1293.6 498.9 1294.2 498.6 1294.9 498.3 1295.5 498.0 1296.1 497.7 1296.7 497.3 1297.3 496.9 1297.9 496.5 1298.5 496.0 1299.0 495.6 1299.6 495.1 1300.1 494.6 1300.6 494.1 1301.0 493.6 1301.5 493.1 1301.9 492.5 1302.4 492.0 1302.8 491.4 1303.1 490.8 1303.5 490.2 1303.9 489.6 1304.2 489.0 1304.5 488.4 1304.7 487.8 1305.0 487.2 1305.2 486.5 1305.5 485.9 1305.7 485.2 1305.8 484.6 1306.0 483.9 1306.1 483.2 1306.2 482.6 1306.3 481.9 1306.4 481.2 1306.5 480.6 1306.5 479.9 1306.5 479.2 1306.5 478.6 1306.5 477.9 1306.4 477.2 1306.3 476.6 1306.2 475.9 1306.1 475.2 1306.0 474.6 1305.8 473.9 1305.7 473.3 1305.5 472.6 1305.2 472.0 1305.0 471.4 1304.7 470.8 1304.5 470.2 1304.2 469.6 1303.9 469.0 1303.5 468.4 1303.1 467.8 1302.8 467.3 1302.4 466.7 1301.9 466.2 1301.5 465.7 1301.0 465.2 1300.6 464.7 1300.1 464.2 1299.6 463.8 1299.0 463.3 1298.5 462.9 1297.9 462.5 1297.3 462.1 1296.7 461.8 1296.1 461.5 1295.5 461.2 1294.9 460.9 1294.2 460.6 1293.6 460.4 1292.9 460.2 1292.2 460.0 1291.5 459.8 1290.8 459.7 1290.1 459.6 1289.4 459.6 1288.7 459.5 1288.0 459.5 1287.3 459.5 1286.6 459.6 1285.9 459.6 1285.2 459.7 1284.5 459.8 1283.8 460.0 1283.1 460.2 1282.4 460.4 1281.7 460.6 1281.0 460.9 1280.4 461.2 1279.7 461.5 1279.1 461.8 1278.5 462.1 1277.9 462.5 1277.3 462.9 1276.7 463.3 1276.1 463.8 1275.6 464.2 1275.0 464.7 1274.5 465.2 1274.0 465.7 1273.6 466.2 1273.1 466.7 1272.7 467.3 1272.2 467.8 1271.8 468.4 1271.5 469.0 1271.1 469.6 1270.7 470.2 1270.4 470.8 1270.1 471.4 1269.9 472.0 1269.6 472.6 1269.4 473.3 1269.1 473.9 1268.9 474.6 1268.8 475.2 1268.6 475.9 1268.5 476.6 1268.4 477.2 1268.3 477.9 1268.2 478.6 1268.1 479.2 1268.1 479.9 1268.1 480.6 1268.1 481.2 1268.1 481.9 1268.2 482.6 1268.3 483.2 1268.4 483.9 1268.5 484.6 1268.6 485.2 1268.8 485.9 1268.9 486.5 1269.1 487.2 1269.4 487.8 1269.6 488.4 1269.9 489.0 1270.1 489.6 1270.4 490.2 1270.7 490.8 1271.1 491.4 1271.5 492.0 1271.8 492.5 1272.2 493.1 1272.7 493.6 1273.1 494.1 1273.6 494.6 1274.0 495.1 1274.5 495.6 1275.0 496.0 1275.6 496.5 1276.1 496.9 1276.7 497.3 1277.3 497.7 1277.9 498.0 1278.5 498.3 1279.1 498.6 1279.7 498.9 1280.4 499.2 1281.0 499.4 1281.7 499.6 1282.4 499.8 1283.1 500.0 1283.8 500.1 1284.5 500.2 1285.2 500.2 1285.9 500.3 1286.6Z" stroke="#ff3300" stroke-width="2.2"/>
<path d="M496.8 1287.8 496.7 1288.3 496.7 1288.9 496.6 1289.5 496.6 1290.1 496.5 1290.7 496.3 1291.3 496.2 1291.8 496.0 1292.4 495.8 1293.0 495.6 1293.5 495.4 1294.1 495.1 1294.6 494.8 1295.1 494.6 1295.6 494.2 1296.1 493.9 1296.6 493.6 1297.1 493.2 1297.5 492.8 1298.0 492.4 1298.4 492.0 1298.8 491.6 1299.2 491.2 1299.6 490.7 1300.0 490.3 1300.3 489.8 1300.6 489.3 1301.0 488.9 1301.3 488.4 1301.5 487.9 1301.8 487.4 1302.1 486.8 1302.3 486.3 1302.5 485.8 1302.7 485.3 1302.9 484.7 1303.1 484.2 1303.2 483.6 1303.3 483.1 1303.4 482.5 1303.5 482.0 1303.6 481.4 1303.7 480.9 1303.7 480.3 1303.7 479.8 1303.8 479.2 1303.7 478.6 1303.7 478.1 1303.7 477.5 1303.6 477.0 1303.5 476.4 1303.4 475.9 1303.3 475.3 1303.2 474.8 1303.1 474.2 1302.9 473.7 1302.7 473.2 1302.5 472.7 1302.3 472.1 1302.1 471.6 1301.8 471.1 1301.5 470.6 1301.3 470.2 1301.0 469.7 1300.6 469.2 1300.3 468.8 1300.0 468.3 1299.6 467.9 1299.2 467.5 1298.8 467.1 1298.4 466.7 1298.0 466.3 1297.5 465.9 1297.1 465.6 1296.6 465.3 1296.1 464.9 1295.6 464.7 1295.1 464.4 1294.6 464.1 1294.1 463.9 1293.5 463.7 1293.0 463.5 1292.4 463.3 1291.8 463.2 1291.3 463.0 1290.7 462.9 1290.1 462.9 1289.5 462.8 1288.9 462.8 1288.3 462.8 1287.8 462.8 1287.2 462.8 1286.6 462.9 1286.0 462.9 1285.4 463.0 1284.8 463.2 1284.2 463.3 1283.7 463.5 1283.1 463.7 1282.5 463.9 1282.0 464.1 1281.4 464.4 1280.9 464.7 1280.4 464.9 1279.9 465.3 1279.4 465.6 1278.9 465.9 1278.4 466.3 1278.0 466.7 1277.5 467.1 1277.1 467.5 1276.7 467.9 1276.3 468.3 1275.9 468.8 1275.5 469.2 1275.2 469.7 1274.9 470.2 1274.5 470.6 1274.2 471.1 1274.0 471.6 1273.7 472.1 1273.4 472.7 1273.2 473.2 1273.0 473.7 1272.8 474.2 1272.6 474.8 1272.4 475.3 1272.3 475.9 1272.2 476.4 1272.1 477.0 1272.0 477.5 1271.9 478.1 1271.8 478.6 1271.8 479.2 1271.8 479.8 1271.8 480.3 1271.8 480.9 1271.8 481.4 1271.8 482.0 1271.9 482.5 1272.0 483.1 1272.1 483.6 1272.2 484.2 1272.3 484.7 1272.4 485.3 1272.6 485.8 1272.8 486.3 1273.0 486.8 1273.2 487.4 1273.4 487.9 1273.7 488.4 1274.0 488.9 1274.2 489.3 1274.5 489.8 1274.9 490.3 1275.2 490.7 1275.5 491.2 1275.9 491.6 1276.3 492.0 1276.7 492.4 1277.1 492.8 1277.5 493.2 1278.0 493.6 1278.4 493.9 1278.9 494.2 1279.4 494.6 1279.9 494.8 1280.4 495.1 1280.9 495.4 1281.4 495.6 1282.0 495.8 1282.5 496.0 1283.1 496.2 1283.7 496.3 1284.2 496.5 1284.8 496.6 1285.4 496.6 1286.0 496.7 1286.6 496.7 1287.2Z" stroke="#ff1c00" stroke-width="2.2"/>
<path d="M493.2 1288.2 493.2 1288.7 493.2 1289.1 493.1 1289.6 493.1 1290.1 493.0 1290.6 492.9 1291.0 492.7 1291.5 492.6 1291.9 492.5 1292.4 492.3 1292.8 492.1 1293.2 491.9 1293.7 491.7 1294.1 491.4 1294.5 491.2 1294.9 490.9 1295.3 490.7 1295.7 490.4 1296.0 490.1 1296.4 489.8 1296.7 489.4 1297.0 489.1 1297.4 488.7 1297.7 488.4 1298.0 488.0 1298.2 487.7 1298.5 487.3 1298.8 486.9 1299.0 486.5 1299.2 486.1 1299.4 485.7 1299.6 485.3 1299.8 484.9 1300.0 484.4 1300.2 484.0 1300.3 483.6 1300.4 483.1 1300.6 482.7 1300.7 482.3 1300.8 481.8 1300.8 481.4 1300.9 480.9 1300.9 480.5 1301.0 480.0 1301.0 479.6 1301.0 479.2 1301.0 478.7 1301.0 478.3 1300.9 477.8 1300.9 477.4 1300.8 476.9 1300.8 476.5 1300.7 476.1 1300.6 475.6 1300.4 475.2 1300.3 474.8 1300.2 474.3 1300.0 473.9 1299.8 473.5 1299.6 473.1 1299.4 472.7 1299.2 472.3 1299.0 471.9 1298.8 471.5 1298.5 471.2 1298.2 470.8 1298.0 470.5 1297.7 470.1 1297.4 469.8 1297.0 469.4 1296.7 469.1 1296.4 468.8 1296.0 468.5 1295.7 468.3 1295.3 468.0 1294.9 467.8 1294.5 467.5 1294.1 467.3 1293.7 467.1 1293.2 466.9 1292.8 466.7 1292.4 466.6 1291.9 466.5 1291.5 466.3 1291.0 466.2 1290.6 466.1 1290.1 466.1 1289.6 466.0 1289.1 466.0 1288.7 466.0 1288.2 466.0 1287.7 466.0 1287.3 466.1 1286.8 466.1 1286.3 466.2 1285.8 466.3 1285.4 466.5 1284.9 466.6 1284.5 466.7 1284.0 466.9 1283.6 467.1 1283.2 467.3 1282.7 467.5 1282.3 467.8 1281.9 468.0 1281.5 468.3 1281.1 468.5 1280.7 468.8 1280.4 469.1 1280.0 469.4 1279.7 469.8 1279.4 470.1 1279.0 470.5 1278.7 470.8 1278.4 471.2 1278.2 471.5 1277.9 471.9 1277.6 472.3 1277.4 472.7 1277.2 473.1 1277.0 473.5 1276.8 473.9 1276.6 474.3 1276.4 474.8 1276.2 475.2 1276.1 475.6 1276.0 476.1 1275.8 476.5 1275.7 476.9 1275.6 477.4 1275.6 477.8 1275.5 478.3 1275.5 478.7 1275.4 479.2 1275.4 479.6 1275.4 480.0 1275.4 480.5 1275.4 480.9 1275.5 481.4 1275.5 481.8 1275.6 482.3 1275.6 482.7 1275.7 483.1 1275.8 483.6 1276.0 484.0 1276.1 484.4 1276.2 484.9 1276.4 485.3 1276.6 485.7 1276.8 486.1 1277.0 486.5 1277.2 486.9 1277.4 487.3 1277.6 487.7 1277.9 488.0 1278.2 488.4 1278.4 488.7 1278.7 489.1 1279.0 489.4 1279.4 489.8 1279.7 490.1 1280.0 490.4 1280.4 490.7 1280.7 490.9 1281.1 491.2 1281.5 491.4 1281.9 491.7 1282.3 491.9 1282.7 492.1 1283.2 492.3 1283.6 492.5 1284.0 492.6 1284.5 492.7 1284.9 492.9 1285.4 493.0 1285.8 493.1 1286.3 493.1 1286.8 493.2 1287.3 493.2 1287.7Z" stroke="#ff1600" stroke-width="2.2"/>
<path d="M489.6 1288.7 489.6 1289.0 489.6 1289.4 489.6 1289.7 489.5 1290.1 489.5 1290.4 489.4 1290.8 489.3 1291.1 489.2 1291.4 489.1 1291.8 489.0 1292.1 488.8 1292.4 488.7 1292.8 488.5 1293.1 488.3 1293.4 488.1 1293.7 487.9 1294.0 487.7 1294.2 487.5 1294.5 487.3 1294.8 487.1 1295.0 486.8 1295.3 486.6 1295.5 486.3 1295.8 486.0 1296.0 485.8 1296.2 485.5 1296.4 485.2 1296.6 484.9 1296.8 484.6 1296.9 484.3 1297.1 484.0 1297.2 483.7 1297.4 483.4 1297.5 483.1 1297.6 482.8 1297.7 482.4 1297.8 482.1 1297.9 481.8 1298.0 481.5 1298.1 481.1 1298.1 480.8 1298.2 480.5 1298.2 480.1 1298.2 479.8 1298.2 479.4 1298.2 479.1 1298.2 478.8 1298.2 478.4 1298.2 478.1 1298.2 477.8 1298.1 477.4 1298.1 477.1 1298.0 476.8 1297.9 476.5 1297.8 476.1 1297.7 475.8 1297.6 475.5 1297.5 475.2 1297.4 474.9 1297.2 474.6 1297.1 474.3 1296.9 474.0 1296.8 473.7 1296.6 473.4 1296.4 473.1 1296.2 472.9 1296.0 472.6 1295.8 472.3 1295.5 472.1 1295.3 471.8 1295.0 471.6 1294.8 471.4 1294.5 471.2 1294.2 471.0 1294.0 470.8 1293.7 470.6 1293.4 470.4 1293.1 470.2 1292.8 470.1 1292.4 469.9 1292.1 469.8 1291.8 469.7 1291.4 469.6 1291.1 469.5 1290.8 469.4 1290.4 469.4 1290.1 469.3 1289.7 469.3 1289.4 469.3 1289.0 469.2 1288.7 469.3 1288.3 469.3 1287.9 469.3 1287.6 469.4 1287.2 469.4 1286.9 469.5 1286.5 469.6 1286.2 469.7 1285.9 469.8 1285.5 469.9 1285.2 470.1 1284.9 470.2 1284.5 470.4 1284.2 470.6 1283.9 470.8 1283.6 471.0 1283.3 471.2 1283.1 471.4 1282.8 471.6 1282.5 471.8 1282.3 472.1 1282.0 472.3 1281.8 472.6 1281.5 472.9 1281.3 473.1 1281.1 473.4 1280.9 473.7 1280.7 474.0 1280.5 474.3 1280.4 474.6 1280.2 474.9 1280.1 475.2 1279.9 475.5 1279.8 475.8 1279.7 476.1 1279.6 476.5 1279.5 476.8 1279.4 477.1 1279.3 477.4 1279.2 477.8 1279.2 478.1 1279.1 478.4 1279.1 478.8 1279.1 479.1 1279.1 479.4 1279.1 479.8 1279.1 480.1 1279.1 480.5 1279.1 480.8 1279.1 481.1 1279.2 481.5 1279.2 481.8 1279.3 482.1 1279.4 482.4 1279.5 482.8 1279.6 483.1 1279.7 483.4 1279.8 483.7 1279.9 484.0 1280.1 484.3 1280.2 484.6 1280.4 484.9 1280.5 485.2 1280.7 485.5 1280.9 485.8 1281.1 486.0 1281.3 486.3 1281.5 486.6 1281.8 486.8 1282.0 487.1 1282.3 487.3 1282.5 487.5 1282.8 487.7 1283.1 487.9 1283.3 488.1 1283.6 488.3 1283.9 488.5 1284.2 488.7 1284.5 488.8 1284.9 489.0 1285.2 489.1 1285.5 489.2 1285.9 489.3 1286.2 489.4 1286.5 489.5 1286.9 489.5 1287.2 489.6 1287.6 489.6 1287.9 489.6 1288.3Z" stroke="#ff1100" stroke-width="2.2"/>
</g>
<path d="M507.0 1345.3 L534.2 1300.2 L561.3 1241.8 L576.0 1175.0 L584.3 1091.4 L590.6 1008.0 L596.0 922.3 L834.0 922.3 L767.2 1348.2 Z" stroke="#0808ff" stroke-width="6" fill="none" stroke-linejoin="round"/>
<text transform="translate(689.45,890.56) scale(1.0180,1)" font-family="'Liberation Sans', sans-serif" font-size="44.24" font-weight="bold" fill="#0808ff" >5.19%</text>
<path d="M346.8 834.6 V1356.0 M344.0 1353.2 H895.4" stroke="#0a2160" stroke-width="5.8" fill="none"/>
<path d="M327.8 1353.2 H346.8 M337.3 1320.9 H346.8 M337.3 1288.7 H346.8 M337.3 1256.4 H346.8 M327.8 1224.2 H346.8 M337.3 1191.9 H346.8 M337.3 1159.7 H346.8 M337.3 1127.4 H346.8 M327.8 1095.2 H346.8 M337.3 1062.9 H346.8 M337.3 1030.6 H346.8 M337.3 998.4 H346.8 M327.8 966.1 H346.8 M337.3 933.9 H346.8 M337.3 901.6 H346.8 M337.3 869.4 H346.8 M327.8 837.1 H346.8" stroke="#0a2160" stroke-width="2.8" fill="none"/>
<path d="M370.3 1355.2 v8 M392.3 1355.2 v8 M421.4 1355.2 v15 M429.8 1355.2 v8 M436.4 1355.2 v8 M441.4 1355.2 v8 M445.4 1355.2 v8 M448.8 1355.2 v11 M451.5 1355.2 v11 M453.5 1355.2 v11 M454.8 1355.2 v17 M457.5 1355.2 v8 M460.8 1355.2 v8 M464.8 1355.2 v8 M469.8 1355.2 v8 M475.5 1355.2 v8 M481.5 1355.2 v8 M488.2 1355.2 v15 M517.6 1355.2 v8 M541.7 1355.2 v8 M560.4 1355.2 v8 M575.1 1355.2 v8 M585.8 1355.2 v8 M597.8 1355.2 v8 M606.5 1355.2 v8 M614.1 1355.2 v8 M621.9 1355.2 v15 M663.6 1355.2 v8 M688.0 1355.2 v8 M705.3 1355.2 v8 M718.8 1355.2 v8 M729.8 1355.2 v8 M739.0 1355.2 v8 M747.1 1355.2 v8 M754.2 1355.2 v8 M760.5 1355.2 v15 M799.8 1355.2 v8 M822.9 1355.2 v8 M839.2 1355.2 v8 M851.9 1355.2 v8 M862.2 1355.2 v8 M871.0 1355.2 v8 M878.5 1355.2 v8 M885.2 1355.2 v8 M891.2 1355.2 v15" stroke="#0a2160" stroke-width="2.6" fill="none"/>
<text transform="translate(189.92,1372.52) scale(1.0980,1)" font-family="'DejaVu Sans', sans-serif" font-size="32.21" fill="#22229c" >-5 x10</text>
<text transform="translate(300.58,1351.70) scale(0.9520,1)" font-family="'DejaVu Sans', sans-serif" font-size="24.66" fill="#22229c" >4</text>
<text transform="translate(173.83,1243.52) scale(1.0565,1)" font-family="'DejaVu Sans', sans-serif" font-size="32.21" fill="#22229c" >2.1 x10</text>
<text transform="translate(299.65,1222.34) scale(1.0949,1)" font-family="'DejaVu Sans', sans-serif" font-size="24.16" fill="#22229c" >5</text>
<text transform="translate(172.97,1114.12) scale(1.0637,1)" font-family="'DejaVu Sans', sans-serif" font-size="32.21" fill="#22229c" >4.8 x10</text>
<text transform="translate(299.65,1092.94) scale(1.0949,1)" font-family="'DejaVu Sans', sans-serif" font-size="24.16" fill="#22229c" >5</text>
<text transform="translate(172.67,985.42) scale(1.0662,1)" font-family="'DejaVu Sans', sans-serif" font-size="32.21" fill="#22229c" >7.4 x10</text>
<text transform="translate(299.65,964.24) scale(1.0949,1)" font-family="'DejaVu Sans', sans-serif" font-size="24.16" fill="#22229c" >5</text>
<text transform="translate(206.47,856.42) scale(1.0809,1)" font-family="'DejaVu Sans', sans-serif" font-size="32.21" fill="#22229c" >1 x10</text>
<text transform="translate(299.96,835.24) scale(1.0468,1)" font-family="'DejaVu Sans', sans-serif" font-size="23.76" fill="#22229c" >6</text>
<text transform="translate(384.26,1423.62) scale(1.0767,1)" font-family="'DejaVu Sans', sans-serif" font-size="32.08" fill="#22229c" >-10</text>
<text transform="translate(440.88,1402.30) scale(1.0799,1)" font-family="'DejaVu Sans', sans-serif" font-size="23.30" fill="#22229c" >2</text>
<text transform="translate(591.24,1423.62) scale(1.0367,1)" font-family="'DejaVu Sans', sans-serif" font-size="32.08" fill="#22229c" >10</text>
<text transform="translate(632.46,1401.96) scale(1.1344,1)" font-family="'DejaVu Sans', sans-serif" font-size="22.84" fill="#22229c" >3</text>
<text transform="translate(729.84,1423.62) scale(1.0367,1)" font-family="'DejaVu Sans', sans-serif" font-size="32.08" fill="#22229c" >10</text>
<text transform="translate(771.88,1402.30) scale(0.9905,1)" font-family="'DejaVu Sans', sans-serif" font-size="23.70" fill="#22229c" >4</text>
<text transform="translate(860.54,1423.62) scale(1.0367,1)" font-family="'DejaVu Sans', sans-serif" font-size="32.08" fill="#22229c" >10</text>
<text transform="translate(901.65,1401.95) scale(1.1392,1)" font-family="'DejaVu Sans', sans-serif" font-size="23.22" fill="#22229c" >5</text>
</g>
<g id="p4">
<path d="M1312.4 869.8h5.8v5.8h-5.8zM1416.8 869.8h5.8v5.8h-5.8zM1451.6 871.4h5.8v2.6h-5.8zM1318.2 877.2h5.8v2.6h-5.8zM1376.2 875.6h5.8v5.8h-5.8zM1382.0 875.6h5.8v5.8h-5.8zM1434.2 875.6h5.8v5.8h-5.8zM1376.2 881.4h5.8v5.8h-5.8zM1447.4 881.4h2.6v5.8h-2.6zM1329.8 887.2h5.8v5.8h-5.8zM1335.6 888.8h5.8v2.6h-5.8zM1347.2 888.8h5.8v2.6h-5.8zM1353.0 887.2h5.8v5.8h-5.8zM1358.8 887.2h5.8v5.8h-5.8zM1376.2 887.2h5.8v5.8h-5.8zM1399.4 887.2h5.8v5.8h-5.8zM1405.2 887.2h5.8v5.8h-5.8zM1411.0 888.8h5.8v2.6h-5.8zM1422.6 887.2h5.8v5.8h-5.8zM1277.6 894.6h5.8v2.6h-5.8zM1335.6 893.0h5.8v5.8h-5.8zM1341.4 894.6h5.8v2.6h-5.8zM1353.0 894.6h5.8v2.6h-5.8zM1364.6 894.6h5.8v2.6h-5.8zM1382.0 893.0h5.8v5.8h-5.8zM1387.8 893.0h5.8v5.8h-5.8zM1405.2 893.0h5.8v5.8h-5.8zM1411.0 893.0h5.8v5.8h-5.8zM1445.8 893.0h5.8v5.8h-5.8zM1463.2 893.0h5.8v5.8h-5.8zM1469.0 894.6h5.8v2.6h-5.8zM1318.2 898.8h5.8v5.8h-5.8zM1329.8 898.8h5.8v5.8h-5.8zM1335.6 900.4h5.8v2.6h-5.8zM1347.2 898.8h5.8v5.8h-5.8zM1353.0 898.8h5.8v5.8h-5.8zM1370.4 898.8h5.8v5.8h-5.8zM1376.2 898.8h5.8v5.8h-5.8zM1393.6 898.8h5.8v5.8h-5.8zM1422.6 898.8h5.8v5.8h-5.8zM1428.4 898.8h5.8v5.8h-5.8zM1440.0 898.8h5.8v5.8h-5.8zM1486.4 898.8h5.8v5.8h-5.8zM1314.0 904.6h2.6v5.8h-2.6zM1324.0 904.6h5.8v5.8h-5.8zM1348.6 906.0h3v3h-3zM1353.0 904.6h5.8v5.8h-5.8zM1370.4 904.6h5.8v5.8h-5.8zM1382.0 904.6h5.8v5.8h-5.8zM1393.6 904.6h5.8v5.8h-5.8zM1405.2 904.6h5.8v5.8h-5.8zM1416.8 904.6h5.8v5.8h-5.8zM1422.6 904.6h5.8v5.8h-5.8zM1428.4 904.6h5.8v5.8h-5.8zM1434.2 904.6h5.8v5.8h-5.8zM1440.0 904.6h5.8v5.8h-5.8zM1445.8 904.6h5.8v5.8h-5.8zM1492.2 904.6h5.8v5.8h-5.8zM1312.4 910.4h5.8v5.8h-5.8zM1318.2 910.4h5.8v5.8h-5.8zM1324.0 910.4h5.8v5.8h-5.8zM1341.4 912.0h5.8v2.6h-5.8zM1348.8 910.4h2.6v5.8h-2.6zM1353.0 910.4h5.8v5.8h-5.8zM1358.8 910.4h5.8v5.8h-5.8zM1376.2 910.4h5.8v5.8h-5.8zM1399.4 910.4h5.8v5.8h-5.8zM1405.2 910.4h5.8v5.8h-5.8zM1416.8 910.4h5.8v5.8h-5.8zM1422.6 910.4h5.8v5.8h-5.8zM1428.4 910.4h5.8v5.8h-5.8zM1434.2 910.4h5.8v5.8h-5.8zM1440.0 910.4h5.8v5.8h-5.8zM1445.8 910.4h5.8v5.8h-5.8zM1451.6 912.0h5.8v2.6h-5.8zM1312.4 916.2h5.8v5.8h-5.8zM1329.8 916.2h5.8v5.8h-5.8zM1342.8 917.6h3v3h-3zM1358.8 916.2h5.8v5.8h-5.8zM1370.4 916.2h5.8v5.8h-5.8zM1376.2 916.2h5.8v5.8h-5.8zM1382.0 916.2h5.8v5.8h-5.8zM1393.6 916.2h5.8v5.8h-5.8zM1416.8 916.2h5.8v5.8h-5.8zM1422.6 916.2h5.8v5.8h-5.8zM1440.0 916.2h5.8v5.8h-5.8zM1459.0 916.2h2.6v5.8h-2.6zM1463.2 916.2h5.8v5.8h-5.8zM1312.4 922.0h5.8v5.8h-5.8zM1318.2 922.0h5.8v5.8h-5.8zM1370.4 922.0h5.8v5.8h-5.8zM1376.2 922.0h5.8v5.8h-5.8zM1393.6 922.0h5.8v5.8h-5.8zM1399.4 922.0h5.8v5.8h-5.8zM1405.2 922.0h5.8v5.8h-5.8zM1411.0 922.0h5.8v5.8h-5.8zM1422.6 922.0h5.8v5.8h-5.8zM1428.4 922.0h5.8v5.8h-5.8zM1434.2 922.0h5.8v5.8h-5.8zM1440.0 922.0h5.8v5.8h-5.8zM1445.8 922.0h5.8v5.8h-5.8zM1451.6 923.6h5.8v2.6h-5.8zM1457.4 922.0h5.8v5.8h-5.8zM1329.8 927.8h5.8v5.8h-5.8zM1347.2 927.8h5.8v5.8h-5.8zM1358.8 927.8h5.8v5.8h-5.8zM1370.4 927.8h5.8v5.8h-5.8zM1376.2 927.8h5.8v5.8h-5.8zM1382.0 927.8h5.8v5.8h-5.8zM1387.8 927.8h5.8v5.8h-5.8zM1393.6 927.8h5.8v5.8h-5.8zM1399.4 927.8h5.8v5.8h-5.8zM1405.2 927.8h5.8v5.8h-5.8zM1411.0 927.8h5.8v5.8h-5.8zM1416.8 927.8h5.8v5.8h-5.8zM1422.6 927.8h5.8v5.8h-5.8zM1428.4 927.8h5.8v5.8h-5.8zM1440.0 927.8h5.8v5.8h-5.8zM1453.2 927.8h2.6v5.8h-2.6zM1457.4 929.4h5.8v2.6h-5.8zM1283.4 933.6h5.8v5.8h-5.8zM1325.4 935.0h3v3h-3zM1335.6 933.6h5.8v5.8h-5.8zM1347.2 933.6h5.8v5.8h-5.8zM1353.0 933.6h5.8v5.8h-5.8zM1358.8 933.6h5.8v5.8h-5.8zM1364.6 933.6h5.8v5.8h-5.8zM1370.4 933.6h5.8v5.8h-5.8zM1376.2 933.6h5.8v5.8h-5.8zM1382.0 933.6h5.8v5.8h-5.8zM1387.8 933.6h5.8v5.8h-5.8zM1393.6 933.6h5.8v5.8h-5.8zM1399.4 933.6h5.8v5.8h-5.8zM1405.2 933.6h5.8v5.8h-5.8zM1411.0 933.6h5.8v5.8h-5.8zM1422.6 933.6h5.8v5.8h-5.8zM1428.4 933.6h5.8v5.8h-5.8zM1434.2 933.6h5.8v5.8h-5.8zM1445.8 933.6h5.8v5.8h-5.8zM1486.4 935.2h5.8v2.6h-5.8zM1300.8 939.4h5.8v5.8h-5.8zM1314.0 939.4h2.6v5.8h-2.6zM1353.0 939.4h5.8v5.8h-5.8zM1358.8 939.4h5.8v5.8h-5.8zM1370.4 939.4h5.8v5.8h-5.8zM1376.2 939.4h5.8v5.8h-5.8zM1387.8 939.4h5.8v5.8h-5.8zM1393.6 939.4h5.8v5.8h-5.8zM1405.2 939.4h5.8v5.8h-5.8zM1440.0 939.4h5.8v5.8h-5.8zM1445.8 939.4h5.8v5.8h-5.8zM1457.4 939.4h5.8v5.8h-5.8zM1602.4 939.4h5.8v5.8h-5.8zM1283.4 945.2h5.8v5.8h-5.8zM1302.2 946.6h3v3h-3zM1306.6 945.2h5.8v5.8h-5.8zM1329.8 945.2h5.8v5.8h-5.8zM1341.4 945.2h5.8v5.8h-5.8zM1347.2 945.2h5.8v5.8h-5.8zM1353.0 945.2h5.8v5.8h-5.8zM1358.8 945.2h5.8v5.8h-5.8zM1364.6 945.2h5.8v5.8h-5.8zM1370.4 945.2h5.8v5.8h-5.8zM1376.2 945.2h5.8v5.8h-5.8zM1393.6 945.2h5.8v5.8h-5.8zM1399.4 945.2h5.8v5.8h-5.8zM1405.2 945.2h5.8v5.8h-5.8zM1416.8 945.2h5.8v5.8h-5.8zM1422.6 945.2h5.8v5.8h-5.8zM1428.4 945.2h5.8v5.8h-5.8zM1434.2 945.2h5.8v5.8h-5.8zM1440.0 945.2h5.8v5.8h-5.8zM1445.8 945.2h5.8v5.8h-5.8zM1457.4 945.2h5.8v5.8h-5.8zM1474.8 946.8h5.8v2.6h-5.8zM1637.2 945.2h5.8v5.8h-5.8zM1335.6 951.0h5.8v5.8h-5.8zM1341.4 951.0h5.8v5.8h-5.8zM1353.0 951.0h5.8v5.8h-5.8zM1370.4 951.0h5.8v5.8h-5.8zM1376.2 951.0h5.8v5.8h-5.8zM1382.0 951.0h5.8v5.8h-5.8zM1387.8 951.0h5.8v5.8h-5.8zM1393.6 951.0h5.8v5.8h-5.8zM1399.4 951.0h5.8v5.8h-5.8zM1405.2 951.0h5.8v5.8h-5.8zM1411.0 951.0h5.8v5.8h-5.8zM1416.8 951.0h5.8v5.8h-5.8zM1422.6 951.0h5.8v5.8h-5.8zM1428.4 951.0h5.8v5.8h-5.8zM1434.2 951.0h5.8v5.8h-5.8zM1440.0 951.0h5.8v5.8h-5.8zM1457.4 951.0h5.8v5.8h-5.8zM1242.8 956.8h5.8v5.8h-5.8zM1306.6 956.8h5.8v5.8h-5.8zM1318.2 958.4h5.8v2.6h-5.8zM1341.4 956.8h5.8v5.8h-5.8zM1347.2 956.8h5.8v5.8h-5.8zM1358.8 956.8h5.8v5.8h-5.8zM1370.4 956.8h5.8v5.8h-5.8zM1382.0 956.8h5.8v5.8h-5.8zM1387.8 956.8h5.8v5.8h-5.8zM1393.6 956.8h5.8v5.8h-5.8zM1399.4 956.8h5.8v5.8h-5.8zM1405.2 956.8h5.8v5.8h-5.8zM1411.0 956.8h5.8v5.8h-5.8zM1416.8 956.8h5.8v5.8h-5.8zM1422.6 956.8h5.8v5.8h-5.8zM1440.0 956.8h5.8v5.8h-5.8zM1445.8 956.8h5.8v5.8h-5.8zM1451.6 956.8h5.8v5.8h-5.8zM1463.2 956.8h5.8v5.8h-5.8zM1538.6 956.8h5.8v5.8h-5.8zM1331.2 964.0h3v3h-3zM1341.4 962.6h5.8v5.8h-5.8zM1347.2 962.6h5.8v5.8h-5.8zM1353.0 962.6h5.8v5.8h-5.8zM1364.6 962.6h5.8v5.8h-5.8zM1370.4 962.6h5.8v5.8h-5.8zM1376.2 962.6h5.8v5.8h-5.8zM1382.0 962.6h5.8v5.8h-5.8zM1393.6 962.6h5.8v5.8h-5.8zM1399.4 962.6h5.8v5.8h-5.8zM1405.2 962.6h5.8v5.8h-5.8zM1411.0 962.6h5.8v5.8h-5.8zM1416.8 962.6h5.8v5.8h-5.8zM1428.4 962.6h5.8v5.8h-5.8zM1434.2 962.6h5.8v5.8h-5.8zM1440.0 962.6h5.8v5.8h-5.8zM1445.8 962.6h5.8v5.8h-5.8zM1451.6 962.6h5.8v5.8h-5.8zM1457.4 962.6h5.8v5.8h-5.8zM1463.2 962.6h5.8v5.8h-5.8zM1271.8 968.4h5.8v5.8h-5.8zM1312.4 968.4h5.8v5.8h-5.8zM1347.2 968.4h5.8v5.8h-5.8zM1353.0 968.4h5.8v5.8h-5.8zM1358.8 968.4h5.8v5.8h-5.8zM1364.6 968.4h5.8v5.8h-5.8zM1370.4 968.4h5.8v5.8h-5.8zM1376.2 968.4h5.8v5.8h-5.8zM1382.0 968.4h5.8v5.8h-5.8zM1387.8 968.4h5.8v5.8h-5.8zM1393.6 968.4h5.8v5.8h-5.8zM1399.4 968.4h5.8v5.8h-5.8zM1405.2 968.4h5.8v5.8h-5.8zM1411.0 968.4h5.8v5.8h-5.8zM1416.8 968.4h5.8v5.8h-5.8zM1422.6 968.4h5.8v5.8h-5.8zM1428.4 968.4h5.8v5.8h-5.8zM1434.2 968.4h5.8v5.8h-5.8zM1440.0 968.4h5.8v5.8h-5.8zM1445.8 968.4h5.8v5.8h-5.8zM1451.6 968.4h5.8v5.8h-5.8zM1474.8 970.0h5.8v2.6h-5.8zM1325.6 974.2h2.6v5.8h-2.6zM1341.4 974.2h5.8v5.8h-5.8zM1347.2 974.2h5.8v5.8h-5.8zM1353.0 974.2h5.8v5.8h-5.8zM1358.8 974.2h5.8v5.8h-5.8zM1364.6 974.2h5.8v5.8h-5.8zM1370.4 974.2h5.8v5.8h-5.8zM1376.2 974.2h5.8v5.8h-5.8zM1382.0 974.2h5.8v5.8h-5.8zM1387.8 974.2h5.8v5.8h-5.8zM1393.6 974.2h5.8v5.8h-5.8zM1399.4 974.2h5.8v5.8h-5.8zM1405.2 974.2h5.8v5.8h-5.8zM1411.0 974.2h5.8v5.8h-5.8zM1416.8 974.2h5.8v5.8h-5.8zM1422.6 974.2h5.8v5.8h-5.8zM1428.4 974.2h5.8v5.8h-5.8zM1434.2 974.2h5.8v5.8h-5.8zM1440.0 974.2h5.8v5.8h-5.8zM1445.8 974.2h5.8v5.8h-5.8zM1451.6 974.2h5.8v5.8h-5.8zM1482.2 974.2h2.6v5.8h-2.6zM1295.0 980.0h5.8v5.8h-5.8zM1335.6 980.0h5.8v5.8h-5.8zM1341.4 980.0h5.8v5.8h-5.8zM1358.8 980.0h5.8v5.8h-5.8zM1364.6 980.0h5.8v5.8h-5.8zM1370.4 980.0h5.8v5.8h-5.8zM1376.2 980.0h5.8v5.8h-5.8zM1382.0 980.0h5.8v5.8h-5.8zM1387.8 980.0h5.8v5.8h-5.8zM1393.6 980.0h5.8v5.8h-5.8zM1399.4 980.0h5.8v5.8h-5.8zM1405.2 980.0h5.8v5.8h-5.8zM1411.0 980.0h5.8v5.8h-5.8zM1416.8 980.0h5.8v5.8h-5.8zM1422.6 980.0h5.8v5.8h-5.8zM1428.4 980.0h5.8v5.8h-5.8zM1434.2 980.0h5.8v5.8h-5.8zM1440.0 980.0h5.8v5.8h-5.8zM1457.4 980.0h5.8v5.8h-5.8zM1470.6 980.0h2.6v5.8h-2.6zM1573.4 980.0h5.8v5.8h-5.8zM1300.8 985.8h5.8v5.8h-5.8zM1312.4 985.8h5.8v5.8h-5.8zM1324.0 985.8h5.8v5.8h-5.8zM1335.6 985.8h5.8v5.8h-5.8zM1347.2 985.8h5.8v5.8h-5.8zM1353.0 985.8h5.8v5.8h-5.8zM1358.8 985.8h5.8v5.8h-5.8zM1364.6 985.8h5.8v5.8h-5.8zM1370.4 985.8h5.8v5.8h-5.8zM1376.2 985.8h5.8v5.8h-5.8zM1382.0 985.8h5.8v5.8h-5.8zM1387.8 985.8h5.8v5.8h-5.8zM1393.6 985.8h5.8v5.8h-5.8zM1399.4 985.8h5.8v5.8h-5.8zM1405.2 985.8h5.8v5.8h-5.8zM1411.0 985.8h5.8v5.8h-5.8zM1416.8 985.8h5.8v5.8h-5.8zM1422.6 985.8h5.8v5.8h-5.8zM1428.4 985.8h5.8v5.8h-5.8zM1440.0 985.8h5.8v5.8h-5.8zM1451.6 985.8h5.8v5.8h-5.8zM1474.8 985.8h5.8v5.8h-5.8zM1267.6 991.6h2.6v5.8h-2.6zM1324.0 991.6h5.8v5.8h-5.8zM1341.4 991.6h5.8v5.8h-5.8zM1347.2 991.6h5.8v5.8h-5.8zM1353.0 991.6h5.8v5.8h-5.8zM1364.6 991.6h5.8v5.8h-5.8zM1370.4 991.6h5.8v5.8h-5.8zM1376.2 991.6h5.8v5.8h-5.8zM1382.0 991.6h5.8v5.8h-5.8zM1387.8 991.6h5.8v5.8h-5.8zM1393.6 991.6h5.8v5.8h-5.8zM1399.4 991.6h5.8v5.8h-5.8zM1405.2 991.6h5.8v5.8h-5.8zM1411.0 991.6h5.8v5.8h-5.8zM1416.8 991.6h5.8v5.8h-5.8zM1422.6 991.6h5.8v5.8h-5.8zM1428.4 991.6h5.8v5.8h-5.8zM1434.2 991.6h5.8v5.8h-5.8zM1440.0 991.6h5.8v5.8h-5.8zM1445.8 991.6h5.8v5.8h-5.8zM1457.4 991.6h5.8v5.8h-5.8zM1480.6 991.6h5.8v5.8h-5.8zM1324.0 997.4h5.8v5.8h-5.8zM1335.6 997.4h5.8v5.8h-5.8zM1353.0 997.4h5.8v5.8h-5.8zM1358.8 997.4h5.8v5.8h-5.8zM1364.6 997.4h5.8v5.8h-5.8zM1370.4 997.4h5.8v5.8h-5.8zM1376.2 997.4h5.8v5.8h-5.8zM1382.0 997.4h5.8v5.8h-5.8zM1387.8 997.4h5.8v5.8h-5.8zM1393.6 997.4h5.8v5.8h-5.8zM1399.4 997.4h5.8v5.8h-5.8zM1405.2 997.4h5.8v5.8h-5.8zM1411.0 997.4h5.8v5.8h-5.8zM1416.8 997.4h5.8v5.8h-5.8zM1422.6 997.4h5.8v5.8h-5.8zM1428.4 997.4h5.8v5.8h-5.8zM1434.2 997.4h5.8v5.8h-5.8zM1440.0 997.4h5.8v5.8h-5.8zM1445.8 997.4h5.8v5.8h-5.8zM1492.2 997.4h5.8v5.8h-5.8zM1499.4 998.8h3v3h-3zM1306.6 1003.2h5.8v5.8h-5.8zM1314.0 1003.2h2.6v5.8h-2.6zM1329.8 1003.2h5.8v5.8h-5.8zM1335.6 1003.2h5.8v5.8h-5.8zM1341.4 1003.2h5.8v5.8h-5.8zM1347.2 1003.2h5.8v5.8h-5.8zM1353.0 1003.2h5.8v5.8h-5.8zM1358.8 1003.2h5.8v5.8h-5.8zM1364.6 1003.2h5.8v5.8h-5.8zM1370.4 1003.2h5.8v5.8h-5.8zM1376.2 1003.2h5.8v5.8h-5.8zM1382.0 1003.2h5.8v5.8h-5.8zM1387.8 1003.2h5.8v5.8h-5.8zM1393.6 1003.2h5.8v5.8h-5.8zM1399.4 1003.2h5.8v5.8h-5.8zM1411.0 1003.2h5.8v5.8h-5.8zM1416.8 1003.2h5.8v5.8h-5.8zM1422.6 1003.2h5.8v5.8h-5.8zM1428.4 1003.2h5.8v5.8h-5.8zM1440.0 1003.2h5.8v5.8h-5.8zM1445.8 1003.2h5.8v5.8h-5.8zM1451.6 1003.2h5.8v5.8h-5.8zM1463.2 1003.2h5.8v5.8h-5.8zM1509.6 1003.2h5.8v5.8h-5.8zM1561.8 1004.8h5.8v2.6h-5.8zM1295.0 1009.0h5.8v5.8h-5.8zM1335.6 1009.0h5.8v5.8h-5.8zM1353.0 1009.0h5.8v5.8h-5.8zM1358.8 1009.0h5.8v5.8h-5.8zM1364.6 1009.0h5.8v5.8h-5.8zM1370.4 1009.0h5.8v5.8h-5.8zM1382.0 1009.0h5.8v5.8h-5.8zM1393.6 1009.0h5.8v5.8h-5.8zM1399.4 1009.0h5.8v5.8h-5.8zM1405.2 1009.0h5.8v5.8h-5.8zM1411.0 1009.0h5.8v5.8h-5.8zM1416.8 1009.0h5.8v5.8h-5.8zM1422.6 1009.0h5.8v5.8h-5.8zM1428.4 1009.0h5.8v5.8h-5.8zM1434.2 1009.0h5.8v5.8h-5.8zM1440.0 1009.0h5.8v5.8h-5.8zM1445.8 1009.0h5.8v5.8h-5.8zM1458.8 1010.4h3v3h-3zM1480.6 1009.0h5.8v5.8h-5.8zM1486.4 1009.0h5.8v5.8h-5.8zM1557.4 1010.4h3v3h-3zM1260.2 1014.8h5.8v5.8h-5.8zM1285.0 1014.8h2.6v5.8h-2.6zM1329.8 1014.8h5.8v5.8h-5.8zM1335.6 1014.8h5.8v5.8h-5.8zM1347.2 1014.8h5.8v5.8h-5.8zM1353.0 1014.8h5.8v5.8h-5.8zM1358.8 1014.8h5.8v5.8h-5.8zM1376.2 1014.8h5.8v5.8h-5.8zM1382.0 1014.8h5.8v5.8h-5.8zM1387.8 1014.8h5.8v5.8h-5.8zM1393.6 1014.8h5.8v5.8h-5.8zM1399.4 1014.8h5.8v5.8h-5.8zM1405.2 1014.8h5.8v5.8h-5.8zM1411.0 1014.8h5.8v5.8h-5.8zM1416.8 1014.8h5.8v5.8h-5.8zM1428.4 1014.8h5.8v5.8h-5.8zM1434.2 1014.8h5.8v5.8h-5.8zM1440.0 1014.8h5.8v5.8h-5.8zM1451.6 1014.8h5.8v5.8h-5.8zM1457.4 1016.4h5.8v2.6h-5.8zM1469.0 1014.8h5.8v5.8h-5.8zM1498.0 1014.8h5.8v5.8h-5.8zM1312.4 1020.6h5.8v5.8h-5.8zM1318.2 1020.6h5.8v5.8h-5.8zM1329.8 1020.6h5.8v5.8h-5.8zM1347.2 1020.6h5.8v5.8h-5.8zM1358.8 1020.6h5.8v5.8h-5.8zM1364.6 1020.6h5.8v5.8h-5.8zM1370.4 1020.6h5.8v5.8h-5.8zM1376.2 1020.6h5.8v5.8h-5.8zM1382.0 1020.6h5.8v5.8h-5.8zM1387.8 1020.6h5.8v5.8h-5.8zM1393.6 1020.6h5.8v5.8h-5.8zM1411.0 1020.6h5.8v5.8h-5.8zM1416.8 1020.6h5.8v5.8h-5.8zM1428.4 1020.6h5.8v5.8h-5.8zM1440.0 1020.6h5.8v5.8h-5.8zM1445.8 1020.6h5.8v5.8h-5.8zM1463.2 1020.6h5.8v5.8h-5.8zM1590.8 1020.6h5.8v5.8h-5.8zM1248.6 1026.4h5.8v5.8h-5.8zM1318.2 1026.4h5.8v5.8h-5.8zM1324.0 1026.4h5.8v5.8h-5.8zM1347.2 1026.4h5.8v5.8h-5.8zM1353.0 1026.4h5.8v5.8h-5.8zM1358.8 1026.4h5.8v5.8h-5.8zM1364.6 1026.4h5.8v5.8h-5.8zM1370.4 1026.4h5.8v5.8h-5.8zM1376.2 1026.4h5.8v5.8h-5.8zM1387.8 1026.4h5.8v5.8h-5.8zM1393.6 1026.4h5.8v5.8h-5.8zM1405.2 1026.4h5.8v5.8h-5.8zM1411.0 1026.4h5.8v5.8h-5.8zM1416.8 1026.4h5.8v5.8h-5.8zM1422.6 1026.4h5.8v5.8h-5.8zM1434.2 1026.4h5.8v5.8h-5.8zM1440.0 1026.4h5.8v5.8h-5.8zM1445.8 1026.4h5.8v5.8h-5.8zM1457.4 1026.4h5.8v5.8h-5.8zM1463.2 1028.0h5.8v2.6h-5.8zM1486.4 1026.4h5.8v5.8h-5.8zM1493.8 1026.4h2.6v5.8h-2.6zM1248.6 1032.2h5.8v5.8h-5.8zM1295.0 1032.2h5.8v5.8h-5.8zM1329.8 1032.2h5.8v5.8h-5.8zM1335.6 1032.2h5.8v5.8h-5.8zM1341.4 1032.2h5.8v5.8h-5.8zM1347.2 1032.2h5.8v5.8h-5.8zM1353.0 1032.2h5.8v5.8h-5.8zM1358.8 1032.2h5.8v5.8h-5.8zM1364.6 1032.2h5.8v5.8h-5.8zM1370.4 1032.2h5.8v5.8h-5.8zM1376.2 1032.2h5.8v5.8h-5.8zM1382.0 1032.2h5.8v5.8h-5.8zM1387.8 1032.2h5.8v5.8h-5.8zM1399.4 1032.2h5.8v5.8h-5.8zM1405.2 1032.2h5.8v5.8h-5.8zM1411.0 1032.2h5.8v5.8h-5.8zM1422.6 1032.2h5.8v5.8h-5.8zM1428.4 1032.2h5.8v5.8h-5.8zM1434.2 1032.2h5.8v5.8h-5.8zM1445.8 1032.2h5.8v5.8h-5.8zM1453.2 1032.2h2.6v5.8h-2.6zM1463.2 1032.2h5.8v5.8h-5.8zM1469.0 1032.2h5.8v5.8h-5.8zM1498.0 1033.8h5.8v2.6h-5.8zM1503.8 1032.2h5.8v5.8h-5.8zM1509.6 1032.2h5.8v5.8h-5.8zM1213.8 1038.0h5.8v5.8h-5.8zM1248.6 1038.0h5.8v5.8h-5.8zM1283.4 1038.0h5.8v5.8h-5.8zM1324.0 1038.0h5.8v5.8h-5.8zM1335.6 1038.0h5.8v5.8h-5.8zM1341.4 1038.0h5.8v5.8h-5.8zM1347.2 1038.0h5.8v5.8h-5.8zM1353.0 1038.0h5.8v5.8h-5.8zM1364.6 1038.0h5.8v5.8h-5.8zM1370.4 1038.0h5.8v5.8h-5.8zM1376.2 1038.0h5.8v5.8h-5.8zM1382.0 1038.0h5.8v5.8h-5.8zM1411.0 1038.0h5.8v5.8h-5.8zM1440.0 1038.0h5.8v5.8h-5.8zM1480.6 1038.0h5.8v5.8h-5.8zM1486.4 1039.6h5.8v2.6h-5.8zM1503.8 1038.0h5.8v5.8h-5.8zM1608.2 1038.0h5.8v5.8h-5.8zM1219.6 1043.8h5.8v5.8h-5.8zM1254.4 1043.8h5.8v5.8h-5.8zM1300.8 1043.8h5.8v5.8h-5.8zM1306.6 1045.4h5.8v2.6h-5.8zM1318.2 1043.8h5.8v5.8h-5.8zM1341.4 1043.8h5.8v5.8h-5.8zM1358.8 1043.8h5.8v5.8h-5.8zM1370.4 1043.8h5.8v5.8h-5.8zM1376.2 1043.8h5.8v5.8h-5.8zM1416.8 1043.8h5.8v5.8h-5.8zM1422.6 1043.8h5.8v5.8h-5.8zM1440.0 1043.8h5.8v5.8h-5.8zM1213.8 1051.2h5.8v2.6h-5.8zM1225.4 1049.6h5.8v5.8h-5.8zM1324.0 1051.2h5.8v2.6h-5.8zM1329.8 1049.6h5.8v5.8h-5.8zM1335.6 1049.6h5.8v5.8h-5.8zM1358.8 1049.6h5.8v5.8h-5.8zM1370.4 1049.6h5.8v5.8h-5.8zM1428.4 1049.6h5.8v5.8h-5.8zM1440.0 1049.6h5.8v5.8h-5.8zM1445.8 1049.6h5.8v5.8h-5.8zM1515.4 1049.6h5.8v5.8h-5.8zM1567.6 1049.6h5.8v5.8h-5.8zM1242.8 1055.4h5.8v5.8h-5.8zM1312.4 1055.4h5.8v5.8h-5.8zM1329.8 1055.4h5.8v5.8h-5.8zM1353.0 1055.4h5.8v5.8h-5.8zM1364.6 1055.4h5.8v5.8h-5.8zM1428.4 1055.4h5.8v5.8h-5.8zM1434.2 1055.4h5.8v5.8h-5.8zM1440.0 1055.4h5.8v5.8h-5.8zM1457.4 1055.4h5.8v5.8h-5.8zM1463.2 1055.4h5.8v5.8h-5.8zM1492.2 1055.4h5.8v5.8h-5.8zM1561.8 1055.4h5.8v5.8h-5.8zM1248.6 1061.2h5.8v5.8h-5.8zM1277.6 1061.2h5.8v5.8h-5.8zM1289.2 1061.2h5.8v5.8h-5.8zM1324.0 1061.2h5.8v5.8h-5.8zM1329.8 1061.2h5.8v5.8h-5.8zM1335.6 1061.2h5.8v5.8h-5.8zM1347.2 1061.2h5.8v5.8h-5.8zM1353.0 1061.2h5.8v5.8h-5.8zM1358.8 1061.2h5.8v5.8h-5.8zM1445.8 1061.2h5.8v5.8h-5.8zM1457.4 1062.8h5.8v2.6h-5.8zM1469.0 1061.2h5.8v5.8h-5.8zM1208.0 1067.0h5.8v5.8h-5.8zM1290.6 1068.4h3v3h-3zM1300.8 1067.0h5.8v5.8h-5.8zM1314.0 1067.0h2.6v5.8h-2.6zM1318.2 1067.0h5.8v5.8h-5.8zM1324.0 1067.0h5.8v5.8h-5.8zM1329.8 1067.0h5.8v5.8h-5.8zM1335.6 1067.0h5.8v5.8h-5.8zM1341.4 1067.0h5.8v5.8h-5.8zM1353.0 1067.0h5.8v5.8h-5.8zM1440.0 1067.0h5.8v5.8h-5.8zM1445.8 1067.0h5.8v5.8h-5.8zM1451.6 1067.0h5.8v5.8h-5.8zM1458.8 1068.4h3v3h-3zM1492.2 1068.6h5.8v2.6h-5.8zM1540.2 1067.0h2.6v5.8h-2.6zM1596.6 1067.0h5.8v5.8h-5.8zM1324.0 1072.8h5.8v5.8h-5.8zM1335.6 1072.8h5.8v5.8h-5.8zM1341.4 1072.8h5.8v5.8h-5.8zM1353.0 1072.8h5.8v5.8h-5.8zM1440.0 1072.8h5.8v5.8h-5.8zM1451.6 1072.8h5.8v5.8h-5.8zM1457.4 1072.8h5.8v5.8h-5.8zM1469.0 1072.8h5.8v5.8h-5.8zM1515.4 1072.8h5.8v5.8h-5.8zM1567.6 1072.8h5.8v5.8h-5.8zM1289.2 1078.6h5.8v5.8h-5.8zM1306.6 1078.6h5.8v5.8h-5.8zM1318.2 1078.6h5.8v5.8h-5.8zM1329.8 1078.6h5.8v5.8h-5.8zM1335.6 1078.6h5.8v5.8h-5.8zM1341.4 1078.6h5.8v5.8h-5.8zM1347.2 1078.6h5.8v5.8h-5.8zM1440.0 1078.6h5.8v5.8h-5.8zM1445.8 1078.6h5.8v5.8h-5.8zM1463.2 1080.2h5.8v2.6h-5.8zM1184.8 1084.4h5.8v5.8h-5.8zM1254.4 1084.4h5.8v5.8h-5.8zM1300.8 1084.4h5.8v5.8h-5.8zM1318.2 1084.4h5.8v5.8h-5.8zM1324.0 1084.4h5.8v5.8h-5.8zM1335.6 1084.4h5.8v5.8h-5.8zM1445.8 1084.4h5.8v5.8h-5.8zM1457.4 1084.4h5.8v5.8h-5.8zM1486.4 1084.4h5.8v5.8h-5.8zM1300.8 1090.2h5.8v5.8h-5.8zM1312.4 1090.2h5.8v5.8h-5.8zM1318.2 1090.2h5.8v5.8h-5.8zM1324.0 1090.2h5.8v5.8h-5.8zM1329.8 1090.2h5.8v5.8h-5.8zM1335.6 1090.2h5.8v5.8h-5.8zM1457.4 1091.8h5.8v2.6h-5.8zM1567.6 1090.2h5.8v5.8h-5.8zM1179.0 1096.0h5.8v5.8h-5.8zM1289.2 1096.0h5.8v5.8h-5.8zM1306.6 1096.0h5.8v5.8h-5.8zM1312.4 1096.0h5.8v5.8h-5.8zM1324.0 1096.0h5.8v5.8h-5.8zM1329.8 1096.0h5.8v5.8h-5.8zM1445.8 1096.0h5.8v5.8h-5.8zM1451.6 1096.0h5.8v5.8h-5.8zM1457.4 1096.0h5.8v5.8h-5.8zM1498.0 1096.0h5.8v5.8h-5.8zM1184.8 1101.8h5.8v5.8h-5.8zM1266.0 1101.8h5.8v5.8h-5.8zM1295.0 1101.8h5.8v5.8h-5.8zM1300.8 1101.8h5.8v5.8h-5.8zM1306.6 1101.8h5.8v5.8h-5.8zM1318.2 1101.8h5.8v5.8h-5.8zM1440.0 1103.4h5.8v2.6h-5.8zM1469.0 1103.4h5.8v2.6h-5.8zM1538.6 1103.4h5.8v2.6h-5.8zM1544.4 1101.8h5.8v5.8h-5.8zM1579.2 1101.8h5.8v5.8h-5.8zM1271.8 1107.6h5.8v5.8h-5.8zM1277.6 1107.6h5.8v5.8h-5.8zM1300.8 1107.6h5.8v5.8h-5.8zM1306.6 1107.6h5.8v5.8h-5.8zM1451.6 1107.6h5.8v5.8h-5.8zM1457.4 1109.2h5.8v2.6h-5.8zM1463.2 1109.2h5.8v2.6h-5.8zM1480.6 1109.2h5.8v2.6h-5.8zM1208.0 1113.4h5.8v5.8h-5.8zM1260.2 1113.4h5.8v5.8h-5.8zM1289.2 1113.4h5.8v5.8h-5.8zM1295.0 1113.4h5.8v5.8h-5.8zM1300.8 1113.4h5.8v5.8h-5.8zM1306.6 1113.4h5.8v5.8h-5.8zM1451.6 1113.4h5.8v5.8h-5.8zM1480.6 1113.4h5.8v5.8h-5.8zM1492.2 1113.4h5.8v5.8h-5.8zM1498.0 1113.4h5.8v5.8h-5.8zM1527.0 1113.4h5.8v5.8h-5.8zM1561.8 1115.0h5.8v2.6h-5.8zM1592.4 1113.4h2.6v5.8h-2.6zM1215.4 1119.2h2.6v5.8h-2.6zM1271.8 1119.2h5.8v5.8h-5.8zM1277.6 1119.2h5.8v5.8h-5.8zM1283.4 1119.2h5.8v5.8h-5.8zM1300.8 1119.2h5.8v5.8h-5.8zM1306.6 1119.2h5.8v5.8h-5.8zM1312.4 1119.2h5.8v5.8h-5.8zM1498.0 1119.2h5.8v5.8h-5.8zM1579.2 1119.2h5.8v5.8h-5.8zM1266.0 1125.0h5.8v5.8h-5.8zM1277.6 1125.0h5.8v5.8h-5.8zM1283.4 1125.0h5.8v5.8h-5.8zM1300.8 1125.0h5.8v5.8h-5.8zM1445.8 1125.0h5.8v5.8h-5.8zM1451.6 1125.0h5.8v5.8h-5.8zM1527.0 1125.0h5.8v5.8h-5.8zM1219.6 1130.8h5.8v5.8h-5.8zM1242.8 1130.8h5.8v5.8h-5.8zM1289.2 1130.8h5.8v5.8h-5.8zM1295.0 1130.8h5.8v5.8h-5.8zM1445.8 1130.8h5.8v5.8h-5.8zM1469.0 1130.8h5.8v5.8h-5.8zM1242.8 1136.6h5.8v5.8h-5.8zM1271.8 1136.6h5.8v5.8h-5.8zM1277.6 1136.6h5.8v5.8h-5.8zM1289.2 1136.6h5.8v5.8h-5.8zM1295.0 1136.6h5.8v5.8h-5.8zM1527.0 1136.6h5.8v5.8h-5.8zM1579.2 1136.6h5.8v5.8h-5.8zM1266.0 1142.4h5.8v5.8h-5.8zM1271.8 1142.4h5.8v5.8h-5.8zM1295.0 1142.4h5.8v5.8h-5.8zM1440.0 1142.4h5.8v5.8h-5.8zM1445.8 1142.4h5.8v5.8h-5.8zM1451.6 1142.4h5.8v5.8h-5.8zM1457.4 1142.4h5.8v5.8h-5.8zM1464.6 1143.8h3v3h-3zM1469.0 1144.0h5.8v2.6h-5.8zM1499.4 1143.8h3v3h-3zM1544.4 1142.4h5.8v5.8h-5.8zM1561.8 1142.4h5.8v5.8h-5.8zM1586.4 1143.8h3v3h-3zM1260.2 1148.2h5.8v5.8h-5.8zM1277.6 1148.2h5.8v5.8h-5.8zM1289.2 1148.2h5.8v5.8h-5.8zM1474.8 1148.2h5.8v5.8h-5.8zM1190.6 1154.0h5.8v5.8h-5.8zM1237.0 1154.0h5.8v5.8h-5.8zM1283.4 1154.0h5.8v5.8h-5.8zM1440.0 1154.0h5.8v5.8h-5.8zM1445.8 1154.0h5.8v5.8h-5.8zM1254.4 1159.8h5.8v5.8h-5.8zM1260.2 1159.8h5.8v5.8h-5.8zM1266.0 1159.8h5.8v5.8h-5.8zM1271.8 1159.8h5.8v5.8h-5.8zM1277.6 1159.8h5.8v5.8h-5.8zM1445.8 1159.8h5.8v5.8h-5.8zM1463.2 1159.8h5.8v5.8h-5.8zM1237.0 1165.6h5.8v5.8h-5.8zM1248.6 1165.6h5.8v5.8h-5.8zM1266.0 1165.6h5.8v5.8h-5.8zM1440.0 1165.6h5.8v5.8h-5.8zM1445.8 1165.6h5.8v5.8h-5.8zM1451.6 1165.6h5.8v5.8h-5.8zM1463.2 1165.6h5.8v5.8h-5.8zM1499.6 1165.6h2.6v5.8h-2.6zM1556.0 1165.6h5.8v5.8h-5.8zM1585.0 1167.2h5.8v2.6h-5.8zM1203.8 1171.4h2.6v5.8h-2.6zM1213.8 1171.4h5.8v5.8h-5.8zM1219.6 1171.4h5.8v5.8h-5.8zM1254.4 1171.4h5.8v5.8h-5.8zM1260.2 1171.4h5.8v5.8h-5.8zM1266.0 1171.4h5.8v5.8h-5.8zM1440.0 1171.4h5.8v5.8h-5.8zM1445.8 1171.4h5.8v5.8h-5.8zM1457.4 1171.4h5.8v5.8h-5.8zM1532.8 1171.4h5.8v5.8h-5.8zM1190.6 1177.2h5.8v5.8h-5.8zM1208.0 1178.8h5.8v2.6h-5.8zM1225.4 1177.2h5.8v5.8h-5.8zM1248.6 1177.2h5.8v5.8h-5.8zM1260.2 1177.2h5.8v5.8h-5.8zM1445.8 1177.2h5.8v5.8h-5.8zM1451.6 1177.2h5.8v5.8h-5.8zM1463.2 1178.8h5.8v2.6h-5.8zM1498.0 1177.2h5.8v5.8h-5.8zM1509.6 1177.2h5.8v5.8h-5.8zM1515.4 1177.2h5.8v5.8h-5.8zM1521.2 1177.2h5.8v5.8h-5.8zM1532.8 1177.2h5.8v5.8h-5.8zM1567.6 1178.8h5.8v2.6h-5.8zM1184.8 1184.6h5.8v2.6h-5.8zM1196.4 1183.0h5.8v5.8h-5.8zM1209.6 1183.0h2.6v5.8h-2.6zM1219.6 1183.0h5.8v5.8h-5.8zM1225.4 1183.0h5.8v5.8h-5.8zM1231.2 1183.0h5.8v5.8h-5.8zM1237.0 1183.0h5.8v5.8h-5.8zM1242.8 1183.0h5.8v5.8h-5.8zM1248.6 1183.0h5.8v5.8h-5.8zM1440.0 1183.0h5.8v5.8h-5.8zM1445.8 1183.0h5.8v5.8h-5.8zM1451.6 1183.0h5.8v5.8h-5.8zM1457.4 1183.0h5.8v5.8h-5.8zM1469.0 1183.0h5.8v5.8h-5.8zM1493.6 1184.4h3v3h-3zM1503.8 1183.0h5.8v5.8h-5.8zM1521.2 1183.0h5.8v5.8h-5.8zM1569.0 1184.4h3v3h-3zM1579.2 1183.0h5.8v5.8h-5.8zM1225.4 1188.8h5.8v5.8h-5.8zM1237.0 1188.8h5.8v5.8h-5.8zM1248.6 1188.8h5.8v5.8h-5.8zM1435.6 1190.2h3v3h-3zM1451.6 1188.8h5.8v5.8h-5.8zM1503.8 1188.8h5.8v5.8h-5.8zM1556.0 1188.8h5.8v5.8h-5.8zM1573.4 1188.8h5.8v5.8h-5.8zM1585.0 1188.8h5.8v5.8h-5.8zM1219.6 1194.6h5.8v5.8h-5.8zM1225.4 1194.6h5.8v5.8h-5.8zM1237.0 1194.6h5.8v5.8h-5.8zM1242.8 1194.6h5.8v5.8h-5.8zM1434.2 1194.6h5.8v5.8h-5.8zM1440.0 1194.6h5.8v5.8h-5.8zM1445.8 1194.6h5.8v5.8h-5.8zM1451.6 1194.6h5.8v5.8h-5.8zM1457.4 1194.6h5.8v5.8h-5.8zM1469.0 1194.6h5.8v5.8h-5.8zM1515.4 1196.2h5.8v2.6h-5.8zM1209.4 1201.8h3v3h-3zM1213.8 1200.4h5.8v5.8h-5.8zM1219.6 1200.4h5.8v5.8h-5.8zM1225.4 1200.4h5.8v5.8h-5.8zM1231.2 1200.4h5.8v5.8h-5.8zM1237.0 1200.4h5.8v5.8h-5.8zM1242.8 1200.4h5.8v5.8h-5.8zM1457.4 1200.4h5.8v5.8h-5.8zM1463.2 1200.4h5.8v5.8h-5.8zM1469.0 1200.4h5.8v5.8h-5.8zM1476.2 1201.8h3v3h-3zM1480.6 1200.4h5.8v5.8h-5.8zM1532.8 1200.4h5.8v5.8h-5.8zM1551.6 1201.8h3v3h-3zM1556.0 1200.4h5.8v5.8h-5.8zM1197.8 1207.6h3v3h-3zM1202.2 1206.2h5.8v5.8h-5.8zM1213.8 1206.2h5.8v5.8h-5.8zM1219.6 1206.2h5.8v5.8h-5.8zM1237.0 1206.2h5.8v5.8h-5.8zM1464.8 1206.2h2.6v5.8h-2.6zM1474.8 1206.2h5.8v5.8h-5.8zM1492.2 1206.2h5.8v5.8h-5.8zM1498.0 1207.8h5.8v2.6h-5.8zM1515.4 1207.8h5.8v2.6h-5.8zM1521.2 1206.2h5.8v5.8h-5.8zM1527.0 1207.8h5.8v2.6h-5.8zM1550.2 1206.2h5.8v5.8h-5.8zM1190.6 1212.0h5.8v5.8h-5.8zM1202.2 1212.0h5.8v5.8h-5.8zM1213.8 1212.0h5.8v5.8h-5.8zM1219.6 1212.0h5.8v5.8h-5.8zM1225.4 1212.0h5.8v5.8h-5.8zM1231.2 1212.0h5.8v5.8h-5.8zM1434.2 1213.6h5.8v2.6h-5.8zM1511.2 1212.0h2.6v5.8h-2.6zM1527.0 1212.0h5.8v5.8h-5.8zM1544.4 1213.6h5.8v2.6h-5.8zM1561.8 1213.6h5.8v2.6h-5.8zM1202.2 1217.8h5.8v5.8h-5.8zM1219.6 1217.8h5.8v5.8h-5.8zM1428.4 1217.8h5.8v5.8h-5.8zM1451.6 1217.8h5.8v5.8h-5.8zM1474.8 1219.4h5.8v2.6h-5.8zM1509.6 1219.4h5.8v2.6h-5.8zM1521.2 1217.8h5.8v5.8h-5.8zM1573.4 1219.4h5.8v2.6h-5.8zM1219.6 1223.6h5.8v5.8h-5.8zM1445.8 1223.6h5.8v5.8h-5.8zM1457.4 1223.6h5.8v5.8h-5.8zM1464.8 1223.6h2.6v5.8h-2.6zM1474.8 1225.2h5.8v2.6h-5.8zM1511.2 1223.6h2.6v5.8h-2.6zM1528.6 1223.6h2.6v5.8h-2.6zM1550.2 1225.2h5.8v2.6h-5.8zM1579.2 1223.6h5.8v5.8h-5.8zM1179.0 1229.4h5.8v5.8h-5.8zM1190.6 1229.4h5.8v5.8h-5.8zM1213.8 1229.4h5.8v5.8h-5.8zM1434.2 1229.4h5.8v5.8h-5.8zM1445.8 1229.4h5.8v5.8h-5.8zM1451.6 1229.4h5.8v5.8h-5.8zM1457.4 1229.4h5.8v5.8h-5.8zM1486.4 1229.4h5.8v5.8h-5.8zM1515.4 1229.4h5.8v5.8h-5.8zM1527.0 1229.4h5.8v5.8h-5.8zM1428.4 1235.2h5.8v5.8h-5.8zM1445.8 1235.2h5.8v5.8h-5.8zM1480.6 1235.2h5.8v5.8h-5.8zM1492.2 1235.2h5.8v5.8h-5.8zM1499.6 1235.2h2.6v5.8h-2.6zM1515.4 1235.2h5.8v5.8h-5.8zM1556.0 1235.2h5.8v5.8h-5.8zM1567.6 1235.2h5.8v5.8h-5.8zM1445.8 1241.0h5.8v5.8h-5.8zM1474.8 1241.0h5.8v5.8h-5.8zM1521.2 1242.6h5.8v2.6h-5.8zM1556.0 1242.6h5.8v2.6h-5.8zM1422.6 1246.8h5.8v5.8h-5.8zM1440.0 1246.8h5.8v5.8h-5.8zM1445.8 1246.8h5.8v5.8h-5.8zM1451.6 1248.4h5.8v2.6h-5.8zM1469.0 1248.4h5.8v2.6h-5.8zM1528.4 1248.2h3v3h-3zM1573.4 1246.8h5.8v5.8h-5.8zM1428.4 1252.6h5.8v5.8h-5.8zM1441.4 1254.0h3v3h-3zM1463.2 1252.6h5.8v5.8h-5.8zM1482.0 1254.0h3v3h-3zM1509.6 1252.6h5.8v5.8h-5.8zM1538.6 1254.2h5.8v2.6h-5.8zM1428.4 1258.4h5.8v5.8h-5.8zM1434.2 1258.4h5.8v5.8h-5.8zM1440.0 1258.4h5.8v5.8h-5.8zM1470.6 1258.4h2.6v5.8h-2.6zM1474.8 1258.4h5.8v5.8h-5.8zM1480.6 1260.0h5.8v2.6h-5.8zM1544.4 1258.4h5.8v5.8h-5.8zM1580.6 1259.8h3v3h-3zM1173.2 1264.2h5.8v5.8h-5.8zM1445.8 1264.2h5.8v5.8h-5.8zM1486.4 1264.2h5.8v5.8h-5.8zM1544.4 1264.2h5.8v5.8h-5.8zM1567.6 1264.2h5.8v5.8h-5.8zM1573.4 1264.2h5.8v5.8h-5.8zM1434.2 1271.6h5.8v2.6h-5.8zM1440.0 1271.6h5.8v2.6h-5.8zM1445.8 1270.0h5.8v5.8h-5.8zM1515.4 1271.6h5.8v2.6h-5.8zM1521.2 1270.0h5.8v5.8h-5.8zM1550.2 1271.6h5.8v2.6h-5.8zM1428.4 1275.8h5.8v5.8h-5.8zM1550.2 1277.4h5.8v2.6h-5.8zM1556.0 1275.8h5.8v5.8h-5.8zM1561.8 1275.8h5.8v5.8h-5.8zM1567.6 1277.4h5.8v2.6h-5.8zM1445.8 1283.2h5.8v2.6h-5.8zM1527.0 1281.6h5.8v5.8h-5.8zM1538.6 1283.2h5.8v2.6h-5.8zM1544.4 1281.6h5.8v5.8h-5.8zM1412.6 1287.4h2.6v5.8h-2.6zM1457.4 1289.0h5.8v2.6h-5.8zM1474.8 1287.4h5.8v5.8h-5.8zM1492.2 1287.4h5.8v5.8h-5.8zM1503.8 1289.0h5.8v2.6h-5.8zM1573.4 1287.4h5.8v5.8h-5.8zM1412.6 1293.2h2.6v5.8h-2.6zM1416.8 1294.8h5.8v2.6h-5.8zM1422.6 1293.2h5.8v5.8h-5.8zM1493.8 1293.2h2.6v5.8h-2.6zM1511.2 1293.2h2.6v5.8h-2.6zM1521.2 1293.2h5.8v5.8h-5.8zM1527.0 1294.8h5.8v2.6h-5.8zM1445.8 1299.0h5.8v5.8h-5.8zM1469.0 1300.6h5.8v2.6h-5.8zM1492.2 1299.0h5.8v5.8h-5.8zM1509.6 1299.0h5.8v5.8h-5.8zM1515.4 1299.0h5.8v5.8h-5.8zM1532.8 1299.0h5.8v5.8h-5.8zM1561.8 1299.0h5.8v5.8h-5.8zM1573.4 1299.0h5.8v5.8h-5.8zM1509.6 1304.8h5.8v5.8h-5.8zM1538.6 1306.4h5.8v2.6h-5.8zM1457.4 1310.6h5.8v5.8h-5.8zM1515.4 1310.6h5.8v5.8h-5.8zM1522.8 1310.6h2.6v5.8h-2.6zM1527.0 1312.2h5.8v2.6h-5.8zM1569.2 1310.6h2.6v5.8h-2.6z" fill="#0000a0"/>
<clipPath id="clip_p4"><rect x="1167.4" y="834.0" width="547.1999999999998" height="515.0"/></clipPath>
<g clip-path="url(#clip_p4)" fill="none">
<path d="M1407.2 1293.0 1405.9 1296.8 1405.2 1300.6 1404.6 1304.3 1403.9 1308.0 1403.3 1311.7 1402.7 1315.5 1402.0 1319.2 1401.4 1322.9 1400.7 1326.7 1400.1 1330.5 1399.4 1334.4 1398.7 1338.3 1398.0 1342.3 1397.3 1346.4 1396.6 1350.5 1395.9 1354.8 1395.1 1359.2 1389.2 1360.0 1382.8 1360.0 1376.8 1360.0 1371.4 1360.0 1366.4 1360.0 1361.7 1360.0 1357.3 1360.0 1353.2 1360.0 1349.3 1360.0 1345.7 1360.0 1342.2 1360.0 1338.9 1360.0 1335.7 1360.0 1332.6 1360.0 1329.7 1360.0 1326.8 1360.0 1324.1 1360.0 1321.4 1360.0 1318.8 1360.0 1316.2 1360.0 1313.7 1360.0 1311.2 1360.0 1308.8 1360.0 1306.4 1360.0 1304.0 1360.0 1301.7 1360.0 1299.3 1360.0 1297.0 1360.0 1294.7 1360.0 1292.3 1360.0 1290.0 1360.0 1287.6 1360.0 1285.2 1360.0 1282.8 1360.0 1280.3 1360.0 1277.8 1360.0 1275.2 1360.0 1272.6 1360.0 1269.9 1360.0 1267.2 1360.0 1264.3 1360.0 1261.4 1360.0 1258.3 1360.0 1255.1 1360.0 1251.8 1360.0 1248.3 1360.0 1244.7 1360.0 1240.8 1360.0 1236.7 1360.0 1232.3 1360.0 1227.6 1360.0 1222.6 1360.0 1217.2 1360.0 1211.2 1360.0 1204.8 1360.0 1199.7 1358.6 1198.9 1354.3 1198.1 1350.1 1197.3 1346.0 1196.5 1342.0 1195.7 1338.1 1194.9 1334.2 1194.2 1330.4 1193.5 1326.6 1192.7 1322.9 1192.0 1319.2 1191.3 1315.5 1190.5 1311.8 1190.1 1308.0 1190.5 1304.2 1190.9 1300.4 1191.3 1296.7 1191.6 1293.0 1192.0 1289.3 1192.4 1285.7 1192.8 1282.0 1193.1 1278.4 1193.5 1274.7 1193.9 1271.1 1194.2 1267.4 1194.6 1263.6 1195.1 1259.9 1197.8 1256.9 1200.4 1254.0 1203.0 1251.1 1205.5 1248.4 1207.9 1245.6 1210.3 1243.0 1212.7 1240.3 1215.0 1237.7 1217.4 1235.1 1219.7 1232.6 1222.0 1230.0 1224.3 1227.5 1226.5 1225.0 1228.8 1222.4 1231.1 1219.8 1233.5 1217.3 1235.8 1214.7 1238.2 1212.0 1240.6 1209.4 1243.1 1206.7 1245.6 1203.9 1248.2 1201.1 1250.8 1198.3 1253.5 1195.3 1256.3 1192.3 1259.2 1189.1 1262.2 1185.9 1265.3 1182.5 1268.6 1179.0 1272.0 1175.2 1275.6 1171.4 1279.3 1167.3 1283.3 1162.9 1287.6 1158.1 1292.1 1152.7 1297.0 1146.8 1302.3 1140.3 1308.2 1133.3 1314.6 1125.6 1321.7 1117.0 1329.7 1107.4 1338.8 1096.5 1349.0 1084.4 1360.8 1070.6 1374.5 1054.6 1390.7 1035.5 1400.3 1037.2 1409.3 1040.7 1417.0 1047.0 1424.4 1053.4 1431.7 1059.6 1438.3 1066.9 1440.5 1080.3 1442.0 1093.4 1442.0 1107.4 1442.0 1120.2 1442.0 1132.0 1442.0 1142.8 1442.0 1153.0 1442.0 1162.4 1442.0 1171.3 1439.9 1181.4 1437.0 1191.3 1434.3 1200.4 1432.1 1208.6 1430.3 1216.0 1428.6 1223.0 1426.9 1229.6 1425.4 1235.8 1424.0 1241.7 1422.6 1247.3 1421.3 1252.6 1420.0 1257.7 1418.8 1262.6 1417.4 1267.4 1415.6 1272.1 1413.8 1276.6 1412.0 1280.9 1410.4 1285.1 1408.8 1289.1ZM1403.9 1286.2 1402.7 1289.8 1401.9 1293.3 1401.2 1296.8 1400.4 1300.3 1399.7 1303.8 1398.9 1307.3 1398.1 1310.7 1397.4 1314.2 1396.6 1317.6 1395.8 1321.1 1395.0 1324.7 1394.1 1328.2 1393.3 1331.8 1392.4 1335.5 1391.6 1339.2 1390.7 1343.0 1389.8 1346.9 1384.7 1347.9 1379.1 1348.2 1374.0 1348.6 1369.3 1348.9 1364.9 1349.2 1360.8 1349.5 1356.9 1349.8 1353.3 1350.0 1349.8 1350.3 1346.5 1350.6 1343.3 1350.9 1340.3 1351.1 1337.3 1351.4 1334.5 1351.6 1331.7 1351.9 1329.0 1352.1 1326.4 1352.4 1323.8 1352.6 1321.3 1352.8 1318.8 1353.0 1316.4 1353.3 1314.0 1353.5 1311.6 1353.7 1309.2 1353.9 1306.8 1354.1 1304.4 1354.2 1302.0 1354.4 1299.7 1354.6 1297.3 1354.7 1294.9 1354.9 1292.4 1355.0 1290.0 1355.1 1287.5 1355.2 1285.0 1355.3 1282.4 1355.4 1279.8 1355.5 1277.1 1355.5 1274.4 1355.5 1271.6 1355.5 1268.8 1355.5 1265.9 1355.4 1262.9 1355.3 1259.8 1355.2 1256.6 1355.0 1253.3 1354.8 1249.9 1354.6 1246.4 1354.3 1242.7 1354.0 1238.8 1353.7 1234.8 1353.3 1230.5 1352.9 1226.0 1352.5 1221.2 1352.0 1216.0 1351.5 1210.4 1351.0 1206.0 1349.3 1205.0 1345.3 1204.1 1341.3 1203.3 1337.4 1202.5 1333.5 1201.8 1329.7 1201.1 1326.0 1200.4 1322.3 1199.8 1318.6 1199.2 1315.0 1198.7 1311.3 1198.1 1307.7 1197.7 1304.1 1197.4 1300.5 1197.9 1296.9 1198.3 1293.2 1198.8 1289.7 1199.3 1286.2 1199.8 1282.7 1200.3 1279.2 1200.8 1275.8 1201.4 1272.3 1201.9 1268.9 1202.5 1265.5 1203.0 1262.1 1203.6 1258.6 1204.2 1255.2 1206.7 1252.3 1209.1 1249.6 1211.4 1246.9 1213.7 1244.3 1216.0 1241.7 1218.3 1239.2 1220.5 1236.7 1222.7 1234.2 1224.9 1231.8 1227.0 1229.4 1229.2 1227.0 1231.4 1224.7 1233.5 1222.3 1235.7 1220.0 1237.9 1217.6 1240.1 1215.2 1242.4 1212.8 1244.6 1210.4 1246.9 1208.0 1249.3 1205.5 1251.7 1203.1 1254.1 1200.5 1256.7 1198.0 1259.2 1195.3 1261.9 1192.6 1264.6 1189.9 1267.4 1187.0 1270.4 1184.0 1273.4 1181.0 1276.6 1177.7 1280.0 1174.4 1283.5 1170.9 1287.2 1167.2 1291.1 1163.1 1295.2 1158.5 1299.7 1153.6 1304.5 1148.2 1309.7 1142.4 1315.4 1136.0 1321.8 1128.9 1328.8 1121.0 1336.7 1112.1 1345.5 1102.3 1355.6 1091.0 1367.3 1078.0 1381.1 1062.5 1389.4 1063.9 1397.3 1066.8 1404.1 1071.9 1410.8 1077.2 1417.3 1082.4 1423.2 1088.4 1425.6 1099.5 1427.4 1110.3 1428.0 1121.9 1428.5 1132.6 1429.1 1142.4 1429.6 1151.6 1430.1 1160.2 1430.5 1168.3 1430.9 1176.0 1429.6 1184.7 1427.6 1193.2 1425.8 1201.1 1424.3 1208.3 1423.0 1215.0 1421.8 1221.2 1420.6 1227.2 1419.5 1232.8 1418.4 1238.2 1417.4 1243.3 1416.3 1248.3 1415.3 1253.0 1414.3 1257.6 1413.1 1262.1 1411.5 1266.4 1409.9 1270.7 1408.4 1274.7 1406.9 1278.7 1405.4 1282.5ZM1400.5 1279.0 1399.3 1282.3 1398.5 1285.7 1397.6 1289.0 1396.7 1292.2 1395.9 1295.4 1395.0 1298.6 1394.1 1301.8 1393.1 1305.0 1392.2 1308.1 1391.2 1311.3 1390.3 1314.4 1389.3 1317.6 1388.3 1320.8 1387.3 1324.1 1386.2 1327.3 1385.2 1330.6 1384.1 1334.0 1379.9 1335.2 1375.3 1335.9 1371.0 1336.5 1367.1 1337.1 1363.3 1337.8 1359.8 1338.4 1356.5 1339.0 1353.3 1339.5 1350.2 1340.1 1347.3 1340.7 1344.5 1341.2 1341.7 1341.8 1339.0 1342.3 1336.4 1342.8 1333.9 1343.3 1331.3 1343.8 1328.9 1344.3 1326.4 1344.8 1324.0 1345.3 1321.6 1345.7 1319.2 1346.2 1316.8 1346.6 1314.5 1347.0 1312.1 1347.4 1309.7 1347.8 1307.3 1348.2 1304.9 1348.5 1302.5 1348.9 1300.0 1349.2 1297.5 1349.5 1295.0 1349.8 1292.5 1350.0 1289.9 1350.2 1287.3 1350.4 1284.6 1350.6 1281.9 1350.7 1279.1 1350.7 1276.3 1350.8 1273.5 1350.7 1270.5 1350.7 1267.5 1350.5 1264.5 1350.3 1261.4 1350.1 1258.2 1349.8 1255.0 1349.4 1251.6 1348.9 1248.2 1348.4 1244.7 1347.8 1241.1 1347.1 1237.4 1346.3 1233.6 1345.5 1229.6 1344.6 1225.4 1343.6 1221.0 1342.6 1216.3 1341.5 1212.6 1339.6 1211.5 1335.8 1210.5 1332.0 1209.7 1328.3 1208.9 1324.6 1208.1 1321.0 1207.5 1317.3 1207.0 1313.7 1206.5 1310.1 1206.1 1306.6 1205.7 1303.1 1205.4 1299.6 1205.1 1296.1 1205.1 1292.6 1205.6 1289.1 1206.2 1285.7 1206.8 1282.3 1207.4 1279.0 1208.0 1275.7 1208.7 1272.4 1209.3 1269.2 1210.0 1266.0 1210.8 1262.8 1211.5 1259.6 1212.2 1256.5 1213.0 1253.3 1213.8 1250.2 1216.0 1247.5 1218.2 1244.9 1220.3 1242.4 1222.4 1239.9 1224.5 1237.5 1226.6 1235.2 1228.7 1232.8 1230.7 1230.6 1232.7 1228.3 1234.8 1226.1 1236.8 1223.9 1238.9 1221.7 1240.9 1219.5 1243.0 1217.4 1245.1 1215.2 1247.2 1213.0 1249.3 1210.9 1251.4 1208.7 1253.6 1206.5 1255.8 1204.4 1258.1 1202.2 1260.4 1199.9 1262.8 1197.7 1265.2 1195.4 1267.7 1193.0 1270.3 1190.6 1273.0 1188.2 1275.7 1185.7 1278.5 1183.1 1281.5 1180.4 1284.6 1177.6 1287.8 1174.7 1291.2 1171.6 1294.7 1168.3 1298.5 1164.6 1302.5 1160.7 1306.7 1156.5 1311.3 1151.9 1316.3 1146.9 1321.8 1141.4 1327.8 1135.3 1334.4 1128.5 1341.8 1121.0 1350.2 1112.5 1359.8 1102.6 1370.9 1090.9 1378.0 1092.0 1384.7 1094.2 1390.6 1098.2 1396.4 1102.3 1402.1 1106.3 1407.4 1111.1 1409.9 1119.7 1412.0 1128.1 1413.2 1137.2 1414.4 1145.6 1415.5 1153.5 1416.5 1160.9 1417.5 1167.9 1418.4 1174.5 1419.3 1180.9 1418.8 1188.1 1417.7 1195.2 1416.8 1201.9 1416.0 1208.0 1415.3 1213.8 1414.7 1219.3 1414.0 1224.6 1413.3 1229.6 1412.6 1234.5 1411.9 1239.1 1411.1 1243.7 1410.3 1248.0 1409.5 1252.3 1408.5 1256.4 1407.2 1260.5 1405.8 1264.4 1404.5 1268.2 1403.2 1271.9 1401.8 1275.5ZM1397.8 1273.2 1396.6 1276.4 1395.7 1279.6 1394.8 1282.7 1393.8 1285.7 1392.8 1288.7 1391.8 1291.7 1390.8 1294.7 1389.8 1297.6 1388.7 1300.5 1387.6 1303.4 1386.5 1306.3 1385.4 1309.1 1384.3 1312.0 1383.1 1314.9 1382.0 1317.8 1380.8 1320.7 1379.6 1323.7 1376.0 1325.0 1372.2 1325.9 1368.7 1326.9 1365.3 1327.8 1362.1 1328.6 1359.1 1329.5 1356.1 1330.3 1353.3 1331.2 1350.6 1332.0 1348.0 1332.8 1345.4 1333.5 1342.9 1334.3 1340.4 1335.0 1338.0 1335.8 1335.6 1336.5 1333.2 1337.2 1330.8 1337.9 1328.5 1338.6 1326.1 1339.2 1323.8 1339.9 1321.5 1340.5 1319.1 1341.1 1316.8 1341.7 1314.4 1342.3 1312.0 1342.8 1309.6 1343.3 1307.2 1343.8 1304.7 1344.3 1302.2 1344.8 1299.7 1345.2 1297.1 1345.6 1294.5 1345.9 1291.8 1346.2 1289.1 1346.5 1286.4 1346.7 1283.6 1346.8 1280.7 1346.9 1277.8 1347.0 1274.9 1347.0 1271.9 1346.8 1268.9 1346.7 1265.8 1346.4 1262.7 1346.0 1259.5 1345.6 1256.3 1345.0 1253.0 1344.4 1249.7 1343.6 1246.3 1342.8 1242.9 1341.8 1239.5 1340.7 1236.0 1339.6 1232.4 1338.3 1228.7 1336.9 1225.0 1335.5 1221.0 1334.0 1217.9 1331.8 1216.7 1328.2 1215.7 1324.6 1214.7 1321.0 1213.9 1317.5 1213.2 1313.9 1212.7 1310.4 1212.2 1306.9 1211.8 1303.4 1211.5 1299.9 1211.3 1296.5 1211.2 1293.1 1211.1 1289.7 1211.3 1286.3 1211.8 1283.0 1212.4 1279.7 1213.1 1276.4 1213.8 1273.2 1214.6 1270.1 1215.3 1267.0 1216.1 1263.9 1217.0 1260.9 1217.8 1257.9 1218.7 1254.9 1219.6 1252.0 1220.5 1249.1 1221.5 1246.2 1223.5 1243.7 1225.5 1241.2 1227.5 1238.8 1229.4 1236.5 1231.3 1234.2 1233.3 1232.0 1235.2 1229.8 1237.1 1227.6 1239.1 1225.5 1241.0 1223.4 1242.9 1221.4 1244.9 1219.3 1246.8 1217.3 1248.8 1215.3 1250.8 1213.3 1252.8 1211.3 1254.8 1209.3 1256.9 1207.4 1259.0 1205.4 1261.1 1203.4 1263.3 1201.4 1265.5 1199.4 1267.7 1197.4 1270.1 1195.4 1272.4 1193.3 1274.9 1191.3 1277.4 1189.1 1280.0 1187.0 1282.6 1184.7 1285.4 1182.5 1288.3 1180.1 1291.3 1177.7 1294.4 1175.2 1297.7 1172.5 1301.1 1169.6 1304.7 1166.4 1308.5 1163.1 1312.6 1159.5 1317.1 1155.6 1321.8 1151.4 1327.0 1146.8 1332.7 1141.6 1338.9 1136.0 1345.9 1129.6 1353.7 1122.3 1362.8 1113.7 1368.8 1114.5 1374.6 1116.2 1379.8 1119.2 1384.9 1122.3 1390.0 1125.5 1394.7 1129.2 1397.4 1135.8 1399.8 1142.4 1401.4 1149.4 1403.0 1156.0 1404.6 1162.3 1406.0 1168.3 1407.4 1174.0 1408.8 1179.5 1410.0 1184.9 1410.1 1190.8 1409.8 1196.8 1409.6 1202.5 1409.4 1207.8 1409.2 1212.9 1409.0 1217.7 1408.7 1222.5 1408.4 1227.0 1408.0 1231.5 1407.5 1235.8 1406.9 1240.0 1406.3 1244.1 1405.7 1248.0 1404.8 1251.9 1403.7 1255.7 1402.6 1259.4 1401.4 1263.0 1400.2 1266.5 1399.0 1269.9ZM1395.7 1268.9 1394.6 1272.0 1393.6 1275.0 1392.6 1277.9 1391.6 1280.9 1390.5 1283.7 1389.5 1286.5 1388.4 1289.3 1387.2 1292.1 1386.1 1294.8 1384.9 1297.5 1383.7 1300.1 1382.5 1302.8 1381.3 1305.4 1380.0 1308.0 1378.8 1310.7 1377.5 1313.3 1376.2 1315.9 1373.1 1317.4 1369.9 1318.5 1366.9 1319.6 1364.0 1320.7 1361.2 1321.8 1358.5 1322.8 1355.9 1323.9 1353.4 1324.9 1350.9 1325.8 1348.5 1326.8 1346.1 1327.8 1343.8 1328.7 1341.4 1329.6 1339.1 1330.5 1336.9 1331.4 1334.6 1332.2 1332.3 1333.1 1330.0 1333.9 1327.8 1334.7 1325.5 1335.5 1323.2 1336.2 1320.9 1337.0 1318.5 1337.7 1316.1 1338.4 1313.8 1339.1 1311.3 1339.7 1308.9 1340.3 1306.4 1340.9 1303.8 1341.4 1301.3 1341.9 1298.7 1342.4 1296.0 1342.8 1293.3 1343.2 1290.5 1343.5 1287.7 1343.8 1284.8 1344.0 1281.9 1344.1 1279.0 1344.1 1276.0 1344.1 1272.9 1344.0 1269.9 1343.7 1266.7 1343.4 1263.6 1343.0 1260.4 1342.4 1257.2 1341.8 1254.0 1341.0 1250.8 1340.0 1247.5 1339.0 1244.3 1337.8 1241.1 1336.5 1237.8 1335.1 1234.6 1333.6 1231.3 1331.9 1228.0 1330.1 1224.6 1328.3 1221.8 1325.9 1220.6 1322.5 1219.5 1319.0 1218.5 1315.6 1217.7 1312.1 1217.1 1308.6 1216.5 1305.2 1216.1 1301.7 1215.8 1298.3 1215.6 1294.9 1215.5 1291.5 1215.5 1288.2 1215.6 1284.9 1215.9 1281.6 1216.5 1278.3 1217.2 1275.1 1217.9 1272.0 1218.7 1268.9 1219.5 1265.8 1220.3 1262.9 1221.2 1259.9 1222.2 1257.0 1223.1 1254.2 1224.1 1251.4 1225.2 1248.6 1226.2 1245.9 1227.3 1243.2 1229.1 1240.8 1231.0 1238.4 1232.8 1236.1 1234.6 1233.9 1236.5 1231.7 1238.3 1229.6 1240.1 1227.5 1241.9 1225.4 1243.8 1223.4 1245.6 1221.4 1247.5 1219.5 1249.3 1217.5 1251.2 1215.6 1253.1 1213.7 1255.0 1211.9 1257.0 1210.0 1258.9 1208.2 1260.9 1206.3 1263.0 1204.5 1265.0 1202.7 1267.1 1200.9 1269.3 1199.1 1271.4 1197.2 1273.7 1195.4 1276.0 1193.6 1278.3 1191.7 1280.7 1189.8 1283.2 1187.9 1285.7 1186.0 1288.3 1184.0 1291.1 1182.0 1293.9 1180.0 1296.8 1177.9 1299.9 1175.7 1303.0 1173.2 1306.4 1170.7 1309.9 1168.1 1313.6 1165.2 1317.6 1162.2 1321.8 1158.9 1326.4 1155.4 1331.3 1151.5 1336.7 1147.3 1342.6 1142.5 1349.2 1137.1 1356.7 1130.8 1361.9 1131.4 1367.0 1132.6 1371.7 1134.9 1376.3 1137.4 1380.9 1139.9 1385.2 1142.8 1388.0 1147.9 1390.5 1153.0 1392.6 1158.6 1394.5 1163.8 1396.4 1168.9 1398.2 1173.8 1399.9 1178.6 1401.5 1183.2 1403.0 1187.8 1403.6 1192.9 1403.9 1198.0 1404.2 1202.9 1404.4 1207.6 1404.6 1212.2 1404.7 1216.6 1404.7 1220.9 1404.6 1225.1 1404.5 1229.3 1404.2 1233.3 1403.8 1237.2 1403.3 1241.1 1402.8 1244.8 1402.1 1248.5 1401.1 1252.2 1400.1 1255.7 1399.1 1259.1 1398.0 1262.5 1396.9 1265.7ZM1394.0 1265.3 1392.9 1268.3 1391.9 1271.2 1390.8 1274.0 1389.8 1276.8 1388.6 1279.5 1387.5 1282.2 1386.3 1284.9 1385.1 1287.5 1383.9 1290.0 1382.6 1292.5 1381.4 1295.0 1380.1 1297.5 1378.8 1299.9 1377.4 1302.3 1376.1 1304.7 1374.7 1307.1 1373.3 1309.5 1370.7 1311.0 1368.0 1312.3 1365.4 1313.6 1362.8 1314.9 1360.4 1316.1 1358.0 1317.3 1355.7 1318.5 1353.4 1319.6 1351.1 1320.8 1348.9 1321.9 1346.7 1322.9 1344.5 1324.0 1342.3 1325.1 1340.1 1326.1 1337.9 1327.1 1335.7 1328.1 1333.5 1329.0 1331.3 1330.0 1329.1 1330.9 1326.9 1331.8 1324.6 1332.7 1322.3 1333.5 1320.0 1334.4 1317.6 1335.2 1315.2 1335.9 1312.8 1336.7 1310.3 1337.4 1307.8 1338.0 1305.2 1338.7 1302.6 1339.3 1299.9 1339.8 1297.2 1340.3 1294.5 1340.7 1291.7 1341.1 1288.8 1341.4 1285.9 1341.6 1282.9 1341.7 1279.9 1341.8 1276.9 1341.7 1273.8 1341.6 1270.7 1341.3 1267.5 1340.9 1264.4 1340.4 1261.2 1339.8 1258.0 1339.0 1254.9 1338.1 1251.7 1337.1 1248.6 1335.9 1245.4 1334.5 1242.4 1333.0 1239.3 1331.4 1236.3 1329.6 1233.4 1327.7 1230.5 1325.7 1227.6 1323.6 1225.1 1321.0 1223.8 1317.7 1222.7 1314.4 1221.7 1311.0 1220.9 1307.6 1220.3 1304.2 1219.7 1300.8 1219.4 1297.5 1219.1 1294.1 1219.0 1290.7 1219.0 1287.4 1219.2 1284.1 1219.4 1280.9 1219.7 1277.7 1220.4 1274.5 1221.1 1271.3 1221.9 1268.3 1222.7 1265.3 1223.6 1262.3 1224.5 1259.5 1225.5 1256.6 1226.5 1253.9 1227.6 1251.1 1228.7 1248.5 1229.8 1245.8 1230.9 1243.2 1232.1 1240.7 1233.8 1238.4 1235.5 1236.1 1237.3 1233.9 1239.0 1231.7 1240.7 1229.6 1242.5 1227.6 1244.2 1225.6 1246.0 1223.6 1247.7 1221.6 1249.5 1219.7 1251.3 1217.9 1253.1 1216.0 1254.9 1214.2 1256.8 1212.4 1258.6 1210.7 1260.5 1208.9 1262.4 1207.2 1264.3 1205.5 1266.3 1203.8 1268.3 1202.1 1270.3 1200.4 1272.4 1198.8 1274.5 1197.1 1276.7 1195.4 1278.9 1193.8 1281.1 1192.1 1283.5 1190.4 1285.8 1188.8 1288.3 1187.1 1290.8 1185.4 1293.4 1183.6 1296.1 1181.9 1298.8 1180.1 1301.7 1178.3 1304.7 1176.3 1307.8 1174.3 1311.0 1172.2 1314.4 1170.0 1318.0 1167.7 1321.8 1165.2 1325.9 1162.6 1330.2 1159.7 1334.9 1156.6 1339.9 1153.2 1345.4 1149.4 1351.6 1145.0 1356.2 1145.4 1360.7 1146.4 1364.9 1148.1 1369.1 1149.9 1373.3 1151.9 1377.2 1154.2 1380.1 1158.0 1382.9 1161.9 1385.2 1166.2 1387.4 1170.4 1389.6 1174.4 1391.7 1178.4 1393.6 1182.4 1395.5 1186.3 1397.2 1190.3 1398.2 1194.6 1399.0 1199.0 1399.6 1203.3 1400.2 1207.5 1400.8 1211.6 1401.2 1215.6 1401.4 1219.6 1401.5 1223.5 1401.5 1227.4 1401.4 1231.2 1401.2 1234.9 1400.8 1238.6 1400.4 1242.2 1399.8 1245.7 1399.0 1249.2 1398.1 1252.6 1397.2 1255.9 1396.1 1259.1 1395.1 1262.2ZM1392.6 1262.4 1391.5 1265.3 1390.5 1268.1 1389.4 1270.9 1388.3 1273.6 1387.1 1276.2 1385.9 1278.8 1384.7 1281.3 1383.4 1283.8 1382.1 1286.2 1380.8 1288.6 1379.5 1290.9 1378.1 1293.2 1376.8 1295.5 1375.4 1297.7 1374.0 1300.0 1372.5 1302.2 1371.1 1304.3 1368.8 1305.9 1366.5 1307.4 1364.2 1308.8 1362.0 1310.2 1359.8 1311.5 1357.6 1312.9 1355.5 1314.2 1353.4 1315.4 1351.3 1316.7 1349.2 1317.9 1347.1 1319.1 1345.1 1320.3 1343.0 1321.4 1340.9 1322.6 1338.8 1323.7 1336.7 1324.8 1334.5 1325.8 1332.4 1326.9 1330.2 1327.9 1328.0 1328.9 1325.7 1329.8 1323.4 1330.8 1321.1 1331.7 1318.8 1332.6 1316.4 1333.4 1313.9 1334.2 1311.4 1335.0 1308.9 1335.8 1306.3 1336.5 1303.7 1337.1 1301.0 1337.7 1298.2 1338.2 1295.4 1338.7 1292.6 1339.1 1289.7 1339.4 1286.7 1339.7 1283.7 1339.8 1280.7 1339.9 1277.6 1339.8 1274.5 1339.7 1271.4 1339.4 1268.2 1339.0 1265.0 1338.4 1261.8 1337.7 1258.7 1336.9 1255.5 1335.8 1252.4 1334.7 1249.4 1333.4 1246.4 1331.9 1243.4 1330.2 1240.5 1328.4 1237.8 1326.5 1235.1 1324.4 1232.5 1322.1 1229.9 1319.8 1227.8 1317.1 1226.4 1313.9 1225.3 1310.7 1224.3 1307.4 1223.4 1304.1 1222.8 1300.7 1222.3 1297.4 1222.0 1294.0 1221.8 1290.7 1221.8 1287.4 1221.8 1284.1 1222.0 1280.9 1222.4 1277.7 1222.8 1274.5 1223.5 1271.4 1224.2 1268.3 1225.0 1265.3 1225.9 1262.4 1226.9 1259.5 1227.9 1256.7 1228.9 1254.0 1230.0 1251.3 1231.1 1248.7 1232.3 1246.1 1233.5 1243.6 1234.7 1241.1 1235.9 1238.7 1237.5 1236.4 1239.2 1234.2 1240.8 1232.1 1242.5 1230.0 1244.1 1228.0 1245.8 1226.0 1247.5 1224.0 1249.2 1222.1 1250.9 1220.2 1252.6 1218.4 1254.3 1216.6 1256.1 1214.9 1257.9 1213.1 1259.7 1211.4 1261.5 1209.7 1263.3 1208.1 1265.2 1206.4 1267.1 1204.8 1269.0 1203.2 1270.9 1201.6 1272.9 1200.1 1274.9 1198.5 1277.0 1197.0 1279.1 1195.4 1281.2 1193.9 1283.4 1192.4 1285.7 1190.9 1288.0 1189.4 1290.3 1187.9 1292.7 1186.4 1295.2 1184.9 1297.8 1183.4 1300.4 1181.9 1303.2 1180.4 1306.0 1178.8 1308.9 1177.2 1311.9 1175.5 1315.1 1173.8 1318.4 1172.0 1321.9 1170.2 1325.5 1168.3 1329.3 1166.3 1333.4 1164.1 1337.7 1161.8 1342.4 1159.3 1347.5 1156.3 1351.6 1156.7 1355.7 1157.3 1359.5 1158.6 1363.4 1159.9 1367.2 1161.4 1370.9 1163.2 1373.9 1166.1 1376.7 1169.1 1379.3 1172.3 1381.8 1175.6 1384.1 1178.8 1386.4 1182.1 1388.6 1185.4 1390.6 1188.8 1392.5 1192.2 1393.9 1196.0 1395.0 1199.8 1396.0 1203.6 1396.9 1207.4 1397.7 1211.1 1398.3 1214.9 1398.8 1218.6 1399.1 1222.3 1399.2 1225.9 1399.2 1229.5 1399.1 1233.1 1398.8 1236.6 1398.5 1240.1 1398.0 1243.5 1397.3 1246.8 1396.5 1250.1 1395.6 1253.3 1394.7 1256.4 1393.7 1259.4ZM1391.4 1259.9 1390.3 1262.7 1389.3 1265.4 1388.2 1268.1 1387.0 1270.7 1385.8 1273.3 1384.5 1275.7 1383.3 1278.2 1381.9 1280.5 1380.6 1282.9 1379.2 1285.1 1377.9 1287.3 1376.4 1289.5 1375.0 1291.6 1373.6 1293.7 1372.1 1295.8 1370.6 1297.8 1369.1 1299.8 1367.1 1301.5 1365.1 1303.0 1363.1 1304.6 1361.2 1306.1 1359.2 1307.5 1357.3 1309.0 1355.3 1310.4 1353.4 1311.8 1351.5 1313.1 1349.5 1314.4 1347.5 1315.7 1345.6 1317.0 1343.6 1318.2 1341.6 1319.5 1339.5 1320.7 1337.5 1321.8 1335.4 1323.0 1333.3 1324.1 1331.1 1325.2 1328.9 1326.3 1326.7 1327.3 1324.4 1328.4 1322.1 1329.4 1319.8 1330.3 1317.4 1331.2 1314.9 1332.1 1312.4 1333.0 1309.9 1333.8 1307.3 1334.5 1304.6 1335.2 1301.9 1335.9 1299.1 1336.4 1296.3 1336.9 1293.4 1337.4 1290.5 1337.7 1287.5 1338.0 1284.4 1338.2 1281.4 1338.2 1278.2 1338.2 1275.1 1338.0 1271.9 1337.7 1268.8 1337.2 1265.6 1336.6 1262.4 1335.9 1259.2 1335.0 1256.1 1333.9 1253.1 1332.6 1250.1 1331.2 1247.2 1329.5 1244.3 1327.8 1241.6 1325.8 1239.0 1323.7 1236.5 1321.4 1234.2 1319.0 1232.0 1316.5 1230.1 1313.7 1228.7 1310.6 1227.5 1307.4 1226.5 1304.2 1225.7 1301.0 1225.0 1297.7 1224.6 1294.3 1224.3 1291.0 1224.1 1287.7 1224.2 1284.5 1224.3 1281.2 1224.6 1278.0 1225.0 1274.9 1225.5 1271.7 1226.2 1268.7 1227.0 1265.7 1227.8 1262.7 1228.7 1259.9 1229.7 1257.1 1230.8 1254.3 1231.9 1251.7 1233.0 1249.1 1234.2 1246.5 1235.4 1244.1 1236.7 1241.6 1238.0 1239.3 1239.3 1236.9 1240.8 1234.7 1242.4 1232.6 1243.9 1230.5 1245.5 1228.5 1247.1 1226.5 1248.7 1224.6 1250.3 1222.7 1252.0 1220.8 1253.6 1219.0 1255.3 1217.2 1257.0 1215.5 1258.7 1213.8 1260.4 1212.1 1262.2 1210.5 1264.0 1208.9 1265.8 1207.3 1267.6 1205.7 1269.4 1204.2 1271.3 1202.7 1273.2 1201.2 1275.2 1199.7 1277.1 1198.3 1279.1 1196.9 1281.2 1195.5 1283.3 1194.1 1285.4 1192.7 1287.6 1191.3 1289.8 1190.0 1292.1 1188.6 1294.5 1187.3 1296.9 1186.0 1299.3 1184.7 1301.8 1183.5 1304.4 1182.2 1307.1 1180.9 1309.9 1179.7 1312.7 1178.4 1315.7 1177.1 1318.7 1175.9 1321.9 1174.6 1325.1 1173.3 1328.6 1172.0 1332.1 1170.7 1335.8 1169.3 1339.8 1167.9 1343.9 1166.3 1347.6 1166.5 1351.3 1166.9 1354.8 1167.8 1358.4 1168.7 1361.9 1169.8 1365.3 1171.2 1368.4 1173.2 1371.3 1175.3 1374.1 1177.7 1376.8 1180.1 1379.4 1182.7 1381.9 1185.3 1384.2 1188.1 1386.4 1191.0 1388.4 1194.0 1390.1 1197.2 1391.6 1200.5 1392.9 1203.9 1394.0 1207.3 1395.0 1210.7 1395.8 1214.2 1396.4 1217.7 1396.9 1221.1 1397.2 1224.6 1397.3 1228.1 1397.3 1231.5 1397.1 1234.9 1396.8 1238.2 1396.4 1241.5 1395.8 1244.7 1395.0 1247.9 1394.3 1251.0 1393.4 1254.0 1392.4 1257.0ZM1390.5 1258.1 1389.5 1260.8 1388.4 1263.5 1387.3 1266.1 1386.1 1268.7 1384.8 1271.2 1383.6 1273.6 1382.2 1275.9 1380.9 1278.2 1379.5 1280.5 1378.1 1282.7 1376.7 1284.8 1375.2 1286.9 1373.8 1288.9 1372.3 1290.9 1370.8 1292.8 1369.2 1294.7 1367.7 1296.6 1365.9 1298.3 1364.2 1299.9 1362.4 1301.6 1360.6 1303.1 1358.8 1304.7 1357.0 1306.2 1355.2 1307.7 1353.4 1309.1 1351.6 1310.6 1349.7 1312.0 1347.8 1313.3 1345.9 1314.7 1344.0 1316.0 1342.1 1317.3 1340.1 1318.5 1338.0 1319.8 1336.0 1321.0 1333.9 1322.2 1331.8 1323.3 1329.6 1324.5 1327.4 1325.6 1325.2 1326.6 1322.9 1327.7 1320.5 1328.7 1318.1 1329.7 1315.7 1330.6 1313.1 1331.5 1310.6 1332.3 1308.0 1333.1 1305.3 1333.9 1302.5 1334.5 1299.7 1335.2 1296.9 1335.7 1294.0 1336.2 1291.0 1336.5 1288.0 1336.8 1284.9 1337.0 1281.8 1337.0 1278.7 1337.0 1275.5 1336.8 1272.3 1336.5 1269.2 1336.0 1266.0 1335.4 1262.8 1334.6 1259.6 1333.6 1256.6 1332.4 1253.5 1331.1 1250.6 1329.6 1247.7 1327.9 1245.0 1326.0 1242.4 1323.9 1239.9 1321.7 1237.6 1319.3 1235.4 1316.8 1233.5 1314.1 1231.7 1311.3 1230.3 1308.2 1229.1 1305.1 1228.1 1301.9 1227.3 1298.7 1226.6 1295.5 1226.2 1292.2 1225.9 1288.9 1225.8 1285.6 1225.9 1282.4 1226.1 1279.2 1226.4 1276.0 1226.8 1272.8 1227.4 1269.8 1228.1 1266.7 1228.9 1263.8 1229.8 1260.9 1230.8 1258.1 1231.8 1255.3 1232.9 1252.6 1234.0 1250.0 1235.2 1247.5 1236.4 1245.0 1237.7 1242.6 1239.0 1240.2 1240.3 1237.9 1241.7 1235.7 1243.2 1233.5 1244.6 1231.4 1246.2 1229.4 1247.7 1227.4 1249.2 1225.5 1250.8 1223.6 1252.4 1221.7 1254.0 1219.9 1255.6 1218.1 1257.2 1216.4 1258.9 1214.7 1260.6 1213.1 1262.3 1211.4 1264.0 1209.9 1265.8 1208.3 1267.5 1206.8 1269.3 1205.3 1271.1 1203.8 1273.0 1202.3 1274.9 1200.9 1276.8 1199.5 1278.7 1198.1 1280.7 1196.8 1282.7 1195.5 1284.8 1194.2 1286.8 1192.9 1289.0 1191.6 1291.2 1190.4 1293.4 1189.2 1295.7 1188.0 1298.0 1186.8 1300.4 1185.7 1302.9 1184.6 1305.4 1183.5 1307.9 1182.5 1310.6 1181.4 1313.3 1180.5 1316.1 1179.5 1318.9 1178.6 1321.9 1177.7 1324.9 1176.9 1328.0 1176.1 1331.2 1175.4 1334.5 1174.7 1337.9 1174.0 1341.4 1173.4 1344.7 1173.5 1348.1 1173.8 1351.4 1174.3 1354.8 1175.0 1358.1 1175.8 1361.4 1176.8 1364.5 1178.2 1367.5 1179.7 1370.4 1181.5 1373.2 1183.4 1376.0 1185.4 1378.6 1187.7 1381.1 1190.0 1383.4 1192.5 1385.5 1195.2 1387.4 1198.0 1389.1 1201.0 1390.6 1204.1 1392.0 1207.2 1393.1 1210.4 1394.0 1213.7 1394.8 1217.0 1395.3 1220.3 1395.7 1223.7 1395.9 1227.0 1396.0 1230.3 1395.9 1233.6 1395.6 1236.9 1395.2 1240.1 1394.7 1243.3 1394.0 1246.4 1393.3 1249.4 1392.5 1252.4 1391.5 1255.3Z" stroke="#2424d6" stroke-width="1.7"/>
<path d="M1390.0 1257.0 1389.0 1259.7 1387.9 1262.4 1386.7 1265.0 1385.5 1267.5 1384.3 1269.9 1383.0 1272.3 1381.6 1274.6 1380.3 1276.9 1378.9 1279.0 1377.4 1281.2 1376.0 1283.3 1374.5 1285.3 1373.0 1287.2 1371.5 1289.2 1370.0 1291.0 1368.4 1292.9 1366.8 1294.6 1365.2 1296.4 1363.6 1298.1 1361.9 1299.8 1360.3 1301.4 1358.6 1303.0 1356.9 1304.5 1355.2 1306.1 1353.4 1307.6 1351.6 1309.0 1349.8 1310.5 1348.0 1311.9 1346.2 1313.3 1344.3 1314.6 1342.3 1315.9 1340.4 1317.3 1338.4 1318.5 1336.4 1319.8 1334.3 1321.0 1332.2 1322.2 1330.0 1323.4 1327.8 1324.5 1325.6 1325.6 1323.3 1326.7 1320.9 1327.7 1318.5 1328.7 1316.1 1329.7 1313.6 1330.6 1311.0 1331.5 1308.4 1332.3 1305.7 1333.1 1302.9 1333.8 1300.1 1334.4 1297.3 1334.9 1294.3 1335.4 1291.4 1335.8 1288.3 1336.1 1285.2 1336.3 1282.1 1336.3 1279.0 1336.3 1275.8 1336.1 1272.6 1335.7 1269.4 1335.3 1266.2 1334.6 1263.0 1333.8 1259.9 1332.8 1256.8 1331.6 1253.8 1330.2 1250.9 1328.6 1248.1 1326.9 1245.4 1325.0 1242.8 1322.8 1240.4 1320.5 1238.2 1318.1 1236.2 1315.4 1234.4 1312.7 1232.7 1309.8 1231.3 1306.8 1230.1 1303.7 1229.0 1300.6 1228.2 1297.4 1227.6 1294.1 1227.2 1290.9 1226.9 1287.6 1226.8 1284.4 1226.9 1281.1 1227.1 1277.9 1227.5 1274.8 1228.0 1271.6 1228.6 1268.6 1229.3 1265.6 1230.1 1262.7 1231.0 1259.8 1232.0 1257.0 1233.0 1254.3 1234.1 1251.6 1235.3 1249.0 1236.5 1246.5 1237.7 1244.1 1239.0 1241.7 1240.4 1239.4 1241.7 1237.1 1243.1 1235.0 1244.6 1232.8 1246.0 1230.7 1247.5 1228.7 1249.0 1226.8 1250.5 1224.8 1252.0 1223.0 1253.6 1221.1 1255.2 1219.4 1256.8 1217.6 1258.4 1215.9 1260.1 1214.2 1261.7 1212.6 1263.4 1211.0 1265.1 1209.5 1266.8 1207.9 1268.6 1206.4 1270.4 1205.0 1272.2 1203.5 1274.0 1202.1 1275.8 1200.7 1277.7 1199.4 1279.7 1198.1 1281.6 1196.7 1283.6 1195.5 1285.6 1194.2 1287.7 1193.0 1289.8 1191.8 1292.0 1190.6 1294.2 1189.5 1296.4 1188.4 1298.7 1187.3 1301.1 1186.3 1303.5 1185.3 1305.9 1184.3 1308.4 1183.4 1311.0 1182.5 1313.6 1181.7 1316.3 1180.9 1319.1 1180.2 1321.9 1179.6 1324.7 1179.1 1327.7 1178.6 1330.6 1178.2 1333.7 1177.9 1336.8 1177.7 1339.9 1177.7 1343.0 1177.7 1346.2 1177.9 1349.4 1178.3 1352.6 1178.7 1355.8 1179.4 1359.0 1180.2 1362.1 1181.2 1365.2 1182.4 1368.2 1183.8 1371.1 1185.4 1373.9 1187.1 1376.6 1189.0 1379.2 1191.2 1381.6 1193.5 1383.8 1195.9 1385.8 1198.6 1387.6 1201.3 1389.3 1204.2 1390.7 1207.2 1391.9 1210.3 1393.0 1213.4 1393.8 1216.6 1394.4 1219.9 1394.8 1223.1 1395.1 1226.4 1395.2 1229.6 1395.1 1232.9 1394.9 1236.1 1394.5 1239.2 1394.0 1242.4 1393.4 1245.4 1392.7 1248.4 1391.9 1251.3 1391.0 1254.2Z" stroke="#3c5aff" stroke-width="2.2"/>
<path d="M1386.2 1258.5 1385.2 1261.1 1384.2 1263.6 1383.0 1266.1 1381.9 1268.5 1380.7 1270.9 1379.4 1273.1 1378.2 1275.4 1376.8 1277.5 1375.5 1279.6 1374.1 1281.7 1372.7 1283.7 1371.3 1285.6 1369.9 1287.5 1368.4 1289.3 1367.0 1291.1 1365.5 1292.9 1363.9 1294.6 1362.4 1296.2 1360.9 1297.9 1359.3 1299.5 1357.7 1301.0 1356.1 1302.6 1354.4 1304.1 1352.8 1305.5 1351.1 1307.0 1349.4 1308.4 1347.7 1309.8 1345.9 1311.1 1344.1 1312.4 1342.3 1313.7 1340.5 1315.0 1338.6 1316.3 1336.7 1317.5 1334.8 1318.7 1332.8 1319.9 1330.7 1321.0 1328.7 1322.1 1326.6 1323.2 1324.4 1324.3 1322.2 1325.3 1320.0 1326.3 1317.7 1327.3 1315.3 1328.2 1312.9 1329.1 1310.4 1329.9 1307.9 1330.7 1305.3 1331.4 1302.7 1332.1 1300.0 1332.7 1297.2 1333.2 1294.4 1333.7 1291.6 1334.0 1288.7 1334.3 1285.7 1334.5 1282.7 1334.6 1279.7 1334.5 1276.7 1334.3 1273.6 1334.0 1270.5 1333.5 1267.5 1332.9 1264.4 1332.1 1261.4 1331.1 1258.5 1330.0 1255.6 1328.7 1252.8 1327.2 1250.1 1325.5 1247.5 1323.6 1245.1 1321.6 1242.8 1319.4 1240.6 1317.0 1238.7 1314.5 1236.9 1311.9 1235.4 1309.1 1234.0 1306.2 1232.8 1303.3 1231.8 1300.3 1231.0 1297.2 1230.4 1294.1 1230.0 1291.0 1229.8 1287.8 1229.7 1284.7 1229.8 1281.6 1230.0 1278.5 1230.3 1275.5 1230.8 1272.5 1231.4 1269.6 1232.1 1266.7 1232.8 1263.9 1233.7 1261.2 1234.6 1258.5 1235.6 1255.9 1236.7 1253.3 1237.8 1250.8 1239.0 1248.4 1240.2 1246.1 1241.4 1243.8 1242.7 1241.6 1244.0 1239.4 1245.3 1237.3 1246.7 1235.3 1248.1 1233.3 1249.5 1231.4 1251.0 1229.5 1252.4 1227.6 1253.9 1225.8 1255.4 1224.1 1256.9 1222.4 1258.4 1220.7 1260.0 1219.1 1261.6 1217.5 1263.2 1215.9 1264.8 1214.4 1266.4 1212.9 1268.1 1211.4 1269.7 1210.0 1271.4 1208.6 1273.2 1207.2 1274.9 1205.8 1276.7 1204.5 1278.5 1203.2 1280.4 1201.9 1282.2 1200.7 1284.2 1199.5 1286.1 1198.3 1288.1 1197.1 1290.1 1195.9 1292.2 1194.8 1294.3 1193.7 1296.4 1192.7 1298.6 1191.6 1300.9 1190.6 1303.2 1189.7 1305.6 1188.8 1308.0 1187.9 1310.4 1187.1 1312.9 1186.3 1315.5 1185.5 1318.2 1184.9 1320.9 1184.3 1323.6 1183.7 1326.4 1183.3 1329.3 1182.9 1332.2 1182.6 1335.1 1182.5 1338.1 1182.4 1341.1 1182.5 1344.2 1182.6 1347.3 1183.0 1350.3 1183.4 1353.4 1184.1 1356.4 1184.8 1359.4 1185.8 1362.4 1186.9 1365.3 1188.3 1368.1 1189.8 1370.8 1191.4 1373.4 1193.3 1375.8 1195.3 1378.1 1197.5 1380.2 1199.9 1382.2 1202.4 1383.9 1205.1 1385.5 1207.8 1386.9 1210.7 1388.1 1213.7 1389.0 1216.7 1389.8 1219.8 1390.4 1222.9 1390.8 1226.0 1391.1 1229.1 1391.2 1232.2 1391.1 1235.3 1390.9 1238.4 1390.5 1241.5 1390.1 1244.4 1389.5 1247.4 1388.8 1250.2 1388.0 1253.1 1387.2 1255.8Z" stroke="#3279ff" stroke-width="2.2"/>
<path d="M1382.4 1260.0 1381.4 1262.5 1380.4 1264.9 1379.4 1267.3 1378.3 1269.6 1377.1 1271.8 1375.9 1274.0 1374.7 1276.1 1373.4 1278.2 1372.1 1280.2 1370.8 1282.1 1369.5 1284.1 1368.2 1285.9 1366.8 1287.7 1365.4 1289.5 1364.0 1291.2 1362.5 1292.9 1361.1 1294.5 1359.6 1296.1 1358.1 1297.7 1356.6 1299.2 1355.1 1300.7 1353.6 1302.2 1352.0 1303.6 1350.4 1305.0 1348.8 1306.4 1347.2 1307.7 1345.5 1309.0 1343.8 1310.3 1342.1 1311.6 1340.4 1312.8 1338.6 1314.1 1336.8 1315.3 1335.0 1316.4 1333.1 1317.6 1331.2 1318.7 1329.3 1319.8 1327.3 1320.9 1325.3 1321.9 1323.2 1322.9 1321.1 1323.9 1319.0 1324.9 1316.8 1325.8 1314.5 1326.7 1312.2 1327.5 1309.9 1328.3 1307.4 1329.1 1305.0 1329.8 1302.4 1330.4 1299.9 1331.0 1297.2 1331.5 1294.6 1331.9 1291.8 1332.3 1289.0 1332.6 1286.2 1332.7 1283.3 1332.8 1280.4 1332.7 1277.5 1332.5 1274.6 1332.2 1271.7 1331.8 1268.7 1331.2 1265.8 1330.4 1262.9 1329.5 1260.1 1328.4 1257.3 1327.2 1254.7 1325.7 1252.1 1324.1 1249.6 1322.3 1247.3 1320.4 1245.1 1318.3 1243.0 1316.0 1241.2 1313.6 1239.5 1311.1 1238.0 1308.4 1236.7 1305.7 1235.5 1302.9 1234.6 1300.0 1233.8 1297.0 1233.3 1294.0 1232.9 1291.1 1232.6 1288.1 1232.6 1285.1 1232.6 1282.1 1232.8 1279.2 1233.2 1276.2 1233.6 1273.4 1234.2 1270.6 1234.8 1267.8 1235.6 1265.1 1236.4 1262.5 1237.3 1260.0 1238.3 1257.5 1239.3 1255.0 1240.3 1252.6 1241.4 1250.3 1242.6 1248.1 1243.8 1245.9 1245.0 1243.8 1246.3 1241.7 1247.6 1239.7 1248.9 1237.8 1250.2 1235.8 1251.6 1234.0 1252.9 1232.2 1254.3 1230.4 1255.7 1228.7 1257.2 1227.0 1258.6 1225.4 1260.1 1223.8 1261.6 1222.2 1263.1 1220.7 1264.6 1219.2 1266.1 1217.7 1267.7 1216.3 1269.3 1214.9 1270.9 1213.5 1272.5 1212.2 1274.2 1210.9 1275.9 1209.6 1277.6 1208.3 1279.3 1207.1 1281.1 1205.8 1282.9 1204.6 1284.7 1203.5 1286.6 1202.3 1288.5 1201.2 1290.4 1200.1 1292.4 1199.0 1294.4 1198.0 1296.5 1197.0 1298.6 1196.0 1300.7 1195.0 1302.9 1194.1 1305.2 1193.2 1307.5 1192.4 1309.9 1191.6 1312.3 1190.8 1314.7 1190.1 1317.3 1189.5 1319.8 1188.9 1322.5 1188.4 1325.2 1188.0 1327.9 1187.6 1330.7 1187.3 1333.5 1187.2 1336.4 1187.1 1339.3 1187.2 1342.2 1187.4 1345.1 1187.7 1348.0 1188.1 1351.0 1188.7 1353.9 1189.5 1356.8 1190.4 1359.6 1191.5 1362.4 1192.7 1365.0 1194.2 1367.6 1195.8 1370.1 1197.6 1372.4 1199.5 1374.6 1201.6 1376.7 1203.9 1378.5 1206.3 1380.2 1208.8 1381.7 1211.5 1383.0 1214.2 1384.2 1217.0 1385.1 1219.9 1385.9 1222.9 1386.4 1225.9 1386.8 1228.9 1387.1 1231.9 1387.1 1234.8 1387.1 1237.8 1386.9 1240.8 1386.5 1243.7 1386.1 1246.5 1385.5 1249.3 1384.9 1252.1 1384.1 1254.8 1383.3 1257.4Z" stroke="#2798ff" stroke-width="2.2"/>
<path d="M1378.6 1261.4 1377.7 1263.8 1376.7 1266.1 1375.7 1268.4 1374.6 1270.6 1373.5 1272.8 1372.4 1274.8 1371.2 1276.9 1370.0 1278.8 1368.8 1280.8 1367.5 1282.6 1366.3 1284.5 1365.0 1286.2 1363.7 1288.0 1362.3 1289.6 1361.0 1291.3 1359.6 1292.9 1358.2 1294.4 1356.8 1296.0 1355.4 1297.5 1354.0 1298.9 1352.5 1300.3 1351.0 1301.7 1349.5 1303.1 1348.0 1304.5 1346.5 1305.8 1344.9 1307.1 1343.3 1308.3 1341.7 1309.6 1340.1 1310.8 1338.5 1312.0 1336.8 1313.1 1335.1 1314.3 1333.3 1315.4 1331.5 1316.5 1329.7 1317.6 1327.9 1318.6 1326.0 1319.6 1324.0 1320.6 1322.1 1321.6 1320.1 1322.5 1318.0 1323.5 1315.9 1324.3 1313.7 1325.2 1311.5 1326.0 1309.3 1326.7 1307.0 1327.5 1304.6 1328.1 1302.2 1328.7 1299.7 1329.3 1297.2 1329.8 1294.7 1330.2 1292.0 1330.5 1289.4 1330.8 1286.7 1330.9 1284.0 1331.0 1281.2 1331.0 1278.4 1330.8 1275.6 1330.5 1272.8 1330.1 1270.0 1329.5 1267.2 1328.8 1264.5 1327.9 1261.8 1326.8 1259.1 1325.6 1256.6 1324.3 1254.1 1322.7 1251.7 1321.0 1249.5 1319.2 1247.4 1317.1 1245.5 1315.0 1243.7 1312.7 1242.1 1310.3 1240.6 1307.7 1239.4 1305.1 1238.3 1302.4 1237.4 1299.7 1236.7 1296.8 1236.1 1294.0 1235.7 1291.1 1235.5 1288.3 1235.4 1285.4 1235.5 1282.6 1235.7 1279.8 1236.0 1277.0 1236.5 1274.3 1237.0 1271.6 1237.6 1269.0 1238.3 1266.4 1239.1 1263.9 1240.0 1261.4 1240.9 1259.0 1241.8 1256.7 1242.9 1254.4 1243.9 1252.2 1245.0 1250.1 1246.2 1248.0 1247.3 1246.0 1248.5 1244.0 1249.8 1242.1 1251.0 1240.2 1252.3 1238.4 1253.6 1236.6 1254.9 1234.9 1256.2 1233.2 1257.6 1231.6 1258.9 1230.0 1260.3 1228.4 1261.7 1226.9 1263.2 1225.4 1264.6 1223.9 1266.1 1222.5 1267.5 1221.1 1269.0 1219.7 1270.5 1218.4 1272.1 1217.1 1273.6 1215.8 1275.2 1214.5 1276.8 1213.3 1278.4 1212.1 1280.1 1210.9 1281.8 1209.7 1283.5 1208.6 1285.3 1207.5 1287.0 1206.4 1288.8 1205.3 1290.7 1204.2 1292.6 1203.2 1294.5 1202.2 1296.5 1201.2 1298.5 1200.3 1300.6 1199.4 1302.7 1198.5 1304.8 1197.7 1307.0 1196.9 1309.3 1196.1 1311.6 1195.4 1313.9 1194.7 1316.4 1194.1 1318.8 1193.6 1321.3 1193.1 1323.9 1192.7 1326.5 1192.3 1329.2 1192.1 1331.9 1191.9 1334.6 1191.9 1337.4 1191.9 1340.2 1192.1 1343.0 1192.4 1345.8 1192.8 1348.6 1193.4 1351.4 1194.1 1354.1 1195.0 1356.8 1196.0 1359.4 1197.2 1362.0 1198.6 1364.5 1200.1 1366.8 1201.8 1369.1 1203.7 1371.2 1205.7 1373.1 1207.9 1374.9 1210.2 1376.5 1212.6 1377.9 1215.1 1379.2 1217.7 1380.3 1220.4 1381.2 1223.2 1381.9 1226.0 1382.4 1228.9 1382.8 1231.7 1383.0 1234.6 1383.1 1237.4 1383.0 1240.3 1382.8 1243.1 1382.5 1245.9 1382.1 1248.6 1381.6 1251.3 1380.9 1253.9 1380.2 1256.5 1379.4 1259.0Z" stroke="#0fbbff" stroke-width="2.2"/>
<path d="M1374.8 1262.9 1373.9 1265.2 1373.0 1267.4 1372.0 1269.6 1371.0 1271.7 1369.9 1273.7 1368.9 1275.7 1367.7 1277.6 1366.6 1279.5 1365.4 1281.3 1364.2 1283.1 1363.0 1284.9 1361.8 1286.5 1360.5 1288.2 1359.3 1289.8 1358.0 1291.4 1356.7 1292.9 1355.4 1294.4 1354.0 1295.8 1352.7 1297.3 1351.3 1298.6 1349.9 1300.0 1348.5 1301.3 1347.1 1302.6 1345.6 1303.9 1344.2 1305.2 1342.7 1306.4 1341.2 1307.6 1339.7 1308.8 1338.1 1309.9 1336.5 1311.1 1334.9 1312.2 1333.3 1313.3 1331.6 1314.3 1329.9 1315.4 1328.2 1316.4 1326.4 1317.4 1324.6 1318.4 1322.8 1319.3 1320.9 1320.3 1319.0 1321.2 1317.0 1322.0 1315.0 1322.9 1313.0 1323.7 1310.9 1324.4 1308.7 1325.2 1306.5 1325.9 1304.3 1326.5 1302.0 1327.1 1299.6 1327.6 1297.2 1328.1 1294.8 1328.5 1292.3 1328.8 1289.7 1329.0 1287.2 1329.2 1284.6 1329.2 1281.9 1329.2 1279.3 1329.0 1276.6 1328.7 1273.9 1328.3 1271.2 1327.8 1268.6 1327.1 1266.0 1326.3 1263.4 1325.3 1260.9 1324.1 1258.4 1322.8 1256.1 1321.3 1253.8 1319.7 1251.7 1317.9 1249.7 1316.0 1247.9 1314.0 1246.2 1311.8 1244.6 1309.5 1243.3 1307.0 1242.1 1304.5 1241.0 1302.0 1240.2 1299.3 1239.5 1296.7 1239.0 1294.0 1238.6 1291.2 1238.4 1288.5 1238.3 1285.8 1238.4 1283.1 1238.6 1280.4 1238.9 1277.7 1239.3 1275.1 1239.8 1272.6 1240.4 1270.1 1241.1 1267.6 1241.8 1265.2 1242.6 1262.9 1243.5 1260.6 1244.4 1258.4 1245.4 1256.2 1246.4 1254.1 1247.5 1252.1 1248.5 1250.1 1249.7 1248.2 1250.8 1246.3 1252.0 1244.5 1253.2 1242.7 1254.4 1241.0 1255.6 1239.3 1256.9 1237.6 1258.1 1236.0 1259.4 1234.4 1260.7 1232.9 1262.0 1231.4 1263.4 1230.0 1264.7 1228.6 1266.1 1227.2 1267.5 1225.8 1268.9 1224.5 1270.3 1223.2 1271.8 1221.9 1273.2 1220.6 1274.7 1219.4 1276.2 1218.2 1277.8 1217.0 1279.3 1215.9 1280.9 1214.7 1282.5 1213.6 1284.1 1212.5 1285.8 1211.5 1287.5 1210.4 1289.2 1209.4 1291.0 1208.4 1292.8 1207.4 1294.6 1206.5 1296.5 1205.5 1298.4 1204.6 1300.4 1203.8 1302.4 1202.9 1304.5 1202.1 1306.6 1201.4 1308.7 1200.6 1310.9 1200.0 1313.2 1199.3 1315.4 1198.7 1317.8 1198.2 1320.2 1197.7 1322.6 1197.3 1325.1 1197.0 1327.7 1196.8 1330.2 1196.6 1332.8 1196.6 1335.5 1196.6 1338.1 1196.8 1340.8 1197.1 1343.5 1197.5 1346.2 1198.0 1348.8 1198.7 1351.4 1199.6 1354.0 1200.5 1356.5 1201.7 1359.0 1203.0 1361.3 1204.5 1363.6 1206.1 1365.7 1207.9 1367.7 1209.8 1369.5 1211.9 1371.2 1214.0 1372.8 1216.3 1374.2 1218.8 1375.4 1221.3 1376.4 1223.8 1377.2 1226.5 1377.9 1229.1 1378.4 1231.9 1378.8 1234.6 1379.0 1237.3 1379.1 1240.0 1379.0 1242.7 1378.8 1245.4 1378.5 1248.1 1378.1 1250.7 1377.6 1253.2 1377.0 1255.7 1376.3 1258.2 1375.6 1260.6Z" stroke="#00d7f8" stroke-width="2.2"/>
<path d="M1371.0 1264.4 1370.1 1266.5 1369.3 1268.7 1368.3 1270.7 1367.4 1272.7 1366.4 1274.6 1365.3 1276.5 1364.3 1278.4 1363.2 1280.2 1362.1 1281.9 1360.9 1283.6 1359.8 1285.3 1358.6 1286.9 1357.4 1288.4 1356.2 1289.9 1355.0 1291.4 1353.8 1292.9 1352.5 1294.3 1351.2 1295.7 1349.9 1297.0 1348.6 1298.4 1347.3 1299.7 1346.0 1300.9 1344.6 1302.2 1343.3 1303.4 1341.9 1304.6 1340.4 1305.7 1339.0 1306.9 1337.6 1308.0 1336.1 1309.1 1334.6 1310.2 1333.0 1311.2 1331.5 1312.3 1329.9 1313.3 1328.3 1314.3 1326.7 1315.3 1325.0 1316.2 1323.3 1317.1 1321.5 1318.1 1319.7 1318.9 1317.9 1319.8 1316.0 1320.6 1314.1 1321.4 1312.2 1322.2 1310.2 1322.9 1308.1 1323.6 1306.0 1324.2 1303.9 1324.8 1301.7 1325.4 1299.5 1325.9 1297.2 1326.3 1294.9 1326.7 1292.5 1327.0 1290.1 1327.3 1287.7 1327.4 1285.2 1327.5 1282.7 1327.4 1280.1 1327.3 1277.6 1327.0 1275.1 1326.6 1272.5 1326.1 1270.0 1325.4 1267.5 1324.6 1265.0 1323.7 1262.7 1322.6 1260.3 1321.3 1258.1 1319.9 1256.0 1318.4 1253.9 1316.7 1252.0 1314.9 1250.3 1312.9 1248.7 1310.8 1247.2 1308.7 1245.9 1306.4 1244.8 1304.0 1243.8 1301.5 1243.0 1299.0 1242.3 1296.5 1241.8 1293.9 1241.5 1291.3 1241.3 1288.7 1241.2 1286.1 1241.3 1283.6 1241.4 1281.0 1241.7 1278.5 1242.1 1276.0 1242.6 1273.6 1243.2 1271.2 1243.8 1268.9 1244.5 1266.6 1245.3 1264.4 1246.1 1262.2 1247.0 1260.1 1247.9 1258.1 1248.9 1256.1 1249.9 1254.1 1250.9 1252.2 1252.0 1250.4 1253.1 1248.6 1254.2 1246.8 1255.3 1245.2 1256.5 1243.5 1257.6 1241.9 1258.8 1240.3 1260.0 1238.8 1261.3 1237.3 1262.5 1235.9 1263.8 1234.5 1265.0 1233.1 1266.3 1231.7 1267.6 1230.4 1268.9 1229.1 1270.3 1227.8 1271.6 1226.6 1273.0 1225.4 1274.4 1224.2 1275.8 1223.0 1277.2 1221.9 1278.7 1220.7 1280.2 1219.6 1281.7 1218.6 1283.2 1217.5 1284.8 1216.5 1286.4 1215.5 1288.0 1214.5 1289.6 1213.5 1291.3 1212.5 1293.0 1211.6 1294.7 1210.7 1296.5 1209.8 1298.4 1209.0 1300.2 1208.1 1302.1 1207.4 1304.1 1206.6 1306.1 1205.9 1308.1 1205.2 1310.2 1204.5 1312.4 1203.9 1314.5 1203.4 1316.8 1202.9 1319.1 1202.4 1321.4 1202.0 1323.8 1201.7 1326.2 1201.5 1328.6 1201.4 1331.1 1201.3 1333.6 1201.4 1336.1 1201.5 1338.7 1201.8 1341.2 1202.2 1343.7 1202.7 1346.3 1203.3 1348.8 1204.1 1351.2 1205.1 1353.6 1206.2 1355.9 1207.4 1358.2 1208.8 1360.3 1210.4 1362.3 1212.0 1364.2 1213.9 1366.0 1215.8 1367.6 1217.9 1369.1 1220.1 1370.4 1222.4 1371.5 1224.8 1372.5 1227.2 1373.3 1229.7 1374.0 1232.3 1374.4 1234.9 1374.8 1237.4 1375.0 1240.0 1375.1 1242.6 1375.0 1245.2 1374.8 1247.8 1374.5 1250.3 1374.1 1252.7 1373.7 1255.2 1373.1 1257.6 1372.4 1259.9 1371.7 1262.2Z" stroke="#00e6e4" stroke-width="2.2"/>
<path d="M1367.2 1265.9 1366.4 1267.9 1365.5 1269.9 1364.7 1271.9 1363.7 1273.8 1362.8 1275.6 1361.8 1277.4 1360.8 1279.1 1359.8 1280.8 1358.7 1282.5 1357.7 1284.1 1356.6 1285.7 1355.4 1287.2 1354.3 1288.7 1353.2 1290.1 1352.0 1291.5 1350.8 1292.9 1349.6 1294.2 1348.4 1295.6 1347.2 1296.8 1346.0 1298.1 1344.7 1299.3 1343.5 1300.5 1342.2 1301.7 1340.9 1302.8 1339.5 1304.0 1338.2 1305.1 1336.8 1306.2 1335.5 1307.2 1334.1 1308.3 1332.6 1309.3 1331.2 1310.3 1329.7 1311.3 1328.2 1312.3 1326.7 1313.2 1325.1 1314.1 1323.5 1315.0 1321.9 1315.9 1320.2 1316.8 1318.6 1317.6 1316.8 1318.4 1315.1 1319.2 1313.2 1319.9 1311.4 1320.7 1309.5 1321.4 1307.6 1322.0 1305.6 1322.6 1303.5 1323.2 1301.5 1323.7 1299.4 1324.2 1297.2 1324.6 1295.0 1325.0 1292.7 1325.3 1290.5 1325.5 1288.1 1325.6 1285.8 1325.7 1283.4 1325.6 1281.0 1325.5 1278.6 1325.2 1276.2 1324.9 1273.8 1324.4 1271.4 1323.7 1269.0 1323.0 1266.7 1322.1 1264.4 1321.1 1262.2 1319.9 1260.1 1318.6 1258.1 1317.1 1256.2 1315.5 1254.4 1313.8 1252.7 1311.9 1251.1 1309.9 1249.8 1307.8 1248.5 1305.7 1247.4 1303.4 1246.5 1301.1 1245.7 1298.7 1245.1 1296.3 1244.7 1293.9 1244.3 1291.4 1244.1 1288.9 1244.1 1286.5 1244.1 1284.0 1244.3 1281.6 1244.6 1279.2 1245.0 1276.9 1245.4 1274.6 1245.9 1272.3 1246.6 1270.1 1247.2 1268.0 1248.0 1265.9 1248.7 1263.8 1249.6 1261.8 1250.5 1259.9 1251.4 1258.0 1252.3 1256.1 1253.3 1254.3 1254.3 1252.6 1255.3 1250.9 1256.4 1249.2 1257.5 1247.6 1258.6 1246.1 1259.7 1244.5 1260.8 1243.0 1261.9 1241.6 1263.1 1240.2 1264.3 1238.8 1265.5 1237.5 1266.7 1236.2 1267.9 1234.9 1269.1 1233.6 1270.4 1232.4 1271.7 1231.2 1272.9 1230.0 1274.2 1228.9 1275.6 1227.7 1276.9 1226.6 1278.3 1225.5 1279.6 1224.5 1281.0 1223.4 1282.5 1222.4 1283.9 1221.4 1285.4 1220.4 1286.9 1219.5 1288.4 1218.5 1290.0 1217.6 1291.6 1216.7 1293.2 1215.8 1294.9 1214.9 1296.6 1214.1 1298.3 1213.3 1300.1 1212.5 1301.9 1211.8 1303.7 1211.0 1305.6 1210.4 1307.6 1209.7 1309.5 1209.1 1311.6 1208.5 1313.6 1208.0 1315.8 1207.5 1317.9 1207.1 1320.1 1206.7 1322.4 1206.4 1324.7 1206.2 1327.0 1206.1 1329.3 1206.0 1331.7 1206.1 1334.1 1206.2 1336.5 1206.5 1338.9 1206.8 1341.3 1207.3 1343.7 1208.0 1346.1 1208.7 1348.4 1209.6 1350.7 1210.6 1352.9 1211.8 1355.0 1213.2 1357.0 1214.6 1359.0 1216.2 1360.8 1218.0 1362.4 1219.8 1364.0 1221.8 1365.4 1223.9 1366.6 1226.0 1367.7 1228.3 1368.6 1230.6 1369.4 1233.0 1370.0 1235.4 1370.5 1237.9 1370.8 1240.3 1371.0 1242.8 1371.0 1245.2 1371.0 1247.7 1370.8 1250.1 1370.5 1252.5 1370.2 1254.8 1369.7 1257.1 1369.2 1259.4 1368.6 1261.6 1367.9 1263.7Z" stroke="#00d99e" stroke-width="2.2"/>
<path d="M1363.3 1267.3 1362.6 1269.3 1361.8 1271.2 1361.0 1273.0 1360.1 1274.8 1359.2 1276.5 1358.3 1278.2 1357.3 1279.9 1356.4 1281.5 1355.4 1283.1 1354.4 1284.6 1353.3 1286.1 1352.3 1287.5 1351.2 1288.9 1350.1 1290.3 1349.0 1291.6 1347.9 1292.9 1346.8 1294.2 1345.6 1295.4 1344.5 1296.6 1343.3 1297.8 1342.1 1299.0 1340.9 1300.1 1339.7 1301.2 1338.5 1302.3 1337.2 1303.4 1336.0 1304.4 1334.7 1305.5 1333.4 1306.5 1332.1 1307.4 1330.7 1308.4 1329.3 1309.4 1327.9 1310.3 1326.5 1311.2 1325.1 1312.1 1323.6 1313.0 1322.1 1313.8 1320.6 1314.7 1319.0 1315.5 1317.4 1316.3 1315.7 1317.0 1314.1 1317.8 1312.4 1318.5 1310.6 1319.2 1308.8 1319.8 1307.0 1320.4 1305.1 1321.0 1303.2 1321.6 1301.2 1322.1 1299.2 1322.5 1297.2 1322.9 1295.1 1323.2 1293.0 1323.5 1290.8 1323.7 1288.6 1323.9 1286.4 1323.9 1284.1 1323.9 1281.9 1323.7 1279.6 1323.5 1277.3 1323.1 1275.0 1322.7 1272.8 1322.1 1270.5 1321.4 1268.3 1320.5 1266.2 1319.5 1264.1 1318.4 1262.1 1317.2 1260.2 1315.8 1258.4 1314.3 1256.7 1312.6 1255.1 1310.9 1253.6 1309.0 1252.3 1307.0 1251.2 1305.0 1250.1 1302.9 1249.3 1300.7 1248.5 1298.4 1247.9 1296.1 1247.5 1293.8 1247.2 1291.5 1247.0 1289.2 1247.0 1286.8 1247.0 1284.5 1247.2 1282.2 1247.4 1280.0 1247.8 1277.8 1248.2 1275.6 1248.7 1273.5 1249.3 1271.4 1249.9 1269.3 1250.6 1267.3 1251.4 1265.4 1252.2 1263.5 1253.0 1261.7 1253.9 1259.9 1254.7 1258.1 1255.7 1256.4 1256.6 1254.8 1257.6 1253.2 1258.6 1251.6 1259.6 1250.1 1260.6 1248.6 1261.7 1247.2 1262.8 1245.8 1263.9 1244.4 1264.9 1243.1 1266.1 1241.8 1267.2 1240.5 1268.3 1239.2 1269.5 1238.0 1270.7 1236.8 1271.8 1235.7 1273.0 1234.5 1274.3 1233.4 1275.5 1232.3 1276.7 1231.3 1278.0 1230.2 1279.3 1229.2 1280.6 1228.2 1281.9 1227.2 1283.3 1226.2 1284.6 1225.3 1286.0 1224.4 1287.4 1223.5 1288.9 1222.6 1290.4 1221.7 1291.9 1220.8 1293.4 1220.0 1295.0 1219.2 1296.6 1218.4 1298.2 1217.6 1299.9 1216.9 1301.6 1216.2 1303.4 1215.5 1305.1 1214.8 1307.0 1214.2 1308.9 1213.6 1310.8 1213.1 1312.7 1212.6 1314.7 1212.2 1316.8 1211.8 1318.9 1211.4 1321.0 1211.1 1323.2 1210.9 1325.3 1210.8 1327.6 1210.8 1329.8 1210.8 1332.1 1210.9 1334.4 1211.2 1336.7 1211.5 1338.9 1212.0 1341.2 1212.6 1343.4 1213.3 1345.6 1214.1 1347.8 1215.1 1349.9 1216.2 1351.9 1217.5 1353.8 1218.9 1355.6 1220.4 1357.3 1222.0 1358.9 1223.8 1360.3 1225.7 1361.6 1227.6 1362.8 1229.7 1363.8 1231.8 1364.7 1234.0 1365.4 1236.3 1366.0 1238.5 1366.5 1240.8 1366.8 1243.2 1367.0 1245.5 1367.0 1247.8 1367.0 1250.1 1366.8 1252.4 1366.5 1254.7 1366.2 1256.9 1365.8 1259.1 1365.2 1261.2 1364.7 1263.3 1364.0 1265.3Z" stroke="#00b33a" stroke-width="2.2"/>
<path d="M1359.5 1268.8 1358.8 1270.6 1358.1 1272.4 1357.3 1274.2 1356.5 1275.8 1355.6 1277.5 1354.8 1279.1 1353.9 1280.6 1353.0 1282.2 1352.0 1283.6 1351.1 1285.1 1350.1 1286.5 1349.1 1287.8 1348.1 1289.1 1347.1 1290.4 1346.0 1291.7 1345.0 1292.9 1343.9 1294.1 1342.8 1295.3 1341.8 1296.4 1340.6 1297.5 1339.5 1298.6 1338.4 1299.7 1337.3 1300.8 1336.1 1301.8 1334.9 1302.8 1333.7 1303.8 1332.5 1304.7 1331.3 1305.7 1330.0 1306.6 1328.8 1307.5 1327.5 1308.4 1326.2 1309.3 1324.8 1310.2 1323.5 1311.0 1322.1 1311.8 1320.6 1312.6 1319.2 1313.4 1317.7 1314.2 1316.2 1314.9 1314.7 1315.6 1313.1 1316.3 1311.5 1317.0 1309.8 1317.7 1308.1 1318.3 1306.4 1318.9 1304.6 1319.4 1302.8 1319.9 1301.0 1320.4 1299.1 1320.8 1297.2 1321.2 1295.2 1321.5 1293.2 1321.8 1291.2 1322.0 1289.1 1322.1 1287.0 1322.1 1284.9 1322.1 1282.7 1322.0 1280.6 1321.7 1278.4 1321.4 1276.3 1321.0 1274.2 1320.4 1272.1 1319.7 1270.0 1318.9 1268.0 1318.0 1266.0 1317.0 1264.1 1315.8 1262.3 1314.5 1260.6 1313.0 1259.0 1311.5 1257.5 1309.8 1256.1 1308.1 1254.9 1306.2 1253.8 1304.3 1252.8 1302.3 1252.0 1300.2 1251.3 1298.1 1250.8 1295.9 1250.4 1293.8 1250.1 1291.6 1249.9 1289.4 1249.8 1287.2 1249.9 1285.0 1250.0 1282.9 1250.3 1280.7 1250.6 1278.6 1251.0 1276.6 1251.5 1274.6 1252.0 1272.6 1252.6 1270.7 1253.3 1268.8 1254.0 1267.0 1254.7 1265.2 1255.5 1263.5 1256.3 1261.8 1257.2 1260.1 1258.0 1258.5 1258.9 1257.0 1259.9 1255.5 1260.8 1254.0 1261.8 1252.6 1262.7 1251.2 1263.7 1249.8 1264.7 1248.5 1265.8 1247.2 1266.8 1245.9 1267.8 1244.7 1268.9 1243.5 1270.0 1242.3 1271.1 1241.2 1272.2 1240.1 1273.3 1239.0 1274.4 1237.9 1275.6 1236.9 1276.7 1235.8 1277.9 1234.8 1279.1 1233.8 1280.3 1232.9 1281.5 1231.9 1282.8 1231.0 1284.1 1230.1 1285.3 1229.2 1286.7 1228.3 1288.0 1227.5 1289.4 1226.6 1290.8 1225.8 1292.2 1225.0 1293.6 1224.2 1295.1 1223.4 1296.6 1222.7 1298.2 1222.0 1299.7 1221.3 1301.3 1220.6 1303.0 1220.0 1304.7 1219.3 1306.4 1218.8 1308.2 1218.2 1310.0 1217.7 1311.8 1217.2 1313.7 1216.8 1315.6 1216.4 1317.6 1216.1 1319.6 1215.8 1321.6 1215.7 1323.7 1215.5 1325.8 1215.5 1327.9 1215.5 1330.1 1215.7 1332.2 1215.9 1334.4 1216.2 1336.5 1216.7 1338.6 1217.2 1340.8 1217.9 1342.8 1218.7 1344.9 1219.6 1346.8 1220.7 1348.7 1221.8 1350.5 1223.1 1352.2 1224.6 1353.8 1226.1 1355.3 1227.8 1356.7 1229.5 1357.9 1231.4 1359.0 1233.3 1360.0 1235.3 1360.8 1237.4 1361.5 1239.5 1362.0 1241.7 1362.5 1243.8 1362.8 1246.0 1362.9 1248.2 1363.0 1250.4 1362.9 1252.6 1362.8 1254.8 1362.5 1256.9 1362.2 1259.0 1361.8 1261.0 1361.3 1263.0 1360.8 1265.0 1360.2 1266.9Z" stroke="#129c00" stroke-width="2.2"/>
<path d="M1355.7 1270.3 1355.1 1272.0 1354.4 1273.7 1353.6 1275.3 1352.9 1276.9 1352.1 1278.4 1351.2 1279.9 1350.4 1281.4 1349.5 1282.8 1348.7 1284.2 1347.8 1285.5 1346.8 1286.9 1345.9 1288.1 1345.0 1289.4 1344.0 1290.6 1343.0 1291.8 1342.1 1292.9 1341.1 1294.0 1340.0 1295.1 1339.0 1296.2 1338.0 1297.3 1336.9 1298.3 1335.9 1299.3 1334.8 1300.3 1333.7 1301.2 1332.6 1302.2 1331.5 1303.1 1330.3 1304.0 1329.2 1304.9 1328.0 1305.8 1326.8 1306.6 1325.6 1307.5 1324.4 1308.3 1323.1 1309.1 1321.8 1309.9 1320.5 1310.7 1319.2 1311.4 1317.8 1312.2 1316.5 1312.9 1315.0 1313.6 1313.6 1314.3 1312.1 1314.9 1310.6 1315.5 1309.0 1316.2 1307.5 1316.7 1305.8 1317.3 1304.2 1317.8 1302.5 1318.3 1300.7 1318.7 1299.0 1319.1 1297.2 1319.5 1295.3 1319.8 1293.4 1320.0 1291.5 1320.2 1289.6 1320.3 1287.6 1320.3 1285.6 1320.3 1283.6 1320.2 1281.6 1320.0 1279.6 1319.7 1277.6 1319.3 1275.6 1318.7 1273.6 1318.1 1271.6 1317.4 1269.7 1316.5 1267.9 1315.5 1266.1 1314.4 1264.4 1313.2 1262.8 1311.8 1261.3 1310.4 1259.9 1308.8 1258.6 1307.2 1257.5 1305.4 1256.4 1303.6 1255.5 1301.7 1254.8 1299.8 1254.1 1297.8 1253.6 1295.8 1253.2 1293.7 1252.9 1291.7 1252.8 1289.6 1252.7 1287.5 1252.8 1285.5 1252.9 1283.5 1253.1 1281.5 1253.4 1279.5 1253.8 1277.6 1254.3 1275.7 1254.8 1273.9 1255.3 1272.0 1256.0 1270.3 1256.6 1268.6 1257.3 1266.9 1258.0 1265.3 1258.8 1263.7 1259.6 1262.1 1260.4 1260.6 1261.3 1259.2 1262.1 1257.7 1263.0 1256.4 1263.9 1255.0 1264.8 1253.7 1265.8 1252.4 1266.7 1251.2 1267.7 1250.0 1268.6 1248.8 1269.6 1247.7 1270.6 1246.5 1271.6 1245.4 1272.6 1244.4 1273.7 1243.3 1274.7 1242.3 1275.8 1241.3 1276.9 1240.3 1278.0 1239.3 1279.1 1238.4 1280.2 1237.5 1281.3 1236.5 1282.5 1235.7 1283.6 1234.8 1284.8 1233.9 1286.1 1233.1 1287.3 1232.3 1288.5 1231.5 1289.8 1230.7 1291.1 1229.9 1292.5 1229.1 1293.8 1228.4 1295.2 1227.7 1296.6 1227.0 1298.1 1226.3 1299.6 1225.6 1301.1 1225.0 1302.6 1224.4 1304.2 1223.8 1305.8 1223.3 1307.5 1222.8 1309.2 1222.3 1310.9 1221.8 1312.7 1221.4 1314.5 1221.1 1316.4 1220.8 1318.2 1220.6 1320.1 1220.4 1322.1 1220.3 1324.1 1220.2 1326.0 1220.3 1328.1 1220.4 1330.1 1220.6 1332.1 1220.9 1334.1 1221.3 1336.1 1221.8 1338.1 1222.5 1340.0 1223.2 1341.9 1224.1 1343.8 1225.1 1345.6 1226.2 1347.2 1227.4 1348.9 1228.7 1350.4 1230.2 1351.8 1231.7 1353.0 1233.4 1354.2 1235.1 1355.2 1237.0 1356.1 1238.8 1356.9 1240.8 1357.6 1242.8 1358.1 1244.8 1358.5 1246.8 1358.7 1248.9 1358.9 1251.0 1359.0 1253.0 1358.9 1255.1 1358.8 1257.1 1358.5 1259.1 1358.2 1261.0 1357.8 1263.0 1357.4 1264.9 1356.9 1266.7 1356.3 1268.5Z" stroke="#3baa00" stroke-width="2.2"/>
<path d="M1351.9 1271.8 1351.3 1273.4 1350.6 1274.9 1349.9 1276.5 1349.2 1277.9 1348.5 1279.4 1347.7 1280.8 1346.9 1282.1 1346.1 1283.5 1345.3 1284.8 1344.5 1286.0 1343.6 1287.2 1342.7 1288.4 1341.9 1289.6 1341.0 1290.7 1340.0 1291.8 1339.1 1292.9 1338.2 1294.0 1337.2 1295.0 1336.3 1296.0 1335.3 1297.0 1334.3 1297.9 1333.4 1298.9 1332.3 1299.8 1331.3 1300.7 1330.3 1301.6 1329.2 1302.5 1328.2 1303.3 1327.1 1304.1 1326.0 1305.0 1324.9 1305.8 1323.8 1306.5 1322.6 1307.3 1321.4 1308.1 1320.2 1308.8 1319.0 1309.5 1317.8 1310.2 1316.5 1310.9 1315.2 1311.6 1313.9 1312.2 1312.5 1312.9 1311.1 1313.5 1309.7 1314.1 1308.3 1314.7 1306.8 1315.2 1305.3 1315.7 1303.7 1316.2 1302.1 1316.6 1300.5 1317.0 1298.8 1317.4 1297.2 1317.7 1295.4 1318.0 1293.7 1318.3 1291.9 1318.4 1290.1 1318.5 1288.2 1318.6 1286.4 1318.5 1284.5 1318.4 1282.6 1318.2 1280.7 1317.9 1278.8 1317.5 1277.0 1317.1 1275.1 1316.5 1273.3 1315.8 1271.5 1315.0 1269.8 1314.0 1268.1 1313.0 1266.5 1311.9 1265.0 1310.6 1263.6 1309.2 1262.3 1307.8 1261.1 1306.2 1260.0 1304.6 1259.1 1302.9 1258.2 1301.2 1257.5 1299.3 1256.9 1297.5 1256.4 1295.6 1256.0 1293.7 1255.8 1291.7 1255.6 1289.8 1255.6 1287.9 1255.6 1286.0 1255.8 1284.1 1256.0 1282.2 1256.3 1280.4 1256.6 1278.6 1257.0 1276.8 1257.5 1275.1 1258.1 1273.4 1258.6 1271.8 1259.2 1270.2 1259.9 1268.6 1260.6 1267.1 1261.3 1265.6 1262.0 1264.1 1262.8 1262.7 1263.6 1261.4 1264.4 1260.0 1265.2 1258.7 1266.1 1257.5 1266.9 1256.3 1267.8 1255.1 1268.7 1253.9 1269.6 1252.8 1270.5 1251.7 1271.4 1250.6 1272.3 1249.5 1273.3 1248.5 1274.2 1247.5 1275.2 1246.5 1276.2 1245.6 1277.2 1244.6 1278.2 1243.7 1279.2 1242.8 1280.2 1241.9 1281.3 1241.1 1282.3 1240.2 1283.4 1239.4 1284.5 1238.6 1285.6 1237.8 1286.8 1237.0 1287.9 1236.2 1289.1 1235.5 1290.3 1234.7 1291.5 1234.0 1292.8 1233.3 1294.0 1232.6 1295.3 1231.9 1296.7 1231.3 1298.0 1230.6 1299.4 1230.0 1300.8 1229.4 1302.3 1228.9 1303.7 1228.3 1305.3 1227.8 1306.8 1227.3 1308.4 1226.9 1310.0 1226.5 1311.7 1226.1 1313.4 1225.8 1315.1 1225.5 1316.9 1225.3 1318.6 1225.1 1320.5 1225.0 1322.3 1224.9 1324.2 1225.0 1326.0 1225.1 1327.9 1225.3 1329.8 1225.6 1331.7 1226.0 1333.6 1226.5 1335.4 1227.0 1337.2 1227.7 1339.0 1228.6 1340.7 1229.5 1342.4 1230.5 1344.0 1231.7 1345.5 1232.9 1346.9 1234.3 1348.2 1235.7 1349.4 1237.3 1350.5 1238.9 1351.5 1240.6 1352.3 1242.4 1353.0 1244.2 1353.6 1246.0 1354.1 1247.9 1354.5 1249.8 1354.7 1251.8 1354.9 1253.7 1354.9 1255.6 1354.9 1257.5 1354.8 1259.4 1354.5 1261.3 1354.3 1263.1 1353.9 1264.9 1353.5 1266.7 1353.0 1268.4 1352.5 1270.1Z" stroke="#bcde00" stroke-width="2.2"/>
<path d="M1348.1 1273.2 1347.5 1274.7 1346.9 1276.2 1346.3 1277.6 1345.6 1279.0 1344.9 1280.3 1344.2 1281.6 1343.5 1282.9 1342.7 1284.1 1341.9 1285.3 1341.2 1286.5 1340.4 1287.6 1339.6 1288.8 1338.7 1289.8 1337.9 1290.9 1337.1 1291.9 1336.2 1292.9 1335.3 1293.9 1334.5 1294.9 1333.6 1295.8 1332.7 1296.7 1331.7 1297.6 1330.8 1298.5 1329.9 1299.3 1328.9 1300.2 1328.0 1301.0 1327.0 1301.8 1326.0 1302.6 1325.0 1303.4 1324.0 1304.1 1323.0 1304.9 1321.9 1305.6 1320.8 1306.3 1319.7 1307.0 1318.6 1307.7 1317.5 1308.4 1316.3 1309.0 1315.1 1309.7 1313.9 1310.3 1312.7 1310.9 1311.4 1311.5 1310.1 1312.1 1308.8 1312.6 1307.5 1313.1 1306.1 1313.6 1304.7 1314.1 1303.2 1314.6 1301.8 1315.0 1300.3 1315.4 1298.7 1315.7 1297.1 1316.0 1295.5 1316.3 1293.9 1316.5 1292.2 1316.7 1290.5 1316.8 1288.8 1316.8 1287.1 1316.8 1285.4 1316.7 1283.6 1316.5 1281.8 1316.2 1280.1 1315.8 1278.3 1315.4 1276.6 1314.8 1274.9 1314.2 1273.3 1313.4 1271.7 1312.6 1270.1 1311.6 1268.7 1310.5 1267.3 1309.4 1265.9 1308.1 1264.7 1306.8 1263.6 1305.3 1262.6 1303.8 1261.7 1302.2 1260.9 1300.6 1260.2 1298.9 1259.7 1297.2 1259.2 1295.4 1258.9 1293.6 1258.6 1291.8 1258.5 1290.0 1258.5 1288.3 1258.5 1286.5 1258.6 1284.7 1258.8 1283.0 1259.1 1281.3 1259.4 1279.6 1259.8 1277.9 1260.3 1276.3 1260.8 1274.8 1261.3 1273.2 1261.9 1271.7 1262.5 1270.3 1263.1 1268.9 1263.8 1267.5 1264.5 1266.1 1265.2 1264.8 1265.9 1263.6 1266.7 1262.3 1267.4 1261.1 1268.2 1260.0 1269.0 1258.8 1269.8 1257.7 1270.6 1256.6 1271.5 1255.6 1272.3 1254.5 1273.2 1253.5 1274.0 1252.6 1274.9 1251.6 1275.8 1250.7 1276.7 1249.8 1277.6 1248.9 1278.5 1248.0 1279.5 1247.1 1280.4 1246.3 1281.4 1245.5 1282.4 1244.7 1283.4 1243.9 1284.4 1243.1 1285.4 1242.3 1286.4 1241.6 1287.5 1240.9 1288.6 1240.2 1289.6 1239.4 1290.8 1238.8 1291.9 1238.1 1293.1 1237.4 1294.2 1236.8 1295.4 1236.2 1296.7 1235.6 1297.9 1235.0 1299.2 1234.4 1300.5 1233.8 1301.9 1233.3 1303.3 1232.8 1304.7 1232.3 1306.1 1231.9 1307.6 1231.5 1309.1 1231.1 1310.7 1230.7 1312.2 1230.4 1313.8 1230.2 1315.5 1230.0 1317.1 1229.8 1318.8 1229.7 1320.5 1229.7 1322.3 1229.7 1324.0 1229.8 1325.8 1230.0 1327.5 1230.3 1329.3 1230.6 1331.0 1231.1 1332.7 1231.6 1334.4 1232.3 1336.1 1233.0 1337.7 1233.9 1339.2 1234.9 1340.7 1235.9 1342.1 1237.1 1343.4 1238.4 1344.6 1239.7 1345.8 1241.1 1346.8 1242.7 1347.7 1244.2 1348.5 1245.9 1349.1 1247.6 1349.7 1249.3 1350.1 1251.1 1350.5 1252.8 1350.7 1254.6 1350.9 1256.4 1350.9 1258.2 1350.9 1260.0 1350.7 1261.8 1350.5 1263.5 1350.3 1265.2 1349.9 1266.9 1349.6 1268.5 1349.1 1270.1 1348.6 1271.7Z" stroke="#eeeb00" stroke-width="2.2"/>
<path d="M1344.3 1274.7 1343.7 1276.1 1343.2 1277.4 1342.6 1278.8 1342.0 1280.0 1341.3 1281.3 1340.7 1282.5 1340.0 1283.7 1339.3 1284.8 1338.6 1285.9 1337.9 1287.0 1337.1 1288.0 1336.4 1289.1 1335.6 1290.1 1334.8 1291.1 1334.1 1292.0 1333.3 1292.9 1332.5 1293.8 1331.7 1294.7 1330.8 1295.6 1330.0 1296.4 1329.2 1297.3 1328.3 1298.1 1327.4 1298.9 1326.6 1299.6 1325.7 1300.4 1324.8 1301.1 1323.8 1301.9 1322.9 1302.6 1322.0 1303.3 1321.0 1304.0 1320.0 1304.7 1319.0 1305.3 1318.0 1306.0 1317.0 1306.6 1315.9 1307.2 1314.9 1307.8 1313.8 1308.4 1312.7 1309.0 1311.5 1309.6 1310.4 1310.1 1309.2 1310.6 1307.9 1311.2 1306.7 1311.6 1305.4 1312.1 1304.1 1312.5 1302.8 1313.0 1301.4 1313.4 1300.0 1313.7 1298.6 1314.0 1297.1 1314.3 1295.6 1314.5 1294.1 1314.7 1292.6 1314.9 1291.0 1315.0 1289.4 1315.0 1287.8 1315.0 1286.2 1314.9 1284.6 1314.7 1283.0 1314.5 1281.4 1314.1 1279.7 1313.7 1278.1 1313.2 1276.6 1312.6 1275.1 1311.9 1273.6 1311.1 1272.1 1310.2 1270.8 1309.2 1269.5 1308.2 1268.3 1307.0 1267.1 1305.7 1266.1 1304.4 1265.2 1303.0 1264.3 1301.5 1263.6 1300.0 1263.0 1298.5 1262.5 1296.9 1262.0 1295.2 1261.7 1293.6 1261.5 1291.9 1261.4 1290.3 1261.3 1288.6 1261.4 1287.0 1261.5 1285.3 1261.7 1283.7 1261.9 1282.1 1262.2 1280.6 1262.6 1279.1 1263.0 1277.6 1263.5 1276.1 1264.0 1274.7 1264.5 1273.3 1265.0 1272.0 1265.6 1270.7 1266.3 1269.4 1266.9 1268.1 1267.6 1266.9 1268.2 1265.8 1268.9 1264.6 1269.6 1263.5 1270.4 1262.4 1271.1 1261.4 1271.8 1260.3 1272.6 1259.3 1273.4 1258.4 1274.2 1257.4 1275.0 1256.5 1275.8 1255.6 1276.6 1254.7 1277.4 1253.8 1278.2 1253.0 1279.1 1252.2 1279.9 1251.4 1280.8 1250.6 1281.7 1249.8 1282.6 1249.0 1283.5 1248.3 1284.4 1247.5 1285.3 1246.8 1286.3 1246.1 1287.2 1245.4 1288.2 1244.8 1289.2 1244.1 1290.2 1243.4 1291.2 1242.8 1292.3 1242.2 1293.3 1241.6 1294.4 1241.0 1295.6 1240.4 1296.7 1239.8 1297.9 1239.3 1299.1 1238.8 1300.3 1238.3 1301.5 1237.8 1302.8 1237.3 1304.1 1236.9 1305.4 1236.5 1306.8 1236.1 1308.2 1235.7 1309.6 1235.4 1311.1 1235.1 1312.6 1234.9 1314.1 1234.7 1315.6 1234.5 1317.2 1234.4 1318.8 1234.4 1320.4 1234.4 1322.0 1234.5 1323.6 1234.7 1325.3 1235.0 1326.9 1235.3 1328.5 1235.7 1330.1 1236.2 1331.6 1236.8 1333.2 1237.5 1334.7 1238.3 1336.1 1239.2 1337.5 1240.2 1338.7 1241.3 1340.0 1242.4 1341.1 1243.7 1342.1 1245.0 1343.1 1246.4 1343.9 1247.9 1344.6 1249.4 1345.2 1251.0 1345.8 1252.6 1346.2 1254.2 1346.5 1255.8 1346.7 1257.5 1346.8 1259.2 1346.9 1260.8 1346.8 1262.5 1346.7 1264.1 1346.5 1265.7 1346.3 1267.3 1346.0 1268.8 1345.6 1270.3 1345.2 1271.8 1344.8 1273.3Z" stroke="#ffe200" stroke-width="2.2"/>
<path d="M1340.5 1276.2 1340.0 1277.5 1339.5 1278.7 1338.9 1279.9 1338.3 1281.1 1337.8 1282.2 1337.2 1283.3 1336.5 1284.4 1335.9 1285.5 1335.2 1286.5 1334.6 1287.5 1333.9 1288.4 1333.2 1289.4 1332.5 1290.3 1331.8 1291.2 1331.1 1292.1 1330.3 1292.9 1329.6 1293.8 1328.9 1294.6 1328.1 1295.4 1327.3 1296.2 1326.6 1296.9 1325.8 1297.7 1325.0 1298.4 1324.2 1299.1 1323.4 1299.8 1322.5 1300.5 1321.7 1301.2 1320.8 1301.8 1320.0 1302.5 1319.1 1303.1 1318.2 1303.7 1317.3 1304.3 1316.3 1304.9 1315.4 1305.5 1314.4 1306.1 1313.4 1306.6 1312.4 1307.2 1311.4 1307.7 1310.4 1308.2 1309.3 1308.7 1308.2 1309.2 1307.1 1309.7 1305.9 1310.1 1304.7 1310.6 1303.5 1311.0 1302.3 1311.4 1301.1 1311.7 1299.8 1312.0 1298.5 1312.3 1297.1 1312.6 1295.8 1312.8 1294.4 1313.0 1292.9 1313.1 1291.5 1313.2 1290.1 1313.2 1288.6 1313.2 1287.1 1313.1 1285.6 1313.0 1284.1 1312.7 1282.6 1312.4 1281.1 1312.0 1279.7 1311.6 1278.2 1311.0 1276.8 1310.4 1275.5 1309.7 1274.1 1308.8 1272.9 1307.9 1271.7 1306.9 1270.6 1305.9 1269.5 1304.7 1268.6 1303.5 1267.7 1302.2 1267.0 1300.8 1266.3 1299.5 1265.7 1298.0 1265.3 1296.5 1264.9 1295.0 1264.6 1293.5 1264.4 1292.0 1264.3 1290.5 1264.2 1289.0 1264.3 1287.5 1264.4 1286.0 1264.5 1284.5 1264.8 1283.0 1265.0 1281.6 1265.4 1280.2 1265.8 1278.8 1266.2 1277.5 1266.6 1276.2 1267.1 1274.9 1267.6 1273.7 1268.2 1272.5 1268.7 1271.3 1269.3 1270.2 1269.9 1269.0 1270.6 1268.0 1271.2 1266.9 1271.8 1265.9 1272.5 1264.9 1273.2 1263.9 1273.9 1263.0 1274.6 1262.1 1275.3 1261.2 1276.0 1260.3 1276.7 1259.4 1277.5 1258.6 1278.2 1257.8 1279.0 1257.0 1279.7 1256.2 1280.5 1255.5 1281.3 1254.7 1282.1 1254.0 1282.9 1253.3 1283.7 1252.6 1284.6 1251.9 1285.4 1251.2 1286.3 1250.6 1287.1 1249.9 1288.0 1249.3 1288.9 1248.7 1289.8 1248.0 1290.7 1247.4 1291.7 1246.9 1292.7 1246.3 1293.6 1245.7 1294.6 1245.2 1295.7 1244.7 1296.7 1244.1 1297.8 1243.6 1298.9 1243.1 1300.0 1242.7 1301.2 1242.2 1302.3 1241.8 1303.5 1241.4 1304.8 1241.0 1306.0 1240.7 1307.3 1240.3 1308.6 1240.0 1310.0 1239.8 1311.3 1239.6 1312.7 1239.4 1314.1 1239.2 1315.6 1239.2 1317.0 1239.1 1318.5 1239.2 1320.0 1239.2 1321.5 1239.4 1323.0 1239.6 1324.5 1239.9 1325.9 1240.3 1327.4 1240.8 1328.9 1241.3 1330.3 1242.0 1331.6 1242.7 1332.9 1243.5 1334.2 1244.4 1335.4 1245.4 1336.5 1246.5 1337.5 1247.7 1338.5 1248.9 1339.3 1250.2 1340.1 1251.5 1340.8 1252.9 1341.3 1254.4 1341.8 1255.8 1342.2 1257.3 1342.5 1258.8 1342.7 1260.4 1342.8 1261.9 1342.9 1263.4 1342.8 1264.9 1342.7 1266.4 1342.5 1267.9 1342.3 1269.3 1342.0 1270.8 1341.7 1272.2 1341.3 1273.5 1340.9 1274.9Z" stroke="#ffc300" stroke-width="2.2"/>
<path d="M1336.6 1277.7 1336.2 1278.8 1335.7 1280.0 1335.2 1281.1 1334.7 1282.1 1334.2 1283.2 1333.6 1284.2 1333.1 1285.2 1332.5 1286.1 1331.9 1287.1 1331.3 1288.0 1330.7 1288.8 1330.0 1289.7 1329.4 1290.5 1328.7 1291.4 1328.1 1292.2 1327.4 1292.9 1326.7 1293.7 1326.1 1294.4 1325.4 1295.2 1324.7 1295.9 1324.0 1296.6 1323.2 1297.2 1322.5 1297.9 1321.8 1298.6 1321.0 1299.2 1320.3 1299.8 1319.5 1300.4 1318.7 1301.0 1317.9 1301.6 1317.1 1302.2 1316.3 1302.8 1315.5 1303.3 1314.6 1303.9 1313.8 1304.4 1312.9 1304.9 1312.0 1305.4 1311.1 1305.9 1310.1 1306.4 1309.2 1306.9 1308.2 1307.4 1307.2 1307.8 1306.2 1308.2 1305.1 1308.6 1304.1 1309.0 1303.0 1309.4 1301.8 1309.7 1300.7 1310.1 1299.5 1310.4 1298.3 1310.6 1297.1 1310.9 1295.9 1311.1 1294.6 1311.2 1293.3 1311.4 1292.0 1311.4 1290.7 1311.5 1289.3 1311.4 1288.0 1311.4 1286.6 1311.2 1285.2 1311.0 1283.9 1310.7 1282.5 1310.4 1281.2 1309.9 1279.9 1309.4 1278.6 1308.9 1277.3 1308.2 1276.1 1307.4 1275.0 1306.6 1273.9 1305.7 1272.9 1304.7 1272.0 1303.7 1271.1 1302.6 1270.3 1301.4 1269.6 1300.2 1269.0 1298.9 1268.5 1297.6 1268.0 1296.2 1267.7 1294.9 1267.4 1293.5 1267.2 1292.1 1267.1 1290.7 1267.1 1289.3 1267.1 1287.9 1267.2 1286.6 1267.4 1285.2 1267.6 1283.9 1267.8 1282.6 1268.2 1281.3 1268.5 1280.1 1268.9 1278.9 1269.3 1277.7 1269.7 1276.5 1270.2 1275.4 1270.7 1274.3 1271.2 1273.2 1271.8 1272.2 1272.3 1271.1 1272.9 1270.2 1273.5 1269.2 1274.1 1268.3 1274.7 1267.4 1275.3 1266.5 1275.9 1265.6 1276.5 1264.8 1277.2 1264.0 1277.8 1263.2 1278.5 1262.4 1279.2 1261.6 1279.9 1260.9 1280.6 1260.2 1281.3 1259.4 1282.0 1258.8 1282.7 1258.1 1283.4 1257.4 1284.1 1256.8 1284.9 1256.1 1285.6 1255.5 1286.4 1254.9 1287.2 1254.3 1288.0 1253.7 1288.8 1253.1 1289.6 1252.5 1290.4 1252.0 1291.3 1251.4 1292.2 1250.9 1293.0 1250.4 1293.9 1249.9 1294.9 1249.4 1295.8 1248.9 1296.8 1248.4 1297.7 1248.0 1298.7 1247.5 1299.8 1247.1 1300.8 1246.7 1301.9 1246.3 1303.0 1245.9 1304.1 1245.6 1305.2 1245.3 1306.4 1245.0 1307.6 1244.7 1308.8 1244.5 1310.1 1244.2 1311.3 1244.1 1312.6 1244.0 1313.9 1243.9 1315.3 1243.9 1316.6 1243.9 1318.0 1244.0 1319.3 1244.1 1320.7 1244.3 1322.1 1244.6 1323.4 1244.9 1324.7 1245.4 1326.1 1245.9 1327.3 1246.5 1328.6 1247.1 1329.8 1247.9 1330.9 1248.7 1332.0 1249.6 1333.0 1250.6 1334.0 1251.6 1334.8 1252.8 1335.6 1253.9 1336.3 1255.2 1336.9 1256.4 1337.5 1257.7 1337.9 1259.1 1338.2 1260.5 1338.5 1261.8 1338.7 1263.2 1338.8 1264.6 1338.8 1266.0 1338.8 1267.4 1338.7 1268.7 1338.6 1270.1 1338.3 1271.4 1338.1 1272.7 1337.8 1274.0 1337.4 1275.3 1337.1 1276.5Z" stroke="#ffa200" stroke-width="2.2"/>
<path d="M1332.8 1279.1 1332.4 1280.2 1332.0 1281.2 1331.6 1282.2 1331.1 1283.2 1330.6 1284.1 1330.1 1285.0 1329.6 1285.9 1329.1 1286.8 1328.5 1287.6 1328.0 1288.4 1327.4 1289.2 1326.8 1290.0 1326.3 1290.8 1325.7 1291.5 1325.1 1292.2 1324.5 1292.9 1323.9 1293.6 1323.3 1294.3 1322.6 1295.0 1322.0 1295.6 1321.4 1296.2 1320.7 1296.8 1320.1 1297.4 1319.4 1298.0 1318.7 1298.6 1318.0 1299.2 1317.4 1299.7 1316.6 1300.3 1315.9 1300.8 1315.2 1301.3 1314.5 1301.8 1313.7 1302.3 1312.9 1302.8 1312.2 1303.3 1311.4 1303.8 1310.5 1304.2 1309.7 1304.7 1308.9 1305.1 1308.0 1305.6 1307.1 1306.0 1306.2 1306.4 1305.3 1306.8 1304.3 1307.1 1303.4 1307.5 1302.4 1307.8 1301.4 1308.1 1300.3 1308.4 1299.3 1308.7 1298.2 1308.9 1297.1 1309.2 1296.0 1309.3 1294.8 1309.5 1293.7 1309.6 1292.5 1309.7 1291.3 1309.7 1290.1 1309.7 1288.8 1309.6 1287.6 1309.5 1286.4 1309.3 1285.1 1309.0 1283.9 1308.7 1282.7 1308.3 1281.5 1307.9 1280.4 1307.3 1279.2 1306.7 1278.2 1306.1 1277.1 1305.3 1276.1 1304.5 1275.2 1303.6 1274.4 1302.7 1273.6 1301.6 1272.9 1300.6 1272.2 1299.5 1271.7 1298.3 1271.2 1297.1 1270.8 1295.9 1270.5 1294.7 1270.3 1293.4 1270.1 1292.2 1270.0 1290.9 1270.0 1289.7 1270.0 1288.4 1270.1 1287.2 1270.2 1286.0 1270.4 1284.8 1270.7 1283.6 1270.9 1282.4 1271.2 1281.3 1271.6 1280.2 1272.0 1279.1 1272.4 1278.1 1272.8 1277.1 1273.2 1276.1 1273.7 1275.1 1274.2 1274.2 1274.7 1273.2 1275.2 1272.4 1275.7 1271.5 1276.3 1270.6 1276.8 1269.8 1277.4 1269.0 1277.9 1268.2 1278.5 1267.5 1279.1 1266.8 1279.7 1266.0 1280.3 1265.3 1280.9 1264.6 1281.5 1264.0 1282.1 1263.3 1282.8 1262.7 1283.4 1262.0 1284.1 1261.4 1284.7 1260.8 1285.4 1260.2 1286.1 1259.7 1286.7 1259.1 1287.4 1258.5 1288.1 1258.0 1288.9 1257.5 1289.6 1256.9 1290.3 1256.4 1291.1 1255.9 1291.8 1255.4 1292.6 1255.0 1293.4 1254.5 1294.2 1254.0 1295.1 1253.6 1295.9 1253.1 1296.8 1252.7 1297.7 1252.3 1298.6 1251.9 1299.5 1251.5 1300.4 1251.1 1301.4 1250.8 1302.4 1250.5 1303.4 1250.1 1304.4 1249.8 1305.5 1249.6 1306.6 1249.3 1307.7 1249.1 1308.8 1248.9 1310.0 1248.8 1311.1 1248.7 1312.3 1248.6 1313.5 1248.6 1314.7 1248.6 1315.9 1248.7 1317.2 1248.8 1318.4 1249.0 1319.6 1249.3 1320.9 1249.6 1322.1 1250.0 1323.3 1250.4 1324.4 1250.9 1325.5 1251.5 1326.6 1252.2 1327.7 1253.0 1328.6 1253.8 1329.6 1254.7 1330.4 1255.6 1331.2 1256.6 1331.9 1257.7 1332.5 1258.8 1333.1 1260.0 1333.6 1261.1 1334.0 1262.4 1334.3 1263.6 1334.5 1264.8 1334.7 1266.1 1334.8 1267.3 1334.8 1268.6 1334.8 1269.8 1334.7 1271.1 1334.6 1272.3 1334.4 1273.5 1334.1 1274.7 1333.9 1275.8 1333.5 1277.0 1333.2 1278.1Z" stroke="#ff7d00" stroke-width="2.2"/>
<path d="M1329.0 1280.6 1328.7 1281.5 1328.3 1282.5 1327.9 1283.4 1327.5 1284.2 1327.0 1285.1 1326.6 1285.9 1326.1 1286.7 1325.6 1287.4 1325.2 1288.2 1324.7 1288.9 1324.2 1289.6 1323.7 1290.3 1323.2 1291.0 1322.6 1291.7 1322.1 1292.3 1321.6 1293.0 1321.0 1293.6 1320.5 1294.2 1319.9 1294.8 1319.3 1295.3 1318.8 1295.9 1318.2 1296.4 1317.6 1297.0 1317.0 1297.5 1316.4 1298.0 1315.8 1298.5 1315.2 1299.0 1314.6 1299.5 1313.9 1300.0 1313.3 1300.4 1312.6 1300.9 1311.9 1301.3 1311.2 1301.8 1310.5 1302.2 1309.8 1302.6 1309.1 1303.0 1308.4 1303.5 1307.6 1303.8 1306.8 1304.2 1306.0 1304.6 1305.2 1305.0 1304.4 1305.3 1303.6 1305.6 1302.7 1305.9 1301.8 1306.2 1300.9 1306.5 1300.0 1306.8 1299.0 1307.0 1298.1 1307.2 1297.1 1307.4 1296.1 1307.6 1295.1 1307.7 1294.0 1307.8 1293.0 1307.9 1291.9 1307.9 1290.8 1307.9 1289.7 1307.8 1288.6 1307.7 1287.5 1307.5 1286.4 1307.3 1285.3 1307.0 1284.2 1306.7 1283.2 1306.3 1282.1 1305.8 1281.1 1305.3 1280.2 1304.7 1279.2 1304.0 1278.4 1303.3 1277.5 1302.5 1276.8 1301.6 1276.1 1300.7 1275.4 1299.8 1274.9 1298.8 1274.4 1297.8 1274.0 1296.7 1273.6 1295.6 1273.3 1294.5 1273.1 1293.4 1273.0 1292.3 1272.9 1291.1 1272.8 1290.0 1272.9 1288.9 1273.0 1287.8 1273.1 1286.7 1273.2 1285.7 1273.5 1284.6 1273.7 1283.6 1274.0 1282.6 1274.3 1281.6 1274.6 1280.6 1275.0 1279.7 1275.4 1278.8 1275.8 1277.9 1276.2 1277.0 1276.6 1276.2 1277.1 1275.3 1277.5 1274.6 1278.0 1273.8 1278.5 1273.0 1279.0 1272.3 1279.5 1271.6 1280.0 1270.9 1280.5 1270.2 1281.0 1269.5 1281.5 1268.9 1282.1 1268.3 1282.6 1267.7 1283.2 1267.1 1283.7 1266.5 1284.3 1265.9 1284.9 1265.3 1285.4 1264.8 1286.0 1264.3 1286.6 1263.7 1287.2 1263.2 1287.8 1262.7 1288.5 1262.2 1289.1 1261.7 1289.7 1261.3 1290.4 1260.8 1291.0 1260.3 1291.7 1259.9 1292.4 1259.4 1293.1 1259.0 1293.8 1258.6 1294.5 1258.2 1295.3 1257.8 1296.0 1257.4 1296.8 1257.0 1297.6 1256.6 1298.4 1256.3 1299.2 1255.9 1300.1 1255.6 1300.9 1255.3 1301.8 1255.0 1302.7 1254.7 1303.6 1254.4 1304.6 1254.2 1305.6 1254.0 1306.5 1253.8 1307.6 1253.6 1308.6 1253.5 1309.6 1253.4 1310.7 1253.3 1311.8 1253.3 1312.8 1253.3 1313.9 1253.4 1315.0 1253.5 1316.1 1253.7 1317.2 1253.9 1318.3 1254.2 1319.4 1254.5 1320.5 1254.9 1321.5 1255.4 1322.5 1256.0 1323.5 1256.6 1324.4 1257.2 1325.3 1258.0 1326.1 1258.8 1326.9 1259.6 1327.6 1260.5 1328.2 1261.5 1328.8 1262.4 1329.2 1263.5 1329.7 1264.5 1330.0 1265.6 1330.3 1266.7 1330.5 1267.8 1330.7 1269.0 1330.8 1270.1 1330.8 1271.2 1330.8 1272.3 1330.7 1273.4 1330.6 1274.5 1330.4 1275.6 1330.2 1276.6 1329.9 1277.7 1329.7 1278.7 1329.3 1279.7Z" stroke="#ff5400" stroke-width="2.2"/>
<path d="M1325.2 1282.1 1324.9 1282.9 1324.5 1283.7 1324.2 1284.5 1323.8 1285.3 1323.4 1286.0 1323.1 1286.7 1322.7 1287.4 1322.2 1288.1 1321.8 1288.8 1321.4 1289.4 1320.9 1290.0 1320.5 1290.7 1320.0 1291.3 1319.6 1291.8 1319.1 1292.4 1318.6 1293.0 1318.2 1293.5 1317.7 1294.0 1317.2 1294.5 1316.7 1295.0 1316.2 1295.5 1315.7 1296.0 1315.2 1296.5 1314.6 1297.0 1314.1 1297.4 1313.6 1297.9 1313.0 1298.3 1312.5 1298.7 1311.9 1299.1 1311.3 1299.6 1310.7 1300.0 1310.2 1300.4 1309.5 1300.7 1308.9 1301.1 1308.3 1301.5 1307.7 1301.9 1307.0 1302.2 1306.3 1302.6 1305.7 1302.9 1305.0 1303.2 1304.3 1303.5 1303.5 1303.8 1302.8 1304.1 1302.0 1304.4 1301.2 1304.7 1300.4 1304.9 1299.6 1305.1 1298.8 1305.4 1297.9 1305.5 1297.1 1305.7 1296.2 1305.9 1295.3 1306.0 1294.4 1306.1 1293.4 1306.1 1292.5 1306.1 1291.5 1306.1 1290.6 1306.1 1289.6 1306.0 1288.6 1305.8 1287.7 1305.6 1286.7 1305.4 1285.8 1305.1 1284.8 1304.7 1283.9 1304.3 1283.0 1303.8 1282.2 1303.3 1281.4 1302.7 1280.6 1302.0 1279.9 1301.3 1279.2 1300.6 1278.6 1299.8 1278.0 1299.0 1277.5 1298.1 1277.1 1297.2 1276.7 1296.3 1276.4 1295.3 1276.1 1294.3 1276.0 1293.3 1275.8 1292.4 1275.8 1291.4 1275.7 1290.4 1275.7 1289.4 1275.8 1288.4 1275.9 1287.5 1276.1 1286.5 1276.3 1285.6 1276.5 1284.7 1276.7 1283.8 1277.0 1282.9 1277.3 1282.1 1277.6 1281.3 1277.9 1280.5 1278.3 1279.7 1278.7 1278.9 1279.0 1278.2 1279.4 1277.5 1279.8 1276.8 1280.3 1276.1 1280.7 1275.4 1281.1 1274.8 1281.5 1274.1 1282.0 1273.5 1282.4 1272.9 1282.9 1272.3 1283.4 1271.8 1283.8 1271.2 1284.3 1270.7 1284.8 1270.2 1285.3 1269.6 1285.8 1269.1 1286.3 1268.6 1286.8 1268.2 1287.3 1267.7 1287.9 1267.2 1288.4 1266.8 1288.9 1266.3 1289.5 1265.9 1290.0 1265.5 1290.6 1265.0 1291.2 1264.6 1291.7 1264.2 1292.3 1263.8 1292.9 1263.4 1293.6 1263.1 1294.2 1262.7 1294.8 1262.3 1295.5 1262.0 1296.1 1261.6 1296.8 1261.3 1297.5 1261.0 1298.2 1260.6 1299.0 1260.3 1299.7 1260.1 1300.5 1259.8 1301.2 1259.5 1302.0 1259.3 1302.9 1259.0 1303.7 1258.8 1304.5 1258.6 1305.4 1258.5 1306.3 1258.3 1307.2 1258.2 1308.1 1258.1 1309.1 1258.1 1310.0 1258.0 1311.0 1258.1 1311.9 1258.1 1312.9 1258.2 1313.9 1258.4 1314.8 1258.6 1315.8 1258.8 1316.7 1259.1 1317.7 1259.5 1318.6 1259.9 1319.5 1260.4 1320.3 1260.9 1321.1 1261.5 1321.9 1262.1 1322.6 1262.8 1323.3 1263.6 1323.9 1264.4 1324.5 1265.2 1325.0 1266.1 1325.4 1267.0 1325.8 1267.9 1326.1 1268.9 1326.3 1269.8 1326.5 1270.8 1326.7 1271.8 1326.7 1272.8 1326.8 1273.8 1326.7 1274.8 1326.7 1275.7 1326.6 1276.7 1326.4 1277.7 1326.2 1278.6 1326.0 1279.5 1325.8 1280.4 1325.5 1281.2Z" stroke="#ff3600" stroke-width="2.2"/>
<path d="M1321.4 1283.6 1321.1 1284.3 1320.8 1285.0 1320.5 1285.7 1320.2 1286.3 1319.9 1286.9 1319.5 1287.6 1319.2 1288.2 1318.8 1288.8 1318.5 1289.3 1318.1 1289.9 1317.7 1290.4 1317.3 1291.0 1316.9 1291.5 1316.5 1292.0 1316.1 1292.5 1315.7 1293.0 1315.3 1293.4 1314.9 1293.9 1314.5 1294.3 1314.0 1294.8 1313.6 1295.2 1313.1 1295.6 1312.7 1296.0 1312.2 1296.4 1311.8 1296.8 1311.3 1297.2 1310.9 1297.6 1310.4 1297.9 1309.9 1298.3 1309.4 1298.7 1308.9 1299.0 1308.4 1299.4 1307.9 1299.7 1307.3 1300.0 1306.8 1300.3 1306.2 1300.7 1305.7 1301.0 1305.1 1301.3 1304.5 1301.5 1303.9 1301.8 1303.3 1302.1 1302.6 1302.4 1302.0 1302.6 1301.3 1302.9 1300.7 1303.1 1300.0 1303.3 1299.3 1303.5 1298.6 1303.7 1297.8 1303.8 1297.1 1304.0 1296.3 1304.1 1295.5 1304.2 1294.7 1304.3 1293.9 1304.3 1293.1 1304.4 1292.3 1304.3 1291.4 1304.3 1290.6 1304.2 1289.8 1304.1 1288.9 1303.9 1288.1 1303.7 1287.3 1303.4 1286.5 1303.1 1285.7 1302.8 1284.9 1302.3 1284.2 1301.9 1283.5 1301.4 1282.8 1300.8 1282.2 1300.2 1281.6 1299.6 1281.1 1298.9 1280.6 1298.2 1280.2 1297.4 1279.8 1296.6 1279.5 1295.8 1279.2 1295.0 1279.0 1294.1 1278.8 1293.3 1278.7 1292.4 1278.6 1291.6 1278.6 1290.7 1278.6 1289.9 1278.7 1289.0 1278.8 1288.2 1278.9 1287.4 1279.1 1286.6 1279.3 1285.8 1279.5 1285.0 1279.7 1284.3 1280.0 1283.6 1280.2 1282.9 1280.5 1282.2 1280.8 1281.5 1281.1 1280.8 1281.5 1280.2 1281.8 1279.6 1282.2 1278.9 1282.5 1278.4 1282.9 1277.8 1283.3 1277.2 1283.6 1276.7 1284.0 1276.2 1284.4 1275.6 1284.8 1275.1 1285.2 1274.6 1285.6 1274.2 1286.0 1273.7 1286.5 1273.2 1286.9 1272.8 1287.3 1272.4 1287.8 1271.9 1288.2 1271.5 1288.6 1271.1 1289.1 1270.7 1289.5 1270.3 1290.0 1269.9 1290.5 1269.5 1291.0 1269.2 1291.5 1268.8 1292.0 1268.5 1292.5 1268.1 1293.0 1267.8 1293.5 1267.4 1294.0 1267.1 1294.6 1266.8 1295.1 1266.5 1295.7 1266.2 1296.3 1265.9 1296.8 1265.6 1297.4 1265.3 1298.1 1265.0 1298.7 1264.8 1299.3 1264.5 1300.0 1264.3 1300.7 1264.0 1301.4 1263.8 1302.1 1263.6 1302.8 1263.4 1303.5 1263.3 1304.3 1263.1 1305.0 1263.0 1305.8 1262.9 1306.6 1262.8 1307.4 1262.8 1308.2 1262.8 1309.1 1262.8 1309.9 1262.8 1310.7 1262.9 1311.6 1263.1 1312.4 1263.2 1313.2 1263.4 1314.1 1263.7 1314.9 1264.0 1315.7 1264.4 1316.4 1264.8 1317.2 1265.2 1317.9 1265.8 1318.5 1266.3 1319.2 1266.9 1319.7 1267.6 1320.3 1268.2 1320.8 1269.0 1321.2 1269.7 1321.6 1270.5 1321.9 1271.3 1322.2 1272.1 1322.4 1273.0 1322.5 1273.8 1322.6 1274.7 1322.7 1275.5 1322.7 1276.4 1322.7 1277.2 1322.7 1278.1 1322.6 1278.9 1322.4 1279.7 1322.3 1280.5 1322.1 1281.3 1321.9 1282.1 1321.6 1282.8Z" stroke="#ff1d00" stroke-width="2.2"/>
<path d="M1317.6 1285.0 1317.3 1285.6 1317.1 1286.2 1316.8 1286.8 1316.6 1287.4 1316.3 1287.9 1316.0 1288.4 1315.7 1288.9 1315.4 1289.4 1315.1 1289.9 1314.8 1290.4 1314.5 1290.8 1314.1 1291.3 1313.8 1291.7 1313.5 1292.2 1313.1 1292.6 1312.8 1293.0 1312.4 1293.4 1312.1 1293.7 1311.7 1294.1 1311.4 1294.5 1311.0 1294.9 1310.6 1295.2 1310.2 1295.6 1309.9 1295.9 1309.5 1296.2 1309.1 1296.5 1308.7 1296.9 1308.3 1297.2 1307.9 1297.5 1307.5 1297.8 1307.0 1298.1 1306.6 1298.4 1306.2 1298.6 1305.7 1298.9 1305.2 1299.2 1304.8 1299.5 1304.3 1299.7 1303.8 1300.0 1303.3 1300.2 1302.8 1300.4 1302.3 1300.7 1301.8 1300.9 1301.2 1301.1 1300.7 1301.3 1300.1 1301.5 1299.5 1301.7 1298.9 1301.9 1298.3 1302.0 1297.7 1302.2 1297.1 1302.3 1296.4 1302.4 1295.8 1302.5 1295.1 1302.5 1294.4 1302.6 1293.7 1302.6 1293.0 1302.6 1292.3 1302.5 1291.6 1302.5 1290.9 1302.3 1290.2 1302.2 1289.5 1302.0 1288.8 1301.8 1288.1 1301.5 1287.4 1301.2 1286.8 1300.9 1286.2 1300.5 1285.6 1300.1 1285.0 1299.6 1284.5 1299.1 1284.0 1298.5 1283.6 1298.0 1283.1 1297.4 1282.8 1296.7 1282.5 1296.1 1282.2 1295.4 1282.0 1294.7 1281.8 1294.0 1281.7 1293.3 1281.6 1292.5 1281.5 1291.8 1281.5 1291.1 1281.5 1290.4 1281.5 1289.7 1281.6 1289.0 1281.7 1288.3 1281.9 1287.6 1282.0 1286.9 1282.2 1286.3 1282.4 1285.7 1282.6 1285.0 1282.9 1284.4 1283.1 1283.9 1283.4 1283.3 1283.6 1282.7 1283.9 1282.2 1284.2 1281.7 1284.5 1281.1 1284.8 1280.6 1285.1 1280.2 1285.4 1279.7 1285.7 1279.2 1286.1 1278.8 1286.4 1278.4 1286.7 1277.9 1287.1 1277.5 1287.4 1277.1 1287.8 1276.7 1288.1 1276.3 1288.5 1276.0 1288.8 1275.6 1289.2 1275.2 1289.6 1274.9 1289.9 1274.5 1290.3 1274.2 1290.7 1273.9 1291.1 1273.5 1291.5 1273.2 1291.9 1272.9 1292.3 1272.6 1292.7 1272.3 1293.2 1272.0 1293.6 1271.7 1294.0 1271.4 1294.5 1271.2 1294.9 1270.9 1295.4 1270.6 1295.9 1270.4 1296.4 1270.1 1296.9 1269.9 1297.4 1269.6 1297.9 1269.4 1298.4 1269.2 1299.0 1269.0 1299.5 1268.8 1300.1 1268.6 1300.7 1268.4 1301.3 1268.2 1301.9 1268.1 1302.5 1267.9 1303.1 1267.8 1303.8 1267.7 1304.4 1267.6 1305.1 1267.6 1305.8 1267.5 1306.5 1267.5 1307.2 1267.5 1307.9 1267.6 1308.6 1267.6 1309.3 1267.7 1310.0 1267.9 1310.7 1268.1 1311.4 1268.3 1312.1 1268.5 1312.7 1268.9 1313.4 1269.2 1314.0 1269.6 1314.6 1270.0 1315.2 1270.5 1315.7 1271.0 1316.2 1271.5 1316.6 1272.1 1317.0 1272.7 1317.4 1273.4 1317.7 1274.0 1318.0 1274.7 1318.2 1275.4 1318.4 1276.1 1318.5 1276.8 1318.6 1277.5 1318.7 1278.3 1318.7 1279.0 1318.7 1279.7 1318.6 1280.4 1318.6 1281.1 1318.5 1281.8 1318.3 1282.5 1318.2 1283.1 1318.0 1283.8 1317.8 1284.4Z" stroke="#ff1900" stroke-width="2.2"/>
<path d="M1313.8 1286.5 1313.6 1287.0 1313.4 1287.5 1313.2 1287.9 1312.9 1288.4 1312.7 1288.8 1312.5 1289.3 1312.2 1289.7 1312.0 1290.1 1311.7 1290.5 1311.5 1290.9 1311.2 1291.2 1311.0 1291.6 1310.7 1292.0 1310.4 1292.3 1310.1 1292.6 1309.9 1293.0 1309.6 1293.3 1309.3 1293.6 1309.0 1293.9 1308.7 1294.2 1308.4 1294.5 1308.1 1294.8 1307.8 1295.1 1307.5 1295.4 1307.2 1295.6 1306.8 1295.9 1306.5 1296.1 1306.2 1296.4 1305.9 1296.6 1305.5 1296.9 1305.2 1297.1 1304.8 1297.4 1304.5 1297.6 1304.1 1297.8 1303.7 1298.0 1303.3 1298.3 1302.9 1298.5 1302.6 1298.7 1302.1 1298.9 1301.7 1299.1 1301.3 1299.3 1300.9 1299.4 1300.4 1299.6 1300.0 1299.8 1299.5 1299.9 1299.0 1300.1 1298.6 1300.2 1298.1 1300.3 1297.6 1300.5 1297.0 1300.6 1296.5 1300.6 1296.0 1300.7 1295.4 1300.8 1294.9 1300.8 1294.3 1300.8 1293.8 1300.8 1293.2 1300.8 1292.6 1300.7 1292.0 1300.6 1291.5 1300.5 1290.9 1300.3 1290.3 1300.2 1289.8 1300.0 1289.2 1299.7 1288.7 1299.4 1288.2 1299.1 1287.7 1298.8 1287.2 1298.4 1286.8 1298.0 1286.4 1297.5 1286.0 1297.0 1285.7 1296.5 1285.4 1296.0 1285.2 1295.5 1284.9 1294.9 1284.8 1294.4 1284.6 1293.8 1284.5 1293.2 1284.4 1292.6 1284.4 1292.0 1284.4 1291.4 1284.4 1290.9 1284.4 1290.3 1284.5 1289.7 1284.6 1289.2 1284.7 1288.6 1284.8 1288.1 1284.9 1287.5 1285.1 1287.0 1285.3 1286.5 1285.5 1286.0 1285.7 1285.5 1285.9 1285.1 1286.1 1284.6 1286.3 1284.2 1286.6 1283.8 1286.8 1283.3 1287.0 1282.9 1287.3 1282.5 1287.6 1282.2 1287.8 1281.8 1288.1 1281.4 1288.4 1281.1 1288.6 1280.7 1288.9 1280.4 1289.2 1280.1 1289.5 1279.7 1289.8 1279.4 1290.0 1279.1 1290.3 1278.8 1290.6 1278.5 1290.9 1278.2 1291.3 1278.0 1291.6 1277.7 1291.9 1277.4 1292.2 1277.1 1292.5 1276.9 1292.9 1276.6 1293.2 1276.4 1293.5 1276.1 1293.9 1275.9 1294.2 1275.7 1294.6 1275.4 1295.0 1275.2 1295.3 1275.0 1295.7 1274.8 1296.1 1274.6 1296.5 1274.4 1296.9 1274.2 1297.3 1274.0 1297.7 1273.8 1298.2 1273.6 1298.6 1273.4 1299.1 1273.3 1299.5 1273.1 1300.0 1273.0 1300.5 1272.8 1301.0 1272.7 1301.5 1272.6 1302.0 1272.5 1302.5 1272.4 1303.1 1272.3 1303.6 1272.3 1304.2 1272.2 1304.7 1272.2 1305.3 1272.2 1305.9 1272.3 1306.4 1272.3 1307.0 1272.4 1307.6 1272.5 1308.2 1272.7 1308.7 1272.9 1309.3 1273.1 1309.8 1273.3 1310.4 1273.6 1310.9 1273.9 1311.3 1274.3 1311.8 1274.7 1312.2 1275.1 1312.6 1275.5 1313.0 1276.0 1313.3 1276.5 1313.6 1277.0 1313.9 1277.5 1314.1 1278.1 1314.3 1278.7 1314.4 1279.2 1314.5 1279.8 1314.6 1280.4 1314.7 1281.0 1314.7 1281.6 1314.7 1282.2 1314.6 1282.7 1314.6 1283.3 1314.5 1283.9 1314.4 1284.4 1314.2 1285.0 1314.1 1285.5 1313.9 1286.0Z" stroke="#ff1400" stroke-width="2.2"/>
<path d="M1309.9 1288.0 1309.8 1288.4 1309.6 1288.7 1309.5 1289.1 1309.3 1289.4 1309.1 1289.8 1309.0 1290.1 1308.8 1290.4 1308.6 1290.8 1308.4 1291.1 1308.2 1291.4 1308.0 1291.6 1307.8 1291.9 1307.6 1292.2 1307.4 1292.5 1307.1 1292.7 1306.9 1293.0 1306.7 1293.2 1306.5 1293.5 1306.3 1293.7 1306.0 1293.9 1305.8 1294.2 1305.6 1294.4 1305.3 1294.6 1305.1 1294.8 1304.9 1295.0 1304.6 1295.2 1304.4 1295.4 1304.1 1295.6 1303.8 1295.8 1303.6 1296.0 1303.3 1296.2 1303.0 1296.4 1302.8 1296.6 1302.5 1296.7 1302.2 1296.9 1301.9 1297.1 1301.6 1297.2 1301.3 1297.4 1301.0 1297.5 1300.7 1297.7 1300.3 1297.8 1300.0 1298.0 1299.7 1298.1 1299.3 1298.2 1298.9 1298.4 1298.6 1298.5 1298.2 1298.6 1297.8 1298.7 1297.4 1298.8 1297.0 1298.8 1296.6 1298.9 1296.2 1299.0 1295.8 1299.0 1295.4 1299.0 1294.9 1299.0 1294.5 1299.0 1294.0 1299.0 1293.6 1298.9 1293.2 1298.9 1292.7 1298.8 1292.3 1298.7 1291.8 1298.5 1291.4 1298.4 1291.0 1298.2 1290.6 1298.0 1290.2 1297.7 1289.8 1297.4 1289.5 1297.2 1289.1 1296.8 1288.8 1296.5 1288.5 1296.1 1288.3 1295.7 1288.1 1295.3 1287.9 1294.9 1287.7 1294.5 1287.5 1294.1 1287.4 1293.6 1287.3 1293.2 1287.3 1292.7 1287.2 1292.3 1287.2 1291.8 1287.2 1291.3 1287.3 1290.9 1287.3 1290.5 1287.4 1290.0 1287.5 1289.6 1287.6 1289.2 1287.7 1288.8 1287.8 1288.4 1288.0 1288.0 1288.1 1287.6 1288.3 1287.2 1288.4 1286.9 1288.6 1286.5 1288.8 1286.2 1288.9 1285.9 1289.1 1285.5 1289.3 1285.2 1289.5 1284.9 1289.7 1284.6 1289.9 1284.3 1290.1 1284.1 1290.3 1283.8 1290.5 1283.5 1290.7 1283.3 1291.0 1283.0 1291.2 1282.8 1291.4 1282.5 1291.6 1282.3 1291.9 1282.0 1292.1 1281.8 1292.3 1281.6 1292.6 1281.4 1292.8 1281.2 1293.0 1281.0 1293.3 1280.8 1293.5 1280.6 1293.8 1280.4 1294.1 1280.2 1294.3 1280.0 1294.6 1279.8 1294.9 1279.6 1295.1 1279.4 1295.4 1279.3 1295.7 1279.1 1296.0 1278.9 1296.3 1278.8 1296.6 1278.6 1296.9 1278.4 1297.2 1278.3 1297.6 1278.2 1297.9 1278.0 1298.2 1277.9 1298.6 1277.8 1298.9 1277.6 1299.3 1277.5 1299.7 1277.4 1300.1 1277.3 1300.5 1277.2 1300.9 1277.1 1301.3 1277.1 1301.7 1277.0 1302.1 1277.0 1302.5 1277.0 1303.0 1277.0 1303.4 1277.0 1303.8 1277.0 1304.3 1277.0 1304.7 1277.1 1305.2 1277.2 1305.6 1277.3 1306.1 1277.4 1306.5 1277.6 1306.9 1277.8 1307.3 1278.0 1307.7 1278.3 1308.1 1278.5 1308.4 1278.8 1308.8 1279.2 1309.1 1279.5 1309.4 1279.9 1309.6 1280.2 1309.8 1280.6 1310.0 1281.1 1310.2 1281.5 1310.4 1281.9 1310.5 1282.4 1310.6 1282.8 1310.6 1283.3 1310.6 1283.7 1310.7 1284.2 1310.6 1284.6 1310.6 1285.1 1310.6 1285.5 1310.5 1286.0 1310.4 1286.4 1310.3 1286.8 1310.2 1287.2 1310.1 1287.6Z" stroke="#ff0f00" stroke-width="2.2"/>
</g>
<path d="M1317.8 1348.2 L1349.1 1300.2 L1374.2 1237.6 L1386.7 1154.0 L1393.0 1062.2 L1399.2 945.3 L1401.3 920.2 L1649.8 920.2 L1580.9 1350.3 Z" stroke="#0808ff" stroke-width="6" fill="none" stroke-linejoin="round"/>
<text transform="translate(1483.51,896.86) scale(0.9684,1)" font-family="'Liberation Sans', sans-serif" font-size="44.24" font-weight="bold" fill="#0808ff" >5.46%</text>
<path d="M1164.4 834.0 V1358.0 M1161.6000000000001 1355.2 H1711.6" stroke="#0a2160" stroke-width="5.8" fill="none"/>
<path d="M1145.4 1355.3 H1164.4 M1154.9 1322.9 H1164.4 M1154.9 1290.5 H1164.4 M1154.9 1258.1 H1164.4 M1145.4 1225.7 H1164.4 M1154.9 1193.2 H1164.4 M1154.9 1160.8 H1164.4 M1154.9 1128.4 H1164.4 M1145.4 1096.0 H1164.4 M1154.9 1063.6 H1164.4 M1154.9 1031.2 H1164.4 M1154.9 998.8 H1164.4 M1145.4 966.4 H1164.4 M1154.9 933.9 H1164.4 M1154.9 901.5 H1164.4 M1154.9 869.1 H1164.4 M1145.4 836.7 H1164.4" stroke="#0a2160" stroke-width="2.8" fill="none"/>
<path d="M1191.7 1357.2 v8 M1211.0 1357.2 v8 M1236.4 1357.2 v15 M1243.7 1357.2 v8 M1249.5 1357.2 v8 M1253.9 1357.2 v8 M1257.4 1357.2 v8 M1260.3 1357.2 v11 M1262.7 1357.2 v11 M1264.4 1357.2 v11 M1265.6 1357.2 v17 M1268.2 1357.2 v8 M1271.5 1357.2 v8 M1275.4 1357.2 v8 M1280.3 1357.2 v8 M1285.8 1357.2 v8 M1291.7 1357.2 v8 M1298.2 1357.2 v15 M1327.3 1357.2 v8 M1351.2 1357.2 v8 M1369.7 1357.2 v8 M1384.3 1357.2 v8 M1394.9 1357.2 v8 M1406.8 1357.2 v8 M1415.4 1357.2 v8 M1422.9 1357.2 v8 M1430.6 1357.2 v15 M1474.3 1357.2 v8 M1499.9 1357.2 v8 M1518.1 1357.2 v8 M1532.2 1357.2 v8 M1543.7 1357.2 v8 M1553.4 1357.2 v8 M1561.8 1357.2 v8 M1569.3 1357.2 v8 M1575.9 1357.2 v15 M1615.8 1357.2 v8 M1639.1 1357.2 v8 M1655.6 1357.2 v8 M1668.4 1357.2 v8 M1678.9 1357.2 v8 M1687.8 1357.2 v8 M1695.5 1357.2 v8 M1702.2 1357.2 v8 M1708.3 1357.2 v15" stroke="#0a2160" stroke-width="2.6" fill="none"/>
<text transform="translate(1007.52,1374.62) scale(1.0980,1)" font-family="'DejaVu Sans', sans-serif" font-size="32.21" fill="#22229c" >-5 x10</text>
<text transform="translate(1118.86,1353.80) scale(0.8911,1)" font-family="'DejaVu Sans', sans-serif" font-size="24.66" fill="#22229c" >4</text>
<text transform="translate(991.43,1245.22) scale(1.0565,1)" font-family="'DejaVu Sans', sans-serif" font-size="32.21" fill="#22229c" >2.1 x10</text>
<text transform="translate(1117.98,1224.04) scale(1.0249,1)" font-family="'DejaVu Sans', sans-serif" font-size="24.16" fill="#22229c" >5</text>
<text transform="translate(990.57,1115.82) scale(1.0637,1)" font-family="'DejaVu Sans', sans-serif" font-size="32.21" fill="#22229c" >4.8 x10</text>
<text transform="translate(1117.98,1094.64) scale(1.0249,1)" font-family="'DejaVu Sans', sans-serif" font-size="24.16" fill="#22229c" >5</text>
<text transform="translate(990.27,985.52) scale(1.0662,1)" font-family="'DejaVu Sans', sans-serif" font-size="32.21" fill="#22229c" >7.4 x10</text>
<text transform="translate(1117.98,964.34) scale(1.0249,1)" font-family="'DejaVu Sans', sans-serif" font-size="24.16" fill="#22229c" >5</text>
<text transform="translate(1024.07,856.02) scale(1.0809,1)" font-family="'DejaVu Sans', sans-serif" font-size="32.21" fill="#22229c" >1 x10</text>
<text transform="translate(1118.27,834.84) scale(0.9799,1)" font-family="'DejaVu Sans', sans-serif" font-size="23.76" fill="#22229c" >6</text>
<text transform="translate(1199.26,1425.62) scale(1.0767,1)" font-family="'DejaVu Sans', sans-serif" font-size="32.08" fill="#22229c" >-10</text>
<text transform="translate(1255.88,1404.30) scale(1.0799,1)" font-family="'DejaVu Sans', sans-serif" font-size="23.30" fill="#22229c" >2</text>
<text transform="translate(1399.94,1425.62) scale(1.0367,1)" font-family="'DejaVu Sans', sans-serif" font-size="32.08" fill="#22229c" >10</text>
<text transform="translate(1441.16,1403.96) scale(1.1344,1)" font-family="'DejaVu Sans', sans-serif" font-size="22.84" fill="#22229c" >3</text>
<text transform="translate(1545.24,1425.62) scale(1.0367,1)" font-family="'DejaVu Sans', sans-serif" font-size="32.08" fill="#22229c" >10</text>
<text transform="translate(1587.28,1404.30) scale(0.9905,1)" font-family="'DejaVu Sans', sans-serif" font-size="23.70" fill="#22229c" >4</text>
<text transform="translate(1677.64,1425.62) scale(1.0367,1)" font-family="'DejaVu Sans', sans-serif" font-size="32.08" fill="#22229c" >10</text>
<text transform="translate(1718.75,1403.95) scale(1.1392,1)" font-family="'DejaVu Sans', sans-serif" font-size="23.22" fill="#22229c" >5</text>
</g>
</svg></body></html>
